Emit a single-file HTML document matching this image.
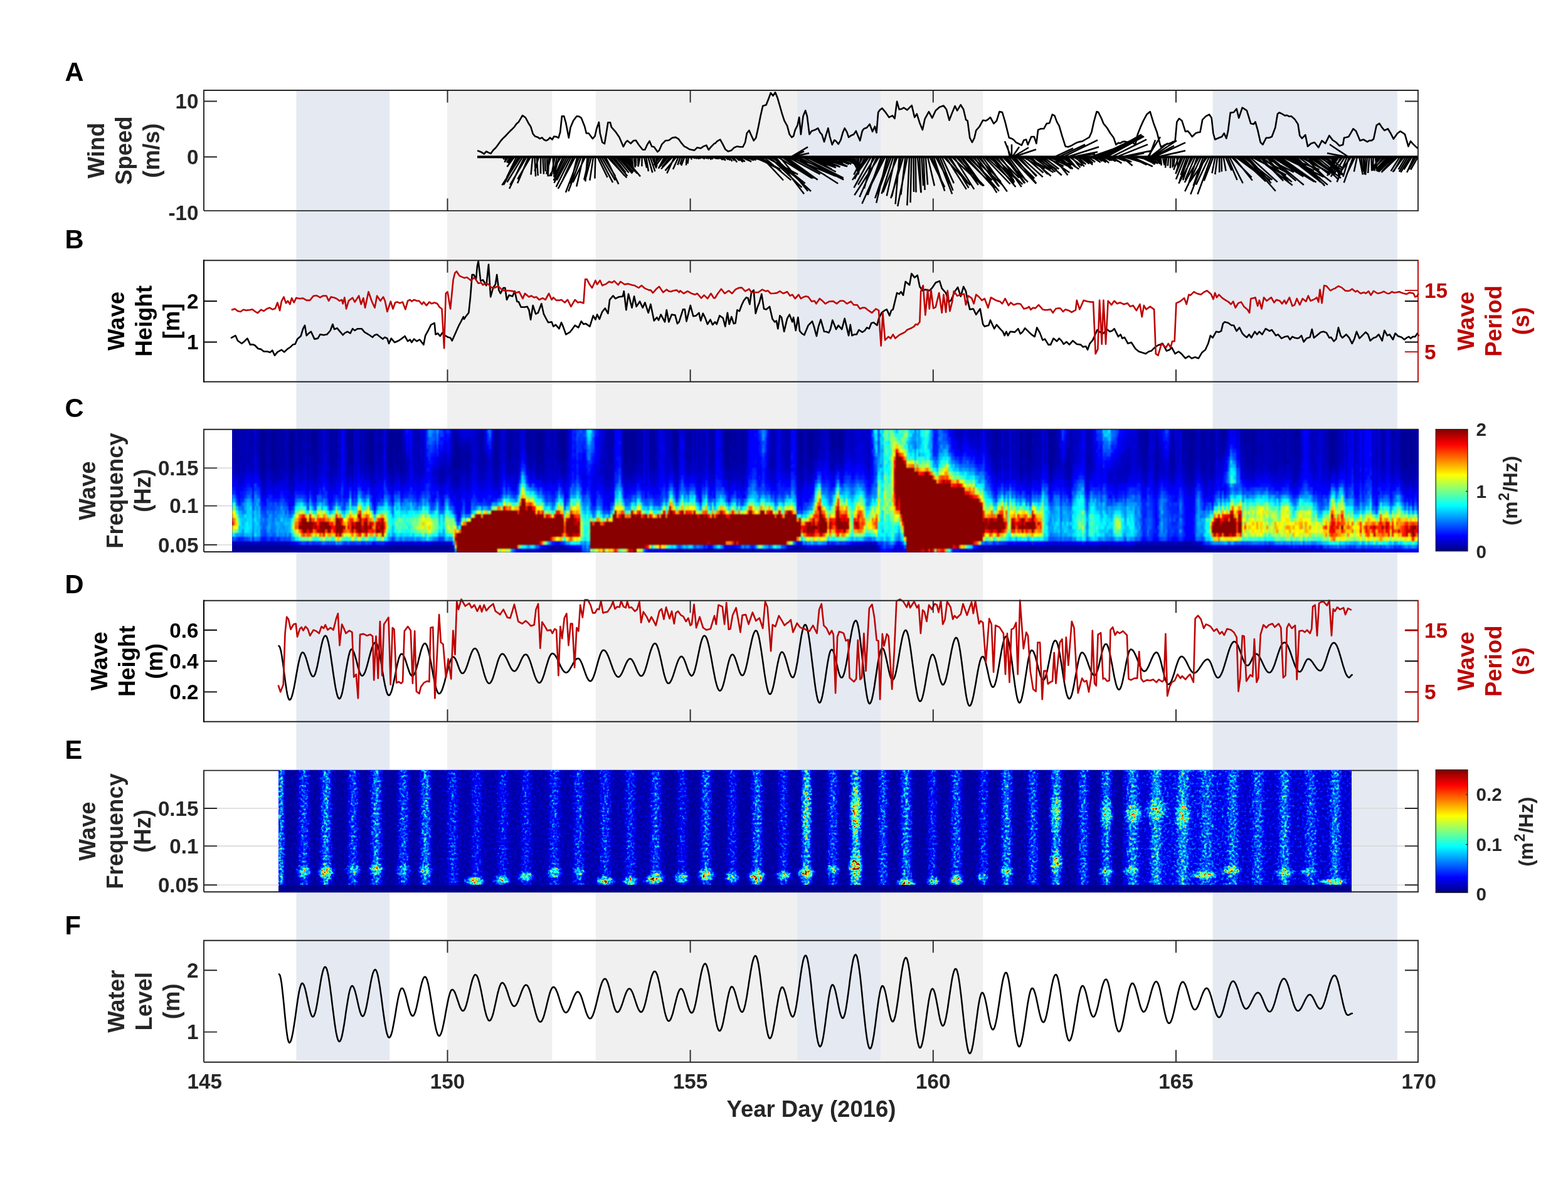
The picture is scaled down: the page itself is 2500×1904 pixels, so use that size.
<!DOCTYPE html><html><head><meta charset="utf-8"><title>Figure</title><style>
html,body{margin:0;padding:0;background:#fff}body{width:2500px;height:1904px;position:relative;overflow:hidden}
svg{position:absolute;left:0;top:0}
.hm{position:absolute;overflow:hidden;white-space:nowrap}.hm i{float:left;width:3px;height:100%;background:linear-gradient(var(--g))}.hm i:nth-child(22n+3),.hm i:nth-child(22n+7),.hm i:nth-child(22n+12),.hm i:nth-child(22n+16),.hm i:nth-child(22n+21){width:4px}
</style></head><body>
<svg width="2500" height="1904" viewBox="0 0 2500 1904">
<rect x="472.4" y="144" width="148.8" height="1546.8" fill="#e5e9f2"/>
<rect x="713.0" y="144" width="167.4" height="1546.8" fill="#f0f0f0"/>
<rect x="949.8" y="144" width="321.0" height="1546.8" fill="#f0f0f0"/>
<rect x="1270.8" y="144" width="133.2" height="1546.8" fill="#e5e9f2"/>
<rect x="1404.0" y="144" width="163.2" height="1546.8" fill="#f0f0f0"/>
<rect x="1933.5" y="144" width="294.3" height="1546.8" fill="#e5e9f2"/>
<g fill="none" stroke-width="1.9"><path d="M325.0 880.0V684.8H2260.9" stroke="#262626"/><path d="M325.0 880.0H2260.9" stroke="#262626"/><path d="M2260.9 683.8V881.0" stroke="#262626"/></g>
</svg>
<div class="hm" style="left:370px;top:685px;width:1892px;height:196px;background:#00009a"><div style="width:1900px;height:196px;filter:blur(.9px)"><i style="--g:#00a 0 12.2px,#00b 0 18.4px,#00a 0 24.5px,#00b 0 36.8px,#00a 0 42.9px,#00b 0 61.2px,#00c 0 73.5px,#00e 0 85.8px,#00f 0 91.9px,#02f 0 98px,#03f 0 104.1px,#08f 0 110.2px,#0af 0 116.4px,#1fe 0 122.5px,#5fa 0 128.6px,#ff0 0 134.8px,#fc0 0 140.9px,#f50 0 147px,#f10 0 153.1px,#fd0 0 159.2px,#bf4 0 165.4px,#1fe 0 171.5px,#05f 0 177.6px,#00b 0 183.8px,#009 0"></i><i style="--g:#00a 0 12.2px,#009 0 18.4px,#00a 0 55.1px,#00b 0 73.5px,#00d 0 79.6px,#00e 0 85.8px,#00f 0 91.9px,#01f 0 98px,#02f 0 104.1px,#06f 0 110.2px,#0af 0 116.4px,#3fc 0 122.5px,#7f8 0 128.6px,#ff0 0 140.9px,#f90 0 153.1px,#ff0 0 159.2px,#8f7 0 165.4px,#0cf 0 171.5px,#05f 0 177.6px,#00b 0 183.8px,#009 0"></i><i style="--g:#00a 0 55.1px,#00b 0 61.2px,#00a 0 67.4px,#00b 0 73.5px,#00c 0 79.6px,#00d 0 91.9px,#00e 0 98px,#00f 0 104.1px,#01f 0 110.2px,#03f 0 116.4px,#05f 0 122.5px,#0bf 0 128.6px,#0ff 0 134.8px,#8f7 0 140.9px,#cf3 0 147px,#fe0 0 153.1px,#ff0 0 159.2px,#6f9 0 165.4px,#09f 0 171.5px,#03f 0 177.6px,#00b 0 183.8px,#009 0"></i><i style="--g:#00a 0 73.5px,#00c 0 85.8px,#00d 0 91.9px,#00e 0 98px,#00f 0 116.4px,#01f 0 122.5px,#06f 0 128.6px,#0af 0 134.8px,#0cf 0 140.9px,#0ff 0 147px,#3fc 0 153.1px,#0cf 0 159.2px,#0df 0 165.4px,#0af 0 171.5px,#01f 0 177.6px,#00b 0 183.8px,#009 0"></i><i style="--g:#00a 0 6.1px,#00b 0 42.9px,#00a 0 49px,#00b 0 61.2px,#00c 0 85.8px,#00d 0 91.9px,#00e 0 98px,#01f 0 110.2px,#03f 0 116.4px,#04f 0 122.5px,#07f 0 128.6px,#0af 0 134.8px,#0bf 0 140.9px,#0cf 0 147px,#0df 0 159.2px,#0cf 0 165.4px,#08f 0 171.5px,#02f 0 177.6px,#00b 0 183.8px,#009 0"></i><i style="--g:#00a 0 49px,#00b 0 55.1px,#00a 0 61.2px,#00b 0 73.5px,#00c 0 85.8px,#00e 0 91.9px,#00f 0 98px,#01f 0 110.2px,#02f 0 116.4px,#07f 0 122.5px,#05f 0 128.6px,#07f 0 134.8px,#0af 0 140.9px,#0cf 0 147px,#0af 0 153.1px,#0cf 0 159.2px,#08f 0 171.5px,#02f 0 177.6px,#00b 0 183.8px,#009 0"></i><i style="--g:#00a 0 6.1px,#00b 0 67.4px,#00c 0 73.5px,#00d 0 79.6px,#00e 0 85.8px,#00f 0 91.9px,#01f 0 98px,#02f 0 104.1px,#03f 0 110.2px,#07f 0 116.4px,#09f 0 122.5px,#0af 0 128.6px,#08f 0 134.8px,#0ef 0 140.9px,#0bf 0 147px,#0df 0 159.2px,#0ef 0 165.4px,#0bf 0 171.5px,#04f 0 177.6px,#00b 0 183.8px,#009 0"></i><i style="--g:#00b 0 24.5px,#00c 0 30.6px,#00b 0 55.1px,#00c 0 67.4px,#00d 0 73.5px,#00e 0 79.6px,#00f 0 85.8px,#01f 0 91.9px,#02f 0 98px,#04f 0 104.1px,#06f 0 110.2px,#0af 0 116.4px,#0cf 0 128.6px,#0df 0 134.8px,#0cf 0 140.9px,#0df 0 147px,#0ff 0 159.2px,#0ef 0 165.4px,#0af 0 171.5px,#04f 0 177.6px,#00b 0 183.8px,#009 0"></i><i style="--g:#00a 0 55.1px,#00b 0 67.4px,#00d 0 73.5px,#00e 0 79.6px,#00f 0 85.8px,#01f 0 91.9px,#03f 0 98px,#04f 0 104.1px,#07f 0 110.2px,#0af 0 116.4px,#0bf 0 122.5px,#0cf 0 134.8px,#0df 0 147px,#0cf 0 153.1px,#0df 0 165.4px,#0bf 0 171.5px,#05f 0 177.6px,#00b 0 183.8px,#009 0"></i><i style="--g:#00a 0 6.1px,#00b 0 18.4px,#00a 0 30.6px,#00b 0 61.2px,#00c 0 67.4px,#00d 0 73.5px,#00e 0 85.8px,#00f 0 91.9px,#03f 0 98px,#05f 0 110.2px,#08f 0 116.4px,#0af 0 122.5px,#0ef 0 128.6px,#0cf 0 134.8px,#0df 0 147px,#0ef 0 159.2px,#0cf 0 165.4px,#0bf 0 171.5px,#08f 0 177.6px,#00c 0 183.8px,#009 0"></i><i style="--g:#00a 0 24.5px,#00b 0 30.6px,#00a 0 49px,#00b 0 67.4px,#00c 0 73.5px,#00d 0 85.8px,#00e 0 91.9px,#00f 0 110.2px,#02f 0 116.4px,#05f 0 122.5px,#04f 0 128.6px,#08f 0 134.8px,#07f 0 140.9px,#09f 0 147px,#08f 0 165.4px,#06f 0 171.5px,#02f 0 177.6px,#00b 0 183.8px,#009 0"></i><i style="--g:#00d 0 12.2px,#00c 0 36.8px,#00d 0 67.4px,#00e 0 73.5px,#00f 0 85.8px,#04f 0 91.9px,#03f 0 98px,#06f 0 104.1px,#08f 0 122.5px,#0af 0 128.6px,#0cf 0 140.9px,#0ef 0 147px,#0cf 0 165.4px,#0ef 0 171.5px,#07f 0 177.6px,#00d 0 183.8px,#009 0"></i><i style="--g:#00a 0 6.1px,#00b 0 12.2px,#00a 0 36.8px,#00b 0 61.2px,#00c 0 73.5px,#00e 0 79.6px,#00f 0 85.8px,#01f 0 91.9px,#03f 0 98px,#04f 0 104.1px,#06f 0 110.2px,#09f 0 116.4px,#0bf 0 122.5px,#08f 0 128.6px,#09f 0 134.8px,#0af 0 147px,#0df 0 153.1px,#0bf 0 159.2px,#0af 0 171.5px,#06f 0 177.6px,#00c 0 183.8px,#009 0"></i><i style="--g:#00a 0 42.9px,#00b 0 61.2px,#00c 0 73.5px,#00d 0 79.6px,#00f 0 91.9px,#02f 0 98px,#03f 0 104.1px,#05f 0 110.2px,#09f 0 116.4px,#06f 0 122.5px,#0bf 0 128.6px,#0cf 0 140.9px,#0bf 0 147px,#0af 0 153.1px,#0bf 0 159.2px,#0cf 0 165.4px,#0bf 0 171.5px,#06f 0 177.6px,#00b 0 183.8px,#009 0"></i><i style="--g:#009 0 67.4px,#00a 0 79.6px,#00b 0 85.8px,#00c 0 91.9px,#00e 0 104.1px,#00f 0 116.4px,#02f 0 122.5px,#03f 0 128.6px,#04f 0 134.8px,#07f 0 140.9px,#06f 0 153.1px,#08f 0 159.2px,#05f 0 171.5px,#01f 0 177.6px,#00b 0 183.8px,#009 0"></i><i style="--g:#009 0 67.4px,#00a 0 79.6px,#00b 0 91.9px,#00c 0 104.1px,#00d 0 110.2px,#00f 0 116.4px,#01f 0 122.5px,#02f 0 128.6px,#04f 0 134.8px,#05f 0 140.9px,#08f 0 147px,#06f 0 153.1px,#05f 0 165.4px,#04f 0 171.5px,#01f 0 177.6px,#00b 0 183.8px,#009 0"></i><i style="--g:#009 0 61.2px,#00a 0 79.6px,#00b 0 85.8px,#00c 0 98px,#00d 0 104.1px,#00e 0 110.2px,#00f 0 122.5px,#03f 0 134.8px,#04f 0 140.9px,#05f 0 153.1px,#06f 0 159.2px,#04f 0 165.4px,#03f 0 171.5px,#01f 0 177.6px,#00b 0 183.8px,#009 0"></i><i style="--g:#00a 0 18.4px,#00b 0 67.4px,#00c 0 79.6px,#00d 0 91.9px,#00e 0 98px,#00f 0 110.2px,#04f 0 128.6px,#08f 0 134.8px,#05f 0 140.9px,#08f 0 147px,#07f 0 153.1px,#09f 0 165.4px,#06f 0 171.5px,#03f 0 177.6px,#00b 0 183.8px,#009 0"></i><i style="--g:#00b 0 6.1px,#00a 0 42.9px,#00b 0 55.1px,#00a 0 61.2px,#00b 0 67.4px,#00c 0 79.6px,#00d 0 91.9px,#00e 0 98px,#00f 0 104.1px,#02f 0 116.4px,#04f 0 122.5px,#05f 0 128.6px,#06f 0 134.8px,#09f 0 147px,#0af 0 153.1px,#0bf 0 159.2px,#09f 0 165.4px,#07f 0 171.5px,#04f 0 177.6px,#00b 0 183.8px,#009 0"></i><i style="--g:#009 0 61.2px,#00a 0 73.5px,#00b 0 79.6px,#00c 0 85.8px,#00d 0 91.9px,#00e 0 98px,#00f 0 104.1px,#02f 0 116.4px,#05f 0 122.5px,#04f 0 128.6px,#07f 0 134.8px,#09f 0 140.9px,#08f 0 153.1px,#07f 0 159.2px,#06f 0 165.4px,#07f 0 171.5px,#01f 0 177.6px,#00b 0 183.8px,#009 0"></i><i style="--g:#009 0 67.4px,#00a 0 73.5px,#00b 0 85.8px,#00c 0 91.9px,#00d 0 104.1px,#00f 0 110.2px,#01f 0 116.4px,#03f 0 122.5px,#04f 0 128.6px,#05f 0 134.8px,#06f 0 147px,#07f 0 165.4px,#05f 0 171.5px,#02f 0 177.6px,#00b 0 183.8px,#009 0"></i><i style="--g:#009 0 61.2px,#00a 0 79.6px,#00b 0 85.8px,#00d 0 91.9px,#00e 0 98px,#00f 0 110.2px,#02f 0 116.4px,#06f 0 122.5px,#05f 0 128.6px,#08f 0 134.8px,#07f 0 140.9px,#0af 0 153.1px,#08f 0 165.4px,#06f 0 171.5px,#04f 0 177.6px,#00b 0 183.8px,#009 0"></i><i style="--g:#00a 0 67.4px,#00b 0 79.6px,#00c 0 85.8px,#00d 0 91.9px,#00e 0 98px,#00d 0 104.1px,#00f 0 110.2px,#01f 0 116.4px,#03f 0 122.5px,#06f 0 134.8px,#08f 0 147px,#0bf 0 153.1px,#0af 0 159.2px,#0bf 0 165.4px,#0af 0 171.5px,#02f 0 177.6px,#00b 0 183.8px,#009 0"></i><i style="--g:#009 0 6.1px,#00a 0 18.4px,#009 0 24.5px,#00a 0 30.6px,#009 0 42.9px,#00a 0 73.5px,#00b 0 79.6px,#00c 0 85.8px,#00d 0 91.9px,#00e 0 104.1px,#00f 0 110.2px,#02f 0 116.4px,#04f 0 122.5px,#05f 0 128.6px,#07f 0 134.8px,#09f 0 140.9px,#08f 0 147px,#0af 0 159.2px,#08f 0 165.4px,#07f 0 171.5px,#02f 0 177.6px,#00c 0 183.8px,#009 0"></i><i style="--g:#00a 0 12.2px,#009 0 18.4px,#00a 0 61.2px,#00b 0 79.6px,#00d 0 91.9px,#00f 0 98px,#01f 0 104.1px,#02f 0 110.2px,#04f 0 116.4px,#06f 0 122.5px,#09f 0 128.6px,#08f 0 134.8px,#0af 0 140.9px,#0df 0 147px,#09f 0 159.2px,#0af 0 165.4px,#08f 0 171.5px,#05f 0 177.6px,#00c 0 183.8px,#009 0"></i><i style="--g:#009 0 6.1px,#00a 0 18.4px,#009 0 24.5px,#00a 0 30.6px,#009 0 36.8px,#00a 0 42.9px,#009 0 49px,#00a 0 67.4px,#00b 0 79.6px,#00d 0 91.9px,#00e 0 98px,#00f 0 104.1px,#01f 0 110.2px,#04f 0 122.5px,#06f 0 128.6px,#0af 0 134.8px,#09f 0 147px,#0af 0 153.1px,#08f 0 159.2px,#09f 0 171.5px,#04f 0 177.6px,#00c 0 183.8px,#009 0"></i><i style="--g:#00b 0 73.5px,#00d 0 91.9px,#00e 0 98px,#00f 0 110.2px,#01f 0 116.4px,#04f 0 122.5px,#06f 0 128.6px,#04f 0 134.8px,#08f 0 140.9px,#0bf 0 147px,#0cf 0 153.1px,#0af 0 159.2px,#09f 0 165.4px,#06f 0 171.5px,#04f 0 177.6px,#00b 0 183.8px,#009 0"></i><i style="--g:#00b 0 24.5px,#00a 0 30.6px,#00b 0 36.8px,#00a 0 42.9px,#00b 0 67.4px,#00c 0 79.6px,#00d 0 91.9px,#00e 0 98px,#00f 0 110.2px,#01f 0 116.4px,#02f 0 122.5px,#05f 0 128.6px,#08f 0 134.8px,#09f 0 147px,#0bf 0 153.1px,#0af 0 171.5px,#05f 0 177.6px,#00c 0 183.8px,#009 0"></i><i style="--g:#009 0 61.2px,#00a 0 79.6px,#00b 0 91.9px,#00c 0 98px,#00d 0 110.2px,#00e 0 122.5px,#00f 0 128.6px,#03f 0 134.8px,#06f 0 140.9px,#0af 0 147px,#0bf 0 165.4px,#06f 0 171.5px,#04f 0 177.6px,#00d 0 183.8px,#009 0"></i><i style="--g:#009 0 67.4px,#00a 0 79.6px,#00b 0 91.9px,#00c 0 104.1px,#00e 0 116.4px,#00f 0 122.5px,#02f 0 128.6px,#05f 0 134.8px,#08f 0 140.9px,#0ff 0 147px,#4fb 0 153.1px,#6f9 0 159.2px,#2fd 0 165.4px,#0cf 0 171.5px,#09f 0 177.6px,#00d 0 183.8px,#009 0"></i><i style="--g:#009 0 67.4px,#00a 0 73.5px,#00b 0 91.9px,#00c 0 98px,#00d 0 104.1px,#00e 0 116.4px,#00f 0 122.5px,#04f 0 128.6px,#07f 0 134.8px,#0ff 0 140.9px,#7f8 0 147px,#af5 0 153.1px,#ff0 0 159.2px,#7f8 0 165.4px,#1fe 0 171.5px,#09f 0 177.6px,#00e 0 183.8px,#00a 0 189.9px,#009 0"></i><i style="--g:#00b 0 18.4px,#00a 0 24.5px,#00b 0 61.2px,#00c 0 73.5px,#00d 0 79.6px,#00e 0 91.9px,#00f 0 98px,#02f 0 104.1px,#03f 0 110.2px,#06f 0 116.4px,#09f 0 122.5px,#0ff 0 128.6px,#6f9 0 134.8px,#df2 0 140.9px,#fb0 0 147px,#f70 0 153.1px,#f40 0 159.2px,#fd0 0 165.4px,#af5 0 171.5px,#0ef 0 177.6px,#00f 0 183.8px,#00a 0 189.9px,#009 0"></i><i style="--g:#00a 0 55.1px,#00b 0 67.4px,#00c 0 79.6px,#00d 0 85.8px,#00e 0 91.9px,#00f 0 98px,#01f 0 104.1px,#04f 0 110.2px,#07f 0 116.4px,#0cf 0 122.5px,#0ff 0 128.6px,#6f9 0 134.8px,#ff0 0 140.9px,#fa0 0 147px,#f70 0 159.2px,#ff0 0 165.4px,#7f8 0 171.5px,#0ef 0 177.6px,#00f 0 183.8px,#00a 0 189.9px,#009 0"></i><i style="--g:#009 0 12.2px,#00a 0 18.4px,#009 0 24.5px,#00a 0 30.6px,#009 0 42.9px,#00a 0 55.1px,#00b 0 73.5px,#00c 0 85.8px,#00e 0 98px,#01f 0 104.1px,#03f 0 110.2px,#08f 0 116.4px,#0df 0 122.5px,#2fd 0 128.6px,#df2 0 134.8px,#f70 0 140.9px,#f30 0 147px,#d00 0 153.1px,#800 0 159.2px,#f70 0 165.4px,#df2 0 171.5px,#4fb 0 177.6px,#02f 0 183.8px,#00a 0 189.9px,#009 0"></i><i style="--g:#00a 0 61.2px,#00b 0 73.5px,#00c 0 79.6px,#00d 0 85.8px,#00e 0 91.9px,#00f 0 98px,#01f 0 104.1px,#04f 0 110.2px,#08f 0 116.4px,#0ff 0 122.5px,#4fb 0 128.6px,#cf3 0 134.8px,#f20 0 140.9px,#a00 0 147px,#800 0 159.2px,#f00 0 165.4px,#f60 0 171.5px,#6f9 0 177.6px,#04f 0 183.8px,#00a 0 189.9px,#009 0"></i><i style="--g:#00b 0 6.1px,#00a 0 18.4px,#00b 0 30.6px,#00a 0 42.9px,#00b 0 61.2px,#00c 0 79.6px,#00e 0 91.9px,#00f 0 98px,#01f 0 104.1px,#03f 0 110.2px,#05f 0 116.4px,#0af 0 122.5px,#3fc 0 128.6px,#cf3 0 134.8px,#f00 0 140.9px,#900 0 147px,#800 0 165.4px,#f30 0 171.5px,#7f8 0 177.6px,#04f 0 183.8px,#00b 0 189.9px,#009 0"></i><i style="--g:#00b 0 42.9px,#00c 0 49px,#00b 0 55.1px,#00c 0 67.4px,#00d 0 79.6px,#00e 0 91.9px,#00f 0 104.1px,#02f 0 110.2px,#04f 0 116.4px,#08f 0 122.5px,#0ff 0 128.6px,#3fc 0 134.8px,#f90 0 140.9px,#900 0 147px,#800 0 165.4px,#f80 0 171.5px,#7f8 0 177.6px,#03f 0 183.8px,#00a 0 189.9px,#009 0"></i><i style="--g:#009 0 24.5px,#00a 0 30.6px,#009 0 36.8px,#00a 0 73.5px,#00b 0 79.6px,#00c 0 98px,#00e 0 104.1px,#00f 0 116.4px,#04f 0 128.6px,#0ef 0 134.8px,#df2 0 140.9px,#fb0 0 147px,#800 0 159.2px,#f00 0 165.4px,#f40 0 171.5px,#6f9 0 177.6px,#02f 0 183.8px,#00a 0 189.9px,#009 0"></i><i style="--g:#00b 0 6.1px,#00a 0 24.5px,#00b 0 30.6px,#00a 0 42.9px,#00b 0 61.2px,#00c 0 79.6px,#00d 0 85.8px,#00f 0 98px,#02f 0 104.1px,#04f 0 110.2px,#09f 0 116.4px,#0bf 0 122.5px,#2fd 0 128.6px,#bf4 0 134.8px,#f10 0 140.9px,#800 0 165.4px,#f50 0 171.5px,#cf3 0 177.6px,#05f 0 183.8px,#00b 0 189.9px,#009 0"></i><i style="--g:#009 0 30.6px,#00a 0 36.8px,#009 0 42.9px,#00a 0 67.4px,#00b 0 79.6px,#00d 0 85.8px,#00c 0 91.9px,#00e 0 98px,#00f 0 104.1px,#01f 0 110.2px,#02f 0 116.4px,#06f 0 122.5px,#0cf 0 128.6px,#6f9 0 134.8px,#fe0 0 140.9px,#f40 0 147px,#800 0 159.2px,#c00 0 165.4px,#fb0 0 171.5px,#5fa 0 177.6px,#03f 0 183.8px,#00b 0 189.9px,#009 0"></i><i style="--g:#009 0 36.8px,#00a 0 73.5px,#00b 0 79.6px,#00c 0 85.8px,#00d 0 98px,#00e 0 104.1px,#00f 0 110.2px,#01f 0 116.4px,#03f 0 122.5px,#06f 0 128.6px,#0ef 0 134.8px,#cf3 0 140.9px,#f40 0 147px,#b00 0 153.1px,#d00 0 159.2px,#f80 0 165.4px,#ef1 0 171.5px,#2fd 0 177.6px,#02f 0 183.8px,#00a 0 189.9px,#009 0"></i><i style="--g:#009 0 55.1px,#00a 0 73.5px,#00b 0 85.8px,#00c 0 91.9px,#00d 0 104.1px,#00e 0 110.2px,#00f 0 116.4px,#03f 0 122.5px,#04f 0 128.6px,#0df 0 134.8px,#7f8 0 140.9px,#fd0 0 147px,#d00 0 153.1px,#800 0 159.2px,#f30 0 165.4px,#fa0 0 171.5px,#0ff 0 177.6px,#03f 0 183.8px,#00a 0 189.9px,#009 0"></i><i style="--g:#00a 0 55.1px,#00b 0 73.5px,#00c 0 79.6px,#00d 0 91.9px,#00f 0 104.1px,#05f 0 110.2px,#06f 0 116.4px,#09f 0 122.5px,#2fd 0 128.6px,#cf3 0 134.8px,#f90 0 140.9px,#f30 0 153.1px,#f00 0 159.2px,#b00 0 165.4px,#fe0 0 171.5px,#2fd 0 177.6px,#03f 0 183.8px,#00a 0 189.9px,#009 0"></i><i style="--g:#00b 0 61.2px,#00c 0 73.5px,#00e 0 79.6px,#00d 0 85.8px,#00f 0 91.9px,#01f 0 98px,#03f 0 104.1px,#06f 0 116.4px,#0df 0 122.5px,#5fa 0 128.6px,#df2 0 134.8px,#fd0 0 140.9px,#f10 0 147px,#a00 0 153.1px,#900 0 159.2px,#b00 0 165.4px,#f40 0 171.5px,#8f7 0 177.6px,#03f 0 183.8px,#00b 0 189.9px,#009 0"></i><i style="--g:#00b 0 18.4px,#00a 0 24.5px,#00b 0 55.1px,#00c 0 73.5px,#00d 0 79.6px,#00e 0 91.9px,#00f 0 104.1px,#03f 0 110.2px,#04f 0 116.4px,#09f 0 122.5px,#0bf 0 128.6px,#9f6 0 134.8px,#cf3 0 140.9px,#f20 0 147px,#800 0 159.2px,#900 0 165.4px,#fa0 0 171.5px,#7f8 0 177.6px,#06f 0 183.8px,#00c 0 189.9px,#009 0"></i><i style="--g:#00d 0 30.6px,#00c 0 36.8px,#00d 0 55.1px,#00e 0 73.5px,#00f 0 85.8px,#01f 0 91.9px,#04f 0 98px,#02f 0 104.1px,#03f 0 110.2px,#08f 0 116.4px,#0af 0 122.5px,#0ff 0 128.6px,#ff0 0 134.8px,#f70 0 140.9px,#f10 0 147px,#800 0 165.4px,#e00 0 171.5px,#ef1 0 177.6px,#07f 0 183.8px,#00c 0 189.9px,#009 0"></i><i style="--g:#00b 0 36.8px,#00c 0 73.5px,#00d 0 79.6px,#00e 0 85.8px,#00f 0 98px,#03f 0 110.2px,#06f 0 116.4px,#07f 0 122.5px,#0ff 0 128.6px,#5fa 0 134.8px,#fb0 0 140.9px,#f70 0 147px,#800 0 159.2px,#f40 0 165.4px,#fe0 0 171.5px,#4fb 0 177.6px,#05f 0 183.8px,#00b 0 189.9px,#009 0"></i><i style="--g:#00b 0 55.1px,#00c 0 79.6px,#00d 0 85.8px,#00e 0 91.9px,#00f 0 110.2px,#01f 0 116.4px,#03f 0 122.5px,#07f 0 128.6px,#0ff 0 134.8px,#7f8 0 140.9px,#f60 0 147px,#a00 0 153.1px,#800 0 165.4px,#f90 0 171.5px,#6f9 0 177.6px,#04f 0 183.8px,#00c 0 189.9px,#009 0"></i><i style="--g:#00a 0 61.2px,#00b 0 67.4px,#00a 0 73.5px,#00b 0 79.6px,#00c 0 91.9px,#00d 0 104.1px,#00f 0 122.5px,#02f 0 128.6px,#09f 0 134.8px,#6f9 0 140.9px,#fa0 0 147px,#f30 0 153.1px,#800 0 159.2px,#b00 0 165.4px,#f80 0 171.5px,#8f7 0 177.6px,#05f 0 183.8px,#00c 0 189.9px,#009 0"></i><i style="--g:#009 0 18.4px,#00a 0 24.5px,#009 0 55.1px,#00a 0 73.5px,#00b 0 85.8px,#00c 0 91.9px,#00d 0 98px,#00e 0 104.1px,#00f 0 116.4px,#03f 0 122.5px,#04f 0 128.6px,#0df 0 134.8px,#cf3 0 140.9px,#fe0 0 147px,#f00 0 159.2px,#f70 0 165.4px,#fc0 0 171.5px,#0ff 0 177.6px,#04f 0 183.8px,#00b 0 189.9px,#009 0"></i><i style="--g:#00a 0 61.2px,#00b 0 73.5px,#00c 0 85.8px,#00d 0 98px,#00f 0 104.1px,#01f 0 110.2px,#02f 0 116.4px,#04f 0 122.5px,#0af 0 128.6px,#2fd 0 134.8px,#9f6 0 140.9px,#fa0 0 147px,#f80 0 153.1px,#f00 0 165.4px,#fc0 0 171.5px,#4fb 0 177.6px,#04f 0 183.8px,#00b 0 189.9px,#009 0"></i><i style="--g:#009 0 42.9px,#00a 0 67.4px,#00b 0 73.5px,#00c 0 85.8px,#00e 0 98px,#00f 0 104.1px,#03f 0 110.2px,#06f 0 116.4px,#0bf 0 122.5px,#6f9 0 128.6px,#fd0 0 134.8px,#f10 0 140.9px,#800 0 165.4px,#b00 0 171.5px,#ef1 0 177.6px,#0af 0 183.8px,#00c 0 189.9px,#009 0"></i><i style="--g:#00c 0 6.1px,#00b 0 12.2px,#00c 0 24.5px,#00b 0 30.6px,#00c 0 36.8px,#00b 0 42.9px,#00c 0 55.1px,#00b 0 61.2px,#00d 0 67.4px,#00c 0 73.5px,#00d 0 79.6px,#00e 0 91.9px,#00f 0 104.1px,#01f 0 110.2px,#03f 0 116.4px,#06f 0 122.5px,#0cf 0 128.6px,#7f8 0 134.8px,#fc0 0 140.9px,#800 0 165.4px,#f40 0 171.5px,#fb0 0 177.6px,#07f 0 183.8px,#00d 0 189.9px,#009 0"></i><i style="--g:#00b 0 18.4px,#00c 0 24.5px,#00b 0 30.6px,#00c 0 36.8px,#00b 0 49px,#00c 0 67.4px,#00d 0 85.8px,#00e 0 91.9px,#00f 0 98px,#01f 0 110.2px,#02f 0 116.4px,#05f 0 122.5px,#0bf 0 128.6px,#5fa 0 134.8px,#f80 0 140.9px,#c00 0 147px,#800 0 171.5px,#cf3 0 177.6px,#09f 0 183.8px,#00c 0 189.9px,#009 0"></i><i style="--g:#00f 0 18.4px,#00e 0 24.5px,#00f 0 79.6px,#01f 0 85.8px,#02f 0 91.9px,#04f 0 104.1px,#03f 0 110.2px,#04f 0 116.4px,#07f 0 122.5px,#05f 0 128.6px,#0cf 0 134.8px,#6f9 0 140.9px,#f00 0 147px,#f20 0 153.1px,#800 0 165.4px,#f70 0 171.5px,#5fa 0 177.6px,#06f 0 183.8px,#00b 0 189.9px,#009 0"></i><i style="--g:#00d 0 49px,#00e 0 55.1px,#00d 0 61.2px,#00e 0 67.4px,#00d 0 73.5px,#00e 0 79.6px,#00f 0 110.2px,#02f 0 122.5px,#04f 0 128.6px,#0af 0 134.8px,#0ef 0 140.9px,#ff0 0 147px,#fa0 0 153.1px,#b00 0 159.2px,#f40 0 165.4px,#ef1 0 171.5px,#4fb 0 177.6px,#03f 0 183.8px,#00b 0 189.9px,#009 0"></i><i style="--g:#00b 0 12.2px,#00a 0 24.5px,#00b 0 49px,#00a 0 55.1px,#00b 0 73.5px,#00c 0 79.6px,#00d 0 85.8px,#00e 0 91.9px,#00f 0 104.1px,#01f 0 110.2px,#02f 0 116.4px,#07f 0 122.5px,#0af 0 128.6px,#1fe 0 134.8px,#af5 0 140.9px,#ff0 0 147px,#fc0 0 153.1px,#fb0 0 159.2px,#f70 0 165.4px,#bf4 0 171.5px,#1fe 0 177.6px,#03f 0 183.8px,#00b 0 189.9px,#009 0"></i><i style="--g:#009 0 55.1px,#00a 0 73.5px,#00b 0 85.8px,#00d 0 91.9px,#00e 0 98px,#00f 0 110.2px,#04f 0 116.4px,#07f 0 122.5px,#0bf 0 128.6px,#2fd 0 134.8px,#cf3 0 140.9px,#f80 0 147px,#f30 0 153.1px,#d00 0 159.2px,#f80 0 165.4px,#ff0 0 171.5px,#4fb 0 177.6px,#06f 0 183.8px,#00b 0 189.9px,#009 0"></i><i style="--g:#009 0 55.1px,#00a 0 67.4px,#00b 0 73.5px,#00d 0 79.6px,#00e 0 85.8px,#00f 0 91.9px,#02f 0 98px,#06f 0 104.1px,#09f 0 110.2px,#0ff 0 116.4px,#3fc 0 128.6px,#ff0 0 134.8px,#f90 0 140.9px,#f20 0 147px,#f30 0 153.1px,#f40 0 159.2px,#f30 0 165.4px,#fe0 0 171.5px,#3fc 0 177.6px,#03f 0 183.8px,#00a 0 189.9px,#009 0"></i><i style="--g:#009 0 55.1px,#00a 0 73.5px,#00b 0 79.6px,#00c 0 85.8px,#00d 0 91.9px,#00e 0 98px,#00f 0 110.2px,#02f 0 116.4px,#05f 0 122.5px,#0cf 0 128.6px,#7f8 0 134.8px,#fd0 0 140.9px,#f20 0 147px,#b00 0 153.1px,#800 0 159.2px,#b00 0 165.4px,#f70 0 171.5px,#df2 0 177.6px,#03f 0 183.8px,#00b 0 189.9px,#009 0"></i><i style="--g:#00c 0 36.8px,#00b 0 42.9px,#00d 0 49px,#00c 0 61.2px,#00d 0 73.5px,#00e 0 79.6px,#00f 0 98px,#02f 0 104.1px,#03f 0 110.2px,#05f 0 116.4px,#06f 0 122.5px,#0ef 0 128.6px,#2fd 0 134.8px,#df2 0 140.9px,#fd0 0 147px,#f00 0 153.1px,#c00 0 159.2px,#f50 0 165.4px,#ff0 0 171.5px,#7f8 0 177.6px,#03f 0 183.8px,#00a 0 189.9px,#009 0"></i><i style="--g:#00b 0 42.9px,#00c 0 49px,#00b 0 55.1px,#00c 0 73.5px,#00d 0 85.8px,#00e 0 91.9px,#00f 0 104.1px,#01f 0 110.2px,#03f 0 116.4px,#06f 0 122.5px,#0df 0 128.6px,#6f9 0 134.8px,#ff0 0 140.9px,#f90 0 147px,#800 0 159.2px,#c00 0 165.4px,#f80 0 171.5px,#3fc 0 177.6px,#04f 0 183.8px,#00a 0 189.9px,#009 0"></i><i style="--g:#00c 0 55.1px,#00d 0 67.4px,#00e 0 73.5px,#00f 0 85.8px,#01f 0 91.9px,#04f 0 98px,#07f 0 104.1px,#0bf 0 110.2px,#0df 0 116.4px,#6f9 0 122.5px,#ef1 0 128.6px,#f70 0 134.8px,#900 0 140.9px,#f40 0 147px,#800 0 165.4px,#f40 0 171.5px,#df2 0 177.6px,#04f 0 183.8px,#00b 0 189.9px,#009 0"></i><i style="--g:#00a 0 49px,#00b 0 67.4px,#00c 0 73.5px,#00d 0 79.6px,#00f 0 91.9px,#03f 0 98px,#07f 0 104.1px,#09f 0 110.2px,#1fe 0 116.4px,#7f8 0 122.5px,#fd0 0 128.6px,#f10 0 134.8px,#b00 0 140.9px,#800 0 165.4px,#f00 0 171.5px,#bf4 0 177.6px,#05f 0 183.8px,#00b 0 189.9px,#009 0"></i><i style="--g:#00b 0 24.5px,#00a 0 36.8px,#00b 0 61.2px,#00c 0 73.5px,#00e 0 85.8px,#00f 0 98px,#03f 0 104.1px,#04f 0 110.2px,#09f 0 116.4px,#0ff 0 122.5px,#3fc 0 128.6px,#9f6 0 134.8px,#fc0 0 140.9px,#f30 0 153.1px,#d00 0 159.2px,#a00 0 165.4px,#fe0 0 171.5px,#3fc 0 177.6px,#02f 0 183.8px,#00a 0 189.9px,#009 0"></i><i style="--g:#00a 0 61.2px,#00b 0 73.5px,#00c 0 79.6px,#00d 0 85.8px,#00e 0 91.9px,#00f 0 98px,#01f 0 104.1px,#03f 0 110.2px,#06f 0 116.4px,#0af 0 122.5px,#1fe 0 128.6px,#ef1 0 134.8px,#fa0 0 140.9px,#f00 0 147px,#800 0 159.2px,#b00 0 165.4px,#f70 0 171.5px,#4fb 0 177.6px,#03f 0 183.8px,#00b 0 189.9px,#009 0"></i><i style="--g:#00a 0 55.1px,#00b 0 67.4px,#00c 0 79.6px,#00e 0 85.8px,#00f 0 98px,#01f 0 104.1px,#06f 0 110.2px,#0af 0 116.4px,#0ff 0 122.5px,#5fa 0 128.6px,#fd0 0 134.8px,#f40 0 140.9px,#a00 0 147px,#800 0 165.4px,#f00 0 171.5px,#9f6 0 177.6px,#05f 0 183.8px,#00b 0 189.9px,#009 0"></i><i style="--g:#009 0 55.1px,#00a 0 67.4px,#00b 0 73.5px,#00c 0 79.6px,#00e 0 85.8px,#00f 0 91.9px,#02f 0 98px,#04f 0 104.1px,#08f 0 110.2px,#0ef 0 116.4px,#2fd 0 122.5px,#ef1 0 128.6px,#ff0 0 134.8px,#f70 0 140.9px,#f60 0 147px,#f40 0 153.1px,#c00 0 159.2px,#f10 0 165.4px,#cf3 0 171.5px,#4fb 0 177.6px,#03f 0 183.8px,#00a 0 189.9px,#009 0"></i><i style="--g:#009 0 55.1px,#00a 0 67.4px,#00b 0 79.6px,#00c 0 85.8px,#00d 0 91.9px,#00f 0 104.1px,#03f 0 116.4px,#08f 0 122.5px,#0af 0 128.6px,#bf4 0 134.8px,#ef1 0 140.9px,#f80 0 147px,#b00 0 153.1px,#800 0 159.2px,#f20 0 165.4px,#f90 0 171.5px,#1fe 0 177.6px,#04f 0 183.8px,#00a 0 189.9px,#009 0"></i><i style="--g:#009 0 61.2px,#00a 0 73.5px,#00b 0 85.8px,#00c 0 91.9px,#00d 0 104.1px,#00f 0 116.4px,#01f 0 122.5px,#04f 0 128.6px,#0df 0 134.8px,#8f7 0 140.9px,#fc0 0 147px,#f00 0 153.1px,#f60 0 159.2px,#f00 0 165.4px,#fa0 0 171.5px,#0ff 0 177.6px,#00f 0 183.8px,#00a 0 189.9px,#009 0"></i><i style="--g:#00a 0 6.1px,#00b 0 12.2px,#00a 0 30.6px,#00b 0 36.8px,#00a 0 67.4px,#00b 0 73.5px,#00c 0 79.6px,#00b 0 85.8px,#00d 0 98px,#00e 0 116.4px,#00f 0 128.6px,#02f 0 134.8px,#0bf 0 140.9px,#4fb 0 147px,#f90 0 159.2px,#f40 0 165.4px,#8f7 0 171.5px,#0cf 0 177.6px,#00f 0 183.8px,#00a 0 189.9px,#009 0"></i><i style="--g:#00b 0 12.2px,#00c 0 18.4px,#00b 0 42.9px,#00c 0 49px,#00b 0 55.1px,#00c 0 61.2px,#00d 0 85.8px,#00e 0 91.9px,#00f 0 110.2px,#01f 0 116.4px,#02f 0 122.5px,#06f 0 128.6px,#0cf 0 134.8px,#8f7 0 140.9px,#fa0 0 147px,#c00 0 153.1px,#800 0 165.4px,#f50 0 171.5px,#4fb 0 177.6px,#02f 0 183.8px,#00a 0 189.9px,#009 0"></i><i style="--g:#00a 0 49px,#00b 0 73.5px,#00c 0 79.6px,#00d 0 85.8px,#00e 0 91.9px,#00f 0 104.1px,#01f 0 116.4px,#06f 0 122.5px,#0cf 0 128.6px,#1fe 0 134.8px,#df2 0 140.9px,#f20 0 147px,#a00 0 153.1px,#e00 0 159.2px,#800 0 165.4px,#fd0 0 171.5px,#7f8 0 177.6px,#02f 0 183.8px,#00a 0 189.9px,#009 0"></i><i style="--g:#00a 0 6.1px,#00b 0 18.4px,#00a 0 30.6px,#00b 0 36.8px,#00a 0 42.9px,#00b 0 67.4px,#00c 0 79.6px,#00e 0 91.9px,#00f 0 98px,#01f 0 110.2px,#04f 0 116.4px,#05f 0 122.5px,#0df 0 128.6px,#2fd 0 134.8px,#fa0 0 140.9px,#f00 0 147px,#d00 0 153.1px,#800 0 159.2px,#d00 0 165.4px,#fa0 0 171.5px,#4fb 0 177.6px,#02f 0 183.8px,#00a 0 189.9px,#009 0"></i><i style="--g:#00a 0 6.1px,#00b 0 24.5px,#00a 0 30.6px,#00b 0 67.4px,#00c 0 73.5px,#00d 0 85.8px,#00f 0 110.2px,#03f 0 116.4px,#06f 0 122.5px,#0df 0 128.6px,#5fa 0 134.8px,#f90 0 140.9px,#900 0 147px,#800 0 171.5px,#df2 0 177.6px,#03f 0 183.8px,#00a 0 189.9px,#009 0"></i><i style="--g:#00e 0 36.8px,#00f 0 49px,#00d 0 55.1px,#00f 0 67.4px,#00e 0 73.5px,#00f 0 79.6px,#02f 0 85.8px,#03f 0 91.9px,#04f 0 98px,#03f 0 104.1px,#07f 0 110.2px,#09f 0 116.4px,#0cf 0 122.5px,#1fe 0 128.6px,#5fa 0 134.8px,#cf3 0 140.9px,#fb0 0 147px,#f30 0 153.1px,#f10 0 159.2px,#f60 0 165.4px,#ef1 0 171.5px,#0ff 0 177.6px,#01f 0 183.8px,#00a 0 189.9px,#009 0"></i><i style="--g:#00b 0 6.1px,#00a 0 12.2px,#00b 0 24.5px,#00a 0 42.9px,#00b 0 67.4px,#00c 0 73.5px,#00d 0 79.6px,#00e 0 85.8px,#00f 0 91.9px,#02f 0 98px,#04f 0 104.1px,#06f 0 110.2px,#09f 0 116.4px,#0ef 0 122.5px,#0ff 0 128.6px,#6f9 0 134.8px,#8f7 0 140.9px,#cf3 0 147px,#fc0 0 153.1px,#fd0 0 159.2px,#bf4 0 165.4px,#7f8 0 171.5px,#0ff 0 177.6px,#00f 0 183.8px,#00a 0 189.9px,#009 0"></i><i style="--g:#009 0 61.2px,#00a 0 73.5px,#00c 0 85.8px,#00e 0 98px,#01f 0 104.1px,#04f 0 110.2px,#05f 0 116.4px,#06f 0 122.5px,#0cf 0 128.6px,#0ff 0 134.8px,#1fe 0 140.9px,#2fd 0 147px,#3fc 0 153.1px,#5fa 0 159.2px,#1fe 0 165.4px,#0cf 0 171.5px,#08f 0 177.6px,#00d 0 183.8px,#009 0"></i><i style="--g:#009 0 61.2px,#00a 0 73.5px,#00b 0 85.8px,#00c 0 91.9px,#00e 0 98px,#00f 0 104.1px,#01f 0 110.2px,#02f 0 116.4px,#05f 0 122.5px,#09f 0 128.6px,#0bf 0 134.8px,#1fe 0 140.9px,#0ff 0 147px,#2fd 0 153.1px,#1fe 0 159.2px,#0ef 0 171.5px,#06f 0 177.6px,#00d 0 183.8px,#009 0"></i><i style="--g:#009 0 12.2px,#008 0 18.4px,#009 0 67.4px,#00a 0 79.6px,#00b 0 85.8px,#00c 0 98px,#00d 0 104.1px,#00f 0 116.4px,#01f 0 122.5px,#05f 0 134.8px,#09f 0 140.9px,#0ef 0 153.1px,#0bf 0 165.4px,#08f 0 171.5px,#03f 0 177.6px,#00c 0 183.8px,#00a 0 189.9px,#009 0"></i><i style="--g:#009 0 30.6px,#00a 0 36.8px,#009 0 42.9px,#00a 0 61.2px,#00b 0 73.5px,#00c 0 79.6px,#00d 0 85.8px,#00e 0 91.9px,#00f 0 98px,#02f 0 104.1px,#06f 0 116.4px,#0af 0 122.5px,#0ff 0 134.8px,#0ef 0 140.9px,#1fe 0 147px,#3fc 0 153.1px,#0ff 0 159.2px,#1fe 0 165.4px,#0af 0 171.5px,#06f 0 177.6px,#00d 0 183.8px,#009 0"></i><i style="--g:#009 0 55.1px,#00a 0 67.4px,#00b 0 73.5px,#00c 0 79.6px,#00d 0 85.8px,#00e 0 91.9px,#00f 0 98px,#02f 0 104.1px,#05f 0 110.2px,#07f 0 116.4px,#0bf 0 122.5px,#0af 0 128.6px,#1fe 0 140.9px,#3fc 0 147px,#7f8 0 153.1px,#5fa 0 159.2px,#1fe 0 165.4px,#0ef 0 171.5px,#0af 0 177.6px,#00d 0 183.8px,#009 0"></i><i style="--g:#009 0 36.8px,#00a 0 49px,#009 0 55.1px,#00a 0 67.4px,#00b 0 73.5px,#00c 0 79.6px,#00d 0 85.8px,#00f 0 98px,#04f 0 104.1px,#06f 0 110.2px,#09f 0 116.4px,#0df 0 122.5px,#0ef 0 128.6px,#1fe 0 134.8px,#2fd 0 140.9px,#9f6 0 147px,#3fc 0 153.1px,#5fa 0 165.4px,#0ef 0 171.5px,#08f 0 177.6px,#00d 0 183.8px,#009 0"></i><i style="--g:#009 0 67.4px,#00a 0 73.5px,#00b 0 85.8px,#00c 0 91.9px,#00e 0 98px,#00f 0 110.2px,#02f 0 116.4px,#04f 0 122.5px,#09f 0 128.6px,#0df 0 134.8px,#0ef 0 140.9px,#5fa 0 159.2px,#2fd 0 165.4px,#0cf 0 171.5px,#06f 0 177.6px,#00d 0 183.8px,#009 0"></i><i style="--g:#00b 0 30.6px,#00a 0 49px,#009 0 55.1px,#00a 0 73.5px,#00b 0 79.6px,#00c 0 91.9px,#00e 0 98px,#00f 0 104.1px,#01f 0 110.2px,#03f 0 116.4px,#08f 0 122.5px,#09f 0 128.6px,#0df 0 134.8px,#2fd 0 140.9px,#5fa 0 147px,#4fb 0 153.1px,#2fd 0 159.2px,#1fe 0 165.4px,#0df 0 171.5px,#0af 0 177.6px,#00d 0 183.8px,#009 0"></i><i style="--g:#00d 0 12.2px,#00c 0 18.4px,#00b 0 24.5px,#00a 0 30.6px,#00b 0 36.8px,#00a 0 73.5px,#00b 0 79.6px,#00c 0 85.8px,#00d 0 91.9px,#00f 0 98px,#01f 0 104.1px,#02f 0 110.2px,#07f 0 122.5px,#0bf 0 128.6px,#0df 0 134.8px,#2fd 0 140.9px,#1fe 0 147px,#4fb 0 153.1px,#5fa 0 159.2px,#1fe 0 165.4px,#0ef 0 171.5px,#08f 0 177.6px,#00c 0 183.8px,#009 0"></i><i style="--g:#01f 0 6.1px,#00f 0 24.5px,#00e 0 36.8px,#00d 0 42.9px,#00c 0 49px,#00b 0 67.4px,#00c 0 79.6px,#00d 0 85.8px,#00e 0 91.9px,#00f 0 98px,#01f 0 104.1px,#02f 0 110.2px,#07f 0 116.4px,#09f 0 128.6px,#0cf 0 134.8px,#0ff 0 140.9px,#5fa 0 147px,#1fe 0 153.1px,#5fa 0 159.2px,#0ff 0 165.4px,#0df 0 171.5px,#07f 0 177.6px,#00d 0 183.8px,#00a 0 189.9px,#009 0"></i><i style="--g:#00f 0 6.1px,#00e 0 24.5px,#00d 0 36.8px,#00c 0 49px,#00b 0 55.1px,#00c 0 73.5px,#00d 0 85.8px,#00e 0 91.9px,#00f 0 98px,#02f 0 104.1px,#04f 0 110.2px,#05f 0 116.4px,#09f 0 128.6px,#0ff 0 134.8px,#1fe 0 140.9px,#3fc 0 153.1px,#0ef 0 159.2px,#1fe 0 165.4px,#0df 0 171.5px,#08f 0 177.6px,#00d 0 183.8px,#009 0"></i><i style="--g:#00f 0 30.6px,#00e 0 36.8px,#00f 0 42.9px,#00e 0 61.2px,#00f 0 91.9px,#03f 0 98px,#02f 0 104.1px,#04f 0 110.2px,#07f 0 116.4px,#0cf 0 122.5px,#0df 0 128.6px,#0ef 0 134.8px,#0ff 0 140.9px,#6f9 0 147px,#3fc 0 159.2px,#4fb 0 165.4px,#1fe 0 171.5px,#08f 0 177.6px,#00d 0 183.8px,#009 0"></i><i style="--g:#00c 0 30.6px,#00b 0 42.9px,#00c 0 67.4px,#00d 0 85.8px,#00e 0 91.9px,#00f 0 98px,#01f 0 104.1px,#03f 0 110.2px,#04f 0 116.4px,#07f 0 122.5px,#0bf 0 128.6px,#0ff 0 134.8px,#2fd 0 140.9px,#4fb 0 147px,#9f6 0 153.1px,#4fb 0 165.4px,#0cf 0 171.5px,#07f 0 177.6px,#00d 0 183.8px,#009 0"></i><i style="--g:#00a 0 6.1px,#00b 0 12.2px,#00a 0 18.4px,#00b 0 67.4px,#00c 0 79.6px,#00e 0 85.8px,#00f 0 98px,#01f 0 104.1px,#02f 0 110.2px,#04f 0 116.4px,#08f 0 128.6px,#0ef 0 134.8px,#3fc 0 140.9px,#8f7 0 147px,#7f8 0 153.1px,#8f7 0 159.2px,#5fa 0 165.4px,#0ff 0 171.5px,#0af 0 177.6px,#00d 0 183.8px,#009 0"></i><i style="--g:#00b 0 49px,#00c 0 61.2px,#00b 0 67.4px,#00c 0 73.5px,#00d 0 91.9px,#00e 0 98px,#00f 0 110.2px,#01f 0 116.4px,#04f 0 122.5px,#07f 0 128.6px,#0df 0 134.8px,#3fc 0 140.9px,#4fb 0 147px,#7f8 0 153.1px,#bf4 0 159.2px,#7f8 0 165.4px,#2fd 0 171.5px,#07f 0 177.6px,#00d 0 183.8px,#009 0"></i><i style="--g:#00b 0 12.2px,#00a 0 18.4px,#00b 0 42.9px,#00a 0 55.1px,#00b 0 73.5px,#00c 0 85.8px,#00e 0 98px,#00f 0 104.1px,#01f 0 110.2px,#03f 0 116.4px,#06f 0 122.5px,#0bf 0 128.6px,#0ef 0 134.8px,#5fa 0 140.9px,#bf4 0 147px,#af5 0 153.1px,#cf3 0 159.2px,#7f8 0 165.4px,#0ff 0 171.5px,#08f 0 177.6px,#00d 0 183.8px,#009 0"></i><i style="--g:#00d 0 6.1px,#00c 0 55.1px,#00b 0 61.2px,#00c 0 79.6px,#00e 0 85.8px,#00f 0 98px,#01f 0 104.1px,#03f 0 110.2px,#05f 0 116.4px,#06f 0 122.5px,#09f 0 128.6px,#0ff 0 134.8px,#7f8 0 140.9px,#bf4 0 147px,#af5 0 153.1px,#cf3 0 159.2px,#9f6 0 165.4px,#1fe 0 171.5px,#09f 0 177.6px,#00d 0 183.8px,#009 0"></i><i style="--g:#00c 0 18.4px,#00b 0 24.5px,#00c 0 30.6px,#00b 0 73.5px,#00d 0 79.6px,#00e 0 91.9px,#00f 0 98px,#03f 0 104.1px,#05f 0 110.2px,#09f 0 116.4px,#0af 0 122.5px,#2fd 0 128.6px,#4fb 0 134.8px,#ef1 0 147px,#fc0 0 153.1px,#fe0 0 159.2px,#9f6 0 165.4px,#8f7 0 171.5px,#0bf 0 177.6px,#00d 0 183.8px,#00a 0 189.9px,#009 0"></i><i style="--g:#00f 0 24.5px,#00e 0 61.2px,#00d 0 67.4px,#00e 0 79.6px,#00f 0 85.8px,#01f 0 98px,#02f 0 104.1px,#03f 0 110.2px,#06f 0 116.4px,#07f 0 122.5px,#0df 0 128.6px,#3fc 0 140.9px,#cf3 0 147px,#bf4 0 153.1px,#8f7 0 159.2px,#af5 0 165.4px,#0ef 0 171.5px,#0af 0 177.6px,#00d 0 183.8px,#009 0"></i><i style="--g:#04f 0 12.2px,#03f 0 18.4px,#04f 0 24.5px,#03f 0 30.6px,#01f 0 36.8px,#02f 0 42.9px,#00f 0 61.2px,#01f 0 67.4px,#00f 0 85.8px,#03f 0 98px,#04f 0 104.1px,#05f 0 110.2px,#08f 0 116.4px,#0cf 0 122.5px,#0ff 0 128.6px,#4fb 0 134.8px,#af5 0 140.9px,#fe0 0 147px,#ff0 0 153.1px,#ef1 0 159.2px,#af5 0 165.4px,#5fa 0 171.5px,#0ff 0 177.6px,#00e 0 183.8px,#009 0"></i><i style="--g:#0af 0 6.1px,#09f 0 12.2px,#06f 0 24.5px,#03f 0 49px,#01f 0 55.1px,#00f 0 61.2px,#01f 0 67.4px,#00f 0 79.6px,#01f 0 85.8px,#02f 0 91.9px,#01f 0 98px,#03f 0 104.1px,#05f 0 110.2px,#03f 0 116.4px,#06f 0 122.5px,#0af 0 128.6px,#0cf 0 134.8px,#8f7 0 140.9px,#cf3 0 147px,#ff0 0 153.1px,#fc0 0 159.2px,#ef1 0 165.4px,#7f8 0 171.5px,#0bf 0 177.6px,#00e 0 183.8px,#009 0"></i><i style="--g:#09f 0 6.1px,#08f 0 12.2px,#06f 0 24.5px,#04f 0 36.8px,#01f 0 42.9px,#00f 0 49px,#01f 0 55.1px,#00f 0 61.2px,#00e 0 85.8px,#00f 0 110.2px,#02f 0 116.4px,#03f 0 122.5px,#04f 0 128.6px,#09f 0 134.8px,#0ff 0 140.9px,#af5 0 147px,#df2 0 153.1px,#cf3 0 159.2px,#bf4 0 165.4px,#3fc 0 171.5px,#0bf 0 177.6px,#00c 0 183.8px,#009 0"></i><i style="--g:#07f 0 6.1px,#05f 0 12.2px,#06f 0 18.4px,#04f 0 24.5px,#03f 0 30.6px,#02f 0 36.8px,#01f 0 42.9px,#00f 0 55.1px,#00e 0 61.2px,#00d 0 67.4px,#00c 0 73.5px,#00d 0 85.8px,#00e 0 91.9px,#00f 0 98px,#01f 0 104.1px,#00f 0 116.4px,#03f 0 122.5px,#05f 0 128.6px,#0bf 0 134.8px,#1fe 0 140.9px,#6f9 0 147px,#9f6 0 159.2px,#7f8 0 165.4px,#0ff 0 171.5px,#08f 0 177.6px,#00c 0 183.8px,#009 0"></i><i style="--g:#05f 0 6.1px,#04f 0 18.4px,#02f 0 24.5px,#01f 0 36.8px,#00e 0 49px,#00d 0 55.1px,#00c 0 61.2px,#00b 0 73.5px,#00c 0 85.8px,#00d 0 91.9px,#00e 0 98px,#00f 0 110.2px,#03f 0 116.4px,#05f 0 122.5px,#08f 0 128.6px,#1fe 0 134.8px,#3fc 0 140.9px,#6f9 0 147px,#5fa 0 153.1px,#7f8 0 159.2px,#5fa 0 165.4px,#2fd 0 171.5px,#07f 0 177.6px,#00c 0 183.8px,#009 0"></i><i style="--g:#0af 0 6.1px,#08f 0 12.2px,#07f 0 18.4px,#06f 0 24.5px,#04f 0 30.6px,#02f 0 42.9px,#00e 0 49px,#00d 0 61.2px,#00c 0 85.8px,#00e 0 91.9px,#00f 0 98px,#03f 0 110.2px,#06f 0 116.4px,#0bf 0 122.5px,#0df 0 128.6px,#1fe 0 140.9px,#7f8 0 147px,#8f7 0 153.1px,#6f9 0 159.2px,#3fc 0 165.4px,#0ff 0 171.5px,#07f 0 177.6px,#00c 0 183.8px,#009 0"></i><i style="--g:#04f 0 6.1px,#02f 0 18.4px,#01f 0 24.5px,#00f 0 30.6px,#00e 0 42.9px,#00d 0 49px,#00c 0 61.2px,#00b 0 85.8px,#00d 0 91.9px,#00e 0 104.1px,#01f 0 110.2px,#02f 0 116.4px,#03f 0 122.5px,#04f 0 128.6px,#07f 0 134.8px,#0bf 0 140.9px,#0cf 0 147px,#0df 0 153.1px,#0ff 0 159.2px,#0df 0 165.4px,#08f 0 171.5px,#03f 0 177.6px,#00b 0 183.8px,#009 0"></i><i style="--g:#04f 0 12.2px,#00f 0 18.4px,#02f 0 24.5px,#01f 0 30.6px,#00f 0 36.8px,#00d 0 49px,#00c 0 55.1px,#00b 0 61.2px,#00a 0 79.6px,#00b 0 91.9px,#00d 0 110.2px,#00f 0 116.4px,#01f 0 122.5px,#03f 0 128.6px,#06f 0 134.8px,#0ff 0 140.9px,#2fd 0 147px,#1fe 0 153.1px,#2fd 0 159.2px,#0ff 0 165.4px,#0bf 0 171.5px,#04f 0 177.6px,#00c 0 183.8px,#009 0"></i><i style="--g:#01f 0 6.1px,#02f 0 12.2px,#01f 0 18.4px,#00f 0 24.5px,#00d 0 30.6px,#00e 0 36.8px,#00c 0 42.9px,#00b 0 49px,#00c 0 55.1px,#00b 0 61.2px,#00a 0 73.5px,#00b 0 85.8px,#00c 0 91.9px,#00d 0 98px,#00e 0 104.1px,#01f 0 110.2px,#00f 0 116.4px,#01f 0 122.5px,#04f 0 128.6px,#07f 0 134.8px,#0af 0 140.9px,#0cf 0 147px,#0ef 0 153.1px,#0df 0 159.2px,#09f 0 171.5px,#04f 0 177.6px,#00b 0 183.8px,#009 0"></i><i style="--g:#01f 0 6.1px,#00f 0 18.4px,#00e 0 24.5px,#00d 0 36.8px,#00c 0 42.9px,#00b 0 79.6px,#00c 0 85.8px,#00e 0 91.9px,#00f 0 104.1px,#03f 0 110.2px,#07f 0 116.4px,#0af 0 122.5px,#0bf 0 128.6px,#0ff 0 134.8px,#5fa 0 140.9px,#7f8 0 147px,#8f7 0 153.1px,#4fb 0 165.4px,#0ef 0 171.5px,#0bf 0 177.6px,#00d 0 183.8px,#009 0"></i><i style="--g:#03f 0 6.1px,#01f 0 18.4px,#00f 0 36.8px,#00d 0 55.1px,#00c 0 67.4px,#00b 0 73.5px,#00d 0 85.8px,#00f 0 98px,#01f 0 104.1px,#04f 0 110.2px,#08f 0 116.4px,#0bf 0 122.5px,#0ff 0 128.6px,#2fd 0 134.8px,#6f9 0 140.9px,#af5 0 153.1px,#bf4 0 159.2px,#6f9 0 165.4px,#3fc 0 171.5px,#0bf 0 177.6px,#00d 0 183.8px,#009 0"></i><i style="--g:#02f 0 6.1px,#01f 0 12.2px,#00f 0 36.8px,#00d 0 49px,#00c 0 55.1px,#00b 0 73.5px,#00c 0 79.6px,#00d 0 85.8px,#00e 0 98px,#00f 0 110.2px,#04f 0 122.5px,#07f 0 128.6px,#0ff 0 134.8px,#2fd 0 140.9px,#8f7 0 153.1px,#df2 0 159.2px,#cf3 0 165.4px,#1fe 0 171.5px,#08f 0 177.6px,#00d 0 183.8px,#009 0"></i><i style="--g:#00d 0 6.1px,#00c 0 18.4px,#00b 0 49px,#00a 0 67.4px,#00b 0 91.9px,#00d 0 98px,#00e 0 104.1px,#00d 0 110.2px,#00f 0 116.4px,#02f 0 122.5px,#06f 0 128.6px,#0bf 0 134.8px,#1fe 0 140.9px,#7f8 0 153.1px,#8f7 0 159.2px,#af5 0 165.4px,#2fd 0 171.5px,#09f 0 177.6px,#00d 0 183.8px,#009 0"></i><i style="--g:#00a 0 42.9px,#009 0 67.4px,#00a 0 79.6px,#00b 0 91.9px,#00c 0 104.1px,#00e 0 110.2px,#00f 0 122.5px,#04f 0 134.8px,#0df 0 140.9px,#7f8 0 147px,#af5 0 153.1px,#cf3 0 159.2px,#fd0 0 165.4px,#ef1 0 171.5px,#7f8 0 177.6px,#0af 0 183.8px,#00e 0 189.9px,#00a 0"></i><i style="--g:#00a 0 6.1px,#009 0 61.2px,#00a 0 79.6px,#00b 0 91.9px,#00c 0 98px,#00d 0 104.1px,#00e 0 110.2px,#00f 0 128.6px,#02f 0 134.8px,#06f 0 140.9px,#09f 0 147px,#2fd 0 153.1px,#df2 0 159.2px,#f90 0 165.4px,#f20 0 171.5px,#b00 0 177.6px,#f60 0 183.8px,#df2 0 189.9px,#0af 0"></i><i style="--g:#00b 0 6.1px,#00a 0 24.5px,#009 0 61.2px,#00a 0 85.8px,#00b 0 91.9px,#00c 0 98px,#00d 0 122.5px,#00e 0 128.6px,#00d 0 134.8px,#00f 0 147px,#02f 0 153.1px,#0af 0 159.2px,#df2 0 165.4px,#800 0"></i><i style="--g:#00c 0 12.2px,#00b 0 24.5px,#00a 0 30.6px,#009 0 61.2px,#00a 0 73.5px,#00b 0 91.9px,#00d 0 104.1px,#00c 0 110.2px,#00d 0 116.4px,#00e 0 122.5px,#00f 0 140.9px,#02f 0 147px,#06f 0 153.1px,#0ff 0 159.2px,#f70 0 165.4px,#800 0"></i><i style="--g:#00d 0 12.2px,#00b 0 24.5px,#00a 0 42.9px,#009 0 49px,#00a 0 67.4px,#00b 0 73.5px,#00c 0 85.8px,#00d 0 98px,#00e 0 104.1px,#00f 0 110.2px,#01f 0 116.4px,#00f 0 122.5px,#01f 0 128.6px,#04f 0 134.8px,#08f 0 140.9px,#1fe 0 147px,#df2 0 153.1px,#800 0"></i><i style="--g:#00d 0 18.4px,#00b 0 24.5px,#00a 0 61.2px,#00b 0 73.5px,#00c 0 79.6px,#00d 0 91.9px,#00e 0 98px,#00f 0 110.2px,#02f 0 116.4px,#04f 0 122.5px,#06f 0 128.6px,#07f 0 134.8px,#0cf 0 140.9px,#bf4 0 147px,#f80 0 153.1px,#800 0"></i><i style="--g:#00d 0 12.2px,#00c 0 18.4px,#00b 0 24.5px,#00a 0 36.8px,#009 0 49px,#00a 0 55.1px,#009 0 61.2px,#00a 0 67.4px,#00b 0 79.6px,#00c 0 91.9px,#00d 0 98px,#00e 0 104.1px,#00f 0 110.2px,#00e 0 116.4px,#00f 0 128.6px,#01f 0 134.8px,#07f 0 140.9px,#0ff 0 147px,#f60 0 153.1px,#800 0"></i><i style="--g:#00d 0 12.2px,#00b 0 24.5px,#00a 0 42.9px,#009 0 49px,#00a 0 73.5px,#00b 0 85.8px,#00c 0 98px,#00d 0 110.2px,#00e 0 122.5px,#00f 0 128.6px,#01f 0 134.8px,#08f 0 140.9px,#ff0 0 147px,#800 0"></i><i style="--g:#00e 0 6.1px,#00d 0 12.2px,#00c 0 18.4px,#00b 0 30.6px,#00a 0 55.1px,#00b 0 61.2px,#00a 0 67.4px,#00b 0 79.6px,#00c 0 91.9px,#00d 0 98px,#00e 0 104.1px,#00f 0 110.2px,#00e 0 116.4px,#00f 0 128.6px,#02f 0 134.8px,#07f 0 140.9px,#af5 0 147px,#800 0"></i><i style="--g:#00c 0 6.1px,#00d 0 12.2px,#00c 0 24.5px,#00b 0 30.6px,#00c 0 36.8px,#00b 0 55.1px,#00c 0 67.4px,#00d 0 85.8px,#00e 0 91.9px,#00f 0 110.2px,#03f 0 116.4px,#05f 0 122.5px,#08f 0 128.6px,#0bf 0 134.8px,#cf3 0 140.9px,#800 0"></i><i style="--g:#00d 0 6.1px,#00c 0 55.1px,#00d 0 61.2px,#00e 0 79.6px,#00f 0 98px,#01f 0 104.1px,#03f 0 116.4px,#05f 0 122.5px,#06f 0 128.6px,#0ef 0 134.8px,#8f7 0 140.9px,#800 0"></i><i style="--g:#00c 0 12.2px,#00b 0 18.4px,#00c 0 73.5px,#00d 0 85.8px,#00e 0 91.9px,#00f 0 104.1px,#01f 0 110.2px,#03f 0 122.5px,#07f 0 128.6px,#2fd 0 134.8px,#d00 0 140.9px,#800 0"></i><i style="--g:#00b 0 61.2px,#00c 0 79.6px,#00d 0 91.9px,#00f 0 110.2px,#01f 0 116.4px,#04f 0 122.5px,#0bf 0 128.6px,#ff0 0 134.8px,#800 0"></i><i style="--g:#00a 0 67.4px,#00b 0 79.6px,#00c 0 91.9px,#00d 0 98px,#00e 0 104.1px,#00f 0 116.4px,#03f 0 122.5px,#0ef 0 128.6px,#fe0 0 134.8px,#800 0"></i><i style="--g:#00a 0 18.4px,#009 0 24.5px,#00a 0 36.8px,#009 0 42.9px,#00a 0 67.4px,#00b 0 79.6px,#00c 0 85.8px,#00d 0 98px,#00f 0 116.4px,#03f 0 122.5px,#06f 0 128.6px,#1fe 0 134.8px,#f90 0 140.9px,#800 0"></i><i style="--g:#00b 0 36.8px,#00a 0 55.1px,#00b 0 79.6px,#00c 0 85.8px,#00d 0 91.9px,#00e 0 98px,#00f 0 110.2px,#03f 0 116.4px,#04f 0 122.5px,#0bf 0 128.6px,#ef1 0 134.8px,#800 0"></i><i style="--g:#00f 0 6.1px,#00e 0 24.5px,#00d 0 30.6px,#00c 0 36.8px,#00b 0 42.9px,#00a 0 49px,#00b 0 67.4px,#00c 0 79.6px,#00d 0 91.9px,#00e 0 98px,#00f 0 110.2px,#01f 0 116.4px,#03f 0 122.5px,#0af 0 128.6px,#fc0 0 134.8px,#800 0"></i><i style="--g:#06f 0 6.1px,#03f 0 18.4px,#02f 0 24.5px,#00f 0 30.6px,#00e 0 36.8px,#00d 0 42.9px,#00c 0 49px,#00b 0 55.1px,#00c 0 73.5px,#00d 0 85.8px,#00e 0 91.9px,#00f 0 104.1px,#01f 0 116.4px,#02f 0 122.5px,#07f 0 128.6px,#4fb 0 134.8px,#900 0 140.9px,#800 0"></i><i style="--g:#07f 0 12.2px,#04f 0 18.4px,#02f 0 30.6px,#00f 0 36.8px,#00e 0 49px,#00c 0 61.2px,#00d 0 79.6px,#00e 0 91.9px,#00f 0 104.1px,#02f 0 110.2px,#01f 0 122.5px,#06f 0 128.6px,#bf4 0 134.8px,#800 0"></i><i style="--g:#01f 0 6.1px,#00f 0 18.4px,#00d 0 36.8px,#00b 0 61.2px,#00c 0 73.5px,#00d 0 79.6px,#00c 0 85.8px,#00d 0 91.9px,#00e 0 98px,#00f 0 116.4px,#08f 0 122.5px,#4fb 0 128.6px,#800 0"></i><i style="--g:#00b 0 18.4px,#00a 0 67.4px,#00b 0 79.6px,#00c 0 91.9px,#00d 0 98px,#00f 0 110.2px,#02f 0 116.4px,#0af 0 122.5px,#8f7 0 128.6px,#800 0"></i><i style="--g:#009 0 55.1px,#00a 0 79.6px,#00b 0 85.8px,#00c 0 91.9px,#00d 0 98px,#00e 0 104.1px,#00f 0 110.2px,#02f 0 116.4px,#08f 0 122.5px,#9f6 0 128.6px,#800 0"></i><i style="--g:#00a 0 67.4px,#00b 0 85.8px,#00c 0 91.9px,#00d 0 98px,#00e 0 104.1px,#00f 0 110.2px,#06f 0 116.4px,#0cf 0 122.5px,#f60 0 128.6px,#800 0 189.9px,#ff0 0"></i><i style="--g:#00b 0 36.8px,#00c 0 49px,#00b 0 61.2px,#00c 0 79.6px,#00d 0 91.9px,#00f 0 104.1px,#01f 0 110.2px,#06f 0 116.4px,#0ff 0 122.5px,#f90 0 128.6px,#800 0 189.9px,#6f9 0"></i><i style="--g:#00c 0 6.1px,#00d 0 12.2px,#00c 0 55.1px,#00e 0 61.2px,#00d 0 73.5px,#00e 0 85.8px,#00f 0 91.9px,#01f 0 104.1px,#05f 0 110.2px,#0af 0 116.4px,#0df 0 122.5px,#af5 0 128.6px,#800 0 189.9px,#fe0 0"></i><i style="--g:#00d 0 6.1px,#00c 0 12.2px,#00d 0 18.4px,#00c 0 36.8px,#00d 0 42.9px,#00c 0 49px,#00d 0 67.4px,#00f 0 79.6px,#01f 0 85.8px,#02f 0 91.9px,#05f 0 98px,#06f 0 104.1px,#0af 0 110.2px,#5fa 0 116.4px,#ff0 0 122.5px,#e00 0 128.6px,#800 0 189.9px,#fe0 0"></i><i style="--g:#00a 0 6.1px,#00b 0 12.2px,#00a 0 36.8px,#00b 0 42.9px,#00a 0 55.1px,#00b 0 73.5px,#00d 0 85.8px,#00f 0 98px,#02f 0 104.1px,#07f 0 110.2px,#0ff 0 116.4px,#5fa 0 122.5px,#f60 0 128.6px,#800 0 189.9px,#9f6 0"></i><i style="--g:#00a 0 12.2px,#00b 0 18.4px,#00a 0 49px,#00b 0 67.4px,#00c 0 73.5px,#00d 0 79.6px,#00f 0 85.8px,#01f 0 91.9px,#04f 0 98px,#05f 0 104.1px,#0bf 0 110.2px,#0ff 0 116.4px,#cf3 0 122.5px,#f90 0 128.6px,#800 0 189.9px,#df2 0"></i><i style="--g:#009 0 6.1px,#00a 0 12.2px,#009 0 49px,#00a 0 61.2px,#00b 0 67.4px,#00a 0 73.5px,#00c 0 79.6px,#00d 0 85.8px,#00e 0 91.9px,#01f 0 98px,#04f 0 104.1px,#07f 0 110.2px,#0cf 0 116.4px,#af5 0 122.5px,#f50 0 128.6px,#800 0 189.9px,#6f9 0"></i><i style="--g:#00a 0 42.9px,#00b 0 55.1px,#00a 0 61.2px,#00b 0 73.5px,#00d 0 85.8px,#00e 0 91.9px,#00f 0 98px,#02f 0 104.1px,#05f 0 110.2px,#0bf 0 116.4px,#3fc 0 122.5px,#ef1 0 128.6px,#800 0 189.9px,#07f 0"></i><i style="--g:#00a 0 12.2px,#00b 0 67.4px,#00c 0 85.8px,#00e 0 98px,#01f 0 104.1px,#03f 0 110.2px,#09f 0 116.4px,#1fe 0 122.5px,#fc0 0 128.6px,#800 0 189.9px,#04f 0"></i><i style="--g:#00b 0 6.1px,#00a 0 18.4px,#00b 0 24.5px,#00a 0 42.9px,#00b 0 73.5px,#00c 0 85.8px,#00d 0 91.9px,#00f 0 98px,#01f 0 104.1px,#05f 0 110.2px,#07f 0 116.4px,#5fa 0 122.5px,#fb0 0 128.6px,#800 0 189.9px,#00f 0"></i><i style="--g:#00a 0 49px,#00b 0 61.2px,#00c 0 73.5px,#00d 0 79.6px,#00f 0 85.8px,#02f 0 91.9px,#04f 0 104.1px,#0bf 0 110.2px,#0ff 0 116.4px,#7f8 0 122.5px,#fb0 0 128.6px,#f20 0 134.8px,#800 0 183.8px,#f90 0 189.9px,#00f 0"></i><i style="--g:#00c 0 49px,#00d 0 61.2px,#00f 0 67.4px,#01f 0 73.5px,#02f 0 79.6px,#05f 0 85.8px,#0bf 0 91.9px,#0df 0 98px,#1fe 0 104.1px,#8f7 0 110.2px,#fc0 0 116.4px,#f60 0 122.5px,#800 0 183.8px,#5fa 0 189.9px,#00d 0"></i><i style="--g:#00c 0 6.1px,#00d 0 30.6px,#00e 0 36.8px,#00f 0 49px,#01f 0 55.1px,#02f 0 61.2px,#04f 0 67.4px,#09f 0 73.5px,#0df 0 85.8px,#4fb 0 91.9px,#df2 0 98px,#ef1 0 104.1px,#fb0 0 110.2px,#800 0 183.8px,#2fd 0 189.9px,#00c 0"></i><i style="--g:#00c 0 30.6px,#00d 0 36.8px,#00e 0 49px,#00f 0 55.1px,#02f 0 61.2px,#03f 0 67.4px,#05f 0 73.5px,#08f 0 79.6px,#0cf 0 85.8px,#0ff 0 91.9px,#6f9 0 98px,#af5 0 104.1px,#fd0 0 110.2px,#c00 0 116.4px,#800 0 183.8px,#0ff 0 189.9px,#00c 0"></i><i style="--g:#00a 0 6.1px,#009 0 12.2px,#00a 0 36.8px,#00b 0 49px,#00c 0 55.1px,#00d 0 61.2px,#00e 0 67.4px,#00f 0 73.5px,#03f 0 85.8px,#09f 0 91.9px,#0bf 0 98px,#1fe 0 104.1px,#8f7 0 110.2px,#ff0 0 116.4px,#f70 0 122.5px,#f10 0 128.6px,#800 0 183.8px,#0df 0 189.9px,#00b 0"></i><i style="--g:#009 0 36.8px,#00a 0 55.1px,#00b 0 61.2px,#00c 0 67.4px,#00d 0 73.5px,#00f 0 79.6px,#01f 0 85.8px,#04f 0 91.9px,#0af 0 98px,#1fe 0 104.1px,#7f8 0 110.2px,#fc0 0 116.4px,#f40 0 122.5px,#800 0 183.8px,#09f 0 189.9px,#00b 0"></i><i style="--g:#009 0 6.1px,#00a 0 18.4px,#009 0 24.5px,#00a 0 30.6px,#009 0 36.8px,#00a 0 61.2px,#00b 0 67.4px,#00c 0 73.5px,#00d 0 79.6px,#00f 0 85.8px,#01f 0 91.9px,#08f 0 98px,#0df 0 104.1px,#4fb 0 110.2px,#cf3 0 116.4px,#f20 0 122.5px,#800 0 183.8px,#0df 0 189.9px,#00b 0"></i><i style="--g:#00a 0 49px,#00b 0 61.2px,#00c 0 67.4px,#00d 0 73.5px,#00e 0 79.6px,#00f 0 85.8px,#06f 0 91.9px,#07f 0 98px,#0ff 0 104.1px,#5fa 0 110.2px,#ff0 0 116.4px,#f90 0 122.5px,#f00 0 128.6px,#800 0 183.8px,#0ff 0 189.9px,#00b 0"></i><i style="--g:#00a 0 49px,#00b 0 67.4px,#00c 0 73.5px,#00e 0 79.6px,#00f 0 85.8px,#02f 0 91.9px,#05f 0 98px,#0bf 0 104.1px,#1fe 0 110.2px,#5fa 0 116.4px,#ff0 0 122.5px,#f10 0 128.6px,#c00 0 134.8px,#800 0 183.8px,#0bf 0 189.9px,#00b 0"></i><i style="--g:#009 0 49px,#00a 0 61.2px,#00b 0 73.5px,#00c 0 79.6px,#00e 0 85.8px,#00f 0 91.9px,#04f 0 98px,#08f 0 104.1px,#0df 0 110.2px,#1fe 0 116.4px,#6f9 0 122.5px,#fe0 0 128.6px,#fd0 0 134.8px,#b00 0 140.9px,#800 0 183.8px,#06f 0 189.9px,#00b 0"></i><i style="--g:#009 0 55.1px,#00a 0 73.5px,#00b 0 79.6px,#00d 0 85.8px,#00f 0 91.9px,#01f 0 98px,#04f 0 104.1px,#09f 0 110.2px,#0ff 0 116.4px,#5fa 0 122.5px,#ff0 0 128.6px,#d00 0 134.8px,#800 0 183.8px,#06f 0 189.9px,#00b 0"></i><i style="--g:#009 0 42.9px,#00a 0 49px,#009 0 55.1px,#00a 0 67.4px,#00b 0 73.5px,#00c 0 79.6px,#00f 0 91.9px,#04f 0 98px,#07f 0 104.1px,#09f 0 110.2px,#0ff 0 116.4px,#6f9 0 122.5px,#ff0 0 128.6px,#f70 0 134.8px,#800 0 177.6px,#f00 0 183.8px,#01f 0 189.9px,#00a 0"></i><i style="--g:#009 0 55.1px,#00a 0 73.5px,#00c 0 85.8px,#00e 0 91.9px,#01f 0 98px,#02f 0 104.1px,#07f 0 110.2px,#0af 0 116.4px,#5fa 0 122.5px,#af5 0 128.6px,#f10 0 134.8px,#800 0 177.6px,#fa0 0 183.8px,#00f 0 189.9px,#00a 0"></i><i style="--g:#00a 0 36.8px,#00b 0 42.9px,#00a 0 49px,#00b 0 55.1px,#00a 0 61.2px,#00b 0 73.5px,#00c 0 85.8px,#00e 0 91.9px,#00f 0 98px,#02f 0 104.1px,#04f 0 110.2px,#06f 0 116.4px,#0bf 0 122.5px,#0df 0 128.6px,#7f8 0 134.8px,#fa0 0 140.9px,#800 0 177.6px,#af5 0 183.8px,#00f 0 189.9px,#009 0"></i><i style="--g:#00a 0 6.1px,#00b 0 30.6px,#00a 0 36.8px,#00b 0 73.5px,#00c 0 79.6px,#00d 0 91.9px,#00f 0 98px,#01f 0 104.1px,#02f 0 110.2px,#03f 0 116.4px,#06f 0 122.5px,#0ef 0 128.6px,#bf4 0 134.8px,#d00 0 140.9px,#800 0 177.6px,#6f9 0 183.8px,#00d 0 189.9px,#009 0"></i><i style="--g:#00b 0 18.4px,#00c 0 24.5px,#00b 0 49px,#00c 0 55.1px,#00b 0 61.2px,#00c 0 79.6px,#00d 0 85.8px,#00f 0 98px,#02f 0 104.1px,#04f 0 110.2px,#05f 0 116.4px,#0af 0 122.5px,#1fe 0 128.6px,#7f8 0 134.8px,#f10 0 140.9px,#800 0 177.6px,#0af 0 183.8px,#00b 0 189.9px,#009 0"></i><i style="--g:#00b 0 61.2px,#00c 0 73.5px,#00d 0 79.6px,#00e 0 85.8px,#00f 0 98px,#01f 0 104.1px,#02f 0 110.2px,#04f 0 116.4px,#08f 0 122.5px,#0bf 0 128.6px,#6f9 0 134.8px,#f70 0 140.9px,#800 0 171.5px,#d00 0 177.6px,#05f 0 183.8px,#00a 0 189.9px,#009 0"></i><i style="--g:#00a 0 42.9px,#00b 0 49px,#00a 0 61.2px,#00b 0 79.6px,#00c 0 85.8px,#00d 0 91.9px,#00e 0 98px,#00f 0 104.1px,#02f 0 116.4px,#05f 0 122.5px,#07f 0 128.6px,#0ff 0 134.8px,#ff0 0 140.9px,#800 0 171.5px,#f60 0 177.6px,#01f 0 183.8px,#00a 0 189.9px,#009 0"></i><i style="--g:#00b 0 12.2px,#00c 0 18.4px,#00b 0 24.5px,#00c 0 36.8px,#00b 0 42.9px,#00c 0 67.4px,#00d 0 79.6px,#00c 0 85.8px,#00f 0 98px,#01f 0 110.2px,#04f 0 116.4px,#06f 0 122.5px,#0cf 0 128.6px,#6f9 0 134.8px,#f00 0 140.9px,#800 0 171.5px,#f90 0 177.6px,#01f 0 183.8px,#00a 0 189.9px,#009 0"></i><i style="--g:#00a 0 49px,#00b 0 73.5px,#00c 0 79.6px,#00e 0 91.9px,#00f 0 98px,#03f 0 104.1px,#05f 0 110.2px,#09f 0 116.4px,#0ff 0 122.5px,#5fa 0 128.6px,#f10 0 134.8px,#800 0 171.5px,#ff0 0 177.6px,#00e 0 183.8px,#00a 0 189.9px,#009 0"></i><i style="--g:#00a 0 6.1px,#009 0 12.2px,#00a 0 18.4px,#009 0 24.5px,#00a 0 55.1px,#00b 0 61.2px,#00c 0 73.5px,#00d 0 79.6px,#00f 0 85.8px,#02f 0 91.9px,#05f 0 98px,#09f 0 104.1px,#0df 0 110.2px,#0ff 0 116.4px,#cf3 0 122.5px,#fd0 0 128.6px,#f10 0 134.8px,#800 0 171.5px,#fd0 0 177.6px,#00f 0 183.8px,#00a 0 189.9px,#009 0"></i><i style="--g:#009 0 55.1px,#00a 0 67.4px,#00b 0 73.5px,#00c 0 79.6px,#00e 0 85.8px,#00f 0 91.9px,#03f 0 104.1px,#07f 0 110.2px,#0ff 0 116.4px,#1fe 0 122.5px,#bf4 0 128.6px,#fb0 0 134.8px,#800 0 171.5px,#fa0 0 177.6px,#02f 0 183.8px,#00a 0 189.9px,#009 0"></i><i style="--g:#009 0 55.1px,#00a 0 73.5px,#00c 0 79.6px,#00d 0 85.8px,#00e 0 91.9px,#00f 0 98px,#02f 0 104.1px,#07f 0 110.2px,#0bf 0 116.4px,#5fa 0 122.5px,#af5 0 128.6px,#fb0 0 134.8px,#f10 0 140.9px,#800 0 165.4px,#f40 0 171.5px,#9f6 0 177.6px,#03f 0 183.8px,#00a 0 189.9px,#009 0"></i><i style="--g:#009 0 49px,#00a 0 73.5px,#00b 0 79.6px,#00c 0 91.9px,#00d 0 98px,#00e 0 104.1px,#00f 0 116.4px,#01f 0 122.5px,#05f 0 128.6px,#0df 0 134.8px,#7f8 0 140.9px,#fc0 0 147px,#f70 0 153.1px,#f40 0 165.4px,#fa0 0 171.5px,#1fe 0 177.6px,#05f 0 183.8px,#00b 0 189.9px,#009 0"></i><i style="--g:#00a 0 49px,#00b 0 67.4px,#00c 0 79.6px,#00d 0 85.8px,#00e 0 91.9px,#00f 0 110.2px,#03f 0 116.4px,#06f 0 122.5px,#0df 0 128.6px,#9f6 0 134.8px,#fc0 0 140.9px,#c00 0 147px,#800 0 165.4px,#e00 0 171.5px,#fe0 0 177.6px,#0af 0 183.8px,#00d 0 189.9px,#009 0"></i><i style="--g:#00d 0 61.2px,#00c 0 67.4px,#00d 0 73.5px,#00f 0 79.6px,#00e 0 85.8px,#00f 0 91.9px,#01f 0 98px,#02f 0 104.1px,#03f 0 110.2px,#06f 0 116.4px,#0af 0 122.5px,#0df 0 128.6px,#9f6 0 134.8px,#fa0 0 140.9px,#800 0 171.5px,#f90 0 177.6px,#0af 0 183.8px,#00d 0 189.9px,#009 0"></i><i style="--g:#00e 0 12.2px,#00d 0 18.4px,#00e 0 24.5px,#00d 0 30.6px,#00e 0 61.2px,#00f 0 79.6px,#01f 0 85.8px,#02f 0 91.9px,#07f 0 98px,#08f 0 104.1px,#0bf 0 110.2px,#3fc 0 116.4px,#7f8 0 122.5px,#fb0 0 128.6px,#f20 0 134.8px,#800 0 171.5px,#f40 0 177.6px,#1fe 0 183.8px,#00e 0 189.9px,#009 0"></i><i style="--g:#02f 0 18.4px,#01f 0 24.5px,#02f 0 30.6px,#01f 0 36.8px,#02f 0 42.9px,#01f 0 49px,#00f 0 55.1px,#01f 0 61.2px,#00f 0 67.4px,#02f 0 85.8px,#06f 0 91.9px,#05f 0 98px,#06f 0 104.1px,#0af 0 110.2px,#3fc 0 122.5px,#ef1 0 128.6px,#f80 0 134.8px,#900 0 140.9px,#800 0 165.4px,#b00 0 171.5px,#fb0 0 177.6px,#0ff 0 183.8px,#00f 0 189.9px,#009 0"></i><i style="--g:#02f 0 6.1px,#01f 0 12.2px,#02f 0 18.4px,#01f 0 30.6px,#00f 0 36.8px,#01f 0 42.9px,#00f 0 79.6px,#02f 0 85.8px,#03f 0 91.9px,#05f 0 98px,#07f 0 104.1px,#0af 0 110.2px,#2fd 0 116.4px,#4fb 0 122.5px,#ef1 0 128.6px,#fb0 0 134.8px,#f20 0 140.9px,#a00 0 147px,#b00 0 153.1px,#800 0 165.4px,#c00 0 171.5px,#ff0 0 177.6px,#0ff 0 183.8px,#00f 0 189.9px,#00a 0"></i><i style="--g:#04f 0 6.1px,#05f 0 18.4px,#04f 0 24.5px,#03f 0 30.6px,#04f 0 36.8px,#03f 0 49px,#01f 0 55.1px,#03f 0 61.2px,#02f 0 73.5px,#04f 0 79.6px,#05f 0 85.8px,#07f 0 91.9px,#09f 0 98px,#0cf 0 104.1px,#1fe 0 110.2px,#3fc 0 116.4px,#df2 0 122.5px,#fd0 0 128.6px,#f80 0 134.8px,#f40 0 140.9px,#f00 0 147px,#b00 0 153.1px,#800 0 165.4px,#b00 0 171.5px,#fd0 0 177.6px,#0ef 0 183.8px,#00f 0 189.9px,#00a 0"></i><i style="--g:#04f 0 12.2px,#02f 0 24.5px,#03f 0 30.6px,#02f 0 36.8px,#00f 0 73.5px,#01f 0 79.6px,#02f 0 85.8px,#05f 0 91.9px,#07f 0 98px,#0af 0 104.1px,#0bf 0 110.2px,#5fa 0 116.4px,#9f6 0 122.5px,#fd0 0 128.6px,#fc0 0 134.8px,#f30 0 140.9px,#e00 0 147px,#800 0 153.1px,#b00 0 159.2px,#900 0 165.4px,#e00 0 171.5px,#ff0 0 177.6px,#0ff 0 183.8px,#00f 0 189.9px,#00a 0"></i><i style="--g:#06f 0 6.1px,#03f 0 12.2px,#04f 0 18.4px,#03f 0 24.5px,#02f 0 30.6px,#03f 0 36.8px,#01f 0 49px,#00f 0 79.6px,#01f 0 91.9px,#05f 0 98px,#03f 0 104.1px,#08f 0 110.2px,#0bf 0 116.4px,#0cf 0 122.5px,#1fe 0 128.6px,#5fa 0 134.8px,#6f9 0 140.9px,#8f7 0 147px,#cf3 0 153.1px,#bf4 0 159.2px,#cf3 0 165.4px,#af5 0 171.5px,#6f9 0 177.6px,#09f 0 183.8px,#01f 0 189.9px,#00c 0"></i><i style="--g:#03f 0 6.1px,#04f 0 12.2px,#03f 0 18.4px,#02f 0 24.5px,#01f 0 36.8px,#00f 0 42.9px,#00e 0 55.1px,#00f 0 61.2px,#00d 0 79.6px,#00e 0 85.8px,#00f 0 98px,#01f 0 104.1px,#03f 0 110.2px,#04f 0 116.4px,#08f 0 122.5px,#0af 0 128.6px,#0df 0 134.8px,#2fd 0 140.9px,#5fa 0 147px,#7f8 0 159.2px,#8f7 0 171.5px,#3fc 0 177.6px,#0af 0 183.8px,#07f 0 189.9px,#04f 0"></i><i style="--g:#04f 0 6.1px,#05f 0 12.2px,#03f 0 18.4px,#02f 0 24.5px,#03f 0 30.6px,#01f 0 36.8px,#00f 0 49px,#00e 0 55.1px,#00f 0 67.4px,#00e 0 73.5px,#00d 0 79.6px,#00e 0 85.8px,#00f 0 98px,#01f 0 104.1px,#04f 0 110.2px,#06f 0 116.4px,#07f 0 122.5px,#09f 0 128.6px,#0bf 0 134.8px,#0ef 0 140.9px,#1fe 0 147px,#3fc 0 153.1px,#0ff 0 165.4px,#1fe 0 171.5px,#0ef 0 177.6px,#08f 0 183.8px,#05f 0 189.9px,#04f 0"></i><i style="--g:#0ef 0 6.1px,#0cf 0 12.2px,#0af 0 18.4px,#09f 0 24.5px,#06f 0 30.6px,#05f 0 36.8px,#06f 0 42.9px,#05f 0 49px,#02f 0 61.2px,#01f 0 73.5px,#00f 0 91.9px,#02f 0 98px,#04f 0 104.1px,#07f 0 116.4px,#09f 0 122.5px,#0df 0 128.6px,#0ef 0 134.8px,#4fb 0 140.9px,#3fc 0 147px,#4fb 0 153.1px,#3fc 0 159.2px,#2fd 0 165.4px,#4fb 0 171.5px,#3fc 0 177.6px,#0cf 0 183.8px,#0af 0 189.9px,#07f 0"></i><i style="--g:#1fe 0 6.1px,#0ff 0 12.2px,#0ef 0 18.4px,#0cf 0 24.5px,#09f 0 30.6px,#07f 0 42.9px,#08f 0 49px,#04f 0 55.1px,#02f 0 61.2px,#03f 0 67.4px,#01f 0 73.5px,#00f 0 79.6px,#01f 0 98px,#03f 0 104.1px,#04f 0 110.2px,#08f 0 116.4px,#09f 0 122.5px,#0af 0 128.6px,#0df 0 140.9px,#2fd 0 147px,#3fc 0 159.2px,#8f7 0 165.4px,#3fc 0 177.6px,#0bf 0 183.8px,#06f 0 189.9px,#05f 0"></i><i style="--g:#0ef 0 6.1px,#0af 0 18.4px,#07f 0 24.5px,#06f 0 36.8px,#04f 0 42.9px,#03f 0 55.1px,#01f 0 61.2px,#00f 0 104.1px,#01f 0 116.4px,#04f 0 122.5px,#03f 0 128.6px,#09f 0 134.8px,#1fe 0 140.9px,#fc0 0 147px,#800 0 189.9px,#bf4 0"></i><i style="--g:#06f 0 6.1px,#07f 0 12.2px,#04f 0 18.4px,#05f 0 30.6px,#04f 0 36.8px,#02f 0 42.9px,#01f 0 55.1px,#00f 0 67.4px,#00e 0 79.6px,#00d 0 85.8px,#00e 0 98px,#00f 0 122.5px,#03f 0 128.6px,#05f 0 134.8px,#07f 0 140.9px,#3fc 0 147px,#f30 0 153.1px,#800 0 189.9px,#6f9 0"></i><i style="--g:#02f 0 6.1px,#01f 0 12.2px,#00f 0 49px,#00e 0 55.1px,#00c 0 61.2px,#00d 0 73.5px,#00c 0 79.6px,#00d 0 98px,#00e 0 104.1px,#00f 0 116.4px,#01f 0 122.5px,#03f 0 128.6px,#08f 0 134.8px,#0af 0 140.9px,#9f6 0 147px,#800 0 189.9px,#df2 0"></i><i style="--g:#01f 0 12.2px,#00f 0 49px,#00e 0 61.2px,#00d 0 73.5px,#00e 0 85.8px,#00f 0 98px,#02f 0 110.2px,#05f 0 116.4px,#06f 0 122.5px,#09f 0 128.6px,#0ff 0 134.8px,#8f7 0 140.9px,#f70 0 147px,#800 0 189.9px,#bf4 0"></i><i style="--g:#00e 0 6.1px,#00f 0 12.2px,#00e 0 30.6px,#00d 0 67.4px,#00c 0 73.5px,#00d 0 79.6px,#00e 0 85.8px,#00f 0 98px,#01f 0 104.1px,#04f 0 116.4px,#05f 0 122.5px,#09f 0 128.6px,#3fc 0 134.8px,#5fa 0 140.9px,#fa0 0 147px,#800 0 189.9px,#fa0 0"></i><i style="--g:#00d 0 24.5px,#00c 0 49px,#00b 0 55.1px,#00c 0 61.2px,#00b 0 67.4px,#00c 0 73.5px,#00d 0 91.9px,#00f 0 104.1px,#01f 0 110.2px,#03f 0 116.4px,#04f 0 122.5px,#06f 0 128.6px,#0af 0 134.8px,#0ff 0 140.9px,#af5 0 147px,#f60 0 153.1px,#800 0 189.9px,#fd0 0"></i><i style="--g:#00c 0 18.4px,#00b 0 30.6px,#00c 0 42.9px,#00b 0 55.1px,#00c 0 61.2px,#00b 0 73.5px,#00c 0 91.9px,#00e 0 110.2px,#00f 0 128.6px,#04f 0 134.8px,#08f 0 140.9px,#4fb 0 147px,#f20 0 153.1px,#800 0 189.9px,#f40 0"></i><i style="--g:#00b 0 79.6px,#00c 0 91.9px,#00d 0 104.1px,#00e 0 110.2px,#00f 0 122.5px,#02f 0 128.6px,#05f 0 134.8px,#0cf 0 140.9px,#cf3 0 147px,#800 0 189.9px,#9f6 0"></i><i style="--g:#00b 0 6.1px,#00a 0 18.4px,#00b 0 24.5px,#00a 0 30.6px,#00b 0 79.6px,#00c 0 91.9px,#00d 0 98px,#00e 0 104.1px,#00f 0 122.5px,#01f 0 128.6px,#05f 0 134.8px,#0ef 0 140.9px,#f30 0 147px,#800 0 189.9px,#ef1 0"></i><i style="--g:#00a 0 67.4px,#00b 0 91.9px,#00c 0 98px,#00d 0 116.4px,#00e 0 122.5px,#00f 0 128.6px,#03f 0 134.8px,#08f 0 140.9px,#cf3 0 147px,#800 0 189.9px,#fb0 0"></i><i style="--g:#00a 0 30.6px,#00b 0 36.8px,#00a 0 55.1px,#00b 0 79.6px,#00c 0 85.8px,#00d 0 91.9px,#00e 0 98px,#00f 0 116.4px,#03f 0 122.5px,#06f 0 128.6px,#0bf 0 134.8px,#8f7 0 140.9px,#fe0 0 147px,#800 0 189.9px,#fd0 0"></i><i style="--g:#00b 0 6.1px,#00a 0 24.5px,#00b 0 73.5px,#00c 0 79.6px,#00d 0 91.9px,#00e 0 98px,#00f 0 110.2px,#01f 0 116.4px,#05f 0 122.5px,#0cf 0 128.6px,#7f8 0 134.8px,#800 0 189.9px,#f80 0"></i><i style="--g:#00f 0 67.4px,#02f 0 85.8px,#03f 0 91.9px,#06f 0 98px,#0bf 0 110.2px,#1fe 0 116.4px,#7f8 0 122.5px,#ff0 0 128.6px,#800 0 189.9px,#f00 0"></i><i style="--g:#00f 0 42.9px,#01f 0 49px,#00f 0 61.2px,#01f 0 73.5px,#02f 0 85.8px,#07f 0 91.9px,#09f 0 104.1px,#0cf 0 110.2px,#0ef 0 116.4px,#5fa 0 122.5px,#df2 0 128.6px,#fc0 0 134.8px,#f80 0 140.9px,#800 0 189.9px,#f70 0"></i><i style="--g:#00f 0 18.4px,#01f 0 24.5px,#00f 0 42.9px,#01f 0 61.2px,#03f 0 73.5px,#05f 0 79.6px,#07f 0 85.8px,#08f 0 91.9px,#0af 0 98px,#0ff 0 104.1px,#1fe 0 110.2px,#6f9 0 116.4px,#af5 0 122.5px,#ff0 0 128.6px,#fa0 0 134.8px,#f00 0 140.9px,#900 0 147px,#800 0 189.9px,#4fb 0"></i><i style="--g:#00c 0 42.9px,#00d 0 55.1px,#00c 0 61.2px,#00d 0 67.4px,#00e 0 73.5px,#00f 0 85.8px,#02f 0 91.9px,#07f 0 104.1px,#0bf 0 110.2px,#0ef 0 116.4px,#5fa 0 122.5px,#df2 0 128.6px,#f30 0 134.8px,#800 0 189.9px,#9f6 0"></i><i style="--g:#009 0 49px,#00a 0 73.5px,#00b 0 79.6px,#00c 0 85.8px,#00e 0 91.9px,#00f 0 98px,#01f 0 110.2px,#07f 0 116.4px,#0cf 0 122.5px,#8f7 0 128.6px,#f50 0 134.8px,#800 0 189.9px,#9f6 0"></i><i style="--g:#009 0 55.1px,#00a 0 73.5px,#00b 0 79.6px,#00c 0 91.9px,#00e 0 104.1px,#00f 0 110.2px,#03f 0 116.4px,#04f 0 122.5px,#0af 0 128.6px,#3fc 0 134.8px,#f80 0 140.9px,#800 0 189.9px,#9f6 0"></i><i style="--g:#009 0 61.2px,#00a 0 73.5px,#00b 0 79.6px,#00c 0 98px,#00f 0 104.1px,#01f 0 110.2px,#05f 0 122.5px,#0af 0 128.6px,#3fc 0 134.8px,#f60 0 140.9px,#800 0 189.9px,#f70 0"></i><i style="--g:#009 0 42.9px,#00a 0 73.5px,#00b 0 79.6px,#00c 0 85.8px,#00d 0 91.9px,#00f 0 104.1px,#02f 0 110.2px,#03f 0 116.4px,#07f 0 122.5px,#0af 0 128.6px,#6f9 0 134.8px,#f70 0 140.9px,#800 0 189.9px,#b00 0"></i><i style="--g:#009 0 67.4px,#00a 0 73.5px,#00b 0 79.6px,#00c 0 91.9px,#00e 0 98px,#01f 0 104.1px,#03f 0 110.2px,#06f 0 116.4px,#0ef 0 122.5px,#6f9 0 128.6px,#a00 0 134.8px,#800 0 189.9px,#d00 0"></i><i style="--g:#009 0 55.1px,#00a 0 67.4px,#00b 0 73.5px,#00c 0 85.8px,#00e 0 91.9px,#00f 0 98px,#01f 0 104.1px,#06f 0 110.2px,#09f 0 116.4px,#0ef 0 122.5px,#4fb 0 128.6px,#f80 0 134.8px,#800 0"></i><i style="--g:#009 0 49px,#00a 0 67.4px,#00b 0 79.6px,#00c 0 85.8px,#00e 0 91.9px,#00f 0 98px,#01f 0 104.1px,#04f 0 110.2px,#05f 0 116.4px,#0af 0 122.5px,#2fd 0 128.6px,#ff0 0 134.8px,#b00 0 140.9px,#800 0"></i><i style="--g:#00a 0 55.1px,#00b 0 67.4px,#00c 0 73.5px,#00d 0 79.6px,#00e 0 85.8px,#01f 0 91.9px,#02f 0 98px,#05f 0 104.1px,#08f 0 110.2px,#0ff 0 116.4px,#5fa 0 122.5px,#ef1 0 128.6px,#f30 0 134.8px,#800 0 189.9px,#ef1 0"></i><i style="--g:#00a 0 55.1px,#00b 0 73.5px,#00d 0 79.6px,#00e 0 85.8px,#00f 0 91.9px,#01f 0 98px,#05f 0 104.1px,#08f 0 110.2px,#0cf 0 116.4px,#7f8 0 122.5px,#ff0 0 128.6px,#f00 0 134.8px,#800 0 189.9px,#af5 0"></i><i style="--g:#00a 0 55.1px,#00b 0 73.5px,#00c 0 79.6px,#00d 0 91.9px,#00f 0 98px,#01f 0 104.1px,#02f 0 110.2px,#05f 0 116.4px,#0cf 0 122.5px,#1fe 0 128.6px,#af5 0 134.8px,#f40 0 140.9px,#800 0 189.9px,#cf3 0"></i><i style="--g:#00d 0 6.1px,#00c 0 12.2px,#00d 0 18.4px,#00c 0 24.5px,#00d 0 42.9px,#00c 0 49px,#00d 0 67.4px,#00e 0 79.6px,#00f 0 85.8px,#00e 0 91.9px,#00f 0 98px,#02f 0 104.1px,#03f 0 110.2px,#05f 0 116.4px,#07f 0 122.5px,#0cf 0 128.6px,#9f6 0 134.8px,#e00 0 140.9px,#800 0 189.9px,#09f 0"></i><i style="--g:#00b 0 42.9px,#00c 0 49px,#00b 0 55.1px,#00c 0 61.2px,#00b 0 67.4px,#00c 0 85.8px,#00d 0 91.9px,#00e 0 98px,#00f 0 110.2px,#04f 0 116.4px,#05f 0 122.5px,#0df 0 128.6px,#3fc 0 134.8px,#800 0 183.8px,#d00 0 189.9px,#02f 0"></i><i style="--g:#00c 0 61.2px,#00d 0 73.5px,#00e 0 79.6px,#00f 0 85.8px,#00e 0 91.9px,#00f 0 98px,#02f 0 104.1px,#03f 0 110.2px,#05f 0 116.4px,#06f 0 122.5px,#09f 0 128.6px,#1fe 0 134.8px,#f90 0 140.9px,#800 0 183.8px,#f20 0 189.9px,#00f 0"></i><i style="--g:#009 0 36.8px,#00a 0 42.9px,#009 0 49px,#00a 0 67.4px,#00b 0 73.5px,#00c 0 85.8px,#00e 0 91.9px,#00f 0 104.1px,#02f 0 110.2px,#06f 0 116.4px,#09f 0 122.5px,#2fd 0 128.6px,#ff0 0 134.8px,#c00 0 140.9px,#800 0 183.8px,#fe0 0 189.9px,#00e 0"></i><i style="--g:#009 0 6.1px,#00a 0 18.4px,#009 0 24.5px,#00a 0 61.2px,#00b 0 73.5px,#00c 0 85.8px,#00d 0 91.9px,#00f 0 104.1px,#02f 0 110.2px,#06f 0 116.4px,#09f 0 122.5px,#0ff 0 128.6px,#df2 0 134.8px,#f40 0 140.9px,#800 0 183.8px,#0ef 0 189.9px,#00c 0"></i><i style="--g:#009 0 61.2px,#00a 0 73.5px,#00b 0 85.8px,#00c 0 91.9px,#00e 0 104.1px,#00f 0 110.2px,#03f 0 116.4px,#04f 0 122.5px,#09f 0 128.6px,#1fe 0 134.8px,#ff0 0 140.9px,#800 0 183.8px,#7f8 0 189.9px,#00c 0"></i><i style="--g:#00a 0 6.1px,#00b 0 12.2px,#00a 0 18.4px,#00b 0 24.5px,#00a 0 42.9px,#00b 0 49px,#00a 0 61.2px,#00b 0 67.4px,#00c 0 79.6px,#00d 0 85.8px,#00e 0 98px,#00f 0 104.1px,#01f 0 110.2px,#02f 0 116.4px,#04f 0 122.5px,#0bf 0 128.6px,#0ff 0 134.8px,#fa0 0 140.9px,#800 0 183.8px,#af5 0 189.9px,#00c 0"></i><i style="--g:#00c 0 73.5px,#00d 0 85.8px,#00e 0 98px,#00f 0 104.1px,#01f 0 110.2px,#02f 0 116.4px,#03f 0 122.5px,#0af 0 128.6px,#4fb 0 134.8px,#c00 0 140.9px,#800 0 183.8px,#ff0 0 189.9px,#00f 0"></i><i style="--g:#00e 0 6.1px,#00d 0 12.2px,#00e 0 18.4px,#00d 0 24.5px,#00e 0 30.6px,#00d 0 49px,#00e 0 61.2px,#00d 0 67.4px,#00e 0 79.6px,#00f 0 91.9px,#01f 0 98px,#00f 0 104.1px,#02f 0 110.2px,#03f 0 116.4px,#04f 0 122.5px,#08f 0 128.6px,#3fc 0 134.8px,#f90 0 140.9px,#800 0 183.8px,#f30 0 189.9px,#00f 0"></i><i style="--g:#00d 0 24.5px,#00e 0 36.8px,#00d 0 55.1px,#00e 0 67.4px,#00f 0 91.9px,#01f 0 98px,#03f 0 110.2px,#04f 0 116.4px,#08f 0 122.5px,#0ef 0 128.6px,#cf3 0 134.8px,#800 0 183.8px,#ff0 0 189.9px,#00e 0"></i><i style="--g:#00c 0 12.2px,#00d 0 49px,#00c 0 55.1px,#00d 0 67.4px,#00e 0 79.6px,#00f 0 85.8px,#01f 0 91.9px,#03f 0 98px,#04f 0 104.1px,#05f 0 110.2px,#09f 0 116.4px,#0ef 0 122.5px,#df2 0 128.6px,#e00 0 134.8px,#800 0 183.8px,#fd0 0 189.9px,#00f 0"></i><i style="--g:#00b 0 6.1px,#00c 0 12.2px,#00b 0 30.6px,#00c 0 36.8px,#00b 0 42.9px,#00c 0 49px,#00b 0 55.1px,#00c 0 73.5px,#00d 0 85.8px,#00e 0 91.9px,#00f 0 98px,#01f 0 104.1px,#02f 0 110.2px,#04f 0 116.4px,#08f 0 122.5px,#0ff 0 128.6px,#5fa 0 134.8px,#f70 0 140.9px,#800 0 183.8px,#8f7 0 189.9px,#00c 0"></i><i style="--g:#00b 0 18.4px,#00c 0 24.5px,#00b 0 30.6px,#00c 0 36.8px,#00b 0 42.9px,#00c 0 73.5px,#00d 0 79.6px,#00f 0 91.9px,#02f 0 98px,#05f 0 110.2px,#09f 0 116.4px,#1fe 0 122.5px,#6f9 0 128.6px,#f40 0 134.8px,#800 0 183.8px,#2fd 0 189.9px,#00b 0"></i><i style="--g:#00b 0 49px,#00c 0 67.4px,#00d 0 73.5px,#00f 0 79.6px,#01f 0 85.8px,#04f 0 91.9px,#06f 0 98px,#0cf 0 104.1px,#0ff 0 110.2px,#bf4 0 116.4px,#fa0 0 122.5px,#b00 0 128.6px,#800 0 183.8px,#0ff 0 189.9px,#00b 0"></i><i style="--g:#00a 0 36.8px,#00b 0 55.1px,#00c 0 61.2px,#00d 0 67.4px,#00e 0 73.5px,#00f 0 79.6px,#01f 0 85.8px,#04f 0 91.9px,#08f 0 98px,#0bf 0 104.1px,#2fd 0 110.2px,#8f7 0 116.4px,#fb0 0 128.6px,#800 0 183.8px,#0cf 0 189.9px,#00b 0"></i><i style="--g:#009 0 49px,#00a 0 67.4px,#00b 0 73.5px,#00c 0 79.6px,#00d 0 85.8px,#00e 0 91.9px,#02f 0 98px,#04f 0 104.1px,#07f 0 110.2px,#0cf 0 116.4px,#3fc 0 122.5px,#fe0 0 128.6px,#f00 0 134.8px,#800 0 183.8px,#0ff 0 189.9px,#00b 0"></i><i style="--g:#009 0 61.2px,#00a 0 73.5px,#00b 0 85.8px,#00c 0 91.9px,#00d 0 98px,#00f 0 110.2px,#02f 0 116.4px,#09f 0 122.5px,#2fd 0 128.6px,#fc0 0 134.8px,#800 0 183.8px,#0af 0 189.9px,#00a 0"></i><i style="--g:#00a 0 30.6px,#00b 0 49px,#00a 0 55.1px,#00b 0 73.5px,#00c 0 79.6px,#00d 0 85.8px,#00e 0 91.9px,#00f 0 98px,#01f 0 104.1px,#03f 0 110.2px,#06f 0 116.4px,#0bf 0 122.5px,#7f8 0 128.6px,#f80 0 134.8px,#800 0 183.8px,#05f 0 189.9px,#00a 0"></i><i style="--g:#00d 0 12.2px,#00e 0 30.6px,#00d 0 36.8px,#00e 0 67.4px,#00f 0 79.6px,#01f 0 85.8px,#02f 0 91.9px,#04f 0 98px,#07f 0 104.1px,#08f 0 110.2px,#0df 0 116.4px,#3fc 0 122.5px,#af5 0 128.6px,#f00 0 134.8px,#800 0 183.8px,#05f 0 189.9px,#00a 0"></i><i style="--g:#00c 0 6.1px,#00d 0 18.4px,#00f 0 24.5px,#00e 0 36.8px,#00d 0 42.9px,#00e 0 61.2px,#00f 0 73.5px,#02f 0 79.6px,#04f 0 85.8px,#06f 0 98px,#08f 0 104.1px,#0ff 0 110.2px,#5fa 0 116.4px,#af5 0 122.5px,#fb0 0 128.6px,#800 0 183.8px,#09f 0 189.9px,#00a 0"></i><i style="--g:#00c 0 49px,#00d 0 67.4px,#00e 0 73.5px,#00f 0 85.8px,#01f 0 91.9px,#05f 0 98px,#07f 0 104.1px,#06f 0 110.2px,#0bf 0 116.4px,#2fd 0 122.5px,#9f6 0 128.6px,#fb0 0 134.8px,#800 0 183.8px,#0df 0 189.9px,#00b 0"></i><i style="--g:#00a 0 49px,#00b 0 67.4px,#00d 0 79.6px,#00e 0 85.8px,#01f 0 91.9px,#02f 0 98px,#05f 0 104.1px,#0bf 0 110.2px,#0df 0 116.4px,#6f9 0 122.5px,#df2 0 128.6px,#f00 0 134.8px,#800 0 183.8px,#09f 0 189.9px,#00a 0"></i><i style="--g:#00a 0 30.6px,#00b 0 36.8px,#00a 0 55.1px,#00b 0 73.5px,#00d 0 79.6px,#00e 0 85.8px,#00f 0 91.9px,#02f 0 98px,#03f 0 104.1px,#07f 0 110.2px,#09f 0 116.4px,#3fc 0 122.5px,#fd0 0 128.6px,#f20 0 134.8px,#800 0 183.8px,#0cf 0 189.9px,#00a 0"></i><i style="--g:#009 0 30.6px,#00a 0 55.1px,#00b 0 67.4px,#00c 0 73.5px,#00e 0 79.6px,#00f 0 85.8px,#02f 0 91.9px,#04f 0 98px,#09f 0 104.1px,#0df 0 110.2px,#0ff 0 116.4px,#8f7 0 122.5px,#ff0 0 128.6px,#f20 0 134.8px,#800 0 183.8px,#0ef 0 189.9px,#00a 0"></i><i style="--g:#00b 0 6.1px,#00c 0 12.2px,#00b 0 24.5px,#00c 0 36.8px,#00b 0 49px,#00c 0 67.4px,#00d 0 73.5px,#00f 0 85.8px,#03f 0 91.9px,#05f 0 98px,#09f 0 104.1px,#0bf 0 110.2px,#0ff 0 116.4px,#4fb 0 122.5px,#ff0 0 128.6px,#f80 0 134.8px,#800 0 183.8px,#0bf 0 189.9px,#00a 0"></i><i style="--g:#00a 0 42.9px,#00b 0 61.2px,#00c 0 67.4px,#00d 0 79.6px,#00f 0 85.8px,#01f 0 91.9px,#05f 0 98px,#07f 0 104.1px,#0ff 0 110.2px,#2fd 0 116.4px,#6f9 0 122.5px,#ff0 0 128.6px,#a00 0 134.8px,#800 0 183.8px,#04f 0 189.9px,#00a 0"></i><i style="--g:#00b 0 12.2px,#00c 0 18.4px,#00b 0 24.5px,#00c 0 30.6px,#00b 0 36.8px,#00c 0 42.9px,#00b 0 49px,#00c 0 73.5px,#00e 0 85.8px,#00f 0 98px,#01f 0 104.1px,#04f 0 110.2px,#06f 0 116.4px,#0df 0 122.5px,#4fb 0 128.6px,#fe0 0 134.8px,#800 0 183.8px,#07f 0 189.9px,#00a 0"></i><i style="--g:#00a 0 42.9px,#00b 0 67.4px,#00c 0 85.8px,#00d 0 91.9px,#00f 0 104.1px,#01f 0 110.2px,#04f 0 116.4px,#0af 0 122.5px,#0ff 0 128.6px,#af5 0 134.8px,#f00 0 140.9px,#800 0 183.8px,#08f 0 189.9px,#00a 0"></i><i style="--g:#00b 0 67.4px,#00c 0 85.8px,#00e 0 91.9px,#00d 0 98px,#00f 0 116.4px,#04f 0 122.5px,#09f 0 128.6px,#8f7 0 134.8px,#800 0 183.8px,#06f 0 189.9px,#00a 0"></i><i style="--g:#00b 0 18.4px,#00a 0 24.5px,#00b 0 55.1px,#00c 0 73.5px,#00e 0 85.8px,#01f 0 91.9px,#03f 0 98px,#05f 0 104.1px,#09f 0 110.2px,#0af 0 116.4px,#0ff 0 122.5px,#8f7 0 128.6px,#f70 0 134.8px,#800 0 183.8px,#05f 0 189.9px,#00a 0"></i><i style="--g:#00b 0 12.2px,#00a 0 30.6px,#00b 0 36.8px,#00a 0 42.9px,#00b 0 61.2px,#00c 0 73.5px,#00d 0 79.6px,#00e 0 85.8px,#00f 0 91.9px,#02f 0 98px,#04f 0 104.1px,#08f 0 110.2px,#0df 0 116.4px,#0ff 0 122.5px,#9f6 0 128.6px,#f50 0 134.8px,#b00 0 140.9px,#800 0 183.8px,#01f 0 189.9px,#00a 0"></i><i style="--g:#00c 0 42.9px,#00d 0 61.2px,#00e 0 73.5px,#00f 0 79.6px,#02f 0 85.8px,#03f 0 91.9px,#06f 0 98px,#08f 0 104.1px,#0df 0 110.2px,#2fd 0 116.4px,#8f7 0 122.5px,#fb0 0 128.6px,#f40 0 134.8px,#800 0 183.8px,#04f 0 189.9px,#00a 0"></i><i style="--g:#00b 0 42.9px,#00c 0 49px,#00b 0 61.2px,#00c 0 67.4px,#00d 0 85.8px,#00f 0 91.9px,#01f 0 104.1px,#02f 0 110.2px,#05f 0 116.4px,#09f 0 122.5px,#0ff 0 128.6px,#8f7 0 134.8px,#f00 0 140.9px,#800 0 177.6px,#b00 0 183.8px,#00f 0 189.9px,#009 0"></i><i style="--g:#009 0 12.2px,#00a 0 36.8px,#009 0 42.9px,#00a 0 61.2px,#00b 0 73.5px,#00c 0 85.8px,#00d 0 91.9px,#00e 0 98px,#00f 0 104.1px,#01f 0 110.2px,#04f 0 116.4px,#08f 0 122.5px,#09f 0 128.6px,#4fb 0 134.8px,#fa0 0 140.9px,#800 0 183.8px,#00f 0 189.9px,#009 0"></i><i style="--g:#00a 0 18.4px,#009 0 24.5px,#00a 0 30.6px,#009 0 36.8px,#00a 0 61.2px,#00b 0 73.5px,#00c 0 79.6px,#00d 0 85.8px,#00e 0 91.9px,#00f 0 98px,#02f 0 110.2px,#07f 0 116.4px,#1fe 0 122.5px,#8f7 0 128.6px,#fa0 0 134.8px,#800 0 183.8px,#03f 0 189.9px,#00a 0"></i><i style="--g:#00a 0 6.1px,#00b 0 12.2px,#00a 0 18.4px,#00b 0 24.5px,#00a 0 30.6px,#00b 0 36.8px,#00a 0 49px,#00b 0 73.5px,#00c 0 79.6px,#00d 0 85.8px,#00e 0 91.9px,#00f 0 110.2px,#06f 0 116.4px,#05f 0 122.5px,#0bf 0 128.6px,#8f7 0 134.8px,#f60 0 140.9px,#800 0 183.8px,#08f 0 189.9px,#00a 0"></i><i style="--g:#00f 0 73.5px,#01f 0 79.6px,#02f 0 91.9px,#04f 0 98px,#06f 0 104.1px,#08f 0 110.2px,#09f 0 116.4px,#0ef 0 122.5px,#0ff 0 128.6px,#fa0 0 134.8px,#d00 0 140.9px,#800 0 183.8px,#0bf 0 189.9px,#00b 0"></i><i style="--g:#00e 0 18.4px,#00f 0 24.5px,#00e 0 30.6px,#00d 0 36.8px,#00e 0 49px,#00f 0 79.6px,#02f 0 91.9px,#03f 0 98px,#06f 0 104.1px,#08f 0 110.2px,#0cf 0 116.4px,#0ff 0 122.5px,#9f6 0 128.6px,#f60 0 134.8px,#800 0 183.8px,#0ff 0 189.9px,#00a 0"></i><i style="--g:#00d 0 18.4px,#00e 0 24.5px,#00d 0 36.8px,#00e 0 42.9px,#00d 0 61.2px,#00e 0 67.4px,#00f 0 79.6px,#01f 0 85.8px,#02f 0 91.9px,#03f 0 98px,#06f 0 104.1px,#0cf 0 110.2px,#0ff 0 116.4px,#6f9 0 122.5px,#fb0 0 128.6px,#a00 0 134.8px,#800 0 183.8px,#0af 0 189.9px,#00a 0"></i><i style="--g:#00b 0 36.8px,#00c 0 42.9px,#00b 0 49px,#00c 0 67.4px,#00d 0 79.6px,#00f 0 91.9px,#05f 0 98px,#06f 0 104.1px,#08f 0 110.2px,#0ef 0 116.4px,#2fd 0 122.5px,#fc0 0 128.6px,#f10 0 134.8px,#800 0 183.8px,#06f 0 189.9px,#00a 0"></i><i style="--g:#009 0 42.9px,#00a 0 61.2px,#00b 0 73.5px,#00c 0 79.6px,#00e 0 85.8px,#00f 0 91.9px,#01f 0 98px,#03f 0 104.1px,#09f 0 110.2px,#0af 0 116.4px,#2fd 0 122.5px,#cf3 0 128.6px,#f60 0 134.8px,#800 0 183.8px,#00f 0 189.9px,#00a 0"></i><i style="--g:#009 0 61.2px,#00a 0 67.4px,#00b 0 79.6px,#00d 0 91.9px,#00f 0 98px,#01f 0 104.1px,#03f 0 110.2px,#04f 0 116.4px,#0bf 0 122.5px,#5fa 0 128.6px,#ff0 0 134.8px,#f00 0 140.9px,#800 0 177.6px,#f70 0 183.8px,#00d 0 189.9px,#00a 0"></i><i style="--g:#009 0 61.2px,#00a 0 79.6px,#00b 0 85.8px,#00c 0 98px,#00e 0 104.1px,#00f 0 116.4px,#05f 0 122.5px,#0cf 0 128.6px,#6f9 0 134.8px,#f00 0 140.9px,#800 0 177.6px,#f80 0 183.8px,#00e 0 189.9px,#009 0"></i><i style="--g:#009 0 24.5px,#00a 0 67.4px,#00b 0 79.6px,#00c 0 85.8px,#00d 0 91.9px,#00f 0 104.1px,#02f 0 110.2px,#05f 0 116.4px,#0bf 0 122.5px,#4fb 0 128.6px,#f90 0 134.8px,#800 0 177.6px,#f70 0 183.8px,#00e 0 189.9px,#009 0"></i><i style="--g:#00a 0 6.1px,#009 0 12.2px,#00a 0 24.5px,#009 0 30.6px,#00a 0 42.9px,#009 0 49px,#00a 0 61.2px,#00b 0 79.6px,#00d 0 85.8px,#00e 0 91.9px,#00f 0 104.1px,#04f 0 110.2px,#09f 0 116.4px,#0ef 0 122.5px,#af5 0 128.6px,#f00 0 134.8px,#800 0 177.6px,#f20 0 183.8px,#00e 0 189.9px,#00a 0"></i><i style="--g:#009 0 30.6px,#00a 0 36.8px,#009 0 49px,#00a 0 67.4px,#00b 0 73.5px,#00c 0 85.8px,#00e 0 91.9px,#00f 0 98px,#03f 0 104.1px,#05f 0 110.2px,#09f 0 116.4px,#1fe 0 122.5px,#5fa 0 128.6px,#fb0 0 134.8px,#800 0 183.8px,#00f 0 189.9px,#009 0"></i><i style="--g:#00a 0 67.4px,#00b 0 79.6px,#00c 0 85.8px,#00d 0 98px,#00f 0 110.2px,#04f 0 122.5px,#0cf 0 128.6px,#6f9 0 134.8px,#800 0 177.6px,#f10 0 183.8px,#01f 0 189.9px,#009 0"></i><i style="--g:#00a 0 61.2px,#00b 0 79.6px,#00d 0 85.8px,#00e 0 98px,#01f 0 110.2px,#06f 0 116.4px,#0bf 0 122.5px,#6f9 0 128.6px,#f70 0 134.8px,#800 0 183.8px,#01f 0 189.9px,#009 0"></i><i style="--g:#00a 0 55.1px,#00b 0 73.5px,#00c 0 85.8px,#00d 0 98px,#00e 0 104.1px,#01f 0 110.2px,#03f 0 116.4px,#04f 0 122.5px,#0af 0 128.6px,#cf3 0 134.8px,#800 0 183.8px,#04f 0 189.9px,#00a 0"></i><i style="--g:#009 0 55.1px,#00a 0 73.5px,#00b 0 91.9px,#00d 0 98px,#00f 0 110.2px,#02f 0 116.4px,#04f 0 122.5px,#0ff 0 128.6px,#8f7 0 134.8px,#800 0 183.8px,#09f 0 189.9px,#00a 0"></i><i style="--g:#00a 0 55.1px,#00b 0 61.2px,#00a 0 67.4px,#00b 0 73.5px,#00c 0 85.8px,#00e 0 98px,#01f 0 104.1px,#00f 0 110.2px,#06f 0 116.4px,#0af 0 122.5px,#2fd 0 128.6px,#ff0 0 134.8px,#800 0 183.8px,#05f 0 189.9px,#00a 0"></i><i style="--g:#00b 0 36.8px,#00c 0 42.9px,#00b 0 49px,#00c 0 61.2px,#00d 0 73.5px,#00f 0 79.6px,#00d 0 85.8px,#00f 0 91.9px,#02f 0 98px,#03f 0 104.1px,#06f 0 110.2px,#0af 0 116.4px,#0ff 0 122.5px,#7f8 0 128.6px,#fa0 0 134.8px,#800 0 183.8px,#08f 0 189.9px,#00a 0"></i><i style="--g:#00f 0 6.1px,#00e 0 24.5px,#00f 0 42.9px,#00e 0 49px,#00f 0 73.5px,#01f 0 79.6px,#03f 0 91.9px,#07f 0 104.1px,#0af 0 110.2px,#1fe 0 116.4px,#8f7 0 122.5px,#f80 0 128.6px,#b00 0 134.8px,#800 0 183.8px,#06f 0 189.9px,#00a 0"></i><i style="--g:#00f 0 6.1px,#00e 0 12.2px,#00f 0 42.9px,#00e 0 49px,#00f 0 67.4px,#01f 0 79.6px,#03f 0 85.8px,#05f 0 91.9px,#06f 0 98px,#08f 0 104.1px,#0bf 0 110.2px,#1fe 0 116.4px,#9f6 0 122.5px,#f50 0 128.6px,#800 0 183.8px,#02f 0 189.9px,#00a 0"></i><i style="--g:#00e 0 12.2px,#00f 0 61.2px,#02f 0 73.5px,#03f 0 79.6px,#05f 0 85.8px,#07f 0 91.9px,#08f 0 98px,#0af 0 104.1px,#0cf 0 110.2px,#1fe 0 116.4px,#8f7 0 122.5px,#fe0 0 128.6px,#f70 0 134.8px,#800 0 183.8px,#02f 0 189.9px,#009 0"></i><i style="--g:#00f 0 6.1px,#01f 0 12.2px,#00f 0 49px,#01f 0 55.1px,#00f 0 61.2px,#02f 0 67.4px,#03f 0 73.5px,#02f 0 79.6px,#05f 0 85.8px,#06f 0 91.9px,#05f 0 98px,#0af 0 110.2px,#0df 0 116.4px,#1fe 0 122.5px,#8f7 0 128.6px,#ff0 0 134.8px,#800 0 183.8px,#06f 0 189.9px,#00a 0"></i><i style="--g:#00f 0 30.6px,#00e 0 36.8px,#00f 0 49px,#00e 0 73.5px,#00f 0 79.6px,#01f 0 85.8px,#02f 0 91.9px,#03f 0 98px,#06f 0 104.1px,#0bf 0 110.2px,#0af 0 116.4px,#2fd 0 122.5px,#9f6 0 128.6px,#ff0 0 134.8px,#800 0 183.8px,#0df 0 189.9px,#00a 0"></i><i style="--g:#03f 0 6.1px,#02f 0 18.4px,#00f 0 24.5px,#01f 0 36.8px,#00f 0 73.5px,#01f 0 79.6px,#00f 0 91.9px,#03f 0 98px,#04f 0 104.1px,#05f 0 110.2px,#08f 0 116.4px,#0df 0 122.5px,#7f8 0 128.6px,#fa0 0 134.8px,#800 0 183.8px,#9f6 0 189.9px,#00b 0"></i><i style="--g:#05f 0 6.1px,#04f 0 12.2px,#03f 0 24.5px,#02f 0 42.9px,#00f 0 49px,#01f 0 55.1px,#00f 0 79.6px,#01f 0 85.8px,#02f 0 91.9px,#04f 0 98px,#05f 0 104.1px,#09f 0 110.2px,#0ff 0 116.4px,#6f9 0 122.5px,#f80 0 128.6px,#800 0 183.8px,#9f6 0 189.9px,#00b 0"></i><i style="--g:#08f 0 6.1px,#09f 0 18.4px,#04f 0 24.5px,#06f 0 30.6px,#07f 0 36.8px,#04f 0 42.9px,#03f 0 49px,#02f 0 61.2px,#01f 0 67.4px,#02f 0 79.6px,#03f 0 85.8px,#05f 0 91.9px,#04f 0 98px,#07f 0 104.1px,#0bf 0 110.2px,#1fe 0 116.4px,#af5 0 122.5px,#fd0 0 128.6px,#800 0 183.8px,#0ef 0 189.9px,#00b 0"></i><i style="--g:#06f 0 12.2px,#04f 0 24.5px,#03f 0 36.8px,#01f 0 42.9px,#00f 0 49px,#01f 0 61.2px,#00f 0 85.8px,#01f 0 91.9px,#03f 0 104.1px,#08f 0 110.2px,#0cf 0 116.4px,#1fe 0 122.5px,#8f7 0 128.6px,#fd0 0 134.8px,#800 0 183.8px,#0af 0 189.9px,#00a 0"></i><i style="--g:#02f 0 6.1px,#01f 0 12.2px,#00f 0 30.6px,#00e 0 36.8px,#00d 0 42.9px,#00f 0 49px,#00d 0 67.4px,#00c 0 73.5px,#00e 0 79.6px,#00f 0 85.8px,#01f 0 98px,#05f 0 104.1px,#07f 0 110.2px,#0af 0 116.4px,#5fa 0 122.5px,#cf3 0 128.6px,#f10 0 134.8px,#800 0 183.8px,#0af 0 189.9px,#00a 0"></i><i style="--g:#00c 0 30.6px,#00b 0 36.8px,#00c 0 42.9px,#00b 0 61.2px,#00c 0 67.4px,#00d 0 79.6px,#00e 0 85.8px,#00f 0 91.9px,#02f 0 98px,#04f 0 104.1px,#0af 0 110.2px,#0cf 0 116.4px,#3fc 0 122.5px,#fa0 0 128.6px,#f00 0 134.8px,#800 0 183.8px,#05f 0 189.9px,#00a 0"></i><i style="--g:#00b 0 42.9px,#00a 0 61.2px,#00b 0 73.5px,#00c 0 79.6px,#00d 0 85.8px,#00e 0 91.9px,#00f 0 98px,#01f 0 104.1px,#04f 0 110.2px,#08f 0 116.4px,#0ff 0 122.5px,#bf4 0 128.6px,#a00 0 134.8px,#800 0 183.8px,#08f 0 189.9px,#00a 0"></i><i style="--g:#00a 0 61.2px,#00b 0 67.4px,#00c 0 79.6px,#00d 0 85.8px,#00e 0 91.9px,#00f 0 98px,#02f 0 104.1px,#05f 0 110.2px,#07f 0 116.4px,#0ef 0 122.5px,#4fb 0 128.6px,#ff0 0 134.8px,#800 0 183.8px,#0ff 0 189.9px,#00b 0"></i><i style="--g:#00b 0 61.2px,#00c 0 73.5px,#00d 0 91.9px,#00e 0 98px,#01f 0 110.2px,#02f 0 116.4px,#05f 0 122.5px,#0bf 0 128.6px,#6f9 0 134.8px,#f50 0 140.9px,#800 0 183.8px,#4fb 0 189.9px,#00b 0"></i><i style="--g:#00d 0 30.6px,#00e 0 42.9px,#00d 0 49px,#00e 0 67.4px,#00f 0 85.8px,#01f 0 104.1px,#04f 0 110.2px,#07f 0 116.4px,#09f 0 122.5px,#2fd 0 128.6px,#fd0 0 134.8px,#800 0 183.8px,#0df 0 189.9px,#00b 0"></i><i style="--g:#00e 0 6.1px,#00d 0 12.2px,#00e 0 18.4px,#00d 0 24.5px,#00e 0 30.6px,#00d 0 42.9px,#00e 0 49px,#00d 0 55.1px,#00e 0 61.2px,#00d 0 67.4px,#00f 0 79.6px,#01f 0 85.8px,#02f 0 98px,#03f 0 104.1px,#06f 0 110.2px,#09f 0 116.4px,#1fe 0 122.5px,#cf3 0 128.6px,#f00 0 134.8px,#800 0 183.8px,#0df 0 189.9px,#00b 0"></i><i style="--g:#00b 0 49px,#00c 0 67.4px,#00d 0 73.5px,#00e 0 85.8px,#00f 0 91.9px,#02f 0 104.1px,#03f 0 110.2px,#07f 0 116.4px,#0ef 0 122.5px,#6f9 0 128.6px,#7f8 0 134.8px,#e00 0 140.9px,#800 0 183.8px,#06f 0 189.9px,#00a 0"></i><i style="--g:#00b 0 12.2px,#00c 0 24.5px,#00b 0 36.8px,#00c 0 67.4px,#00e 0 85.8px,#01f 0 91.9px,#02f 0 104.1px,#04f 0 110.2px,#06f 0 116.4px,#0af 0 122.5px,#1fe 0 128.6px,#6f9 0 134.8px,#fb0 0 140.9px,#800 0 183.8px,#05f 0 189.9px,#00a 0"></i><i style="--g:#00b 0 12.2px,#00a 0 18.4px,#00b 0 30.6px,#00a 0 49px,#00b 0 67.4px,#00c 0 73.5px,#00d 0 79.6px,#00f 0 91.9px,#01f 0 98px,#04f 0 104.1px,#06f 0 110.2px,#0cf 0 116.4px,#4fb 0 122.5px,#ff0 0 128.6px,#f40 0 134.8px,#800 0 183.8px,#03f 0 189.9px,#00a 0"></i><i style="--g:#00a 0 12.2px,#00b 0 18.4px,#00a 0 24.5px,#00b 0 30.6px,#00a 0 36.8px,#00b 0 49px,#00a 0 55.1px,#00b 0 61.2px,#00c 0 67.4px,#00d 0 79.6px,#00f 0 91.9px,#02f 0 98px,#04f 0 104.1px,#0bf 0 110.2px,#0df 0 116.4px,#3fc 0 122.5px,#af5 0 128.6px,#c00 0 134.8px,#800 0 177.6px,#f80 0 183.8px,#00e 0 189.9px,#009 0"></i><i style="--g:#00a 0 6.1px,#00b 0 12.2px,#00a 0 18.4px,#00b 0 36.8px,#00a 0 42.9px,#00b 0 61.2px,#00c 0 73.5px,#00d 0 79.6px,#00e 0 85.8px,#00f 0 91.9px,#02f 0 104.1px,#06f 0 110.2px,#0ef 0 116.4px,#4fb 0 122.5px,#fe0 0 128.6px,#800 0 177.6px,#af5 0 183.8px,#00d 0 189.9px,#009 0"></i><i style="--g:#00f 0 36.8px,#01f 0 49px,#00f 0 55.1px,#01f 0 61.2px,#00f 0 67.4px,#02f 0 79.6px,#04f 0 85.8px,#05f 0 91.9px,#06f 0 98px,#0af 0 110.2px,#0ff 0 116.4px,#8f7 0 122.5px,#ff0 0 128.6px,#f00 0 134.8px,#800 0 177.6px,#df2 0 183.8px,#00c 0 189.9px,#009 0"></i><i style="--g:#00f 0 6.1px,#00e 0 12.2px,#00f 0 55.1px,#01f 0 61.2px,#00f 0 67.4px,#01f 0 73.5px,#02f 0 79.6px,#04f 0 91.9px,#06f 0 98px,#08f 0 104.1px,#0bf 0 116.4px,#1fe 0 122.5px,#9f6 0 128.6px,#fc0 0 134.8px,#800 0 177.6px,#09f 0 183.8px,#00b 0 189.9px,#009 0"></i><i style="--g:#00e 0 30.6px,#00f 0 36.8px,#00e 0 42.9px,#00f 0 73.5px,#01f 0 85.8px,#02f 0 91.9px,#03f 0 104.1px,#07f 0 110.2px,#0af 0 116.4px,#0df 0 122.5px,#5fa 0 128.6px,#fc0 0 134.8px,#800 0 177.6px,#04f 0 183.8px,#00a 0 189.9px,#009 0"></i><i style="--g:#00a 0 6.1px,#009 0 12.2px,#00a 0 67.4px,#00b 0 79.6px,#00c 0 91.9px,#00d 0 98px,#00e 0 110.2px,#00f 0 122.5px,#01f 0 128.6px,#04f 0 134.8px,#1fe 0 140.9px,#f80 0 147px,#800 0 171.5px,#f70 0 177.6px,#00f 0 183.8px,#00a 0 189.9px,#009 0"></i><i style="--g:#009 0 55.1px,#00a 0 73.5px,#00b 0 85.8px,#00c 0 98px,#00d 0 104.1px,#00e 0 110.2px,#00d 0 116.4px,#00f 0 122.5px,#02f 0 128.6px,#05f 0 134.8px,#3fc 0 140.9px,#900 0 147px,#800 0 171.5px,#cf3 0 177.6px,#00d 0 183.8px,#009 0"></i><i style="--g:#009 0 61.2px,#00a 0 79.6px,#00b 0 91.9px,#00d 0 98px,#00e 0 110.2px,#00f 0 116.4px,#00e 0 122.5px,#00f 0 128.6px,#03f 0 134.8px,#0bf 0 140.9px,#8f7 0 147px,#f90 0 153.1px,#f00 0 159.2px,#f40 0 165.4px,#9f6 0 171.5px,#0df 0 177.6px,#01f 0 183.8px,#00a 0 189.9px,#009 0"></i><i style="--g:#00a 0 55.1px,#00b 0 79.6px,#00c 0 85.8px,#00d 0 91.9px,#00e 0 98px,#00f 0 110.2px,#01f 0 116.4px,#02f 0 122.5px,#04f 0 128.6px,#09f 0 134.8px,#0ff 0 140.9px,#ef1 0 147px,#fb0 0 153.1px,#d00 0 159.2px,#a00 0 165.4px,#f90 0 171.5px,#5fa 0 177.6px,#09f 0 183.8px,#00c 0 189.9px,#009 0"></i><i style="--g:#00b 0 61.2px,#00c 0 73.5px,#00d 0 79.6px,#00e 0 85.8px,#00f 0 116.4px,#04f 0 122.5px,#03f 0 128.6px,#09f 0 134.8px,#0df 0 140.9px,#7f8 0 147px,#f10 0 153.1px,#d00 0 165.4px,#f50 0 171.5px,#6f9 0 177.6px,#05f 0 183.8px,#00c 0 189.9px,#009 0"></i><i style="--g:#009 0 36.8px,#00a 0 61.2px,#00b 0 73.5px,#00c 0 85.8px,#00d 0 91.9px,#00e 0 98px,#00f 0 116.4px,#03f 0 122.5px,#06f 0 128.6px,#0cf 0 134.8px,#4fb 0 140.9px,#fe0 0 147px,#a00 0 153.1px,#800 0 165.4px,#e00 0 171.5px,#ff0 0 177.6px,#09f 0 183.8px,#00e 0 189.9px,#009 0"></i><i style="--g:#009 0 49px,#00a 0 73.5px,#00b 0 79.6px,#00c 0 85.8px,#00d 0 91.9px,#00f 0 110.2px,#03f 0 116.4px,#05f 0 122.5px,#08f 0 128.6px,#2fd 0 134.8px,#af5 0 140.9px,#f70 0 147px,#800 0 165.4px,#e00 0 171.5px,#af5 0 177.6px,#08f 0 183.8px,#00d 0 189.9px,#00a 0"></i><i style="--g:#009 0 49px,#00a 0 67.4px,#00b 0 73.5px,#00c 0 85.8px,#00e 0 91.9px,#00f 0 104.1px,#02f 0 110.2px,#03f 0 116.4px,#07f 0 122.5px,#09f 0 128.6px,#1fe 0 134.8px,#ff0 0 140.9px,#f40 0 147px,#f00 0 153.1px,#800 0 165.4px,#b00 0 171.5px,#af5 0 177.6px,#0cf 0 183.8px,#00d 0 189.9px,#00a 0"></i><i style="--g:#009 0 12.2px,#00a 0 18.4px,#009 0 24.5px,#00a 0 49px,#00b 0 67.4px,#00c 0 73.5px,#00d 0 79.6px,#00e 0 85.8px,#00f 0 98px,#02f 0 104.1px,#05f 0 110.2px,#08f 0 116.4px,#0cf 0 122.5px,#5fa 0 128.6px,#cf3 0 134.8px,#f50 0 140.9px,#b00 0 147px,#800 0 165.4px,#e00 0 171.5px,#fc0 0 177.6px,#08f 0 183.8px,#00e 0 189.9px,#009 0"></i><i style="--g:#00a 0 49px,#00b 0 55.1px,#00c 0 61.2px,#00d 0 67.4px,#00f 0 79.6px,#03f 0 85.8px,#07f 0 91.9px,#0cf 0 98px,#0ff 0 104.1px,#5fa 0 110.2px,#4fb 0 116.4px,#ef1 0 122.5px,#fc0 0 128.6px,#f60 0 134.8px,#f10 0 140.9px,#f60 0 147px,#f30 0 153.1px,#800 0 159.2px,#f10 0 165.4px,#f40 0 171.5px,#ef1 0 177.6px,#07f 0 183.8px,#00c 0 189.9px,#009 0"></i><i style="--g:#00a 0 36.8px,#00b 0 49px,#00d 0 61.2px,#00e 0 67.4px,#02f 0 73.5px,#05f 0 79.6px,#08f 0 85.8px,#0ef 0 91.9px,#2fd 0 98px,#bf4 0 104.1px,#df2 0 110.2px,#fe0 0 116.4px,#f60 0 122.5px,#e00 0 128.6px,#f60 0 134.8px,#f30 0 147px,#b00 0 159.2px,#d00 0 165.4px,#f60 0 171.5px,#9f6 0 177.6px,#0af 0 183.8px,#00d 0 189.9px,#009 0"></i><i style="--g:#00b 0 6.1px,#00a 0 12.2px,#00b 0 42.9px,#00c 0 49px,#00d 0 61.2px,#00f 0 67.4px,#02f 0 73.5px,#05f 0 79.6px,#07f 0 85.8px,#0ef 0 91.9px,#7f8 0 98px,#af5 0 104.1px,#ef1 0 110.2px,#f50 0 122.5px,#800 0 165.4px,#d00 0 171.5px,#fd0 0 177.6px,#0bf 0 183.8px,#00e 0 189.9px,#009 0"></i><i style="--g:#00b 0 36.8px,#00c 0 42.9px,#00b 0 49px,#00d 0 67.4px,#00f 0 79.6px,#01f 0 85.8px,#03f 0 91.9px,#06f 0 98px,#08f 0 104.1px,#0df 0 110.2px,#0ff 0 116.4px,#9f6 0 122.5px,#f90 0 128.6px,#f30 0 134.8px,#900 0 140.9px,#800 0 165.4px,#c00 0 171.5px,#ff0 0 177.6px,#09f 0 183.8px,#00d 0 189.9px,#009 0"></i><i style="--g:#00b 0 12.2px,#00c 0 18.4px,#00b 0 24.5px,#00c 0 30.6px,#00b 0 36.8px,#00c 0 49px,#00d 0 61.2px,#00f 0 79.6px,#01f 0 85.8px,#03f 0 91.9px,#05f 0 98px,#07f 0 104.1px,#0cf 0 110.2px,#0ff 0 122.5px,#df2 0 128.6px,#f70 0 134.8px,#f10 0 140.9px,#800 0 165.4px,#f50 0 171.5px,#cf3 0 177.6px,#08f 0 183.8px,#00c 0 189.9px,#009 0"></i><i style="--g:#00c 0 18.4px,#00d 0 24.5px,#00c 0 30.6px,#00d 0 49px,#00e 0 55.1px,#00f 0 73.5px,#01f 0 79.6px,#02f 0 85.8px,#03f 0 91.9px,#06f 0 98px,#08f 0 104.1px,#09f 0 110.2px,#0df 0 116.4px,#0ff 0 122.5px,#4fb 0 128.6px,#df2 0 134.8px,#fd0 0 140.9px,#f30 0 147px,#800 0 159.2px,#a00 0 165.4px,#fd0 0 171.5px,#bf4 0 177.6px,#07f 0 183.8px,#00c 0 189.9px,#009 0"></i><i style="--g:#00b 0 18.4px,#00c 0 49px,#00d 0 61.2px,#00e 0 67.4px,#00f 0 79.6px,#02f 0 85.8px,#03f 0 91.9px,#04f 0 98px,#05f 0 104.1px,#07f 0 110.2px,#0af 0 116.4px,#0bf 0 122.5px,#0ff 0 128.6px,#7f8 0 134.8px,#5fa 0 140.9px,#fb0 0 147px,#f90 0 153.1px,#f70 0 159.2px,#ef1 0 165.4px,#af5 0 171.5px,#0df 0 177.6px,#00f 0 183.8px,#00a 0 189.9px,#009 0"></i><i style="--g:#00a 0 36.8px,#00b 0 61.2px,#00c 0 67.4px,#00d 0 73.5px,#00f 0 85.8px,#01f 0 91.9px,#02f 0 98px,#04f 0 104.1px,#05f 0 116.4px,#08f 0 122.5px,#0cf 0 128.6px,#7f8 0 134.8px,#fa0 0 140.9px,#f00 0 147px,#900 0 153.1px,#800 0 159.2px,#f10 0 165.4px,#f80 0 171.5px,#4fb 0 177.6px,#04f 0 183.8px,#00b 0 189.9px,#009 0"></i><i style="--g:#009 0 30.6px,#00a 0 49px,#00b 0 55.1px,#00a 0 61.2px,#00b 0 67.4px,#00d 0 79.6px,#00e 0 85.8px,#00f 0 91.9px,#01f 0 98px,#05f 0 104.1px,#07f 0 116.4px,#0af 0 122.5px,#5fa 0 128.6px,#8f7 0 134.8px,#ff0 0 140.9px,#f10 0 147px,#e00 0 153.1px,#f10 0 159.2px,#fb0 0 165.4px,#9f6 0 171.5px,#0ff 0 177.6px,#01f 0 183.8px,#00b 0 189.9px,#009 0"></i><i style="--g:#009 0 36.8px,#00a 0 55.1px,#00b 0 67.4px,#00c 0 73.5px,#00e 0 79.6px,#00f 0 91.9px,#04f 0 98px,#06f 0 104.1px,#0df 0 110.2px,#0ff 0 116.4px,#6f9 0 122.5px,#af5 0 128.6px,#bf4 0 134.8px,#fe0 0 140.9px,#f20 0 147px,#f10 0 153.1px,#f50 0 159.2px,#f90 0 165.4px,#bf4 0 171.5px,#0ff 0 177.6px,#02f 0 183.8px,#00a 0 189.9px,#009 0"></i><i style="--g:#00a 0 18.4px,#009 0 24.5px,#00a 0 30.6px,#00b 0 36.8px,#00a 0 42.9px,#00b 0 55.1px,#00c 0 61.2px,#00e 0 67.4px,#00f 0 73.5px,#02f 0 79.6px,#04f 0 85.8px,#07f 0 91.9px,#0df 0 98px,#2fd 0 104.1px,#9f6 0 110.2px,#bf4 0 116.4px,#fc0 0 122.5px,#f40 0 128.6px,#d00 0 134.8px,#c00 0 140.9px,#b00 0 147px,#800 0 153.1px,#d00 0 159.2px,#f00 0 165.4px,#f70 0 171.5px,#3fc 0 177.6px,#04f 0 183.8px,#00a 0 189.9px,#009 0"></i><i style="--g:#009 0 30.6px,#00a 0 42.9px,#00b 0 55.1px,#00d 0 61.2px,#00e 0 67.4px,#02f 0 73.5px,#03f 0 79.6px,#09f 0 85.8px,#0ef 0 91.9px,#3fc 0 98px,#bf4 0 104.1px,#fd0 0 110.2px,#f30 0 116.4px,#f10 0 122.5px,#b00 0 128.6px,#800 0 159.2px,#d00 0 165.4px,#f10 0 171.5px,#4fb 0 177.6px,#05f 0 183.8px,#00a 0 189.9px,#009 0"></i><i style="--g:#009 0 30.6px,#00a 0 55.1px,#00b 0 61.2px,#00d 0 73.5px,#00f 0 79.6px,#01f 0 85.8px,#03f 0 91.9px,#0af 0 98px,#09f 0 104.1px,#1fe 0 110.2px,#8f7 0 116.4px,#bf4 0 122.5px,#fb0 0 128.6px,#f50 0 134.8px,#f20 0 140.9px,#a00 0 147px,#800 0 159.2px,#f00 0 165.4px,#df2 0 171.5px,#5fa 0 177.6px,#03f 0 183.8px,#00a 0 189.9px,#009 0"></i><i style="--g:#009 0 36.8px,#00a 0 55.1px,#00b 0 61.2px,#00c 0 67.4px,#00d 0 73.5px,#00e 0 79.6px,#00f 0 85.8px,#03f 0 91.9px,#06f 0 98px,#09f 0 104.1px,#0ef 0 110.2px,#5fa 0 116.4px,#8f7 0 122.5px,#fb0 0 128.6px,#f90 0 134.8px,#f00 0 140.9px,#d00 0 147px,#800 0 159.2px,#f10 0 165.4px,#f70 0 171.5px,#6f9 0 177.6px,#03f 0 183.8px,#00a 0 189.9px,#009 0"></i><i style="--g:#00a 0 6.1px,#00b 0 18.4px,#00a 0 24.5px,#00b 0 36.8px,#00c 0 55.1px,#00d 0 61.2px,#00f 0 73.5px,#02f 0 79.6px,#03f 0 85.8px,#07f 0 91.9px,#08f 0 98px,#0bf 0 104.1px,#0cf 0 110.2px,#0df 0 116.4px,#7f8 0 122.5px,#ff0 0 128.6px,#f70 0 134.8px,#e00 0 140.9px,#a00 0 147px,#900 0 153.1px,#800 0 165.4px,#f80 0 171.5px,#6f9 0 177.6px,#04f 0 183.8px,#00b 0 189.9px,#009 0"></i><i style="--g:#00c 0 6.1px,#00b 0 12.2px,#00c 0 42.9px,#00d 0 49px,#00e 0 55.1px,#00f 0 67.4px,#02f 0 73.5px,#03f 0 79.6px,#04f 0 85.8px,#07f 0 91.9px,#0af 0 98px,#0cf 0 104.1px,#1fe 0 110.2px,#9f6 0 116.4px,#cf3 0 122.5px,#f80 0 128.6px,#f40 0 134.8px,#f00 0 147px,#800 0 153.1px,#900 0 159.2px,#f30 0 165.4px,#fe0 0 171.5px,#3fc 0 177.6px,#02f 0 183.8px,#00a 0 189.9px,#009 0"></i><i style="--g:#00c 0 36.8px,#00d 0 42.9px,#00c 0 49px,#00e 0 55.1px,#00f 0 73.5px,#03f 0 79.6px,#05f 0 85.8px,#06f 0 91.9px,#09f 0 98px,#0cf 0 104.1px,#0bf 0 110.2px,#0ff 0 116.4px,#2fd 0 122.5px,#8f7 0 128.6px,#df2 0 134.8px,#fc0 0 140.9px,#a00 0 147px,#c00 0 153.1px,#800 0 159.2px,#f80 0 165.4px,#cf3 0 171.5px,#0ef 0 177.6px,#02f 0 183.8px,#00a 0 189.9px,#009 0"></i><i style="--g:#00b 0 36.8px,#00c 0 42.9px,#00d 0 49px,#00e 0 61.2px,#00f 0 67.4px,#01f 0 73.5px,#03f 0 85.8px,#05f 0 91.9px,#07f 0 98px,#08f 0 104.1px,#0bf 0 110.2px,#0ef 0 116.4px,#0ff 0 122.5px,#6f9 0 128.6px,#8f7 0 134.8px,#af5 0 147px,#df2 0 159.2px,#cf3 0 165.4px,#6f9 0 171.5px,#0df 0 177.6px,#01f 0 183.8px,#00a 0 189.9px,#009 0"></i><i style="--g:#00b 0 30.6px,#00c 0 36.8px,#00b 0 42.9px,#00c 0 49px,#00d 0 55.1px,#00e 0 73.5px,#00f 0 79.6px,#02f 0 85.8px,#04f 0 91.9px,#06f 0 104.1px,#09f 0 110.2px,#0bf 0 116.4px,#0ef 0 122.5px,#0ff 0 128.6px,#6f9 0 134.8px,#1fe 0 140.9px,#4fb 0 147px,#5fa 0 153.1px,#7f8 0 159.2px,#2fd 0 165.4px,#1fe 0 171.5px,#0af 0 177.6px,#00f 0 183.8px,#00a 0 189.9px,#009 0"></i><i style="--g:#00c 0 42.9px,#00d 0 61.2px,#00f 0 73.5px,#01f 0 79.6px,#03f 0 85.8px,#05f 0 91.9px,#08f 0 104.1px,#0cf 0 110.2px,#0ff 0 116.4px,#3fc 0 122.5px,#4fb 0 128.6px,#df2 0 134.8px,#fd0 0 140.9px,#f00 0 147px,#c00 0 153.1px,#f10 0 159.2px,#fa0 0 165.4px,#8f7 0 171.5px,#0ef 0 177.6px,#00e 0 183.8px,#009 0"></i><i style="--g:#00c 0 30.6px,#00d 0 55.1px,#00e 0 61.2px,#00f 0 67.4px,#01f 0 73.5px,#03f 0 79.6px,#05f 0 85.8px,#07f 0 91.9px,#09f 0 98px,#0cf 0 104.1px,#0ff 0 116.4px,#9f6 0 122.5px,#ef1 0 128.6px,#fe0 0 134.8px,#fb0 0 140.9px,#f40 0 147px,#800 0 153.1px,#d00 0 159.2px,#fb0 0 165.4px,#8f7 0 171.5px,#0bf 0 177.6px,#00d 0 183.8px,#00a 0 189.9px,#009 0"></i><i style="--g:#00d 0 12.2px,#00c 0 24.5px,#00d 0 42.9px,#00c 0 49px,#00e 0 55.1px,#00f 0 67.4px,#01f 0 73.5px,#02f 0 79.6px,#05f 0 85.8px,#09f 0 91.9px,#0bf 0 98px,#0cf 0 104.1px,#0ff 0 110.2px,#4fb 0 116.4px,#cf3 0 122.5px,#fb0 0 128.6px,#f60 0 134.8px,#d00 0 140.9px,#f00 0 147px,#c00 0 153.1px,#a00 0 159.2px,#f70 0 165.4px,#af5 0 171.5px,#0cf 0 177.6px,#00e 0 183.8px,#009 0"></i><i style="--g:#00c 0 18.4px,#00d 0 55.1px,#00e 0 61.2px,#00f 0 73.5px,#01f 0 79.6px,#04f 0 85.8px,#06f 0 91.9px,#0bf 0 98px,#0ef 0 104.1px,#5fa 0 110.2px,#8f7 0 116.4px,#9f6 0 122.5px,#fe0 0 128.6px,#f30 0 134.8px,#f40 0 140.9px,#f80 0 147px,#f50 0 153.1px,#f40 0 159.2px,#f70 0 165.4px,#8f7 0 171.5px,#0df 0 177.6px,#00d 0 183.8px,#009 0"></i><i style="--g:#00c 0 18.4px,#00d 0 30.6px,#00c 0 36.8px,#00d 0 49px,#00e 0 61.2px,#00f 0 67.4px,#01f 0 73.5px,#02f 0 79.6px,#04f 0 85.8px,#07f 0 98px,#0df 0 104.1px,#1fe 0 110.2px,#6f9 0 116.4px,#8f7 0 122.5px,#ef1 0 128.6px,#fa0 0 134.8px,#f70 0 140.9px,#f40 0 147px,#f20 0 153.1px,#f50 0 159.2px,#fb0 0 165.4px,#9f6 0 171.5px,#0cf 0 177.6px,#00e 0 183.8px,#009 0"></i><i style="--g:#00c 0 6.1px,#00b 0 12.2px,#00c 0 55.1px,#00d 0 61.2px,#00e 0 73.5px,#01f 0 79.6px,#02f 0 85.8px,#04f 0 91.9px,#06f 0 98px,#09f 0 104.1px,#0bf 0 110.2px,#0ff 0 116.4px,#2fd 0 122.5px,#7f8 0 128.6px,#bf4 0 140.9px,#f80 0 147px,#f60 0 153.1px,#ef1 0 159.2px,#cf3 0 165.4px,#4fb 0 171.5px,#08f 0 177.6px,#00c 0 183.8px,#009 0"></i><i style="--g:#00c 0 6.1px,#00d 0 12.2px,#00c 0 36.8px,#00d 0 42.9px,#00c 0 61.2px,#00d 0 67.4px,#00e 0 73.5px,#00f 0 79.6px,#01f 0 91.9px,#03f 0 98px,#04f 0 104.1px,#06f 0 110.2px,#09f 0 116.4px,#08f 0 122.5px,#0cf 0 128.6px,#0ef 0 134.8px,#2fd 0 140.9px,#9f6 0 147px,#af5 0 153.1px,#8f7 0 159.2px,#4fb 0 165.4px,#0ef 0 171.5px,#07f 0 177.6px,#00c 0 183.8px,#00a 0 189.9px,#009 0"></i><i style="--g:#00c 0 18.4px,#00b 0 49px,#00c 0 55.1px,#00b 0 61.2px,#00c 0 73.5px,#00d 0 79.6px,#00f 0 91.9px,#01f 0 98px,#02f 0 104.1px,#05f 0 110.2px,#07f 0 122.5px,#0cf 0 128.6px,#0ff 0 134.8px,#5fa 0 140.9px,#8f7 0 147px,#fe0 0 159.2px,#6f9 0 165.4px,#0ef 0 171.5px,#06f 0 177.6px,#00c 0 183.8px,#009 0"></i><i style="--g:#00f 0 12.2px,#00e 0 30.6px,#00d 0 61.2px,#00e 0 73.5px,#00f 0 85.8px,#01f 0 91.9px,#02f 0 98px,#04f 0 104.1px,#07f 0 110.2px,#08f 0 116.4px,#0cf 0 122.5px,#2fd 0 128.6px,#9f6 0 134.8px,#af5 0 140.9px,#ef1 0 147px,#fe0 0 153.1px,#ff0 0 159.2px,#7f8 0 165.4px,#0ff 0 171.5px,#06f 0 177.6px,#00c 0 183.8px,#009 0"></i><i style="--g:#04f 0 6.1px,#06f 0 12.2px,#03f 0 18.4px,#02f 0 24.5px,#00f 0 30.6px,#03f 0 36.8px,#01f 0 42.9px,#00f 0 73.5px,#01f 0 85.8px,#04f 0 91.9px,#06f 0 98px,#07f 0 104.1px,#0af 0 110.2px,#0ff 0 122.5px,#bf4 0 128.6px,#ef1 0 134.8px,#9f6 0 140.9px,#f70 0 147px,#f90 0 153.1px,#fc0 0 159.2px,#9f6 0 165.4px,#3fc 0 171.5px,#09f 0 177.6px,#00d 0 183.8px,#009 0"></i><i style="--g:#0ff 0 6.1px,#0cf 0 12.2px,#0af 0 18.4px,#09f 0 30.6px,#05f 0 36.8px,#06f 0 42.9px,#03f 0 49px,#05f 0 55.1px,#03f 0 79.6px,#05f 0 85.8px,#06f 0 91.9px,#07f 0 104.1px,#08f 0 110.2px,#0bf 0 116.4px,#0ff 0 122.5px,#5fa 0 128.6px,#8f7 0 134.8px,#ff0 0 140.9px,#fb0 0 147px,#f50 0 153.1px,#f90 0 159.2px,#df2 0 165.4px,#2fd 0 171.5px,#07f 0 177.6px,#00d 0 183.8px,#009 0"></i><i style="--g:#1fe 0 6.1px,#0ef 0 12.2px,#1fe 0 18.4px,#0bf 0 24.5px,#0ef 0 36.8px,#0af 0 42.9px,#06f 0 55.1px,#05f 0 67.4px,#03f 0 73.5px,#06f 0 79.6px,#07f 0 85.8px,#04f 0 91.9px,#08f 0 104.1px,#0af 0 110.2px,#1fe 0 122.5px,#af5 0 128.6px,#cf3 0 134.8px,#f70 0 140.9px,#f20 0 147px,#f30 0 159.2px,#ff0 0 165.4px,#bf4 0 171.5px,#0df 0 177.6px,#00d 0 183.8px,#00a 0 189.9px,#009 0"></i><i style="--g:#06f 0 6.1px,#05f 0 12.2px,#06f 0 18.4px,#04f 0 24.5px,#05f 0 36.8px,#07f 0 42.9px,#08f 0 49px,#09f 0 55.1px,#0af 0 61.2px,#0bf 0 67.4px,#0ef 0 73.5px,#0ff 0 79.6px,#4fb 0 85.8px,#6f9 0 91.9px,#9f6 0 98px,#af5 0 104.1px,#8f7 0 110.2px,#fd0 0 116.4px,#df2 0 122.5px,#ef1 0 134.8px,#af5 0 140.9px,#cf3 0 147px,#3fc 0 153.1px,#2fd 0 159.2px,#1fe 0 165.4px,#0ef 0 171.5px,#0df 0 177.6px,#03f 0 183.8px,#00d 0 189.9px,#00a 0"></i><i style="--g:#1fe 0 6.1px,#0bf 0 12.2px,#0ef 0 18.4px,#0df 0 24.5px,#0cf 0 30.6px,#0bf 0 42.9px,#0cf 0 55.1px,#08f 0 61.2px,#0ef 0 67.4px,#0cf 0 73.5px,#0df 0 79.6px,#0ff 0 85.8px,#1fe 0 91.9px,#2fd 0 98px,#1fe 0 104.1px,#0ff 0 110.2px,#5fa 0 116.4px,#1fe 0 122.5px,#2fd 0 134.8px,#1fe 0 140.9px,#0ef 0 147px,#0ff 0 153.1px,#0ef 0 159.2px,#1fe 0 165.4px,#0ff 0 171.5px,#0bf 0 177.6px,#03f 0 183.8px,#01f 0 189.9px,#00f 0"></i><i style="--g:#0cf 0 6.1px,#0ff 0 12.2px,#0bf 0 18.4px,#0df 0 24.5px,#0bf 0 30.6px,#09f 0 36.8px,#0cf 0 42.9px,#0bf 0 49px,#0af 0 55.1px,#0bf 0 61.2px,#0cf 0 67.4px,#0af 0 73.5px,#0bf 0 79.6px,#0df 0 85.8px,#0ff 0 91.9px,#0df 0 98px,#0ff 0 104.1px,#1fe 0 116.4px,#3fc 0 122.5px,#7f8 0 128.6px,#0df 0 134.8px,#0ef 0 147px,#0ff 0 153.1px,#0ef 0 159.2px,#0bf 0 165.4px,#0ff 0 171.5px,#0bf 0 177.6px,#03f 0 189.9px,#00f 0"></i><i style="--g:#6f9 0 12.2px,#5fa 0 18.4px,#3fc 0 30.6px,#4fb 0 36.8px,#2fd 0 42.9px,#1fe 0 49px,#5fa 0 55.1px,#3fc 0 61.2px,#2fd 0 67.4px,#4fb 0 73.5px,#9f6 0 79.6px,#4fb 0 85.8px,#7f8 0 91.9px,#8f7 0 98px,#af5 0 104.1px,#fe0 0 110.2px,#9f6 0 116.4px,#8f7 0 122.5px,#af5 0 128.6px,#8f7 0 134.8px,#9f6 0 140.9px,#7f8 0 147px,#3fc 0 153.1px,#2fd 0 165.4px,#1fe 0 171.5px,#0ff 0 177.6px,#07f 0 183.8px,#05f 0 189.9px,#01f 0"></i><i style="--g:#7f8 0 6.1px,#6f9 0 18.4px,#1fe 0 24.5px,#3fc 0 30.6px,#4fb 0 42.9px,#1fe 0 49px,#2fd 0 55.1px,#0ef 0 61.2px,#0ff 0 67.4px,#2fd 0 73.5px,#4fb 0 79.6px,#5fa 0 85.8px,#4fb 0 91.9px,#6f9 0 98px,#9f6 0 104.1px,#7f8 0 116.4px,#cf3 0 122.5px,#5fa 0 128.6px,#9f6 0 134.8px,#2fd 0 140.9px,#4fb 0 147px,#2fd 0 153.1px,#3fc 0 159.2px,#1fe 0 165.4px,#0df 0 171.5px,#0af 0 177.6px,#04f 0 183.8px,#02f 0 189.9px,#00f 0"></i><i style="--g:#3fc 0 6.1px,#1fe 0 12.2px,#3fc 0 18.4px,#0ef 0 24.5px,#2fd 0 30.6px,#1fe 0 36.8px,#0ff 0 42.9px,#2fd 0 49px,#0df 0 55.1px,#0ff 0 67.4px,#0ef 0 73.5px,#1fe 0 79.6px,#0ff 0 85.8px,#6f9 0 91.9px,#4fb 0 98px,#5fa 0 110.2px,#8f7 0 116.4px,#4fb 0 122.5px,#8f7 0 128.6px,#5fa 0 134.8px,#3fc 0 140.9px,#0ff 0 153.1px,#1fe 0 159.2px,#0ef 0 165.4px,#0ff 0 171.5px,#0bf 0 177.6px,#06f 0 183.8px,#02f 0 189.9px,#00e 0"></i><i style="--g:#8f7 0 6.1px,#9f6 0 18.4px,#7f8 0 24.5px,#6f9 0 30.6px,#4fb 0 36.8px,#3fc 0 42.9px,#9f6 0 49px,#5fa 0 55.1px,#6f9 0 61.2px,#5fa 0 73.5px,#7f8 0 79.6px,#6f9 0 85.8px,#7f8 0 91.9px,#9f6 0 98px,#6f9 0 104.1px,#8f7 0 110.2px,#7f8 0 116.4px,#5fa 0 122.5px,#ef1 0 128.6px,#8f7 0 140.9px,#6f9 0 147px,#2fd 0 153.1px,#0ff 0 159.2px,#2fd 0 165.4px,#0ff 0 171.5px,#0ef 0 177.6px,#09f 0 183.8px,#03f 0 189.9px,#00e 0"></i><i style="--g:#5fa 0 6.1px,#9f6 0 12.2px,#8f7 0 18.4px,#9f6 0 24.5px,#cf3 0 30.6px,#bf4 0 36.8px,#df2 0 42.9px,#ff0 0 49px,#df2 0 55.1px,#cf3 0 61.2px,#ef1 0 67.4px,#ff0 0 79.6px,#ef1 0 91.9px,#bf4 0 98px,#ff0 0 104.1px,#fc0 0 110.2px,#fb0 0 116.4px,#ef1 0 122.5px,#df2 0 128.6px,#af5 0 134.8px,#7f8 0 147px,#5fa 0 159.2px,#1fe 0 165.4px,#7f8 0 171.5px,#2fd 0 177.6px,#09f 0 183.8px,#03f 0 189.9px,#00d 0"></i><i style="--g:#1fe 0 6.1px,#3fc 0 12.2px,#af5 0 18.4px,#cf3 0 30.6px,#fc0 0 36.8px,#fe0 0 42.9px,#f50 0 49px,#f00 0 55.1px,#f20 0 61.2px,#c00 0 67.4px,#a00 0 79.6px,#d00 0 85.8px,#b00 0 98px,#d00 0 104.1px,#f10 0 110.2px,#f40 0 116.4px,#f30 0 122.5px,#fc0 0 134.8px,#cf3 0 140.9px,#df2 0 147px,#5fa 0 153.1px,#0ff 0 159.2px,#3fc 0 165.4px,#0df 0 171.5px,#0cf 0 177.6px,#05f 0 183.8px,#00e 0 189.9px,#00a 0"></i><i style="--g:#0cf 0 6.1px,#1fe 0 12.2px,#5fa 0 18.4px,#af5 0 24.5px,#fc0 0 30.6px,#f00 0 36.8px,#800 0 122.5px,#b00 0 128.6px,#f90 0 134.8px,#ff0 0 140.9px,#cf3 0 147px,#4fb 0 153.1px,#0ff 0 165.4px,#0bf 0 171.5px,#08f 0 177.6px,#01f 0 183.8px,#00e 0 189.9px,#00d 0"></i><i style="--g:#3fc 0 6.1px,#2fd 0 12.2px,#1fe 0 18.4px,#6f9 0 24.5px,#cf3 0 30.6px,#fc0 0 36.8px,#f10 0 42.9px,#800 0 110.2px,#d00 0 116.4px,#f00 0 128.6px,#f80 0 134.8px,#cf3 0 140.9px,#7f8 0 147px,#2fd 0 153.1px,#0cf 0 159.2px,#0af 0 165.4px,#07f 0 171.5px,#06f 0 177.6px,#00f 0 183.8px,#00c 0 189.9px,#00d 0"></i><i style="--g:#5fa 0 6.1px,#1fe 0 12.2px,#4fb 0 18.4px,#3fc 0 24.5px,#9f6 0 30.6px,#ff0 0 36.8px,#f50 0 42.9px,#800 0 134.8px,#f30 0 140.9px,#f80 0 147px,#ff0 0 153.1px,#8f7 0 159.2px,#5fa 0 165.4px,#0df 0 171.5px,#0bf 0 177.6px,#02f 0 183.8px,#00e 0 189.9px,#00c 0"></i><i style="--g:#3fc 0 12.2px,#9f6 0 18.4px,#7f8 0 24.5px,#8f7 0 30.6px,#df2 0 36.8px,#f80 0 42.9px,#f00 0 49px,#800 0 140.9px,#900 0 147px,#f10 0 153.1px,#fb0 0 159.2px,#cf3 0 165.4px,#3fc 0 171.5px,#0ff 0 177.6px,#05f 0 183.8px,#00f 0 189.9px,#00d 0"></i><i style="--g:#6f9 0 6.1px,#af5 0 12.2px,#7f8 0 18.4px,#6f9 0 24.5px,#2fd 0 30.6px,#af5 0 36.8px,#ef1 0 42.9px,#f80 0 49px,#d00 0 55.1px,#800 0 165.4px,#900 0 171.5px,#fd0 0 177.6px,#0ff 0 183.8px,#05f 0 189.9px,#00f 0"></i><i style="--g:#7f8 0 6.1px,#8f7 0 12.2px,#2fd 0 18.4px,#0df 0 24.5px,#2fd 0 30.6px,#3fc 0 36.8px,#4fb 0 42.9px,#5fa 0 49px,#bf4 0 55.1px,#fb0 0 61.2px,#800 0"></i><i style="--g:#0ef 0 12.2px,#0df 0 18.4px,#0bf 0 24.5px,#0af 0 30.6px,#0cf 0 36.8px,#0ff 0 42.9px,#1fe 0 49px,#ff0 0 55.1px,#f80 0 61.2px,#800 0"></i><i style="--g:#0cf 0 6.1px,#0ff 0 12.2px,#0af 0 18.4px,#09f 0 24.5px,#0df 0 30.6px,#0bf 0 36.8px,#0df 0 42.9px,#4fb 0 49px,#cf3 0 55.1px,#f70 0 61.2px,#800 0"></i><i style="--g:#0df 0 6.1px,#09f 0 18.4px,#08f 0 24.5px,#09f 0 30.6px,#0df 0 36.8px,#0ff 0 42.9px,#1fe 0 49px,#ff0 0 55.1px,#f60 0 61.2px,#800 0"></i><i style="--g:#07f 0 6.1px,#08f 0 12.2px,#09f 0 18.4px,#07f 0 24.5px,#06f 0 30.6px,#09f 0 36.8px,#0af 0 42.9px,#0bf 0 49px,#1fe 0 55.1px,#7f8 0 61.2px,#f90 0 67.4px,#800 0"></i><i style="--g:#0df 0 6.1px,#0bf 0 12.2px,#0cf 0 18.4px,#0bf 0 24.5px,#0af 0 30.6px,#0ff 0 36.8px,#2fd 0 42.9px,#3fc 0 49px,#cf3 0 55.1px,#f90 0 61.2px,#f40 0 67.4px,#800 0"></i><i style="--g:#09f 0 24.5px,#0af 0 30.6px,#0cf 0 36.8px,#09f 0 42.9px,#0ff 0 49px,#4fb 0 55.1px,#7f8 0 61.2px,#f90 0 67.4px,#f20 0 73.5px,#800 0"></i><i style="--g:#0ff 0 12.2px,#0cf 0 18.4px,#0bf 0 24.5px,#0df 0 30.6px,#0ff 0 36.8px,#0df 0 42.9px,#2fd 0 55.1px,#9f6 0 61.2px,#fc0 0 67.4px,#f10 0 73.5px,#800 0 189.9px,#a00 0"></i><i style="--g:#1fe 0 6.1px,#2fd 0 12.2px,#0ef 0 18.4px,#0ff 0 24.5px,#0ef 0 36.8px,#0cf 0 42.9px,#3fc 0 49px,#8f7 0 55.1px,#af5 0 61.2px,#fd0 0 67.4px,#f00 0 73.5px,#800 0 189.9px,#c00 0"></i><i style="--g:#3fc 0 6.1px,#2fd 0 18.4px,#1fe 0 24.5px,#4fb 0 30.6px,#2fd 0 36.8px,#0ef 0 49px,#3fc 0 55.1px,#9f6 0 61.2px,#fa0 0 67.4px,#800 0"></i><i style="--g:#5fa 0 6.1px,#4fb 0 12.2px,#1fe 0 18.4px,#2fd 0 24.5px,#0ef 0 30.6px,#0ff 0 42.9px,#3fc 0 49px,#af5 0 55.1px,#cf3 0 61.2px,#f60 0 67.4px,#800 0"></i><i style="--g:#0ff 0 6.1px,#0df 0 18.4px,#0bf 0 24.5px,#0af 0 30.6px,#0ef 0 36.8px,#0ff 0 49px,#6f9 0 55.1px,#8f7 0 61.2px,#fc0 0 67.4px,#e00 0 73.5px,#800 0 189.9px,#f20 0"></i><i style="--g:#09f 0 12.2px,#08f 0 18.4px,#09f 0 24.5px,#0af 0 30.6px,#08f 0 36.8px,#0af 0 42.9px,#09f 0 49px,#0ff 0 55.1px,#2fd 0 61.2px,#7f8 0 67.4px,#f70 0 73.5px,#800 0"></i><i style="--g:#02f 0 6.1px,#03f 0 12.2px,#01f 0 18.4px,#02f 0 24.5px,#01f 0 36.8px,#02f 0 42.9px,#05f 0 49px,#09f 0 55.1px,#0af 0 61.2px,#1fe 0 67.4px,#9f6 0 73.5px,#f40 0 79.6px,#800 0 189.9px,#f10 0"></i><i style="--g:#02f 0 6.1px,#00f 0 12.2px,#01f 0 24.5px,#02f 0 42.9px,#05f 0 49px,#06f 0 55.1px,#0af 0 61.2px,#0ff 0 67.4px,#9f6 0 73.5px,#fd0 0 79.6px,#800 0 189.9px,#6f9 0"></i><i style="--g:#02f 0 18.4px,#03f 0 24.5px,#02f 0 36.8px,#03f 0 42.9px,#04f 0 49px,#08f 0 55.1px,#07f 0 61.2px,#0bf 0 67.4px,#0ff 0 73.5px,#af5 0 79.6px,#fa0 0 85.8px,#800 0 189.9px,#f20 0"></i><i style="--g:#07f 0 6.1px,#05f 0 12.2px,#08f 0 18.4px,#05f 0 30.6px,#07f 0 36.8px,#09f 0 42.9px,#0bf 0 55.1px,#0ff 0 61.2px,#5fa 0 67.4px,#af5 0 73.5px,#f80 0 79.6px,#f30 0 85.8px,#800 0 189.9px,#f50 0"></i><i style="--g:#06f 0 6.1px,#07f 0 18.4px,#06f 0 24.5px,#09f 0 30.6px,#07f 0 36.8px,#0bf 0 42.9px,#0cf 0 49px,#2fd 0 61.2px,#9f6 0 67.4px,#df2 0 73.5px,#f40 0 79.6px,#f00 0 85.8px,#800 0 189.9px,#f10 0"></i><i style="--g:#03f 0 6.1px,#05f 0 12.2px,#04f 0 18.4px,#06f 0 30.6px,#0af 0 42.9px,#0ff 0 49px,#1fe 0 55.1px,#6f9 0 61.2px,#df2 0 67.4px,#ff0 0 73.5px,#f40 0 79.6px,#800 0 189.9px,#f00 0"></i><i style="--g:#03f 0 6.1px,#05f 0 18.4px,#06f 0 24.5px,#07f 0 30.6px,#0bf 0 36.8px,#0df 0 49px,#2fd 0 55.1px,#7f8 0 61.2px,#fe0 0 67.4px,#f80 0 73.5px,#f60 0 79.6px,#e00 0 85.8px,#800 0 189.9px,#f90 0"></i><i style="--g:#02f 0 6.1px,#03f 0 18.4px,#05f 0 24.5px,#09f 0 30.6px,#0af 0 36.8px,#0bf 0 42.9px,#0ff 0 49px,#5fa 0 55.1px,#ef1 0 61.2px,#fc0 0 67.4px,#fa0 0 73.5px,#f30 0 79.6px,#c00 0 85.8px,#800 0 189.9px,#2fd 0"></i><i style="--g:#00f 0 12.2px,#02f 0 24.5px,#04f 0 30.6px,#03f 0 36.8px,#07f 0 42.9px,#0cf 0 55.1px,#2fd 0 67.4px,#af5 0 73.5px,#fc0 0 79.6px,#c00 0 85.8px,#800 0 189.9px,#4fb 0"></i><i style="--g:#00e 0 6.1px,#00d 0 12.2px,#00e 0 18.4px,#00f 0 30.6px,#01f 0 36.8px,#04f 0 42.9px,#05f 0 49px,#08f 0 55.1px,#0bf 0 61.2px,#0ff 0 67.4px,#7f8 0 73.5px,#af5 0 79.6px,#f90 0 85.8px,#f30 0 91.9px,#800 0 189.9px,#06f 0"></i><i style="--g:#00d 0 12.2px,#00e 0 18.4px,#00f 0 24.5px,#00e 0 30.6px,#01f 0 36.8px,#02f 0 42.9px,#05f 0 49px,#08f 0 55.1px,#0df 0 61.2px,#0cf 0 67.4px,#4fb 0 73.5px,#9f6 0 79.6px,#fb0 0 85.8px,#f00 0 91.9px,#800 0 183.8px,#f00 0 189.9px,#00f 0"></i><i style="--g:#00b 0 6.1px,#00c 0 12.2px,#00d 0 18.4px,#00c 0 24.5px,#00e 0 30.6px,#00f 0 42.9px,#02f 0 49px,#06f 0 55.1px,#08f 0 61.2px,#0bf 0 67.4px,#1fe 0 73.5px,#5fa 0 79.6px,#fc0 0 85.8px,#f10 0 91.9px,#800 0 183.8px,#c00 0 189.9px,#01f 0"></i><i style="--g:#00b 0 12.2px,#00c 0 18.4px,#00e 0 24.5px,#00d 0 30.6px,#00f 0 42.9px,#03f 0 49px,#05f 0 55.1px,#09f 0 61.2px,#0cf 0 67.4px,#4fb 0 73.5px,#8f7 0 79.6px,#f50 0 85.8px,#d00 0 91.9px,#800 0 189.9px,#01f 0"></i><i style="--g:#00b 0 24.5px,#00c 0 30.6px,#00d 0 36.8px,#00f 0 42.9px,#01f 0 49px,#02f 0 55.1px,#06f 0 61.2px,#08f 0 67.4px,#0ef 0 73.5px,#6f9 0 79.6px,#cf3 0 85.8px,#d00 0 91.9px,#800 0 183.8px,#f70 0 189.9px,#00e 0"></i><i style="--g:#00b 0 12.2px,#00c 0 24.5px,#00d 0 36.8px,#00f 0 42.9px,#01f 0 49px,#03f 0 55.1px,#06f 0 61.2px,#09f 0 67.4px,#0df 0 73.5px,#4fb 0 79.6px,#ff0 0 85.8px,#f20 0 91.9px,#800 0 183.8px,#fe0 0 189.9px,#00d 0"></i><i style="--g:#00c 0 12.2px,#00d 0 24.5px,#00f 0 36.8px,#01f 0 42.9px,#04f 0 49px,#05f 0 55.1px,#07f 0 61.2px,#0af 0 67.4px,#0df 0 73.5px,#3fc 0 79.6px,#cf3 0 85.8px,#fe0 0 91.9px,#900 0 98px,#800 0 183.8px,#fb0 0 189.9px,#00e 0"></i><i style="--g:#00d 0 12.2px,#00e 0 24.5px,#00f 0 36.8px,#02f 0 42.9px,#03f 0 49px,#04f 0 55.1px,#06f 0 61.2px,#09f 0 67.4px,#1fe 0 79.6px,#5fa 0 85.8px,#ff0 0 91.9px,#fa0 0 98px,#f10 0 104.1px,#800 0 183.8px,#af5 0 189.9px,#00d 0"></i><i style="--g:#00c 0 12.2px,#00d 0 24.5px,#00f 0 42.9px,#02f 0 49px,#06f 0 61.2px,#09f 0 67.4px,#0cf 0 73.5px,#0df 0 79.6px,#5fa 0 85.8px,#9f6 0 91.9px,#fb0 0 98px,#f00 0 104.1px,#800 0 183.8px,#2fd 0 189.9px,#00c 0"></i><i style="--g:#00b 0 18.4px,#00c 0 30.6px,#00f 0 42.9px,#02f 0 55.1px,#05f 0 61.2px,#07f 0 67.4px,#0af 0 73.5px,#0ef 0 79.6px,#5fa 0 85.8px,#fe0 0 91.9px,#f60 0 98px,#f30 0 104.1px,#b00 0 110.2px,#800 0 183.8px,#0ef 0 189.9px,#00b 0"></i><i style="--g:#00b 0 12.2px,#00c 0 30.6px,#00e 0 36.8px,#00f 0 49px,#03f 0 55.1px,#05f 0 61.2px,#08f 0 67.4px,#0bf 0 73.5px,#0ef 0 79.6px,#2fd 0 85.8px,#7f8 0 91.9px,#fe0 0 98px,#f70 0 104.1px,#c00 0 110.2px,#800 0 183.8px,#0cf 0 189.9px,#00b 0"></i><i style="--g:#00b 0 18.4px,#00d 0 30.6px,#00e 0 36.8px,#00f 0 42.9px,#02f 0 49px,#03f 0 55.1px,#05f 0 61.2px,#08f 0 67.4px,#0bf 0 73.5px,#1fe 0 79.6px,#8f7 0 85.8px,#ff0 0 91.9px,#f80 0 98px,#f70 0 104.1px,#f10 0 110.2px,#800 0 177.6px,#d00 0 183.8px,#02f 0 189.9px,#00a 0"></i><i style="--g:#00b 0 6.1px,#00c 0 30.6px,#00e 0 42.9px,#00f 0 55.1px,#02f 0 61.2px,#05f 0 67.4px,#06f 0 73.5px,#0bf 0 79.6px,#0ef 0 91.9px,#bf4 0 104.1px,#f20 0 110.2px,#900 0 116.4px,#800 0 177.6px,#f30 0 183.8px,#01f 0 189.9px,#00a 0"></i><i style="--g:#00a 0 12.2px,#00b 0 24.5px,#00c 0 36.8px,#00d 0 49px,#00f 0 55.1px,#01f 0 61.2px,#03f 0 67.4px,#05f 0 73.5px,#0af 0 85.8px,#0ff 0 91.9px,#6f9 0 98px,#ef1 0 104.1px,#f60 0 110.2px,#800 0 177.6px,#f80 0 183.8px,#00f 0 189.9px,#00a 0"></i><i style="--g:#00b 0 6.1px,#00c 0 30.6px,#00d 0 36.8px,#00e 0 49px,#00f 0 55.1px,#02f 0 67.4px,#07f 0 73.5px,#08f 0 85.8px,#0ff 0 91.9px,#2fd 0 98px,#6f9 0 104.1px,#cf3 0 110.2px,#f40 0 116.4px,#800 0 177.6px,#df2 0 183.8px,#00d 0 189.9px,#009 0"></i><i style="--g:#00c 0 6.1px,#00d 0 12.2px,#00c 0 18.4px,#00d 0 36.8px,#00f 0 42.9px,#00e 0 49px,#00f 0 55.1px,#02f 0 61.2px,#04f 0 67.4px,#07f 0 73.5px,#08f 0 79.6px,#0bf 0 85.8px,#0ef 0 91.9px,#4fb 0 98px,#bf4 0 104.1px,#ff0 0 116.4px,#c00 0 122.5px,#800 0 177.6px,#07f 0 183.8px,#00a 0 189.9px,#009 0"></i><i style="--g:#00f 0 6.1px,#00e 0 12.2px,#00f 0 36.8px,#01f 0 42.9px,#02f 0 49px,#03f 0 55.1px,#04f 0 67.4px,#06f 0 73.5px,#09f 0 79.6px,#0bf 0 85.8px,#0ef 0 91.9px,#0df 0 98px,#1fe 0 104.1px,#4fb 0 110.2px,#bf4 0 116.4px,#fe0 0 128.6px,#f30 0 134.8px,#f20 0 140.9px,#d00 0 147px,#800 0 165.4px,#f10 0 171.5px,#ff0 0 177.6px,#07f 0 183.8px,#00c 0 189.9px,#009 0"></i><i style="--g:#00b 0 6.1px,#00c 0 24.5px,#00d 0 36.8px,#00e 0 49px,#00f 0 67.4px,#03f 0 73.5px,#02f 0 79.6px,#06f 0 91.9px,#07f 0 98px,#0cf 0 104.1px,#0ef 0 110.2px,#1fe 0 116.4px,#5fa 0 122.5px,#8f7 0 128.6px,#cf3 0 134.8px,#fb0 0 140.9px,#800 0 153.1px,#a00 0 159.2px,#f10 0 165.4px,#ff0 0 171.5px,#5fa 0 177.6px,#04f 0 183.8px,#00c 0 189.9px,#009 0"></i><i style="--g:#00b 0 36.8px,#00c 0 42.9px,#00d 0 55.1px,#00e 0 61.2px,#00f 0 73.5px,#03f 0 79.6px,#02f 0 85.8px,#05f 0 91.9px,#07f 0 98px,#08f 0 104.1px,#0cf 0 110.2px,#0ff 0 116.4px,#2fd 0 122.5px,#6f9 0 128.6px,#fe0 0 134.8px,#f80 0 140.9px,#e00 0 147px,#b00 0 153.1px,#800 0 159.2px,#f00 0 165.4px,#ff0 0 171.5px,#6f9 0 177.6px,#06f 0 183.8px,#00b 0 189.9px,#009 0"></i><i style="--g:#00b 0 24.5px,#00c 0 30.6px,#00b 0 36.8px,#00c 0 49px,#00d 0 61.2px,#00e 0 67.4px,#00f 0 73.5px,#01f 0 79.6px,#02f 0 85.8px,#03f 0 91.9px,#05f 0 98px,#09f 0 104.1px,#0af 0 110.2px,#0ff 0 116.4px,#4fb 0 122.5px,#bf4 0 128.6px,#fd0 0 134.8px,#f70 0 140.9px,#a00 0 147px,#800 0 159.2px,#c00 0 165.4px,#f40 0 171.5px,#8f7 0 177.6px,#07f 0 183.8px,#00b 0 189.9px,#009 0"></i><i style="--g:#00a 0 42.9px,#00b 0 55.1px,#00c 0 67.4px,#00e 0 79.6px,#00f 0 85.8px,#01f 0 91.9px,#02f 0 98px,#04f 0 104.1px,#08f 0 110.2px,#0df 0 116.4px,#5fa 0 122.5px,#df2 0 128.6px,#f60 0 134.8px,#f50 0 140.9px,#800 0 159.2px,#900 0 165.4px,#f70 0 171.5px,#ef1 0 177.6px,#06f 0 183.8px,#00c 0 189.9px,#009 0"></i><i style="--g:#00a 0 49px,#00b 0 67.4px,#00c 0 73.5px,#00e 0 85.8px,#00f 0 98px,#02f 0 104.1px,#03f 0 110.2px,#07f 0 116.4px,#0af 0 122.5px,#1fe 0 128.6px,#6f9 0 134.8px,#f60 0 140.9px,#c00 0 147px,#800 0 159.2px,#f00 0 165.4px,#ff0 0 171.5px,#2fd 0 177.6px,#02f 0 183.8px,#00b 0 189.9px,#009 0"></i><i style="--g:#009 0 24.5px,#00a 0 30.6px,#009 0 36.8px,#00a 0 61.2px,#00b 0 73.5px,#00c 0 79.6px,#00d 0 85.8px,#00e 0 91.9px,#00f 0 104.1px,#02f 0 110.2px,#03f 0 116.4px,#0af 0 122.5px,#0df 0 128.6px,#af5 0 134.8px,#f90 0 140.9px,#c00 0 147px,#800 0 159.2px,#d00 0 165.4px,#f90 0 171.5px,#6f9 0 177.6px,#05f 0 183.8px,#00b 0 189.9px,#009 0"></i><i style="--g:#00a 0 36.8px,#00b 0 42.9px,#00a 0 49px,#00b 0 67.4px,#00c 0 73.5px,#00d 0 79.6px,#00e 0 85.8px,#00f 0 91.9px,#02f 0 98px,#04f 0 104.1px,#08f 0 110.2px,#0cf 0 116.4px,#5fa 0 122.5px,#ef1 0 128.6px,#fb0 0 134.8px,#800 0 159.2px,#900 0 165.4px,#f00 0 171.5px,#bf4 0 177.6px,#05f 0 183.8px,#00b 0 189.9px,#009 0"></i><i style="--g:#00a 0 42.9px,#00b 0 67.4px,#00d 0 73.5px,#00c 0 79.6px,#00d 0 85.8px,#00f 0 91.9px,#02f 0 98px,#05f 0 104.1px,#08f 0 110.2px,#0ef 0 116.4px,#6f9 0 122.5px,#bf4 0 128.6px,#f40 0 134.8px,#800 0 165.4px,#fa0 0 171.5px,#8f7 0 177.6px,#03f 0 183.8px,#00a 0 189.9px,#009 0"></i><i style="--g:#00b 0 6.1px,#00c 0 30.6px,#00b 0 36.8px,#00c 0 49px,#00d 0 55.1px,#00c 0 61.2px,#00d 0 67.4px,#00e 0 79.6px,#00f 0 85.8px,#03f 0 91.9px,#05f 0 98px,#08f 0 104.1px,#0ef 0 110.2px,#6f9 0 116.4px,#cf3 0 122.5px,#f90 0 128.6px,#f30 0 134.8px,#e00 0 140.9px,#900 0 147px,#800 0 159.2px,#d00 0 165.4px,#fb0 0 171.5px,#5fa 0 177.6px,#03f 0 183.8px,#00a 0 189.9px,#009 0"></i><i style="--g:#00a 0 61.2px,#00b 0 67.4px,#00c 0 79.6px,#00d 0 85.8px,#00e 0 91.9px,#01f 0 98px,#02f 0 104.1px,#05f 0 110.2px,#0af 0 116.4px,#0ff 0 122.5px,#8f7 0 128.6px,#ef1 0 134.8px,#df2 0 140.9px,#f60 0 147px,#b00 0 153.1px,#800 0 159.2px,#f30 0 165.4px,#df2 0 171.5px,#5fa 0 177.6px,#02f 0 183.8px,#00a 0 189.9px,#009 0"></i><i style="--g:#00b 0 49px,#00c 0 67.4px,#00d 0 79.6px,#00f 0 85.8px,#01f 0 91.9px,#03f 0 98px,#07f 0 104.1px,#0cf 0 110.2px,#1fe 0 116.4px,#9f6 0 122.5px,#ef1 0 128.6px,#f50 0 134.8px,#f70 0 147px,#f00 0 153.1px,#f30 0 159.2px,#f90 0 165.4px,#8f7 0 171.5px,#2fd 0 177.6px,#02f 0 183.8px,#00a 0 189.9px,#009 0"></i><i style="--g:#00a 0 36.8px,#00b 0 42.9px,#00a 0 49px,#00b 0 67.4px,#00c 0 79.6px,#00e 0 91.9px,#00f 0 98px,#06f 0 110.2px,#09f 0 116.4px,#0bf 0 122.5px,#2fd 0 128.6px,#5fa 0 134.8px,#3fc 0 140.9px,#4fb 0 147px,#7f8 0 153.1px,#cf3 0 159.2px,#8f7 0 165.4px,#2fd 0 171.5px,#0ef 0 177.6px,#00f 0 183.8px,#00a 0 189.9px,#009 0"></i><i style="--g:#00d 0 12.2px,#00e 0 18.4px,#00d 0 49px,#00e 0 55.1px,#00d 0 61.2px,#00e 0 67.4px,#00f 0 85.8px,#03f 0 91.9px,#07f 0 98px,#0af 0 104.1px,#0ef 0 110.2px,#4fb 0 116.4px,#af5 0 128.6px,#ff0 0 134.8px,#fd0 0 140.9px,#ef1 0 147px,#ff0 0 153.1px,#cf3 0 159.2px,#6f9 0 165.4px,#0ff 0 171.5px,#0bf 0 177.6px,#00f 0 183.8px,#00a 0 189.9px,#009 0"></i><i style="--g:#00b 0 12.2px,#00a 0 24.5px,#00b 0 67.4px,#00c 0 79.6px,#00f 0 91.9px,#02f 0 98px,#05f 0 104.1px,#06f 0 110.2px,#0df 0 116.4px,#3fc 0 122.5px,#7f8 0 128.6px,#ff0 0 134.8px,#fb0 0 140.9px,#c00 0 147px,#800 0 159.2px,#f20 0 165.4px,#ff0 0 171.5px,#0ef 0 177.6px,#00f 0 183.8px,#00a 0 189.9px,#009 0"></i><i style="--g:#00c 0 6.1px,#00b 0 12.2px,#00c 0 18.4px,#00b 0 24.5px,#00c 0 30.6px,#00b 0 36.8px,#00c 0 42.9px,#00b 0 55.1px,#00c 0 61.2px,#00d 0 79.6px,#00f 0 85.8px,#01f 0 91.9px,#02f 0 98px,#05f 0 104.1px,#09f 0 110.2px,#0ef 0 116.4px,#6f9 0 122.5px,#cf3 0 128.6px,#fc0 0 134.8px,#f70 0 140.9px,#e00 0 147px,#d00 0 153.1px,#900 0 159.2px,#f20 0 165.4px,#9f6 0 171.5px,#0ff 0 177.6px,#01f 0 183.8px,#00a 0 189.9px,#009 0"></i><i style="--g:#00a 0 42.9px,#00b 0 73.5px,#00c 0 79.6px,#00d 0 85.8px,#00e 0 91.9px,#00f 0 98px,#02f 0 104.1px,#03f 0 110.2px,#08f 0 116.4px,#0bf 0 122.5px,#3fc 0 128.6px,#8f7 0 134.8px,#ff0 0 140.9px,#f70 0 147px,#f00 0 153.1px,#f40 0 159.2px,#fa0 0 165.4px,#bf4 0 171.5px,#0af 0 177.6px,#00f 0 183.8px,#009 0"></i><i style="--g:#00b 0 67.4px,#00c 0 73.5px,#00d 0 85.8px,#00f 0 98px,#03f 0 104.1px,#06f 0 110.2px,#0af 0 116.4px,#0ff 0 122.5px,#3fc 0 128.6px,#df2 0 134.8px,#f10 0 140.9px,#f40 0 147px,#b00 0 159.2px,#f30 0 165.4px,#ff0 0 171.5px,#0ff 0 177.6px,#00f 0 183.8px,#00a 0 189.9px,#009 0"></i><i style="--g:#009 0 18.4px,#00a 0 24.5px,#009 0 36.8px,#00a 0 42.9px,#009 0 49px,#00a 0 73.5px,#00b 0 79.6px,#00c 0 85.8px,#00d 0 91.9px,#00f 0 104.1px,#04f 0 110.2px,#07f 0 116.4px,#0af 0 122.5px,#7f8 0 128.6px,#ff0 0 134.8px,#fa0 0 140.9px,#d00 0 147px,#c00 0 153.1px,#800 0 159.2px,#f60 0 165.4px,#df2 0 171.5px,#0ef 0 177.6px,#00f 0 183.8px,#00a 0 189.9px,#009 0"></i><i style="--g:#00a 0 49px,#00b 0 55.1px,#00a 0 67.4px,#00b 0 79.6px,#00d 0 85.8px,#00e 0 91.9px,#00f 0 98px,#04f 0 104.1px,#06f 0 110.2px,#0bf 0 116.4px,#0ff 0 122.5px,#6f9 0 128.6px,#fd0 0 134.8px,#f90 0 140.9px,#800 0 159.2px,#b00 0 165.4px,#fe0 0 171.5px,#2fd 0 177.6px,#00f 0 183.8px,#00a 0 189.9px,#009 0"></i><i style="--g:#00a 0 30.6px,#009 0 36.8px,#00a 0 61.2px,#00b 0 73.5px,#00c 0 79.6px,#00d 0 85.8px,#00e 0 91.9px,#00f 0 98px,#03f 0 104.1px,#04f 0 110.2px,#0bf 0 116.4px,#4fb 0 128.6px,#fc0 0 134.8px,#f50 0 140.9px,#c00 0 147px,#e00 0 153.1px,#900 0 159.2px,#f80 0 165.4px,#ff0 0 171.5px,#0ff 0 177.6px,#00f 0 183.8px,#00a 0 189.9px,#009 0"></i><i style="--g:#00a 0 6.1px,#009 0 12.2px,#00a 0 24.5px,#009 0 30.6px,#00a 0 67.4px,#00b 0 73.5px,#00c 0 85.8px,#00d 0 91.9px,#00e 0 98px,#00f 0 104.1px,#02f 0 110.2px,#04f 0 116.4px,#07f 0 122.5px,#0ff 0 128.6px,#ff0 0 134.8px,#f50 0 140.9px,#f60 0 147px,#800 0 153.1px,#900 0 159.2px,#f00 0 165.4px,#fc0 0 171.5px,#1fe 0 177.6px,#00f 0 183.8px,#009 0"></i><i style="--g:#009 0 49px,#00a 0 67.4px,#00b 0 79.6px,#00c 0 85.8px,#00d 0 91.9px,#00f 0 104.1px,#03f 0 110.2px,#05f 0 116.4px,#0cf 0 122.5px,#4fb 0 128.6px,#9f6 0 134.8px,#df2 0 140.9px,#f20 0 147px,#800 0 159.2px,#f40 0 165.4px,#7f8 0 171.5px,#0af 0 177.6px,#00f 0 183.8px,#00a 0 189.9px,#009 0"></i><i style="--g:#009 0 55.1px,#00a 0 73.5px,#00b 0 79.6px,#00c 0 91.9px,#00d 0 98px,#00e 0 104.1px,#01f 0 110.2px,#03f 0 116.4px,#04f 0 122.5px,#0bf 0 128.6px,#2fd 0 134.8px,#fb0 0 140.9px,#f00 0 147px,#800 0 159.2px,#f60 0 165.4px,#fc0 0 171.5px,#0ef 0 177.6px,#00f 0 183.8px,#009 0"></i><i style="--g:#00b 0 6.1px,#00a 0 12.2px,#00b 0 24.5px,#00a 0 30.6px,#00b 0 36.8px,#00a 0 49px,#00b 0 67.4px,#00c 0 73.5px,#00d 0 79.6px,#00e 0 85.8px,#00f 0 91.9px,#01f 0 98px,#04f 0 104.1px,#07f 0 110.2px,#0af 0 116.4px,#6f9 0 122.5px,#df2 0 128.6px,#f10 0 134.8px,#900 0 140.9px,#800 0 165.4px,#f90 0 171.5px,#5fa 0 177.6px,#02f 0 183.8px,#00a 0 189.9px,#009 0"></i><i style="--g:#00a 0 42.9px,#00b 0 49px,#00a 0 61.2px,#00b 0 73.5px,#00c 0 79.6px,#00d 0 85.8px,#00e 0 91.9px,#00f 0 98px,#01f 0 104.1px,#05f 0 110.2px,#08f 0 116.4px,#0ef 0 122.5px,#ff0 0 134.8px,#f00 0 140.9px,#f20 0 147px,#800 0 159.2px,#f50 0 165.4px,#ff0 0 171.5px,#0ff 0 177.6px,#00f 0 183.8px,#009 0"></i><i style="--g:#00b 0 6.1px,#00a 0 24.5px,#00b 0 30.6px,#00a 0 49px,#00b 0 67.4px,#00c 0 79.6px,#00e 0 85.8px,#00f 0 98px,#03f 0 104.1px,#06f 0 110.2px,#09f 0 116.4px,#0ff 0 122.5px,#6f9 0 128.6px,#bf4 0 134.8px,#fb0 0 140.9px,#f50 0 153.1px,#f20 0 159.2px,#fb0 0 165.4px,#ff0 0 171.5px,#0ff 0 177.6px,#00f 0 183.8px,#00a 0 189.9px,#009 0"></i><i style="--g:#00a 0 12.2px,#00b 0 18.4px,#00a 0 24.5px,#00b 0 61.2px,#00c 0 79.6px,#00d 0 85.8px,#00e 0 91.9px,#00f 0 98px,#01f 0 104.1px,#05f 0 110.2px,#07f 0 116.4px,#0cf 0 122.5px,#1fe 0 128.6px,#af5 0 134.8px,#fc0 0 140.9px,#f90 0 147px,#d00 0 153.1px,#f70 0 165.4px,#fe0 0 171.5px,#0ef 0 177.6px,#00f 0 183.8px,#00a 0 189.9px,#009 0"></i><i style="--g:#00a 0 6.1px,#00b 0 12.2px,#00a 0 18.4px,#00b 0 24.5px,#00a 0 42.9px,#00b 0 67.4px,#00c 0 73.5px,#00d 0 85.8px,#00f 0 98px,#02f 0 104.1px,#06f 0 110.2px,#0af 0 116.4px,#0ef 0 122.5px,#8f7 0 128.6px,#cf3 0 134.8px,#fc0 0 140.9px,#f90 0 147px,#f40 0 153.1px,#f20 0 159.2px,#f70 0 165.4px,#df2 0 171.5px,#1fe 0 177.6px,#00f 0 183.8px,#009 0"></i><i style="--g:#00d 0 18.4px,#00c 0 30.6px,#00d 0 42.9px,#00c 0 49px,#00d 0 55.1px,#00e 0 67.4px,#00f 0 79.6px,#02f 0 85.8px,#04f 0 91.9px,#08f 0 98px,#0cf 0 104.1px,#0ff 0 110.2px,#3fc 0 116.4px,#8f7 0 128.6px,#cf3 0 134.8px,#af5 0 140.9px,#8f7 0 147px,#bf4 0 153.1px,#cf3 0 159.2px,#8f7 0 165.4px,#9f6 0 171.5px,#1fe 0 177.6px,#00f 0 183.8px,#00a 0 189.9px,#009 0"></i><i style="--g:#00b 0 49px,#00c 0 61.2px,#00d 0 67.4px,#00e 0 73.5px,#00f 0 79.6px,#01f 0 85.8px,#03f 0 91.9px,#04f 0 98px,#08f 0 104.1px,#0af 0 110.2px,#0bf 0 116.4px,#0cf 0 122.5px,#0ff 0 128.6px,#1fe 0 134.8px,#2fd 0 147px,#4fb 0 153.1px,#0ff 0 159.2px,#2fd 0 165.4px,#0df 0 171.5px,#0bf 0 177.6px,#00f 0 183.8px,#00a 0 189.9px,#009 0"></i><i style="--g:#00b 0 6.1px,#00c 0 55.1px,#00d 0 67.4px,#00e 0 79.6px,#00f 0 85.8px,#03f 0 91.9px,#06f 0 98px,#05f 0 104.1px,#09f 0 110.2px,#0cf 0 122.5px,#0ff 0 128.6px,#0df 0 134.8px,#0ef 0 147px,#0df 0 153.1px,#2fd 0 159.2px,#0ff 0 171.5px,#0cf 0 177.6px,#00d 0 183.8px,#00a 0 189.9px,#009 0"></i><i style="--g:#009 0 12.2px,#00a 0 24.5px,#009 0 30.6px,#00a 0 36.8px,#009 0 42.9px,#00a 0 49px,#009 0 55.1px,#00a 0 73.5px,#00b 0 79.6px,#00c 0 85.8px,#00d 0 91.9px,#00e 0 98px,#00f 0 104.1px,#03f 0 116.4px,#06f 0 122.5px,#09f 0 128.6px,#0cf 0 134.8px,#0af 0 147px,#07f 0 153.1px,#09f 0 171.5px,#05f 0 177.6px,#00d 0 183.8px,#00a 0 189.9px,#009 0"></i><i style="--g:#009 0 67.4px,#00a 0 79.6px,#00b 0 85.8px,#00c 0 91.9px,#00d 0 98px,#00f 0 110.2px,#01f 0 116.4px,#04f 0 122.5px,#06f 0 128.6px,#08f 0 134.8px,#09f 0 140.9px,#07f 0 147px,#09f 0 153.1px,#0af 0 159.2px,#09f 0 165.4px,#06f 0 171.5px,#05f 0 177.6px,#00e 0 183.8px,#009 0"></i><i style="--g:#009 0 55.1px,#00a 0 67.4px,#00b 0 79.6px,#00c 0 85.8px,#00e 0 91.9px,#00f 0 98px,#01f 0 104.1px,#02f 0 110.2px,#04f 0 116.4px,#05f 0 122.5px,#07f 0 128.6px,#08f 0 134.8px,#0af 0 140.9px,#0cf 0 147px,#0bf 0 153.1px,#09f 0 165.4px,#08f 0 171.5px,#05f 0 177.6px,#00d 0 183.8px,#00a 0 189.9px,#009 0"></i><i style="--g:#009 0 12.2px,#00a 0 18.4px,#009 0 24.5px,#00a 0 30.6px,#009 0 42.9px,#00a 0 61.2px,#00b 0 73.5px,#00d 0 79.6px,#00e 0 85.8px,#00f 0 98px,#03f 0 104.1px,#07f 0 122.5px,#09f 0 147px,#0bf 0 153.1px,#0df 0 159.2px,#0cf 0 165.4px,#08f 0 171.5px,#05f 0 177.6px,#00d 0 183.8px,#00a 0 189.9px,#009 0"></i><i style="--g:#00a 0 6.1px,#00b 0 12.2px,#00a 0 55.1px,#00b 0 61.2px,#00c 0 73.5px,#00d 0 79.6px,#00e 0 85.8px,#00f 0 91.9px,#01f 0 98px,#02f 0 104.1px,#06f 0 110.2px,#08f 0 116.4px,#09f 0 122.5px,#0bf 0 128.6px,#0af 0 134.8px,#0bf 0 147px,#0ef 0 153.1px,#0cf 0 159.2px,#0bf 0 165.4px,#08f 0 171.5px,#06f 0 177.6px,#00d 0 183.8px,#00a 0 189.9px,#009 0"></i><i style="--g:#00b 0 61.2px,#00c 0 67.4px,#00d 0 79.6px,#00f 0 85.8px,#00e 0 91.9px,#01f 0 98px,#03f 0 104.1px,#07f 0 110.2px,#08f 0 122.5px,#0cf 0 140.9px,#0ef 0 147px,#0cf 0 153.1px,#0bf 0 159.2px,#0df 0 165.4px,#0bf 0 171.5px,#07f 0 177.6px,#00f 0 183.8px,#00a 0 189.9px,#009 0"></i><i style="--g:#00e 0 6.1px,#00d 0 12.2px,#00e 0 18.4px,#00d 0 30.6px,#00c 0 49px,#00b 0 67.4px,#00c 0 79.6px,#00e 0 91.9px,#00f 0 110.2px,#02f 0 116.4px,#03f 0 122.5px,#05f 0 134.8px,#06f 0 140.9px,#05f 0 147px,#07f 0 153.1px,#08f 0 165.4px,#07f 0 171.5px,#05f 0 177.6px,#00c 0 183.8px,#00a 0 189.9px,#009 0"></i><i style="--g:#04f 0 12.2px,#03f 0 18.4px,#00f 0 42.9px,#00e 0 55.1px,#00d 0 61.2px,#00c 0 67.4px,#00d 0 79.6px,#00f 0 91.9px,#01f 0 98px,#02f 0 104.1px,#04f 0 110.2px,#06f 0 116.4px,#07f 0 122.5px,#09f 0 128.6px,#0af 0 134.8px,#09f 0 140.9px,#0af 0 147px,#0ef 0 153.1px,#0cf 0 159.2px,#0af 0 165.4px,#0bf 0 171.5px,#08f 0 177.6px,#00d 0 183.8px,#00a 0 189.9px,#009 0"></i><i style="--g:#01f 0 6.1px,#00f 0 18.4px,#00e 0 24.5px,#00d 0 42.9px,#00c 0 49px,#00b 0 55.1px,#00a 0 61.2px,#00b 0 73.5px,#00c 0 79.6px,#00d 0 91.9px,#00f 0 98px,#01f 0 104.1px,#03f 0 110.2px,#04f 0 116.4px,#07f 0 122.5px,#09f 0 128.6px,#0bf 0 134.8px,#0af 0 153.1px,#0cf 0 159.2px,#0df 0 165.4px,#09f 0 171.5px,#06f 0 177.6px,#00e 0 183.8px,#009 0"></i><i style="--g:#00d 0 6.1px,#00c 0 12.2px,#00b 0 18.4px,#00c 0 24.5px,#00b 0 30.6px,#00a 0 67.4px,#00b 0 79.6px,#00c 0 85.8px,#00d 0 91.9px,#00f 0 104.1px,#03f 0 110.2px,#07f 0 116.4px,#05f 0 122.5px,#08f 0 128.6px,#09f 0 134.8px,#0af 0 140.9px,#0bf 0 147px,#0ef 0 153.1px,#0cf 0 165.4px,#0af 0 171.5px,#07f 0 177.6px,#00e 0 183.8px,#00a 0 189.9px,#009 0"></i><i style="--g:#00c 0 12.2px,#00b 0 30.6px,#00a 0 36.8px,#00b 0 42.9px,#00a 0 79.6px,#00c 0 91.9px,#00d 0 98px,#00e 0 104.1px,#00f 0 110.2px,#02f 0 116.4px,#05f 0 122.5px,#07f 0 128.6px,#08f 0 134.8px,#09f 0 147px,#0bf 0 153.1px,#09f 0 159.2px,#0af 0 165.4px,#0cf 0 171.5px,#06f 0 177.6px,#00d 0 183.8px,#00a 0 189.9px,#009 0"></i><i style="--g:#00a 0 73.5px,#00b 0 79.6px,#00c 0 91.9px,#00d 0 98px,#00e 0 104.1px,#00f 0 110.2px,#02f 0 116.4px,#03f 0 122.5px,#06f 0 128.6px,#09f 0 134.8px,#07f 0 147px,#0df 0 153.1px,#08f 0 159.2px,#0bf 0 165.4px,#0af 0 171.5px,#05f 0 177.6px,#00e 0 183.8px,#00a 0 189.9px,#009 0"></i><i style="--g:#00b 0 55.1px,#00c 0 67.4px,#00d 0 73.5px,#00e 0 79.6px,#00f 0 91.9px,#02f 0 98px,#06f 0 104.1px,#05f 0 110.2px,#08f 0 116.4px,#0af 0 122.5px,#0ef 0 128.6px,#0bf 0 134.8px,#0ff 0 140.9px,#0ef 0 147px,#0df 0 153.1px,#0ff 0 159.2px,#0bf 0 165.4px,#0df 0 171.5px,#09f 0 177.6px,#00e 0 183.8px,#00a 0 189.9px,#009 0"></i><i style="--g:#00b 0 6.1px,#00c 0 12.2px,#00b 0 24.5px,#00c 0 36.8px,#00b 0 42.9px,#00c 0 55.1px,#00d 0 61.2px,#00e 0 73.5px,#00f 0 79.6px,#01f 0 85.8px,#03f 0 98px,#05f 0 104.1px,#08f 0 110.2px,#0bf 0 116.4px,#0df 0 122.5px,#0ff 0 128.6px,#0ef 0 140.9px,#0ff 0 159.2px,#0df 0 165.4px,#0ef 0 171.5px,#08f 0 177.6px,#00e 0 183.8px,#009 0"></i><i style="--g:#00c 0 6.1px,#00b 0 36.8px,#00c 0 55.1px,#00e 0 67.4px,#00f 0 79.6px,#03f 0 85.8px,#04f 0 91.9px,#06f 0 98px,#09f 0 104.1px,#0df 0 110.2px,#0ff 0 116.4px,#0ef 0 122.5px,#0ff 0 134.8px,#2fd 0 140.9px,#4fb 0 147px,#2fd 0 153.1px,#1fe 0 159.2px,#3fc 0 165.4px,#0ff 0 171.5px,#0df 0 177.6px,#00e 0 183.8px,#00a 0 189.9px,#009 0"></i><i style="--g:#00c 0 24.5px,#00d 0 30.6px,#00c 0 36.8px,#00d 0 55.1px,#00e 0 61.2px,#00f 0 73.5px,#02f 0 79.6px,#04f 0 85.8px,#07f 0 98px,#0bf 0 110.2px,#0ff 0 116.4px,#2fd 0 122.5px,#1fe 0 128.6px,#2fd 0 134.8px,#4fb 0 140.9px,#5fa 0 147px,#8f7 0 153.1px,#9f6 0 159.2px,#0ff 0 165.4px,#4fb 0 171.5px,#0df 0 177.6px,#00f 0 183.8px,#00a 0 189.9px,#009 0"></i><i style="--g:#00c 0 18.4px,#00d 0 55.1px,#00e 0 61.2px,#00f 0 67.4px,#01f 0 73.5px,#03f 0 79.6px,#05f 0 85.8px,#07f 0 91.9px,#09f 0 98px,#0bf 0 104.1px,#0ff 0 110.2px,#2fd 0 116.4px,#0ff 0 128.6px,#3fc 0 147px,#6f9 0 159.2px,#2fd 0 165.4px,#0ff 0 171.5px,#0bf 0 177.6px,#00f 0 183.8px,#00a 0 189.9px,#009 0"></i><i style="--g:#00e 0 6.1px,#00f 0 12.2px,#00e 0 18.4px,#00f 0 30.6px,#00e 0 36.8px,#00d 0 42.9px,#00e 0 49px,#00f 0 73.5px,#02f 0 79.6px,#05f 0 85.8px,#07f 0 91.9px,#0bf 0 98px,#09f 0 104.1px,#0df 0 110.2px,#1fe 0 116.4px,#0ff 0 122.5px,#1fe 0 128.6px,#af5 0 134.8px,#3fc 0 140.9px,#7f8 0 147px,#6f9 0 153.1px,#bf4 0 159.2px,#7f8 0 165.4px,#4fb 0 171.5px,#0ff 0 177.6px,#01f 0 183.8px,#00a 0 189.9px,#009 0"></i><i style="--g:#00d 0 61.2px,#00e 0 79.6px,#00f 0 98px,#02f 0 104.1px,#04f 0 110.2px,#07f 0 116.4px,#08f 0 122.5px,#09f 0 128.6px,#0cf 0 134.8px,#0ff 0 147px,#2fd 0 153.1px,#0df 0 159.2px,#0ff 0 165.4px,#0df 0 177.6px,#00f 0 183.8px,#00a 0 189.9px,#009 0"></i><i style="--g:#00a 0 73.5px,#00b 0 85.8px,#00c 0 91.9px,#00d 0 98px,#00e 0 104.1px,#01f 0 110.2px,#02f 0 122.5px,#04f 0 128.6px,#06f 0 134.8px,#07f 0 140.9px,#0af 0 147px,#07f 0 159.2px,#08f 0 171.5px,#05f 0 177.6px,#00d 0 183.8px,#00a 0 189.9px,#009 0"></i><i style="--g:#00b 0 42.9px,#00a 0 55.1px,#00b 0 73.5px,#00c 0 79.6px,#00d 0 85.8px,#00e 0 91.9px,#00f 0 98px,#01f 0 104.1px,#03f 0 110.2px,#05f 0 116.4px,#0af 0 128.6px,#0cf 0 134.8px,#0ff 0 140.9px,#0ef 0 147px,#1fe 0 153.1px,#0ef 0 159.2px,#1fe 0 165.4px,#0ff 0 171.5px,#09f 0 177.6px,#00f 0 183.8px,#009 0"></i><i style="--g:#00b 0 36.8px,#00a 0 42.9px,#00b 0 67.4px,#00d 0 79.6px,#00f 0 85.8px,#01f 0 91.9px,#02f 0 98px,#07f 0 104.1px,#09f 0 110.2px,#0cf 0 122.5px,#0ff 0 134.8px,#6f9 0 140.9px,#4fb 0 147px,#5fa 0 153.1px,#4fb 0 171.5px,#0cf 0 177.6px,#00f 0 183.8px,#00a 0 189.9px,#009 0"></i><i style="--g:#00d 0 6.1px,#00e 0 12.2px,#00d 0 30.6px,#00c 0 36.8px,#00d 0 42.9px,#00c 0 55.1px,#00b 0 61.2px,#00c 0 67.4px,#00d 0 73.5px,#00e 0 85.8px,#00f 0 91.9px,#03f 0 98px,#04f 0 104.1px,#06f 0 110.2px,#08f 0 116.4px,#0df 0 122.5px,#0ff 0 134.8px,#3fc 0 147px,#4fb 0 153.1px,#2fd 0 159.2px,#4fb 0 165.4px,#2fd 0 171.5px,#0ef 0 177.6px,#00f 0 183.8px,#00a 0 189.9px,#009 0"></i><i style="--g:#00f 0 12.2px,#00e 0 18.4px,#00f 0 24.5px,#00d 0 67.4px,#00e 0 79.6px,#00f 0 91.9px,#02f 0 98px,#03f 0 104.1px,#06f 0 110.2px,#0cf 0 116.4px,#0bf 0 122.5px,#0cf 0 128.6px,#0df 0 134.8px,#0ff 0 140.9px,#1fe 0 147px,#0ff 0 153.1px,#1fe 0 159.2px,#0ff 0 165.4px,#0df 0 171.5px,#0cf 0 177.6px,#00f 0 183.8px,#00a 0 189.9px,#009 0"></i><i style="--g:#04f 0 6.1px,#02f 0 12.2px,#03f 0 18.4px,#00f 0 30.6px,#01f 0 36.8px,#00f 0 61.2px,#00e 0 67.4px,#00f 0 91.9px,#02f 0 98px,#03f 0 104.1px,#05f 0 110.2px,#06f 0 116.4px,#07f 0 122.5px,#09f 0 128.6px,#0df 0 134.8px,#0ff 0 140.9px,#1fe 0 153.1px,#5fa 0 159.2px,#3fc 0 165.4px,#0ff 0 171.5px,#0cf 0 177.6px,#00e 0 183.8px,#00a 0 189.9px,#009 0"></i><i style="--g:#04f 0 6.1px,#03f 0 18.4px,#02f 0 30.6px,#00f 0 36.8px,#01f 0 42.9px,#00f 0 61.2px,#00e 0 67.4px,#00f 0 85.8px,#01f 0 91.9px,#02f 0 98px,#05f 0 104.1px,#07f 0 110.2px,#09f 0 116.4px,#0bf 0 122.5px,#09f 0 128.6px,#0cf 0 134.8px,#0ff 0 147px,#1fe 0 153.1px,#0ef 0 159.2px,#0df 0 165.4px,#0ff 0 171.5px,#07f 0 177.6px,#00f 0 183.8px,#00a 0 189.9px,#009 0"></i><i style="--g:#04f 0 6.1px,#03f 0 18.4px,#01f 0 24.5px,#00f 0 55.1px,#00d 0 73.5px,#00e 0 85.8px,#00f 0 98px,#02f 0 104.1px,#04f 0 116.4px,#08f 0 122.5px,#09f 0 134.8px,#0af 0 140.9px,#0cf 0 147px,#0ef 0 153.1px,#0ff 0 159.2px,#0cf 0 165.4px,#0df 0 171.5px,#08f 0 177.6px,#00d 0 183.8px,#009 0"></i><i style="--g:#0df 0 6.1px,#0af 0 12.2px,#09f 0 18.4px,#05f 0 24.5px,#07f 0 30.6px,#05f 0 36.8px,#04f 0 42.9px,#02f 0 49px,#01f 0 55.1px,#02f 0 61.2px,#00f 0 85.8px,#02f 0 91.9px,#05f 0 98px,#04f 0 104.1px,#08f 0 116.4px,#0cf 0 122.5px,#0bf 0 128.6px,#0ff 0 134.8px,#0df 0 140.9px,#0ff 0 159.2px,#0cf 0 165.4px,#0ef 0 171.5px,#0af 0 177.6px,#00e 0 183.8px,#009 0"></i><i style="--g:#0af 0 6.1px,#0df 0 12.2px,#07f 0 24.5px,#05f 0 36.8px,#02f 0 49px,#00f 0 61.2px,#00e 0 67.4px,#00f 0 85.8px,#02f 0 91.9px,#03f 0 98px,#04f 0 104.1px,#07f 0 110.2px,#08f 0 116.4px,#09f 0 122.5px,#08f 0 128.6px,#0bf 0 134.8px,#0ff 0 140.9px,#0ef 0 147px,#0ff 0 153.1px,#0bf 0 159.2px,#0cf 0 165.4px,#0af 0 171.5px,#08f 0 177.6px,#00e 0 183.8px,#009 0"></i><i style="--g:#0cf 0 12.2px,#09f 0 18.4px,#06f 0 30.6px,#04f 0 42.9px,#01f 0 49px,#00f 0 55.1px,#00e 0 73.5px,#00d 0 85.8px,#00f 0 98px,#01f 0 104.1px,#03f 0 110.2px,#04f 0 122.5px,#08f 0 134.8px,#0cf 0 140.9px,#0df 0 147px,#0bf 0 153.1px,#0ef 0 159.2px,#0df 0 165.4px,#09f 0 171.5px,#07f 0 177.6px,#00d 0 183.8px,#009 0"></i><i style="--g:#0ef 0 6.1px,#0bf 0 12.2px,#0cf 0 18.4px,#09f 0 24.5px,#07f 0 30.6px,#05f 0 36.8px,#04f 0 42.9px,#01f 0 49px,#00f 0 61.2px,#00d 0 67.4px,#00c 0 85.8px,#00e 0 91.9px,#00f 0 98px,#01f 0 104.1px,#00f 0 110.2px,#04f 0 116.4px,#05f 0 122.5px,#0af 0 128.6px,#0bf 0 140.9px,#0df 0 147px,#0ef 0 159.2px,#0af 0 165.4px,#0bf 0 171.5px,#07f 0 177.6px,#00e 0 183.8px,#00a 0 189.9px,#009 0"></i><i style="--g:#05f 0 6.1px,#07f 0 12.2px,#06f 0 18.4px,#04f 0 24.5px,#01f 0 30.6px,#03f 0 36.8px,#00f 0 49px,#00e 0 55.1px,#00d 0 61.2px,#00c 0 85.8px,#00e 0 91.9px,#00f 0 98px,#01f 0 110.2px,#02f 0 116.4px,#04f 0 122.5px,#08f 0 128.6px,#09f 0 140.9px,#0bf 0 147px,#0ef 0 153.1px,#0cf 0 159.2px,#09f 0 171.5px,#05f 0 177.6px,#00d 0 183.8px,#009 0"></i><i style="--g:#07f 0 6.1px,#06f 0 12.2px,#05f 0 18.4px,#03f 0 24.5px,#02f 0 30.6px,#01f 0 36.8px,#00f 0 49px,#00d 0 67.4px,#00c 0 79.6px,#00d 0 91.9px,#00f 0 104.1px,#03f 0 110.2px,#06f 0 116.4px,#07f 0 122.5px,#09f 0 128.6px,#0bf 0 134.8px,#0ef 0 140.9px,#0ff 0 153.1px,#3fc 0 159.2px,#0ff 0 165.4px,#0df 0 171.5px,#07f 0 177.6px,#00d 0 183.8px,#009 0"></i><i style="--g:#05f 0 6.1px,#06f 0 12.2px,#04f 0 24.5px,#02f 0 30.6px,#00f 0 42.9px,#00e 0 49px,#00d 0 61.2px,#00c 0 73.5px,#00d 0 79.6px,#00c 0 91.9px,#00e 0 98px,#00f 0 110.2px,#03f 0 116.4px,#06f 0 122.5px,#0af 0 128.6px,#0ef 0 134.8px,#4fb 0 140.9px,#9f6 0 147px,#bf4 0 153.1px,#7f8 0 159.2px,#8f7 0 165.4px,#1fe 0 171.5px,#0af 0 177.6px,#00e 0 183.8px,#00a 0 189.9px,#009 0"></i><i style="--g:#05f 0 6.1px,#03f 0 12.2px,#01f 0 24.5px,#00f 0 36.8px,#00e 0 42.9px,#00d 0 55.1px,#00c 0 67.4px,#00b 0 79.6px,#00c 0 85.8px,#00d 0 98px,#00f 0 104.1px,#01f 0 110.2px,#02f 0 116.4px,#08f 0 122.5px,#0af 0 128.6px,#0ef 0 134.8px,#2fd 0 140.9px,#cf3 0 147px,#af5 0 159.2px,#5fa 0 165.4px,#3fc 0 171.5px,#0cf 0 177.6px,#00e 0 183.8px,#00a 0 189.9px,#009 0"></i><i style="--g:#01f 0 6.1px,#00f 0 30.6px,#00e 0 36.8px,#00d 0 49px,#00c 0 55.1px,#00b 0 73.5px,#00c 0 85.8px,#00e 0 91.9px,#00f 0 98px,#01f 0 104.1px,#02f 0 110.2px,#05f 0 116.4px,#09f 0 122.5px,#0bf 0 128.6px,#0ef 0 134.8px,#3fc 0 140.9px,#8f7 0 147px,#cf3 0 159.2px,#5fa 0 165.4px,#4fb 0 171.5px,#0af 0 177.6px,#00e 0 183.8px,#009 0"></i><i style="--g:#00f 0 18.4px,#00e 0 36.8px,#00c 0 67.4px,#00b 0 79.6px,#00c 0 85.8px,#00e 0 98px,#01f 0 104.1px,#02f 0 110.2px,#04f 0 116.4px,#08f 0 122.5px,#09f 0 128.6px,#0bf 0 134.8px,#0df 0 140.9px,#1fe 0 159.2px,#0ff 0 165.4px,#1fe 0 171.5px,#0af 0 177.6px,#00e 0 183.8px,#00a 0 189.9px,#009 0"></i><i style="--g:#00f 0 6.1px,#00e 0 12.2px,#00d 0 36.8px,#00b 0 73.5px,#00c 0 79.6px,#00d 0 85.8px,#00e 0 91.9px,#00f 0 98px,#02f 0 104.1px,#04f 0 110.2px,#07f 0 122.5px,#09f 0 134.8px,#0bf 0 140.9px,#0ff 0 147px,#0df 0 153.1px,#0ef 0 159.2px,#0cf 0 165.4px,#09f 0 171.5px,#07f 0 177.6px,#00e 0 183.8px,#00a 0 189.9px,#009 0"></i><i style="--g:#00e 0 12.2px,#00d 0 18.4px,#00e 0 24.5px,#00d 0 30.6px,#00c 0 55.1px,#00b 0 67.4px,#00c 0 73.5px,#00b 0 79.6px,#00c 0 85.8px,#00e 0 91.9px,#00f 0 104.1px,#01f 0 110.2px,#03f 0 116.4px,#05f 0 122.5px,#08f 0 147px,#0af 0 153.1px,#0cf 0 159.2px,#0bf 0 165.4px,#0af 0 171.5px,#04f 0 177.6px,#00d 0 183.8px,#00a 0 189.9px,#009 0"></i><i style="--g:#00e 0 6.1px,#00d 0 24.5px,#00c 0 30.6px,#00b 0 36.8px,#00c 0 42.9px,#00b 0 73.5px,#00c 0 79.6px,#00d 0 85.8px,#00f 0 91.9px,#01f 0 98px,#02f 0 104.1px,#04f 0 110.2px,#08f 0 116.4px,#09f 0 122.5px,#0cf 0 134.8px,#0df 0 140.9px,#2fd 0 147px,#0ff 0 153.1px,#0cf 0 165.4px,#0df 0 171.5px,#0bf 0 177.6px,#00f 0 183.8px,#00a 0 189.9px,#009 0"></i><i style="--g:#00d 0 6.1px,#00c 0 18.4px,#00d 0 24.5px,#00b 0 30.6px,#00c 0 36.8px,#00b 0 67.4px,#00c 0 73.5px,#00e 0 85.8px,#00f 0 91.9px,#03f 0 98px,#04f 0 104.1px,#05f 0 110.2px,#07f 0 116.4px,#09f 0 122.5px,#0af 0 128.6px,#0cf 0 134.8px,#0df 0 147px,#0ff 0 159.2px,#0df 0 171.5px,#09f 0 177.6px,#00e 0 183.8px,#00a 0 189.9px,#009 0"></i><i style="--g:#00d 0 18.4px,#00c 0 24.5px,#00d 0 30.6px,#00c 0 61.2px,#00d 0 79.6px,#00e 0 85.8px,#00f 0 91.9px,#03f 0 104.1px,#06f 0 110.2px,#07f 0 116.4px,#09f 0 128.6px,#0cf 0 134.8px,#0ff 0 147px,#0ef 0 153.1px,#1fe 0 159.2px,#0ff 0 165.4px,#0ef 0 171.5px,#08f 0 177.6px,#00f 0 183.8px,#00a 0 189.9px,#009 0"></i><i style="--g:#00d 0 12.2px,#00c 0 24.5px,#00d 0 30.6px,#00c 0 36.8px,#00d 0 42.9px,#00c 0 49px,#00d 0 73.5px,#00e 0 85.8px,#00f 0 91.9px,#03f 0 104.1px,#08f 0 110.2px,#06f 0 116.4px,#09f 0 122.5px,#0cf 0 140.9px,#0df 0 147px,#0ff 0 159.2px,#0df 0 171.5px,#09f 0 177.6px,#00e 0 183.8px,#00a 0 189.9px,#009 0"></i><i style="--g:#00c 0 6.1px,#00d 0 12.2px,#00c 0 24.5px,#00d 0 30.6px,#00c 0 67.4px,#00d 0 79.6px,#00e 0 85.8px,#00f 0 91.9px,#02f 0 104.1px,#04f 0 110.2px,#05f 0 116.4px,#09f 0 122.5px,#07f 0 128.6px,#06f 0 134.8px,#08f 0 140.9px,#09f 0 147px,#07f 0 153.1px,#09f 0 159.2px,#0cf 0 165.4px,#0af 0 171.5px,#05f 0 177.6px,#00c 0 183.8px,#009 0"></i><i style="--g:#00b 0 55.1px,#00c 0 67.4px,#00d 0 73.5px,#00e 0 79.6px,#00f 0 85.8px,#02f 0 98px,#04f 0 104.1px,#06f 0 122.5px,#09f 0 128.6px,#0af 0 134.8px,#08f 0 147px,#0af 0 153.1px,#08f 0 159.2px,#09f 0 165.4px,#07f 0 171.5px,#06f 0 177.6px,#00c 0 183.8px,#009 0"></i><i style="--g:#00a 0 18.4px,#00b 0 24.5px,#00a 0 30.6px,#00b 0 36.8px,#00a 0 42.9px,#00b 0 61.2px,#00d 0 73.5px,#00e 0 79.6px,#00f 0 85.8px,#01f 0 98px,#03f 0 104.1px,#06f 0 116.4px,#07f 0 128.6px,#08f 0 134.8px,#09f 0 140.9px,#06f 0 147px,#07f 0 153.1px,#0af 0 159.2px,#07f 0 171.5px,#05f 0 177.6px,#00b 0 183.8px,#009 0"></i><i style="--g:#00a 0 61.2px,#00b 0 79.6px,#00c 0 85.8px,#00e 0 98px,#00f 0 110.2px,#01f 0 116.4px,#03f 0 128.6px,#02f 0 134.8px,#04f 0 140.9px,#03f 0 147px,#05f 0 153.1px,#02f 0 159.2px,#04f 0 165.4px,#05f 0 171.5px,#01f 0 177.6px,#00b 0 183.8px,#009 0"></i><i style="--g:#00a 0 67.4px,#00b 0 73.5px,#00c 0 85.8px,#00e 0 98px,#00f 0 110.2px,#02f 0 116.4px,#01f 0 122.5px,#02f 0 134.8px,#01f 0 140.9px,#02f 0 147px,#01f 0 153.1px,#03f 0 159.2px,#02f 0 165.4px,#01f 0 171.5px,#00f 0 177.6px,#00b 0 183.8px,#009 0"></i><i style="--g:#009 0 42.9px,#00a 0 67.4px,#00b 0 85.8px,#00c 0 91.9px,#00e 0 98px,#00f 0 110.2px,#01f 0 116.4px,#03f 0 122.5px,#02f 0 140.9px,#04f 0 153.1px,#03f 0 171.5px,#01f 0 177.6px,#00b 0 183.8px,#009 0"></i><i style="--g:#00a 0 30.6px,#00b 0 42.9px,#00a 0 49px,#00b 0 67.4px,#00c 0 73.5px,#00d 0 85.8px,#00f 0 91.9px,#02f 0 104.1px,#05f 0 110.2px,#04f 0 116.4px,#06f 0 122.5px,#04f 0 128.6px,#05f 0 153.1px,#06f 0 159.2px,#07f 0 165.4px,#06f 0 171.5px,#03f 0 177.6px,#00b 0 183.8px,#009 0"></i><i style="--g:#00c 0 6.1px,#00d 0 12.2px,#00c 0 24.5px,#00d 0 30.6px,#00c 0 36.8px,#00d 0 42.9px,#00c 0 49px,#00d 0 67.4px,#00e 0 79.6px,#00f 0 91.9px,#01f 0 98px,#00f 0 104.1px,#02f 0 110.2px,#03f 0 128.6px,#04f 0 140.9px,#06f 0 147px,#05f 0 153.1px,#06f 0 159.2px,#03f 0 177.6px,#00b 0 183.8px,#009 0"></i><i style="--g:#00d 0 6.1px,#00c 0 18.4px,#00d 0 30.6px,#00c 0 67.4px,#00d 0 73.5px,#00e 0 85.8px,#00f 0 98px,#01f 0 104.1px,#02f 0 116.4px,#03f 0 128.6px,#04f 0 159.2px,#03f 0 171.5px,#02f 0 177.6px,#00b 0 183.8px,#009 0"></i><i style="--g:#00c 0 36.8px,#00b 0 49px,#00c 0 79.6px,#00d 0 91.9px,#00e 0 104.1px,#00f 0 110.2px,#01f 0 140.9px,#02f 0 165.4px,#01f 0 171.5px,#00f 0 177.6px,#00b 0 183.8px,#009 0"></i><i style="--g:#00a 0 79.6px,#00b 0 85.8px,#00c 0 91.9px,#00d 0 98px,#00e 0 110.2px,#00f 0 159.2px,#02f 0 165.4px,#00f 0 177.6px,#00b 0 183.8px,#009 0"></i><i style="--g:#00c 0 12.2px,#00b 0 30.6px,#00a 0 67.4px,#00b 0 79.6px,#00c 0 85.8px,#00e 0 98px,#00f 0 104.1px,#01f 0 110.2px,#02f 0 116.4px,#03f 0 122.5px,#02f 0 140.9px,#01f 0 153.1px,#04f 0 159.2px,#01f 0 165.4px,#03f 0 171.5px,#00f 0 177.6px,#00b 0 183.8px,#009 0"></i><i style="--g:#00e 0 6.1px,#00d 0 24.5px,#00c 0 42.9px,#00b 0 49px,#00c 0 73.5px,#00d 0 79.6px,#00f 0 91.9px,#01f 0 98px,#02f 0 104.1px,#03f 0 110.2px,#06f 0 122.5px,#08f 0 128.6px,#05f 0 134.8px,#07f 0 140.9px,#05f 0 147px,#07f 0 171.5px,#04f 0 177.6px,#00b 0 183.8px,#009 0"></i><i style="--g:#00e 0 12.2px,#00d 0 24.5px,#00c 0 36.8px,#00b 0 42.9px,#00c 0 49px,#00b 0 67.4px,#00c 0 73.5px,#00d 0 79.6px,#00f 0 85.8px,#02f 0 91.9px,#03f 0 98px,#05f 0 104.1px,#07f 0 110.2px,#08f 0 116.4px,#09f 0 128.6px,#0cf 0 134.8px,#07f 0 140.9px,#09f 0 147px,#0bf 0 153.1px,#0af 0 159.2px,#09f 0 165.4px,#07f 0 171.5px,#04f 0 177.6px,#00b 0 183.8px,#009 0"></i><i style="--g:#01f 0 18.4px,#00f 0 24.5px,#00e 0 30.6px,#00d 0 36.8px,#00e 0 42.9px,#00c 0 73.5px,#00d 0 79.6px,#00e 0 85.8px,#00f 0 91.9px,#01f 0 98px,#04f 0 110.2px,#07f 0 116.4px,#05f 0 128.6px,#06f 0 134.8px,#05f 0 140.9px,#06f 0 159.2px,#05f 0 165.4px,#07f 0 171.5px,#05f 0 177.6px,#00b 0 183.8px,#009 0"></i><i style="--g:#05f 0 6.1px,#03f 0 12.2px,#02f 0 18.4px,#00f 0 24.5px,#01f 0 30.6px,#00f 0 42.9px,#00e 0 49px,#00d 0 67.4px,#00c 0 73.5px,#00e 0 79.6px,#00f 0 91.9px,#01f 0 98px,#02f 0 104.1px,#04f 0 110.2px,#06f 0 116.4px,#04f 0 122.5px,#05f 0 140.9px,#07f 0 147px,#06f 0 159.2px,#08f 0 165.4px,#06f 0 171.5px,#04f 0 177.6px,#00b 0 183.8px,#009 0"></i><i style="--g:#03f 0 6.1px,#02f 0 12.2px,#01f 0 24.5px,#00f 0 36.8px,#00e 0 42.9px,#00d 0 55.1px,#00c 0 79.6px,#00d 0 85.8px,#00e 0 98px,#01f 0 104.1px,#02f 0 110.2px,#03f 0 116.4px,#02f 0 122.5px,#03f 0 128.6px,#04f 0 140.9px,#03f 0 147px,#04f 0 153.1px,#03f 0 165.4px,#02f 0 171.5px,#01f 0 177.6px,#00b 0 183.8px,#009 0"></i><i style="--g:#00d 0 6.1px,#00c 0 30.6px,#00b 0 36.8px,#00a 0 61.2px,#00b 0 73.5px,#00c 0 79.6px,#00d 0 85.8px,#00e 0 91.9px,#00f 0 104.1px,#02f 0 116.4px,#04f 0 122.5px,#02f 0 128.6px,#03f 0 134.8px,#04f 0 140.9px,#06f 0 147px,#04f 0 159.2px,#03f 0 171.5px,#02f 0 177.6px,#00b 0 183.8px,#009 0"></i><i style="--g:#00a 0 6.1px,#00b 0 12.2px,#00a 0 73.5px,#00b 0 79.6px,#00c 0 85.8px,#00e 0 98px,#00f 0 104.1px,#01f 0 116.4px,#02f 0 140.9px,#03f 0 147px,#02f 0 153.1px,#03f 0 159.2px,#04f 0 165.4px,#03f 0 171.5px,#00f 0 177.6px,#00b 0 183.8px,#009 0"></i><i style="--g:#00b 0 6.1px,#00c 0 12.2px,#00b 0 30.6px,#00a 0 67.4px,#00b 0 73.5px,#00c 0 85.8px,#00d 0 91.9px,#00f 0 104.1px,#01f 0 110.2px,#00f 0 116.4px,#03f 0 122.5px,#02f 0 134.8px,#04f 0 140.9px,#05f 0 147px,#02f 0 153.1px,#03f 0 165.4px,#01f 0 171.5px,#00f 0 177.6px,#00b 0 183.8px,#009 0"></i><i style="--g:#00d 0 18.4px,#00c 0 30.6px,#00d 0 42.9px,#00c 0 67.4px,#00d 0 79.6px,#00e 0 85.8px,#00f 0 116.4px,#03f 0 122.5px,#02f 0 134.8px,#03f 0 140.9px,#02f 0 153.1px,#03f 0 159.2px,#02f 0 171.5px,#00f 0 177.6px,#00b 0 183.8px,#009 0"></i><i style="--g:#00b 0 6.1px,#00c 0 12.2px,#00b 0 18.4px,#00c 0 24.5px,#00b 0 55.1px,#00c 0 73.5px,#00d 0 79.6px,#00f 0 85.8px,#00e 0 91.9px,#00f 0 104.1px,#01f 0 110.2px,#02f 0 122.5px,#01f 0 128.6px,#02f 0 134.8px,#03f 0 140.9px,#02f 0 147px,#04f 0 159.2px,#03f 0 171.5px,#01f 0 177.6px,#00b 0 183.8px,#009 0"></i><i style="--g:#00c 0 6.1px,#00d 0 18.4px,#00c 0 24.5px,#00d 0 30.6px,#00c 0 42.9px,#00d 0 67.4px,#00e 0 79.6px,#00f 0 91.9px,#02f 0 98px,#03f 0 110.2px,#05f 0 116.4px,#07f 0 128.6px,#06f 0 134.8px,#04f 0 140.9px,#08f 0 147px,#06f 0 153.1px,#05f 0 159.2px,#09f 0 165.4px,#05f 0 171.5px,#03f 0 177.6px,#00b 0 183.8px,#009 0"></i><i style="--g:#00a 0 55.1px,#00b 0 67.4px,#00c 0 79.6px,#00d 0 85.8px,#00e 0 91.9px,#00f 0 98px,#01f 0 104.1px,#02f 0 110.2px,#03f 0 116.4px,#04f 0 122.5px,#03f 0 128.6px,#04f 0 134.8px,#02f 0 140.9px,#04f 0 153.1px,#03f 0 159.2px,#04f 0 165.4px,#03f 0 171.5px,#02f 0 177.6px,#00b 0 183.8px,#009 0"></i><i style="--g:#00a 0 36.8px,#00b 0 49px,#00a 0 55.1px,#00b 0 73.5px,#00c 0 85.8px,#00d 0 91.9px,#00e 0 104.1px,#00f 0 122.5px,#01f 0 147px,#02f 0 153.1px,#00f 0 159.2px,#01f 0 165.4px,#02f 0 171.5px,#00f 0 177.6px,#00a 0 183.8px,#009 0"></i><i style="--g:#009 0 18.4px,#00a 0 30.6px,#009 0 36.8px,#00a 0 73.5px,#00b 0 85.8px,#00c 0 91.9px,#00d 0 98px,#00e 0 104.1px,#00f 0 171.5px,#00e 0 177.6px,#00a 0 183.8px,#009 0"></i><i style="--g:#00a 0 67.4px,#00b 0 85.8px,#00c 0 98px,#00d 0 104.1px,#00e 0 122.5px,#00f 0 128.6px,#00e 0 134.8px,#00f 0 140.9px,#00e 0 147px,#00f 0 177.6px,#00a 0 183.8px,#009 0"></i><i style="--g:#009 0 67.4px,#00a 0 79.6px,#00b 0 85.8px,#00c 0 104.1px,#00e 0 128.6px,#00f 0 171.5px,#00d 0 177.6px,#00a 0 183.8px,#009 0"></i><i style="--g:#009 0 49px,#00a 0 55.1px,#009 0 61.2px,#00a 0 85.8px,#00b 0 91.9px,#00c 0 98px,#00d 0 110.2px,#00f 0 122.5px,#00e 0 128.6px,#00f 0 171.5px,#00d 0 177.6px,#00a 0 183.8px,#009 0"></i><i style="--g:#00a 0 6.1px,#009 0 12.2px,#00a 0 67.4px,#00b 0 79.6px,#00c 0 91.9px,#00d 0 98px,#00f 0 122.5px,#01f 0 128.6px,#00f 0 134.8px,#01f 0 140.9px,#02f 0 147px,#01f 0 153.1px,#02f 0 165.4px,#01f 0 171.5px,#00f 0 177.6px,#00b 0 183.8px,#009 0"></i><i style="--g:#00b 0 6.1px,#00a 0 49px,#00b 0 61.2px,#00c 0 73.5px,#00d 0 79.6px,#00e 0 85.8px,#00f 0 91.9px,#02f 0 104.1px,#04f 0 110.2px,#06f 0 122.5px,#05f 0 128.6px,#06f 0 134.8px,#08f 0 140.9px,#07f 0 147px,#08f 0 153.1px,#07f 0 165.4px,#08f 0 171.5px,#06f 0 177.6px,#00c 0 183.8px,#009 0"></i><i style="--g:#00b 0 55.1px,#00c 0 67.4px,#00d 0 73.5px,#00e 0 79.6px,#00f 0 85.8px,#02f 0 98px,#06f 0 104.1px,#07f 0 110.2px,#09f 0 134.8px,#0af 0 147px,#0bf 0 153.1px,#0af 0 159.2px,#09f 0 171.5px,#06f 0 177.6px,#00c 0 183.8px,#009 0"></i><i style="--g:#00a 0 61.2px,#00b 0 73.5px,#00c 0 79.6px,#00d 0 85.8px,#00f 0 91.9px,#01f 0 98px,#03f 0 110.2px,#04f 0 116.4px,#05f 0 122.5px,#06f 0 128.6px,#08f 0 134.8px,#06f 0 140.9px,#09f 0 147px,#0af 0 153.1px,#09f 0 159.2px,#0af 0 165.4px,#07f 0 171.5px,#05f 0 177.6px,#00c 0 183.8px,#009 0"></i><i style="--g:#009 0 18.4px,#00a 0 24.5px,#009 0 30.6px,#00a 0 73.5px,#00c 0 85.8px,#00d 0 91.9px,#00e 0 98px,#00f 0 104.1px,#01f 0 110.2px,#02f 0 116.4px,#04f 0 122.5px,#03f 0 128.6px,#07f 0 140.9px,#0bf 0 147px,#09f 0 153.1px,#08f 0 159.2px,#09f 0 165.4px,#07f 0 171.5px,#04f 0 177.6px,#00f 0 183.8px,#00a 0 189.9px,#009 0"></i><i style="--g:#00a 0 67.4px,#00b 0 79.6px,#00c 0 98px,#00d 0 104.1px,#00e 0 110.2px,#00f 0 116.4px,#01f 0 128.6px,#06f 0 134.8px,#07f 0 140.9px,#0af 0 147px,#0bf 0 153.1px,#0cf 0 159.2px,#0af 0 165.4px,#0df 0 171.5px,#07f 0 177.6px,#02f 0 183.8px,#00b 0 189.9px,#009 0"></i><i style="--g:#00a 0 61.2px,#00b 0 85.8px,#00c 0 91.9px,#00d 0 104.1px,#00e 0 110.2px,#01f 0 116.4px,#02f 0 122.5px,#06f 0 128.6px,#09f 0 134.8px,#0af 0 140.9px,#5fa 0 147px,#1fe 0 153.1px,#2fd 0 159.2px,#0ff 0 171.5px,#0df 0 177.6px,#04f 0 183.8px,#00c 0 189.9px,#009 0"></i><i style="--g:#00b 0 6.1px,#00a 0 18.4px,#00b 0 30.6px,#00a 0 42.9px,#00b 0 73.5px,#00c 0 79.6px,#00d 0 91.9px,#00e 0 104.1px,#00f 0 116.4px,#04f 0 128.6px,#07f 0 134.8px,#0bf 0 140.9px,#4fb 0 147px,#0ff 0 159.2px,#4fb 0 165.4px,#0ef 0 171.5px,#0cf 0 177.6px,#03f 0 183.8px,#00b 0 189.9px,#009 0"></i><i style="--g:#00a 0 6.1px,#009 0 18.4px,#00a 0 24.5px,#009 0 36.8px,#00a 0 42.9px,#009 0 49px,#00a 0 73.5px,#00b 0 79.6px,#00c 0 91.9px,#00d 0 104.1px,#00f 0 116.4px,#05f 0 122.5px,#07f 0 128.6px,#0df 0 134.8px,#4fb 0 140.9px,#5fa 0 147px,#ff0 0 153.1px,#fb0 0 159.2px,#bf4 0 165.4px,#7f8 0 171.5px,#0ff 0 177.6px,#06f 0 183.8px,#00c 0 189.9px,#009 0"></i><i style="--g:#00a 0 73.5px,#00b 0 79.6px,#00c 0 85.8px,#00d 0 98px,#00e 0 110.2px,#00f 0 122.5px,#02f 0 128.6px,#0af 0 134.8px,#2fd 0 140.9px,#ff0 0 147px,#f00 0 153.1px,#900 0 159.2px,#800 0 165.4px,#f70 0 171.5px,#6f9 0 177.6px,#08f 0 183.8px,#00c 0 189.9px,#009 0"></i><i style="--g:#00a 0 55.1px,#00b 0 67.4px,#00c 0 79.6px,#00d 0 91.9px,#00f 0 104.1px,#02f 0 110.2px,#03f 0 116.4px,#08f 0 122.5px,#1fe 0 128.6px,#bf4 0 134.8px,#f70 0 140.9px,#f00 0 147px,#800 0 171.5px,#fc0 0 177.6px,#09f 0 183.8px,#00e 0 189.9px,#009 0"></i><i style="--g:#00c 0 49px,#00d 0 61.2px,#00e 0 67.4px,#00d 0 73.5px,#00e 0 79.6px,#00f 0 98px,#02f 0 104.1px,#05f 0 110.2px,#08f 0 122.5px,#0ff 0 128.6px,#9f6 0 134.8px,#fd0 0 140.9px,#900 0 147px,#800 0 165.4px,#f40 0 171.5px,#fd0 0 177.6px,#09f 0 183.8px,#00d 0 189.9px,#009 0"></i><i style="--g:#00a 0 30.6px,#00b 0 36.8px,#00a 0 42.9px,#00b 0 49px,#00c 0 73.5px,#00d 0 79.6px,#00f 0 91.9px,#01f 0 98px,#05f 0 104.1px,#06f 0 110.2px,#0bf 0 116.4px,#2fd 0 122.5px,#8f7 0 128.6px,#ff0 0 134.8px,#f00 0 140.9px,#800 0 165.4px,#e00 0 171.5px,#f70 0 177.6px,#08f 0 183.8px,#00d 0 189.9px,#009 0"></i><i style="--g:#00a 0 36.8px,#00b 0 49px,#00c 0 61.2px,#00d 0 73.5px,#00e 0 98px,#00f 0 104.1px,#01f 0 110.2px,#05f 0 116.4px,#08f 0 122.5px,#0ef 0 128.6px,#5fa 0 134.8px,#ff0 0 140.9px,#f00 0 147px,#c00 0 153.1px,#800 0 165.4px,#900 0 171.5px,#bf4 0 177.6px,#09f 0 183.8px,#00c 0 189.9px,#009 0"></i><i style="--g:#00a 0 6.1px,#009 0 18.4px,#00a 0 42.9px,#00b 0 49px,#00c 0 61.2px,#00d 0 73.5px,#00e 0 79.6px,#00f 0 85.8px,#01f 0 91.9px,#00f 0 98px,#05f 0 104.1px,#08f 0 110.2px,#0cf 0 116.4px,#2fd 0 122.5px,#cf3 0 128.6px,#fa0 0 134.8px,#f10 0 147px,#800 0 165.4px,#f70 0 171.5px,#ef1 0 177.6px,#09f 0 183.8px,#00c 0 189.9px,#009 0"></i><i style="--g:#009 0 6.1px,#00a 0 30.6px,#00b 0 36.8px,#00c 0 42.9px,#00d 0 49px,#00e 0 61.2px,#00f 0 67.4px,#01f 0 73.5px,#02f 0 85.8px,#00f 0 91.9px,#00e 0 98px,#00f 0 104.1px,#02f 0 110.2px,#07f 0 116.4px,#0cf 0 122.5px,#1fe 0 128.6px,#ff0 0 134.8px,#f00 0 140.9px,#a00 0 147px,#800 0 165.4px,#900 0 171.5px,#fe0 0 177.6px,#0bf 0 183.8px,#00d 0 189.9px,#009 0"></i><i style="--g:#00a 0 12.2px,#00b 0 18.4px,#00c 0 36.8px,#00e 0 42.9px,#00f 0 49px,#01f 0 55.1px,#00f 0 61.2px,#01f 0 67.4px,#04f 0 73.5px,#05f 0 79.6px,#06f 0 85.8px,#01f 0 98px,#02f 0 104.1px,#05f 0 110.2px,#0bf 0 116.4px,#0ff 0 122.5px,#bf4 0 128.6px,#fb0 0 134.8px,#d00 0 140.9px,#900 0 147px,#800 0 171.5px,#fd0 0 177.6px,#0af 0 183.8px,#00d 0 189.9px,#009 0"></i><i style="--g:#00c 0 6.1px,#00d 0 18.4px,#00e 0 30.6px,#00f 0 42.9px,#03f 0 49px,#04f 0 55.1px,#06f 0 61.2px,#07f 0 67.4px,#0af 0 73.5px,#09f 0 85.8px,#04f 0 91.9px,#02f 0 98px,#03f 0 104.1px,#06f 0 110.2px,#07f 0 116.4px,#0ef 0 122.5px,#0ff 0 128.6px,#cf3 0 134.8px,#f00 0 140.9px,#f50 0 147px,#800 0 165.4px,#b00 0 171.5px,#fe0 0 177.6px,#05f 0 183.8px,#00c 0 189.9px,#009 0"></i><i style="--g:#00f 0 24.5px,#02f 0 30.6px,#05f 0 36.8px,#07f 0 42.9px,#09f 0 49px,#0ef 0 55.1px,#0bf 0 61.2px,#0ff 0 67.4px,#0ef 0 73.5px,#3fc 0 85.8px,#0bf 0 91.9px,#06f 0 98px,#07f 0 104.1px,#0ef 0 110.2px,#3fc 0 116.4px,#9f6 0 122.5px,#fe0 0 128.6px,#c00 0 134.8px,#800 0 165.4px,#e00 0 171.5px,#fd0 0 177.6px,#09f 0 183.8px,#00c 0 189.9px,#009 0"></i><i style="--g:#00d 0 6.1px,#00e 0 18.4px,#00f 0 24.5px,#01f 0 30.6px,#02f 0 36.8px,#04f 0 42.9px,#06f 0 49px,#09f 0 55.1px,#0bf 0 61.2px,#0ef 0 67.4px,#0ff 0 73.5px,#1fe 0 79.6px,#5fa 0 85.8px,#09f 0 91.9px,#07f 0 98px,#0af 0 104.1px,#0ef 0 110.2px,#7f8 0 116.4px,#cf3 0 122.5px,#f50 0 128.6px,#c00 0 134.8px,#800 0 165.4px,#900 0 171.5px,#fe0 0 177.6px,#0bf 0 183.8px,#00d 0 189.9px,#009 0"></i><i style="--g:#00e 0 12.2px,#00f 0 30.6px,#02f 0 36.8px,#04f 0 49px,#07f 0 55.1px,#0af 0 61.2px,#0cf 0 67.4px,#0ef 0 73.5px,#0cf 0 79.6px,#0ff 0 85.8px,#05f 0 91.9px,#04f 0 98px,#07f 0 104.1px,#0bf 0 110.2px,#0ff 0 116.4px,#4fb 0 122.5px,#ef1 0 128.6px,#fe0 0 134.8px,#f80 0 140.9px,#a00 0 147px,#800 0 165.4px,#b00 0 171.5px,#ff0 0 177.6px,#06f 0 183.8px,#00c 0 189.9px,#009 0"></i><i style="--g:#00c 0 24.5px,#00d 0 30.6px,#00e 0 36.8px,#00f 0 49px,#01f 0 61.2px,#04f 0 73.5px,#05f 0 91.9px,#04f 0 98px,#06f 0 104.1px,#0ef 0 110.2px,#1fe 0 116.4px,#7f8 0 122.5px,#ef1 0 128.6px,#f80 0 134.8px,#fd0 0 140.9px,#f70 0 147px,#f20 0 153.1px,#f30 0 165.4px,#fa0 0 171.5px,#fe0 0 177.6px,#06f 0 183.8px,#00b 0 189.9px,#009 0"></i><i style="--g:#00d 0 18.4px,#00f 0 24.5px,#00e 0 30.6px,#00f 0 49px,#01f 0 55.1px,#02f 0 61.2px,#04f 0 67.4px,#05f 0 73.5px,#06f 0 79.6px,#07f 0 85.8px,#05f 0 91.9px,#06f 0 98px,#08f 0 104.1px,#0ff 0 116.4px,#bf4 0 122.5px,#f80 0 128.6px,#f00 0 134.8px,#800 0 140.9px,#a00 0 147px,#800 0 165.4px,#f80 0 171.5px,#bf4 0 177.6px,#07f 0 183.8px,#00c 0 189.9px,#009 0"></i><i style="--g:#00a 0 30.6px,#00b 0 42.9px,#00c 0 61.2px,#00d 0 67.4px,#00e 0 73.5px,#00f 0 79.6px,#02f 0 85.8px,#04f 0 91.9px,#06f 0 98px,#09f 0 104.1px,#0ff 0 110.2px,#8f7 0 116.4px,#fe0 0 122.5px,#fb0 0 128.6px,#e00 0 134.8px,#c00 0 147px,#800 0 165.4px,#f20 0 171.5px,#af5 0 177.6px,#06f 0 183.8px,#00c 0 189.9px,#009 0"></i><i style="--g:#00a 0 24.5px,#00b 0 30.6px,#00a 0 36.8px,#00b 0 49px,#00c 0 67.4px,#00d 0 79.6px,#00f 0 85.8px,#01f 0 91.9px,#03f 0 98px,#04f 0 104.1px,#08f 0 110.2px,#09f 0 116.4px,#1fe 0 122.5px,#4fb 0 128.6px,#7f8 0 134.8px,#8f7 0 140.9px,#ef1 0 147px,#9f6 0 153.1px,#fe0 0 159.2px,#cf3 0 165.4px,#8f7 0 171.5px,#3fc 0 177.6px,#05f 0 183.8px,#00c 0 189.9px,#00a 0"></i><i style="--g:#00a 0 6.1px,#009 0 30.6px,#00a 0 61.2px,#00b 0 67.4px,#00c 0 79.6px,#00f 0 91.9px,#04f 0 98px,#05f 0 104.1px,#0bf 0 110.2px,#0ff 0 116.4px,#7f8 0 122.5px,#af5 0 128.6px,#ff0 0 134.8px,#fe0 0 140.9px,#ef1 0 147px,#f90 0 153.1px,#f30 0 159.2px,#fc0 0 165.4px,#ff0 0 171.5px,#4fb 0 177.6px,#06f 0 183.8px,#00d 0 189.9px,#00a 0"></i><i style="--g:#00a 0 55.1px,#00b 0 67.4px,#00c 0 79.6px,#00e 0 85.8px,#00f 0 91.9px,#01f 0 98px,#05f 0 110.2px,#0cf 0 116.4px,#0ef 0 122.5px,#2fd 0 128.6px,#7f8 0 134.8px,#3fc 0 140.9px,#5fa 0 147px,#df2 0 153.1px,#ff0 0 159.2px,#9f6 0 165.4px,#af5 0 171.5px,#6f9 0 177.6px,#05f 0 183.8px,#00c 0 189.9px,#009 0"></i><i style="--g:#009 0 24.5px,#00a 0 67.4px,#00b 0 73.5px,#00c 0 79.6px,#00d 0 85.8px,#00f 0 91.9px,#01f 0 98px,#05f 0 104.1px,#08f 0 110.2px,#0df 0 116.4px,#2fd 0 122.5px,#6f9 0 128.6px,#ff0 0 134.8px,#7f8 0 140.9px,#cf3 0 147px,#df2 0 153.1px,#fb0 0 159.2px,#bf4 0 165.4px,#7f8 0 171.5px,#3fc 0 177.6px,#06f 0 183.8px,#00d 0 189.9px,#00a 0"></i><i style="--g:#00a 0 55.1px,#00b 0 67.4px,#00c 0 79.6px,#00e 0 85.8px,#00f 0 91.9px,#03f 0 98px,#05f 0 104.1px,#09f 0 110.2px,#0ef 0 116.4px,#4fb 0 122.5px,#bf4 0 128.6px,#6f9 0 134.8px,#af5 0 140.9px,#ff0 0 147px,#ef1 0 153.1px,#fd0 0 159.2px,#ef1 0 165.4px,#cf3 0 171.5px,#2fd 0 177.6px,#06f 0 183.8px,#00d 0 189.9px,#009 0"></i><i style="--g:#009 0 42.9px,#00a 0 49px,#009 0 55.1px,#00a 0 67.4px,#00b 0 73.5px,#00c 0 79.6px,#00d 0 85.8px,#00f 0 91.9px,#03f 0 98px,#04f 0 104.1px,#08f 0 110.2px,#0cf 0 116.4px,#2fd 0 122.5px,#7f8 0 128.6px,#ef1 0 134.8px,#9f6 0 140.9px,#ff0 0 147px,#fb0 0 153.1px,#ff0 0 159.2px,#fd0 0 165.4px,#df2 0 171.5px,#4fb 0 177.6px,#07f 0 183.8px,#00e 0 189.9px,#009 0"></i><i style="--g:#00a 0 42.9px,#00b 0 67.4px,#00c 0 73.5px,#00d 0 79.6px,#00e 0 85.8px,#00f 0 91.9px,#04f 0 98px,#06f 0 104.1px,#0af 0 110.2px,#0ef 0 116.4px,#1fe 0 122.5px,#9f6 0 128.6px,#7f8 0 134.8px,#6f9 0 140.9px,#9f6 0 147px,#ff0 0 165.4px,#9f6 0 171.5px,#3fc 0 177.6px,#07f 0 183.8px,#00d 0 189.9px,#009 0"></i><i style="--g:#00a 0 18.4px,#00b 0 24.5px,#00a 0 42.9px,#00b 0 61.2px,#00c 0 73.5px,#00e 0 79.6px,#00f 0 91.9px,#04f 0 98px,#07f 0 104.1px,#0cf 0 110.2px,#1fe 0 116.4px,#7f8 0 122.5px,#af5 0 128.6px,#ef1 0 134.8px,#df2 0 147px,#f90 0 159.2px,#fe0 0 165.4px,#ef1 0 171.5px,#3fc 0 177.6px,#07f 0 183.8px,#00e 0 189.9px,#009 0"></i><i style="--g:#00b 0 24.5px,#00a 0 30.6px,#00b 0 61.2px,#00c 0 73.5px,#00d 0 79.6px,#00f 0 91.9px,#04f 0 98px,#08f 0 104.1px,#0df 0 110.2px,#1fe 0 116.4px,#6f9 0 122.5px,#cf3 0 128.6px,#ff0 0 134.8px,#af5 0 140.9px,#cf3 0 147px,#ff0 0 153.1px,#df2 0 165.4px,#cf3 0 171.5px,#1fe 0 177.6px,#06f 0 183.8px,#00d 0 189.9px,#009 0"></i><i style="--g:#00a 0 6.1px,#00b 0 12.2px,#00a 0 49px,#00b 0 67.4px,#00c 0 73.5px,#00d 0 79.6px,#00f 0 85.8px,#01f 0 91.9px,#04f 0 98px,#05f 0 104.1px,#0bf 0 110.2px,#1fe 0 116.4px,#2fd 0 122.5px,#ff0 0 128.6px,#ef1 0 134.8px,#ff0 0 140.9px,#df2 0 147px,#fc0 0 159.2px,#fd0 0 165.4px,#ff0 0 171.5px,#3fc 0 177.6px,#06f 0 183.8px,#00e 0 189.9px,#00a 0"></i><i style="--g:#00a 0 6.1px,#00b 0 24.5px,#00a 0 30.6px,#00b 0 55.1px,#00c 0 67.4px,#00d 0 73.5px,#00e 0 85.8px,#01f 0 91.9px,#03f 0 98px,#06f 0 104.1px,#0ef 0 110.2px,#0ff 0 116.4px,#5fa 0 122.5px,#ef1 0 128.6px,#fd0 0 134.8px,#8f7 0 140.9px,#bf4 0 147px,#ef1 0 153.1px,#cf3 0 159.2px,#ff0 0 165.4px,#9f6 0 171.5px,#3fc 0 177.6px,#07f 0 183.8px,#00e 0 189.9px,#00a 0"></i><i style="--g:#00b 0 55.1px,#00c 0 67.4px,#00d 0 73.5px,#00e 0 79.6px,#00f 0 85.8px,#01f 0 91.9px,#03f 0 98px,#08f 0 104.1px,#0cf 0 110.2px,#0ef 0 116.4px,#7f8 0 122.5px,#6f9 0 128.6px,#cf3 0 134.8px,#8f7 0 140.9px,#7f8 0 147px,#af5 0 153.1px,#cf3 0 159.2px,#bf4 0 165.4px,#4fb 0 171.5px,#0ef 0 177.6px,#03f 0 183.8px,#00c 0 189.9px,#00a 0"></i><i style="--g:#00b 0 24.5px,#00a 0 30.6px,#00b 0 61.2px,#00c 0 73.5px,#00e 0 79.6px,#00f 0 85.8px,#01f 0 91.9px,#06f 0 98px,#09f 0 104.1px,#0df 0 110.2px,#1fe 0 116.4px,#9f6 0 122.5px,#df2 0 128.6px,#fd0 0 134.8px,#ff0 0 140.9px,#9f6 0 147px,#df2 0 153.1px,#f80 0 159.2px,#fe0 0 165.4px,#af5 0 171.5px,#2fd 0 177.6px,#07f 0 183.8px,#00d 0 189.9px,#009 0"></i><i style="--g:#00a 0 18.4px,#00b 0 67.4px,#00d 0 79.6px,#00e 0 85.8px,#01f 0 98px,#04f 0 104.1px,#08f 0 110.2px,#0cf 0 116.4px,#2fd 0 122.5px,#7f8 0 128.6px,#9f6 0 134.8px,#6f9 0 140.9px,#4fb 0 147px,#6f9 0 153.1px,#af5 0 159.2px,#9f6 0 165.4px,#3fc 0 171.5px,#1fe 0 177.6px,#04f 0 183.8px,#00c 0 189.9px,#009 0"></i><i style="--g:#00a 0 61.2px,#00b 0 73.5px,#00d 0 79.6px,#00e 0 85.8px,#00f 0 91.9px,#02f 0 98px,#04f 0 104.1px,#0af 0 110.2px,#0ef 0 116.4px,#2fd 0 122.5px,#5fa 0 128.6px,#9f6 0 134.8px,#cf3 0 140.9px,#8f7 0 147px,#bf4 0 153.1px,#ef1 0 159.2px,#ff0 0 165.4px,#9f6 0 171.5px,#0ff 0 177.6px,#04f 0 183.8px,#00e 0 189.9px,#00a 0"></i><i style="--g:#00a 0 6.1px,#00b 0 12.2px,#00a 0 30.6px,#00b 0 67.4px,#00c 0 73.5px,#00d 0 85.8px,#00f 0 91.9px,#02f 0 98px,#03f 0 104.1px,#0af 0 110.2px,#0cf 0 116.4px,#1fe 0 122.5px,#3fc 0 128.6px,#af5 0 134.8px,#df2 0 140.9px,#8f7 0 147px,#af5 0 159.2px,#8f7 0 165.4px,#9f6 0 171.5px,#1fe 0 177.6px,#05f 0 183.8px,#00e 0 189.9px,#00a 0"></i><i style="--g:#00a 0 67.4px,#00b 0 73.5px,#00c 0 79.6px,#00d 0 85.8px,#00e 0 91.9px,#00f 0 98px,#03f 0 104.1px,#07f 0 110.2px,#09f 0 116.4px,#0cf 0 122.5px,#5fa 0 128.6px,#af5 0 140.9px,#df2 0 147px,#fa0 0 159.2px,#fd0 0 165.4px,#bf4 0 171.5px,#6f9 0 177.6px,#08f 0 183.8px,#00f 0 189.9px,#00a 0"></i><i style="--g:#00a 0 61.2px,#00b 0 73.5px,#00d 0 85.8px,#00f 0 98px,#05f 0 104.1px,#06f 0 110.2px,#0ff 0 116.4px,#1fe 0 122.5px,#6f9 0 134.8px,#9f6 0 147px,#ff0 0 153.1px,#fc0 0 159.2px,#f80 0 165.4px,#9f6 0 171.5px,#6f9 0 177.6px,#09f 0 183.8px,#00f 0 189.9px,#009 0"></i><i style="--g:#00b 0 6.1px,#00a 0 12.2px,#00b 0 24.5px,#00a 0 30.6px,#00b 0 61.2px,#00c 0 79.6px,#00d 0 85.8px,#00e 0 91.9px,#00f 0 98px,#02f 0 104.1px,#05f 0 110.2px,#08f 0 116.4px,#0cf 0 122.5px,#0ef 0 128.6px,#3fc 0 134.8px,#4fb 0 140.9px,#6f9 0 147px,#fe0 0 153.1px,#ef1 0 159.2px,#cf3 0 165.4px,#8f7 0 171.5px,#6f9 0 177.6px,#08f 0 183.8px,#00e 0 189.9px,#00a 0"></i><i style="--g:#00a 0 18.4px,#009 0 24.5px,#00a 0 61.2px,#00b 0 73.5px,#00c 0 79.6px,#00d 0 85.8px,#00e 0 91.9px,#01f 0 98px,#03f 0 104.1px,#09f 0 110.2px,#0df 0 116.4px,#3fc 0 122.5px,#df2 0 134.8px,#fe0 0 140.9px,#ff0 0 159.2px,#ef1 0 165.4px,#ff0 0 171.5px,#3fc 0 177.6px,#0af 0 183.8px,#00f 0 189.9px,#00a 0"></i><i style="--g:#00a 0 6.1px,#00b 0 12.2px,#00a 0 24.5px,#00b 0 30.6px,#00a 0 49px,#00b 0 61.2px,#00c 0 73.5px,#00d 0 79.6px,#00e 0 85.8px,#00f 0 91.9px,#03f 0 98px,#04f 0 104.1px,#0af 0 110.2px,#1fe 0 116.4px,#3fc 0 122.5px,#af5 0 128.6px,#cf3 0 134.8px,#ef1 0 140.9px,#ff0 0 147px,#cf3 0 159.2px,#bf4 0 165.4px,#8f7 0 171.5px,#5fa 0 177.6px,#07f 0 183.8px,#00d 0 189.9px,#00a 0"></i><i style="--g:#009 0 55.1px,#00a 0 67.4px,#00b 0 73.5px,#00d 0 79.6px,#00e 0 85.8px,#00f 0 91.9px,#02f 0 98px,#04f 0 104.1px,#0bf 0 110.2px,#0ff 0 116.4px,#6f9 0 122.5px,#df2 0 128.6px,#ff0 0 134.8px,#cf3 0 140.9px,#fe0 0 147px,#cf3 0 153.1px,#fb0 0 159.2px,#fd0 0 165.4px,#cf3 0 171.5px,#6f9 0 177.6px,#08f 0 183.8px,#00e 0 189.9px,#00a 0"></i><i style="--g:#00b 0 49px,#00a 0 55.1px,#00c 0 67.4px,#00d 0 79.6px,#00f 0 85.8px,#01f 0 91.9px,#03f 0 98px,#05f 0 104.1px,#09f 0 110.2px,#1fe 0 116.4px,#5fa 0 122.5px,#ff0 0 128.6px,#af5 0 134.8px,#ff0 0 140.9px,#fd0 0 147px,#fe0 0 153.1px,#f80 0 159.2px,#ff0 0 165.4px,#fd0 0 171.5px,#9f6 0 177.6px,#09f 0 183.8px,#00f 0 189.9px,#00a 0"></i><i style="--g:#00a 0 42.9px,#00b 0 49px,#00a 0 55.1px,#00b 0 67.4px,#00c 0 79.6px,#00d 0 85.8px,#00e 0 91.9px,#00f 0 98px,#02f 0 104.1px,#06f 0 110.2px,#0af 0 116.4px,#0ff 0 122.5px,#4fb 0 128.6px,#bf4 0 134.8px,#8f7 0 140.9px,#cf3 0 147px,#ff0 0 153.1px,#fa0 0 159.2px,#f90 0 165.4px,#bf4 0 171.5px,#8f7 0 177.6px,#0af 0 183.8px,#01f 0 189.9px,#00a 0"></i><i style="--g:#00a 0 42.9px,#00b 0 67.4px,#00c 0 79.6px,#00d 0 91.9px,#00f 0 98px,#01f 0 104.1px,#04f 0 110.2px,#06f 0 116.4px,#0bf 0 122.5px,#3fc 0 128.6px,#4fb 0 147px,#ef1 0 153.1px,#fe0 0 159.2px,#df2 0 165.4px,#8f7 0 171.5px,#2fd 0 177.6px,#06f 0 183.8px,#00f 0 189.9px,#00a 0"></i><i style="--g:#00a 0 61.2px,#00b 0 67.4px,#00a 0 73.5px,#00b 0 85.8px,#00c 0 91.9px,#00e 0 98px,#00f 0 104.1px,#01f 0 110.2px,#05f 0 116.4px,#07f 0 122.5px,#0df 0 134.8px,#0ff 0 140.9px,#af5 0 147px,#ef1 0 153.1px,#f90 0 159.2px,#fe0 0 165.4px,#fa0 0 171.5px,#8f7 0 177.6px,#0af 0 183.8px,#02f 0 189.9px,#00a 0"></i><i style="--g:#009 0 18.4px,#00a 0 24.5px,#009 0 36.8px,#00a 0 73.5px,#00b 0 85.8px,#00d 0 98px,#00f 0 104.1px,#02f 0 110.2px,#05f 0 116.4px,#06f 0 122.5px,#0af 0 128.6px,#3fc 0 134.8px,#4fb 0 140.9px,#8f7 0 147px,#fc0 0 153.1px,#ef1 0 159.2px,#fe0 0 165.4px,#ff0 0 171.5px,#6f9 0 177.6px,#08f 0 183.8px,#01f 0 189.9px,#00a 0"></i><i style="--g:#009 0 12.2px,#00a 0 67.4px,#00b 0 79.6px,#00c 0 85.8px,#00d 0 91.9px,#00f 0 104.1px,#03f 0 110.2px,#08f 0 116.4px,#0bf 0 122.5px,#0ff 0 128.6px,#8f7 0 134.8px,#af5 0 140.9px,#cf3 0 147px,#fd0 0 153.1px,#ff0 0 171.5px,#4fb 0 177.6px,#09f 0 183.8px,#01f 0 189.9px,#00b 0"></i><i style="--g:#00a 0 55.1px,#00b 0 67.4px,#00c 0 73.5px,#00d 0 79.6px,#00e 0 85.8px,#00f 0 91.9px,#01f 0 98px,#03f 0 104.1px,#09f 0 110.2px,#0ff 0 116.4px,#5fa 0 122.5px,#4fb 0 128.6px,#ef1 0 140.9px,#fd0 0 147px,#fa0 0 159.2px,#fe0 0 165.4px,#af5 0 171.5px,#9f6 0 177.6px,#09f 0 183.8px,#00f 0 189.9px,#00a 0"></i><i style="--g:#00c 0 24.5px,#00b 0 49px,#00c 0 55.1px,#00d 0 61.2px,#00c 0 67.4px,#00d 0 73.5px,#00e 0 85.8px,#00f 0 91.9px,#02f 0 98px,#05f 0 104.1px,#08f 0 110.2px,#0ff 0 116.4px,#1fe 0 122.5px,#7f8 0 128.6px,#bf4 0 134.8px,#fe0 0 140.9px,#fd0 0 147px,#f90 0 153.1px,#f80 0 159.2px,#ff0 0 165.4px,#fe0 0 171.5px,#cf3 0 177.6px,#0cf 0 183.8px,#01f 0 189.9px,#00a 0"></i><i style="--g:#00e 0 6.1px,#00f 0 12.2px,#00e 0 42.9px,#00d 0 49px,#00e 0 55.1px,#00f 0 61.2px,#00e 0 67.4px,#00f 0 79.6px,#01f 0 85.8px,#03f 0 91.9px,#04f 0 98px,#05f 0 104.1px,#09f 0 110.2px,#0df 0 116.4px,#1fe 0 122.5px,#4fb 0 128.6px,#bf4 0 134.8px,#9f6 0 140.9px,#ff0 0 147px,#ef1 0 153.1px,#bf4 0 159.2px,#df2 0 165.4px,#9f6 0 171.5px,#0ff 0 177.6px,#06f 0 183.8px,#00e 0 189.9px,#00a 0"></i><i style="--g:#00f 0 36.8px,#00e 0 42.9px,#00f 0 79.6px,#02f 0 85.8px,#04f 0 91.9px,#05f 0 98px,#08f 0 104.1px,#09f 0 110.2px,#0cf 0 116.4px,#3fc 0 128.6px,#cf3 0 140.9px,#ef1 0 147px,#f90 0 153.1px,#fa0 0 165.4px,#fe0 0 171.5px,#8f7 0 177.6px,#0af 0 183.8px,#01f 0 189.9px,#00a 0"></i><i style="--g:#00e 0 6.1px,#00d 0 12.2px,#00c 0 18.4px,#00d 0 36.8px,#00e 0 42.9px,#00d 0 49px,#00e 0 67.4px,#00f 0 85.8px,#02f 0 91.9px,#03f 0 98px,#07f 0 104.1px,#09f 0 110.2px,#0df 0 116.4px,#2fd 0 122.5px,#6f9 0 128.6px,#df2 0 134.8px,#bf4 0 140.9px,#ff0 0 153.1px,#ef1 0 159.2px,#fc0 0 165.4px,#cf3 0 171.5px,#3fc 0 177.6px,#09f 0 183.8px,#00f 0 189.9px,#00b 0"></i><i style="--g:#00c 0 6.1px,#00d 0 12.2px,#00c 0 55.1px,#00d 0 61.2px,#00c 0 67.4px,#00e 0 79.6px,#00f 0 91.9px,#02f 0 98px,#04f 0 104.1px,#0bf 0 110.2px,#0cf 0 116.4px,#0ff 0 122.5px,#7f8 0 128.6px,#ff0 0 134.8px,#cf3 0 140.9px,#ff0 0 153.1px,#f80 0 159.2px,#fe0 0 165.4px,#fc0 0 171.5px,#6f9 0 177.6px,#0af 0 183.8px,#01f 0 189.9px,#00b 0"></i><i style="--g:#00b 0 18.4px,#00c 0 24.5px,#00b 0 55.1px,#00c 0 61.2px,#00d 0 73.5px,#00e 0 85.8px,#00f 0 91.9px,#03f 0 98px,#04f 0 104.1px,#08f 0 110.2px,#09f 0 116.4px,#1fe 0 122.5px,#4fb 0 128.6px,#7f8 0 140.9px,#6f9 0 147px,#cf3 0 159.2px,#df2 0 165.4px,#8f7 0 171.5px,#5fa 0 177.6px,#07f 0 183.8px,#00f 0 189.9px,#00a 0"></i><i style="--g:#00b 0 18.4px,#00a 0 24.5px,#00b 0 67.4px,#00c 0 79.6px,#00e 0 91.9px,#00f 0 104.1px,#04f 0 110.2px,#05f 0 116.4px,#0af 0 122.5px,#0df 0 128.6px,#2fd 0 134.8px,#3fc 0 140.9px,#7f8 0 147px,#af5 0 153.1px,#ef1 0 165.4px,#8f7 0 171.5px,#3fc 0 177.6px,#07f 0 183.8px,#00f 0 189.9px,#00b 0"></i><i style="--g:#00b 0 6.1px,#00c 0 24.5px,#00b 0 30.6px,#00c 0 42.9px,#00d 0 49px,#00c 0 67.4px,#00d 0 79.6px,#00e 0 85.8px,#00f 0 98px,#02f 0 104.1px,#04f 0 110.2px,#07f 0 116.4px,#0bf 0 122.5px,#0cf 0 128.6px,#2fd 0 134.8px,#9f6 0 140.9px,#af5 0 147px,#ff0 0 165.4px,#bf4 0 171.5px,#4fb 0 177.6px,#08f 0 183.8px,#01f 0 189.9px,#00b 0"></i><i style="--g:#00b 0 12.2px,#00c 0 18.4px,#00b 0 24.5px,#00c 0 30.6px,#00b 0 42.9px,#00c 0 67.4px,#00d 0 79.6px,#00e 0 85.8px,#00f 0 91.9px,#00e 0 98px,#00f 0 104.1px,#02f 0 110.2px,#03f 0 116.4px,#05f 0 122.5px,#08f 0 128.6px,#0bf 0 134.8px,#0cf 0 140.9px,#4fb 0 147px,#fe0 0 153.1px,#bf4 0 159.2px,#cf3 0 165.4px,#7f8 0 171.5px,#4fb 0 177.6px,#0af 0 183.8px,#02f 0 189.9px,#00b 0"></i><i style="--g:#00d 0 42.9px,#00e 0 49px,#00d 0 55.1px,#00e 0 85.8px,#00f 0 98px,#01f 0 104.1px,#02f 0 110.2px,#03f 0 116.4px,#05f 0 128.6px,#09f 0 134.8px,#0cf 0 140.9px,#0ff 0 147px,#bf4 0 153.1px,#cf3 0 159.2px,#df2 0 165.4px,#bf4 0 171.5px,#2fd 0 177.6px,#09f 0 183.8px,#00f 0 189.9px,#00b 0"></i><i style="--g:#00c 0 49px,#00d 0 55.1px,#00c 0 61.2px,#00d 0 85.8px,#00e 0 91.9px,#00f 0 104.1px,#01f 0 110.2px,#02f 0 116.4px,#03f 0 122.5px,#05f 0 128.6px,#0af 0 134.8px,#0df 0 140.9px,#4fb 0 147px,#6f9 0 153.1px,#ef1 0 159.2px,#ff0 0 165.4px,#7f8 0 171.5px,#4fb 0 177.6px,#0bf 0 183.8px,#00f 0 189.9px,#00b 0"></i><i style="--g:#00b 0 67.4px,#00c 0 73.5px,#00d 0 85.8px,#00e 0 91.9px,#00f 0 104.1px,#03f 0 110.2px,#05f 0 122.5px,#07f 0 128.6px,#1fe 0 134.8px,#6f9 0 140.9px,#cf3 0 147px,#ff0 0 153.1px,#f50 0 159.2px,#fc0 0 165.4px,#fd0 0 171.5px,#9f6 0 177.6px,#0cf 0 183.8px,#04f 0 189.9px,#00b 0"></i><i style="--g:#00b 0 49px,#00c 0 73.5px,#00d 0 79.6px,#00e 0 91.9px,#00f 0 104.1px,#02f 0 110.2px,#07f 0 122.5px,#0bf 0 128.6px,#2fd 0 134.8px,#7f8 0 140.9px,#fd0 0 147px,#f90 0 153.1px,#f00 0 159.2px,#fb0 0 165.4px,#f70 0 171.5px,#8f7 0 177.6px,#0cf 0 183.8px,#05f 0 189.9px,#00c 0"></i><i style="--g:#00b 0 6.1px,#00a 0 30.6px,#00b 0 36.8px,#00a 0 49px,#00b 0 67.4px,#00c 0 73.5px,#00b 0 79.6px,#00d 0 85.8px,#00e 0 98px,#00f 0 104.1px,#02f 0 116.4px,#05f 0 122.5px,#08f 0 128.6px,#0ef 0 134.8px,#7f8 0 147px,#ff0 0 159.2px,#fe0 0 165.4px,#bf4 0 171.5px,#6f9 0 177.6px,#0df 0 183.8px,#02f 0 189.9px,#00c 0"></i><i style="--g:#009 0 61.2px,#00a 0 67.4px,#00b 0 79.6px,#00d 0 91.9px,#00f 0 98px,#03f 0 104.1px,#07f 0 110.2px,#0cf 0 116.4px,#0ef 0 122.5px,#3fc 0 128.6px,#cf3 0 134.8px,#ff0 0 140.9px,#fc0 0 147px,#f70 0 153.1px,#f20 0 159.2px,#f00 0 165.4px,#f60 0 171.5px,#df2 0 177.6px,#0ff 0 183.8px,#05f 0 189.9px,#00c 0"></i><i style="--g:#009 0 55.1px,#00a 0 61.2px,#00b 0 67.4px,#00c 0 73.5px,#00e 0 79.6px,#00f 0 85.8px,#03f 0 91.9px,#08f 0 98px,#0bf 0 104.1px,#1fe 0 110.2px,#bf4 0 116.4px,#af5 0 122.5px,#fc0 0 128.6px,#f50 0 134.8px,#a00 0 140.9px,#f10 0 147px,#d00 0 153.1px,#c00 0 159.2px,#f00 0 165.4px,#f20 0 171.5px,#f90 0 177.6px,#2fd 0 183.8px,#05f 0 189.9px,#00d 0"></i><i style="--g:#009 0 55.1px,#00a 0 61.2px,#00b 0 67.4px,#00c 0 73.5px,#00e 0 79.6px,#00f 0 85.8px,#02f 0 91.9px,#06f 0 98px,#0cf 0 104.1px,#0ff 0 110.2px,#5fa 0 116.4px,#cf3 0 122.5px,#fe0 0 128.6px,#fd0 0 134.8px,#fa0 0 140.9px,#f30 0 147px,#d00 0 153.1px,#f20 0 159.2px,#d00 0 165.4px,#f60 0 171.5px,#f50 0 177.6px,#1fe 0 183.8px,#06f 0 189.9px,#00d 0"></i><i style="--g:#00a 0 12.2px,#009 0 18.4px,#00a 0 61.2px,#00b 0 73.5px,#00c 0 79.6px,#00d 0 85.8px,#00f 0 91.9px,#02f 0 98px,#05f 0 104.1px,#06f 0 110.2px,#0bf 0 116.4px,#0ff 0 122.5px,#7f8 0 128.6px,#df2 0 134.8px,#8f7 0 140.9px,#fb0 0 147px,#f80 0 153.1px,#f20 0 159.2px,#f80 0 165.4px,#f40 0 171.5px,#cf3 0 177.6px,#0ff 0 183.8px,#05f 0 189.9px,#00c 0"></i><i style="--g:#00a 0 55.1px,#00b 0 67.4px,#00c 0 73.5px,#00d 0 79.6px,#00f 0 85.8px,#01f 0 91.9px,#03f 0 98px,#07f 0 104.1px,#0bf 0 110.2px,#0ff 0 116.4px,#9f6 0 122.5px,#af5 0 128.6px,#bf4 0 134.8px,#f70 0 140.9px,#f40 0 147px,#f00 0 153.1px,#e00 0 159.2px,#f80 0 171.5px,#ff0 0 177.6px,#4fb 0 183.8px,#08f 0 189.9px,#00d 0"></i><i style="--g:#00a 0 6.1px,#00b 0 49px,#00c 0 61.2px,#00d 0 67.4px,#00e 0 73.5px,#00f 0 79.6px,#01f 0 85.8px,#04f 0 91.9px,#0bf 0 98px,#0df 0 110.2px,#2fd 0 116.4px,#9f6 0 122.5px,#af5 0 128.6px,#cf3 0 134.8px,#fb0 0 140.9px,#fc0 0 147px,#f40 0 153.1px,#fa0 0 159.2px,#fb0 0 165.4px,#f90 0 171.5px,#cf3 0 177.6px,#0cf 0 183.8px,#04f 0 189.9px,#00c 0"></i><i style="--g:#00b 0 55.1px,#00c 0 61.2px,#00d 0 67.4px,#00f 0 79.6px,#02f 0 85.8px,#05f 0 91.9px,#0af 0 98px,#0cf 0 104.1px,#5fa 0 110.2px,#af5 0 116.4px,#bf4 0 122.5px,#ef1 0 128.6px,#f60 0 134.8px,#f00 0 140.9px,#f30 0 147px,#f40 0 153.1px,#800 0 159.2px,#f10 0 165.4px,#fb0 0 171.5px,#fe0 0 177.6px,#0ef 0 183.8px,#05f 0 189.9px,#00c 0"></i><i style="--g:#00d 0 24.5px,#00c 0 30.6px,#00d 0 36.8px,#00c 0 42.9px,#00e 0 49px,#00d 0 61.2px,#00e 0 73.5px,#00f 0 79.6px,#01f 0 85.8px,#02f 0 91.9px,#03f 0 98px,#06f 0 104.1px,#09f 0 110.2px,#0bf 0 116.4px,#4fb 0 122.5px,#9f6 0 128.6px,#af5 0 134.8px,#bf4 0 140.9px,#f90 0 147px,#f50 0 153.1px,#fc0 0 159.2px,#f60 0 165.4px,#fc0 0 171.5px,#ef1 0 177.6px,#0df 0 183.8px,#06f 0 189.9px,#00d 0"></i><i style="--g:#00b 0 49px,#00c 0 73.5px,#00d 0 79.6px,#00e 0 91.9px,#01f 0 110.2px,#07f 0 116.4px,#09f 0 122.5px,#0ff 0 128.6px,#1fe 0 134.8px,#6f9 0 140.9px,#8f7 0 147px,#fd0 0 153.1px,#f90 0 159.2px,#fc0 0 165.4px,#af5 0 171.5px,#cf3 0 177.6px,#0bf 0 183.8px,#03f 0 189.9px,#00c 0"></i><i style="--g:#00d 0 18.4px,#00e 0 24.5px,#00d 0 55.1px,#00e 0 67.4px,#00f 0 85.8px,#01f 0 91.9px,#02f 0 98px,#03f 0 104.1px,#04f 0 110.2px,#09f 0 116.4px,#0af 0 122.5px,#0ff 0 128.6px,#7f8 0 134.8px,#bf4 0 140.9px,#fc0 0 147px,#f80 0 153.1px,#f40 0 159.2px,#fc0 0 165.4px,#f70 0 171.5px,#bf4 0 177.6px,#0df 0 183.8px,#04f 0 189.9px,#00d 0"></i><i style="--g:#00d 0 30.6px,#00e 0 73.5px,#00f 0 85.8px,#01f 0 91.9px,#04f 0 104.1px,#06f 0 110.2px,#0af 0 116.4px,#0bf 0 122.5px,#0ff 0 128.6px,#3fc 0 134.8px,#6f9 0 140.9px,#cf3 0 147px,#df2 0 153.1px,#f80 0 159.2px,#fc0 0 165.4px,#ef1 0 171.5px,#af5 0 177.6px,#0bf 0 183.8px,#02f 0 189.9px,#00c 0"></i><i style="--g:#00f 0 24.5px,#00e 0 36.8px,#00f 0 61.2px,#01f 0 73.5px,#02f 0 85.8px,#04f 0 98px,#07f 0 104.1px,#06f 0 110.2px,#0af 0 116.4px,#0bf 0 122.5px,#0ff 0 128.6px,#5fa 0 134.8px,#8f7 0 140.9px,#ff0 0 147px,#f50 0 153.1px,#fd0 0 159.2px,#f60 0 165.4px,#df2 0 171.5px,#9f6 0 177.6px,#0bf 0 183.8px,#04f 0 189.9px,#00c 0"></i><i style="--g:#00b 0 61.2px,#00c 0 67.4px,#00b 0 73.5px,#00c 0 79.6px,#00d 0 85.8px,#00f 0 104.1px,#02f 0 110.2px,#04f 0 116.4px,#05f 0 122.5px,#07f 0 128.6px,#0af 0 134.8px,#0ff 0 140.9px,#4fb 0 147px,#af5 0 153.1px,#ff0 0 159.2px,#af5 0 165.4px,#bf4 0 171.5px,#6f9 0 177.6px,#0af 0 183.8px,#02f 0 189.9px,#00c 0"></i><i style="--g:#00c 0 55.1px,#00e 0 61.2px,#00d 0 73.5px,#00e 0 85.8px,#00f 0 110.2px,#02f 0 116.4px,#03f 0 122.5px,#08f 0 128.6px,#0af 0 134.8px,#0ff 0 140.9px,#7f8 0 147px,#ef1 0 153.1px,#fe0 0 159.2px,#fd0 0 165.4px,#cf3 0 171.5px,#9f6 0 177.6px,#0af 0 183.8px,#05f 0 189.9px,#00d 0"></i><i style="--g:#00c 0 6.1px,#00d 0 12.2px,#00c 0 24.5px,#00d 0 30.6px,#00c 0 36.8px,#00d 0 49px,#00c 0 55.1px,#00d 0 79.6px,#00e 0 85.8px,#00f 0 104.1px,#01f 0 110.2px,#02f 0 116.4px,#03f 0 122.5px,#06f 0 128.6px,#0bf 0 134.8px,#0ff 0 140.9px,#bf4 0 147px,#fb0 0 153.1px,#ff0 0 159.2px,#fe0 0 165.4px,#ff0 0 171.5px,#af5 0 177.6px,#0cf 0 183.8px,#06f 0 189.9px,#00d 0"></i><i style="--g:#00f 0 61.2px,#01f 0 67.4px,#00f 0 79.6px,#01f 0 85.8px,#02f 0 91.9px,#03f 0 98px,#04f 0 104.1px,#06f 0 116.4px,#0af 0 122.5px,#0cf 0 128.6px,#1fe 0 134.8px,#df2 0 140.9px,#ff0 0 147px,#f20 0 153.1px,#f30 0 159.2px,#e00 0 165.4px,#f90 0 171.5px,#ff0 0 177.6px,#1fe 0 183.8px,#05f 0 189.9px,#00d 0"></i><i style="--g:#00c 0 30.6px,#00d 0 36.8px,#00c 0 67.4px,#00d 0 79.6px,#00e 0 85.8px,#00f 0 98px,#01f 0 110.2px,#03f 0 116.4px,#06f 0 122.5px,#08f 0 128.6px,#0bf 0 134.8px,#3fc 0 140.9px,#6f9 0 147px,#cf3 0 153.1px,#fd0 0 159.2px,#ff0 0 165.4px,#af5 0 171.5px,#9f6 0 177.6px,#0af 0 183.8px,#03f 0 189.9px,#00b 0"></i><i style="--g:#00e 0 18.4px,#00f 0 24.5px,#00e 0 30.6px,#00f 0 36.8px,#00e 0 61.2px,#00f 0 85.8px,#01f 0 91.9px,#02f 0 98px,#03f 0 110.2px,#04f 0 116.4px,#06f 0 122.5px,#08f 0 128.6px,#0df 0 134.8px,#4fb 0 140.9px,#af5 0 147px,#fe0 0 153.1px,#f50 0 159.2px,#f90 0 165.4px,#fe0 0 171.5px,#af5 0 177.6px,#0cf 0 183.8px,#04f 0 189.9px,#00c 0"></i><i style="--g:#00f 0 61.2px,#01f 0 67.4px,#00f 0 79.6px,#02f 0 85.8px,#03f 0 91.9px,#02f 0 104.1px,#05f 0 110.2px,#06f 0 116.4px,#08f 0 122.5px,#0ef 0 128.6px,#4fb 0 134.8px,#cf3 0 140.9px,#ff0 0 147px,#f60 0 153.1px,#d00 0 159.2px,#e00 0 165.4px,#f50 0 171.5px,#ff0 0 177.6px,#3fc 0 183.8px,#06f 0 189.9px,#00e 0"></i><i style="--g:#00f 0 73.5px,#02f 0 85.8px,#03f 0 98px,#06f 0 104.1px,#05f 0 110.2px,#08f 0 116.4px,#09f 0 122.5px,#0cf 0 128.6px,#4fb 0 134.8px,#bf4 0 140.9px,#fa0 0 147px,#f90 0 153.1px,#f60 0 159.2px,#f40 0 165.4px,#f30 0 171.5px,#fd0 0 177.6px,#0cf 0 183.8px,#04f 0 189.9px,#00d 0"></i><i style="--g:#00f 0 36.8px,#01f 0 42.9px,#00f 0 61.2px,#01f 0 67.4px,#02f 0 73.5px,#00f 0 79.6px,#03f 0 91.9px,#05f 0 104.1px,#09f 0 110.2px,#0cf 0 116.4px,#0ff 0 122.5px,#2fd 0 128.6px,#7f8 0 134.8px,#ef1 0 140.9px,#fe0 0 147px,#fa0 0 153.1px,#e00 0 159.2px,#f90 0 165.4px,#fe0 0 171.5px,#ef1 0 177.6px,#0ef 0 183.8px,#04f 0 189.9px,#00d 0"></i><i style="--g:#00b 0 49px,#00c 0 73.5px,#00d 0 85.8px,#00e 0 91.9px,#00f 0 110.2px,#02f 0 116.4px,#03f 0 122.5px,#05f 0 128.6px,#0bf 0 134.8px,#8f7 0 140.9px,#ef1 0 147px,#f50 0 153.1px,#f00 0 159.2px,#f10 0 165.4px,#fb0 0 171.5px,#bf4 0 177.6px,#0ef 0 183.8px,#04f 0 189.9px,#00d 0"></i><i style="--g:#00d 0 42.9px,#00c 0 55.1px,#00d 0 67.4px,#00e 0 85.8px,#00f 0 104.1px,#01f 0 110.2px,#02f 0 122.5px,#06f 0 128.6px,#0af 0 134.8px,#6f9 0 140.9px,#fe0 0 147px,#f50 0 153.1px,#900 0 159.2px,#e00 0 165.4px,#a00 0 171.5px,#fe0 0 177.6px,#6f9 0 183.8px,#05f 0 189.9px,#00e 0"></i><i style="--g:#00b 0 30.6px,#00a 0 36.8px,#00b 0 61.2px,#00c 0 85.8px,#00d 0 91.9px,#00e 0 104.1px,#00f 0 122.5px,#03f 0 128.6px,#05f 0 134.8px,#0ef 0 140.9px,#8f7 0 147px,#fb0 0 153.1px,#f20 0 159.2px,#fb0 0 165.4px,#f90 0 171.5px,#bf4 0 177.6px,#0df 0 183.8px,#05f 0 189.9px,#00d 0"></i><i style="--g:#00e 0 6.1px,#00d 0 49px,#00e 0 55.1px,#00d 0 61.2px,#00e 0 73.5px,#00f 0 91.9px,#02f 0 98px,#00f 0 104.1px,#03f 0 110.2px,#04f 0 116.4px,#06f 0 122.5px,#0af 0 128.6px,#2fd 0 134.8px,#7f8 0 140.9px,#cf3 0 147px,#f40 0 153.1px,#f20 0 159.2px,#f10 0 165.4px,#f70 0 171.5px,#fd0 0 177.6px,#2fd 0 183.8px,#06f 0 189.9px,#00d 0"></i><i style="--g:#00a 0 6.1px,#00b 0 61.2px,#00c 0 73.5px,#00d 0 79.6px,#00e 0 85.8px,#00f 0 91.9px,#01f 0 98px,#03f 0 104.1px,#04f 0 110.2px,#08f 0 116.4px,#0ff 0 122.5px,#4fb 0 128.6px,#af5 0 134.8px,#f60 0 140.9px,#f20 0 147px,#e00 0 153.1px,#f20 0 159.2px,#f30 0 165.4px,#f80 0 177.6px,#4fb 0 183.8px,#03f 0 189.9px,#00e 0"></i><i style="--g:#00a 0 18.4px,#00b 0 24.5px,#00a 0 55.1px,#00b 0 67.4px,#00c 0 79.6px,#00d 0 85.8px,#00f 0 98px,#01f 0 104.1px,#03f 0 110.2px,#06f 0 116.4px,#0af 0 122.5px,#0ef 0 128.6px,#4fb 0 134.8px,#cf3 0 140.9px,#fe0 0 147px,#f40 0 153.1px,#900 0 159.2px,#f00 0 165.4px,#f40 0 171.5px,#fc0 0 177.6px,#0ff 0 183.8px,#06f 0 189.9px,#00e 0"></i><i style="--g:#00a 0 42.9px,#00b 0 67.4px,#00c 0 79.6px,#00d 0 85.8px,#00f 0 98px,#02f 0 104.1px,#05f 0 110.2px,#08f 0 116.4px,#0bf 0 122.5px,#3fc 0 128.6px,#6f9 0 134.8px,#df2 0 140.9px,#fa0 0 147px,#f70 0 153.1px,#f30 0 159.2px,#f70 0 171.5px,#bf4 0 177.6px,#0ff 0 183.8px,#04f 0 189.9px,#00e 0"></i><i style="--g:#00c 0 6.1px,#00d 0 12.2px,#00c 0 24.5px,#00d 0 36.8px,#00c 0 49px,#00d 0 73.5px,#00f 0 91.9px,#01f 0 98px,#02f 0 104.1px,#06f 0 110.2px,#07f 0 116.4px,#0bf 0 122.5px,#1fe 0 128.6px,#bf4 0 134.8px,#ef1 0 140.9px,#f70 0 147px,#c00 0 153.1px,#a00 0 159.2px,#e00 0 165.4px,#f90 0 171.5px,#fe0 0 177.6px,#2fd 0 183.8px,#07f 0 189.9px,#00d 0"></i><i style="--g:#00d 0 18.4px,#00c 0 24.5px,#00d 0 67.4px,#00e 0 73.5px,#00f 0 85.8px,#01f 0 98px,#02f 0 104.1px,#04f 0 110.2px,#07f 0 116.4px,#09f 0 122.5px,#0ff 0 128.6px,#3fc 0 134.8px,#af5 0 140.9px,#fd0 0 147px,#f00 0 159.2px,#f10 0 165.4px,#f00 0 171.5px,#cf3 0 177.6px,#0df 0 183.8px,#07f 0 189.9px,#00d 0"></i><i style="--g:#00b 0 61.2px,#00c 0 79.6px,#00d 0 85.8px,#00e 0 91.9px,#00f 0 110.2px,#01f 0 116.4px,#04f 0 122.5px,#07f 0 128.6px,#0af 0 134.8px,#3fc 0 140.9px,#6f9 0 147px,#fe0 0 153.1px,#f70 0 159.2px,#fe0 0 165.4px,#cf3 0 171.5px,#8f7 0 177.6px,#0bf 0 183.8px,#04f 0 189.9px,#00d 0"></i><i style="--g:#009 0 12.2px,#00a 0 30.6px,#009 0 36.8px,#00a 0 67.4px,#00b 0 73.5px,#00c 0 79.6px,#00d 0 85.8px,#00e 0 91.9px,#00f 0 98px,#02f 0 110.2px,#04f 0 116.4px,#05f 0 122.5px,#0df 0 128.6px,#7f8 0 134.8px,#cf3 0 140.9px,#f80 0 147px,#f10 0 153.1px,#d00 0 159.2px,#c00 0 165.4px,#f00 0 171.5px,#ef1 0 177.6px,#0ff 0 183.8px,#06f 0 189.9px,#00e 0"></i><i style="--g:#00b 0 6.1px,#00a 0 12.2px,#00b 0 36.8px,#00a 0 42.9px,#00b 0 55.1px,#00c 0 73.5px,#00d 0 85.8px,#00f 0 98px,#03f 0 104.1px,#05f 0 110.2px,#07f 0 116.4px,#0af 0 122.5px,#1fe 0 128.6px,#3fc 0 134.8px,#8f7 0 140.9px,#ff0 0 153.1px,#fc0 0 159.2px,#f40 0 165.4px,#ff0 0 171.5px,#bf4 0 177.6px,#0af 0 183.8px,#02f 0 189.9px,#00c 0"></i><i style="--g:#00b 0 61.2px,#00c 0 73.5px,#00e 0 85.8px,#00f 0 91.9px,#03f 0 98px,#04f 0 104.1px,#0af 0 110.2px,#09f 0 116.4px,#1fe 0 122.5px,#3fc 0 128.6px,#6f9 0 134.8px,#fe0 0 140.9px,#fb0 0 147px,#f50 0 153.1px,#f90 0 159.2px,#f50 0 165.4px,#fd0 0 171.5px,#cf3 0 177.6px,#0bf 0 183.8px,#04f 0 189.9px,#00c 0"></i><i style="--g:#00b 0 61.2px,#00c 0 73.5px,#00d 0 79.6px,#00f 0 85.8px,#01f 0 91.9px,#03f 0 98px,#05f 0 104.1px,#0af 0 110.2px,#0bf 0 116.4px,#0ff 0 122.5px,#8f7 0 128.6px,#cf3 0 134.8px,#df2 0 140.9px,#f70 0 147px,#fa0 0 153.1px,#f90 0 159.2px,#c00 0 165.4px,#f90 0 171.5px,#df2 0 177.6px,#0ff 0 183.8px,#03f 0 189.9px,#00d 0"></i><i style="--g:#009 0 49px,#00a 0 67.4px,#00b 0 79.6px,#00d 0 91.9px,#00f 0 98px,#02f 0 104.1px,#06f 0 116.4px,#0bf 0 122.5px,#1fe 0 128.6px,#9f6 0 134.8px,#8f7 0 140.9px,#fb0 0 147px,#f80 0 153.1px,#f50 0 165.4px,#fc0 0 171.5px,#bf4 0 177.6px,#0cf 0 183.8px,#03f 0 189.9px,#00d 0"></i><i style="--g:#009 0 61.2px,#00a 0 73.5px,#00b 0 79.6px,#00c 0 91.9px,#00e 0 98px,#00f 0 104.1px,#02f 0 110.2px,#03f 0 116.4px,#07f 0 122.5px,#0bf 0 128.6px,#2fd 0 134.8px,#9f6 0 140.9px,#fd0 0 147px,#f80 0 153.1px,#f30 0 159.2px,#f20 0 165.4px,#f10 0 171.5px,#df2 0 177.6px,#0ff 0 183.8px,#06f 0 189.9px,#00e 0"></i><i style="--g:#009 0 61.2px,#00a 0 85.8px,#00c 0 91.9px,#00d 0 104.1px,#00e 0 110.2px,#00f 0 116.4px,#02f 0 122.5px,#05f 0 128.6px,#0df 0 134.8px,#9f6 0 140.9px,#fc0 0 147px,#f30 0 153.1px,#f00 0 165.4px,#f10 0 171.5px,#fd0 0 177.6px,#4fb 0 183.8px,#08f 0 189.9px,#00e 0"></i><i style="--g:#009 0 61.2px,#00a 0 73.5px,#00b 0 85.8px,#00c 0 98px,#00e 0 104.1px,#00f 0 110.2px,#02f 0 116.4px,#08f 0 122.5px,#0bf 0 128.6px,#4fb 0 134.8px,#bf4 0 140.9px,#fb0 0 147px,#f10 0 153.1px,#c00 0 159.2px,#a00 0 171.5px,#fe0 0 177.6px,#2fd 0 183.8px,#09f 0 189.9px,#00f 0"></i><i style="--g:#009 0 61.2px,#00a 0 79.6px,#00b 0 85.8px,#00c 0 91.9px,#00d 0 98px,#00e 0 110.2px,#00f 0 116.4px,#01f 0 122.5px,#05f 0 128.6px,#09f 0 134.8px,#1fe 0 140.9px,#cf3 0 147px,#f70 0 153.1px,#f30 0 159.2px,#d00 0 165.4px,#fd0 0 171.5px,#ff0 0 177.6px,#0ff 0 183.8px,#05f 0 189.9px,#00e 0"></i><i style="--g:#009 0 55.1px,#00a 0 79.6px,#00b 0 85.8px,#00c 0 91.9px,#00e 0 98px,#00f 0 110.2px,#02f 0 116.4px,#04f 0 122.5px,#0cf 0 128.6px,#1fe 0 134.8px,#9f6 0 140.9px,#fb0 0 147px,#f40 0 153.1px,#b00 0 165.4px,#f40 0 171.5px,#fd0 0 177.6px,#0ff 0 183.8px,#08f 0 189.9px,#00e 0"></i><i style="--g:#009 0 6.1px,#00a 0 12.2px,#009 0 55.1px,#00a 0 73.5px,#00b 0 91.9px,#00d 0 104.1px,#00e 0 110.2px,#00f 0 122.5px,#03f 0 128.6px,#09f 0 134.8px,#5fa 0 140.9px,#ff0 0 147px,#f20 0 153.1px,#800 0 171.5px,#f20 0 177.6px,#6f9 0 183.8px,#09f 0 189.9px,#00f 0"></i><i style="--g:#009 0 18.4px,#00a 0 24.5px,#009 0 30.6px,#00a 0 36.8px,#009 0 42.9px,#00a 0 49px,#009 0 55.1px,#00a 0 73.5px,#00b 0 79.6px,#00d 0 85.8px,#00c 0 91.9px,#00e 0 98px,#00f 0 104.1px,#01f 0 110.2px,#03f 0 116.4px,#06f 0 122.5px,#0af 0 128.6px,#1fe 0 134.8px,#bf4 0 140.9px,#fd0 0 147px,#f40 0 153.1px,#800 0 159.2px,#f00 0 171.5px,#fe0 0 177.6px,#0ff 0 183.8px,#08f 0 189.9px,#00e 0"></i><i style="--g:#009 0 6.1px,#00a 0 12.2px,#009 0 24.5px,#00a 0 36.8px,#009 0 49px,#00a 0 73.5px,#00b 0 79.6px,#00c 0 91.9px,#00d 0 98px,#00e 0 110.2px,#00f 0 116.4px,#02f 0 122.5px,#04f 0 128.6px,#0af 0 134.8px,#4fb 0 140.9px,#df2 0 147px,#f50 0 153.1px,#f10 0 159.2px,#d00 0 165.4px,#f80 0 171.5px,#ff0 0 177.6px,#0df 0 183.8px,#05f 0 189.9px,#00e 0"></i></div></div>
<svg width="2500" height="1904" viewBox="0 0 2500 1904" font-family="'Liberation Sans',Arial,Helvetica,sans-serif" font-weight="bold" font-size="33.2" fill="none" stroke-width="1.9">
<path d="M325.0 1422.2V1228.6H2260.9" stroke="#262626"/><path d="M325.0 1422.2H2260.9" stroke="#262626"/><path d="M2260.9 1227.6V1423.2" stroke="#262626"/><defs><linearGradient id="sg"><stop offset="0" stop-color="#fff" stop-opacity="0"/><stop offset=".18" stop-color="#fff" stop-opacity=".1"/><stop offset=".32" stop-color="#fff" stop-opacity=".6"/><stop offset=".45" stop-color="#fff"/><stop offset=".55" stop-color="#fff"/><stop offset=".68" stop-color="#fff" stop-opacity=".6"/><stop offset=".82" stop-color="#fff" stop-opacity=".1"/><stop offset="1" stop-color="#fff" stop-opacity="0"/></linearGradient><radialGradient id="bg"><stop offset="0" stop-color="#fff"/><stop offset=".35" stop-color="#fff" stop-opacity=".75"/><stop offset=".7" stop-color="#fff" stop-opacity=".25"/><stop offset="1" stop-color="#fff" stop-opacity="0"/></radialGradient><filter id="fe" filterUnits="userSpaceOnUse" x="444.7" y="1228.0" width="1710.3" height="195.0" color-interpolation-filters="sRGB"><feTurbulence type="fractalNoise" baseFrequency="0.25" numOctaves="2" seed="5" result="t"/><feColorMatrix in="t" type="matrix" values="1 0 0 0 0 1 0 0 0 0 1 0 0 0 0 0 0 0 0 1" result="a"/><feComponentTransfer in="a" result="n"><feFuncR type="table" tableValues=".1 .105 .118 .15 .188 .238 .305 .425 .6 .75 .875"/><feFuncG type="table" tableValues=".1 .105 .118 .15 .188 .238 .305 .425 .6 .75 .875"/><feFuncB type="table" tableValues=".1 .105 .118 .15 .188 .238 .305 .425 .6 .75 .875"/></feComponentTransfer><feComposite in="SourceGraphic" in2="n" operator="arithmetic" k1="4" k2="0" k3="0" k4="0" result="m"/><feComponentTransfer in="m"><feFuncR type="table" tableValues="0 0 0 0 .5 1 1 1 .5"/><feFuncG type="table" tableValues="0 0 .5 1 1 1 .5 0 0"/><feFuncB type="table" tableValues=".5 1 1 1 .5 0 0 0 0"/></feComponentTransfer></filter></defs><g filter="url(#fe)" stroke="none"><rect x="442.7" y="1226.0" width="1714.3" height="199.0" fill="rgb(9,9,9)"/><rect x="1790" y="1226" width="370" height="200" fill="#fff" opacity="0.050"/><rect x="1840" y="1226" width="120" height="200" fill="#fff" opacity="0.040"/><rect x="700" y="1226" width="360" height="200" fill="#fff" opacity="0.015"/><rect x="437.5" y="1226" width="21.0" height="199" fill="url(#sg)" opacity="0.24"/><rect x="468.1" y="1226" width="33.0" height="199" fill="url(#sg)" opacity="0.16"/><rect x="503.3" y="1226" width="33.0" height="199" fill="url(#sg)" opacity="0.23"/><rect x="546.8" y="1226" width="33.0" height="199" fill="url(#sg)" opacity="0.16"/><rect x="583.4" y="1226" width="33.0" height="199" fill="url(#sg)" opacity="0.22"/><rect x="626.9" y="1226" width="33.0" height="199" fill="url(#sg)" opacity="0.17"/><rect x="662.1" y="1226" width="33.0" height="199" fill="url(#sg)" opacity="0.22"/><rect x="705.5" y="1226" width="33.0" height="199" fill="url(#sg)" opacity="0.12"/><rect x="743.5" y="1226" width="33.0" height="199" fill="url(#sg)" opacity="0.10"/><rect x="785.5" y="1226" width="33.0" height="199" fill="url(#sg)" opacity="0.10"/><rect x="822.5" y="1226" width="33.0" height="199" fill="url(#sg)" opacity="0.10"/><rect x="867.5" y="1226" width="33.0" height="199" fill="url(#sg)" opacity="0.13"/><rect x="906.5" y="1226" width="33.0" height="199" fill="url(#sg)" opacity="0.13"/><rect x="948.5" y="1226" width="33.0" height="199" fill="url(#sg)" opacity="0.13"/><rect x="988.5" y="1226" width="33.0" height="199" fill="url(#sg)" opacity="0.12"/><rect x="1029.1" y="1226" width="33.0" height="199" fill="url(#sg)" opacity="0.15"/><rect x="1071.3" y="1226" width="33.0" height="199" fill="url(#sg)" opacity="0.10"/><rect x="1109.2" y="1226" width="33.0" height="199" fill="url(#sg)" opacity="0.18"/><rect x="1151.4" y="1226" width="33.0" height="199" fill="url(#sg)" opacity="0.11"/><rect x="1190.7" y="1226" width="33.0" height="199" fill="url(#sg)" opacity="0.20"/><rect x="1232.9" y="1226" width="33.0" height="199" fill="url(#sg)" opacity="0.12"/><rect x="1270.9" y="1226" width="30.0" height="199" fill="url(#sg)" opacity="0.27"/><rect x="1311.5" y="1226" width="33.0" height="199" fill="url(#sg)" opacity="0.16"/><rect x="1348.1" y="1226" width="33.0" height="199" fill="url(#sg)" opacity="0.30"/><rect x="1393.0" y="1226" width="30.0" height="199" fill="url(#sg)" opacity="0.17"/><rect x="1428.2" y="1226" width="33.0" height="199" fill="url(#sg)" opacity="0.22"/><rect x="1471.9" y="1226" width="30.0" height="199" fill="url(#sg)" opacity="0.12"/><rect x="1508.3" y="1226" width="33.0" height="199" fill="url(#sg)" opacity="0.18"/><rect x="1553.4" y="1226" width="30.0" height="199" fill="url(#sg)" opacity="0.13"/><rect x="1588.5" y="1226" width="33.0" height="199" fill="url(#sg)" opacity="0.22"/><rect x="1630.5" y="1226" width="33.0" height="199" fill="url(#sg)" opacity="0.17"/><rect x="1667.5" y="1226" width="33.0" height="199" fill="url(#sg)" opacity="0.25"/><rect x="1711.0" y="1226" width="33.0" height="199" fill="url(#sg)" opacity="0.18"/><rect x="1747.5" y="1226" width="33.0" height="199" fill="url(#sg)" opacity="0.22"/><rect x="1788.0" y="1226" width="36.0" height="199" fill="url(#sg)" opacity="0.20"/><rect x="1824.7" y="1226" width="36.0" height="199" fill="url(#sg)" opacity="0.21"/><rect x="1868.0" y="1226" width="36.0" height="199" fill="url(#sg)" opacity="0.20"/><rect x="1904.5" y="1226" width="39.0" height="199" fill="url(#sg)" opacity="0.13"/><rect x="1949.5" y="1226" width="33.0" height="199" fill="url(#sg)" opacity="0.18"/><rect x="1987.7" y="1226" width="36.0" height="199" fill="url(#sg)" opacity="0.15"/><rect x="2031.4" y="1226" width="33.0" height="199" fill="url(#sg)" opacity="0.20"/><rect x="2072.0" y="1226" width="36.0" height="199" fill="url(#sg)" opacity="0.13"/><rect x="2112.5" y="1226" width="33.0" height="199" fill="url(#sg)" opacity="0.18"/><ellipse cx="484.6" cy="1390" rx="16" ry="12" fill="url(#bg)" opacity="0.31"/><ellipse cx="519.8" cy="1391" rx="16" ry="13" fill="url(#bg)" opacity="0.58"/><ellipse cx="563.3" cy="1388" rx="16" ry="12" fill="url(#bg)" opacity="0.24"/><ellipse cx="599.9" cy="1386" rx="16" ry="12" fill="url(#bg)" opacity="0.37"/><ellipse cx="643.0" cy="1388" rx="16" ry="12" fill="url(#bg)" opacity="0.20"/><ellipse cx="678.0" cy="1388" rx="16" ry="12" fill="url(#bg)" opacity="0.24"/><ellipse cx="757.0" cy="1405" rx="19" ry="10" fill="url(#bg)" opacity="0.61"/><ellipse cx="800.0" cy="1403" rx="17" ry="10" fill="url(#bg)" opacity="0.41"/><ellipse cx="838.0" cy="1398" rx="17" ry="10" fill="url(#bg)" opacity="0.41"/><ellipse cx="884.0" cy="1391" rx="16" ry="12" fill="url(#bg)" opacity="0.34"/><ellipse cx="923.0" cy="1390" rx="14" ry="12" fill="url(#bg)" opacity="0.20"/><ellipse cx="965.0" cy="1405" rx="19" ry="10" fill="url(#bg)" opacity="0.48"/><ellipse cx="1005.0" cy="1405" rx="16" ry="10" fill="url(#bg)" opacity="0.41"/><ellipse cx="1038.0" cy="1403" rx="14" ry="10" fill="url(#bg)" opacity="0.41"/><ellipse cx="1047.0" cy="1400" rx="16" ry="12" fill="url(#bg)" opacity="0.48"/><ellipse cx="1087.0" cy="1400" rx="16" ry="12" fill="url(#bg)" opacity="0.37"/><ellipse cx="1126.0" cy="1395" rx="17" ry="12" fill="url(#bg)" opacity="0.54"/><ellipse cx="1167.0" cy="1398" rx="14" ry="12" fill="url(#bg)" opacity="0.34"/><ellipse cx="1206.0" cy="1398" rx="17" ry="13" fill="url(#bg)" opacity="0.61"/><ellipse cx="1250.0" cy="1396" rx="16" ry="10" fill="url(#bg)" opacity="0.41"/><ellipse cx="1285.0" cy="1392" rx="17" ry="12" fill="url(#bg)" opacity="0.58"/><ellipse cx="1328.0" cy="1387" rx="14" ry="10" fill="url(#bg)" opacity="0.31"/><ellipse cx="1364.0" cy="1380" rx="14" ry="17" fill="url(#bg)" opacity="0.54"/><ellipse cx="1445.0" cy="1408" rx="19" ry="9" fill="url(#bg)" opacity="0.61"/><ellipse cx="1488.0" cy="1405" rx="14" ry="9" fill="url(#bg)" opacity="0.41"/><ellipse cx="1525.0" cy="1403" rx="14" ry="12" fill="url(#bg)" opacity="0.54"/><ellipse cx="1566.0" cy="1398" rx="12" ry="9" fill="url(#bg)" opacity="0.27"/><ellipse cx="1605.0" cy="1390" rx="14" ry="10" fill="url(#bg)" opacity="0.41"/><ellipse cx="1684.0" cy="1375" rx="13" ry="20" fill="url(#bg)" opacity="0.41"/><ellipse cx="1764.0" cy="1390" rx="17" ry="9" fill="url(#bg)" opacity="0.34"/><ellipse cx="1803.0" cy="1388" rx="17" ry="9" fill="url(#bg)" opacity="0.31"/><ellipse cx="1920.0" cy="1395" rx="26" ry="9" fill="url(#bg)" opacity="0.54"/><ellipse cx="1963.0" cy="1388" rx="20" ry="9" fill="url(#bg)" opacity="0.51"/><ellipse cx="2048.0" cy="1392" rx="20" ry="10" fill="url(#bg)" opacity="0.37"/><ellipse cx="2085.0" cy="1390" rx="17" ry="9" fill="url(#bg)" opacity="0.24"/><ellipse cx="2125.0" cy="1406" rx="29" ry="7" fill="url(#bg)" opacity="0.54"/><ellipse cx="1684.0" cy="1295" rx="13" ry="38" fill="url(#bg)" opacity="0.31"/><ellipse cx="1764.0" cy="1298" rx="14" ry="29" fill="url(#bg)" opacity="0.31"/><ellipse cx="1808.0" cy="1298" rx="19" ry="20" fill="url(#bg)" opacity="0.37"/><ellipse cx="1844.0" cy="1292" rx="22" ry="22" fill="url(#bg)" opacity="0.34"/><ellipse cx="1886.0" cy="1300" rx="16" ry="26" fill="url(#bg)" opacity="0.37"/><ellipse cx="1286.0" cy="1290" rx="10" ry="72" fill="url(#bg)" opacity="0.24"/><ellipse cx="1364.6" cy="1295" rx="13" ry="51" fill="url(#bg)" opacity="0.41"/><ellipse cx="1364.6" cy="1385" rx="13" ry="36" fill="url(#bg)" opacity="0.27"/><rect x="442.7" y="1411" width="1714.3" height="14" fill="#040404"/></g><path d="M346 746.4H370M346 806.6H370M346 868.8H370M346 1289.0H445M2155 1289.0H2240M346 1349.1H445M2155 1349.1H2240M346 1411.2H445M2155 1411.2H2240" stroke="#d9d9d9" stroke-width="1.6"/><defs><linearGradient id="jet" x1="0" y1="1" x2="0" y2="0"><stop offset="0" stop-color="#000083"/><stop offset=".125" stop-color="#0000ff"/><stop offset=".375" stop-color="#00ffff"/><stop offset=".625" stop-color="#ffff00"/><stop offset=".875" stop-color="#ff0000"/><stop offset="1" stop-color="#800000"/></linearGradient></defs><rect x="2289.2" y="684.6" width="50.8" height="194.2" fill="url(#jet)" stroke="#262626" stroke-width="1.3"/><text x="2353.5" y="695.4" font-size="29.6" fill="#262626" stroke="none">2</text><text x="2353.5" y="793.9" font-size="29.6" fill="#262626" stroke="none">1</text><path d="M2337 783.5h3" stroke="#262626" stroke-width="1.3"/><text x="2353.5" y="890.4" font-size="29.6" fill="#262626" stroke="none">0</text><text transform="translate(2418.6 782.5) rotate(-90)" text-anchor="middle" font-size="31.5" fill="#262626" stroke="none">(m<tspan dy="-13" dx="1" font-size="23">2</tspan><tspan dy="13" dx="1">/Hz)</tspan></text><rect x="2289.2" y="1227.6" width="50.8" height="195.8" fill="url(#jet)" stroke="#262626" stroke-width="1.3"/><text x="2353.5" y="1277.4" font-size="29.6" fill="#262626" stroke="none">0.2</text><path d="M2337 1267.0h3" stroke="#262626" stroke-width="1.3"/><text x="2353.5" y="1357.0" font-size="29.6" fill="#262626" stroke="none">0.1</text><path d="M2337 1346.6h3" stroke="#262626" stroke-width="1.3"/><text x="2353.5" y="1435.9" font-size="29.6" fill="#262626" stroke="none">0</text><text transform="translate(2443.9 1326.3) rotate(-90)" text-anchor="middle" font-size="31.5" fill="#262626" stroke="none">(m<tspan dy="-13" dx="1" font-size="23">2</tspan><tspan dy="13" dx="1">/Hz)</tspan></text><g stroke="#000" stroke-linejoin="round" stroke-linecap="round" stroke-width="2.6"><path d="M778.2 250.3l0.7 0.8M781.4 250.3l0.7 0.9M784.6 250.3l1.1 1.1M787.8 250.3l1.2 1.3M791.1 250.3l1.2 1.1M794.3 250.3l1.3 1.3M797.5 250.3l1.6 1.7M800.8 250.3l1.4 2.0M804.0 250.3l-0.9 4.3M807.2 250.3l-1.8 6.0M810.5 250.3l-6.3 8.4M813.7 250.3l-5.8 8.9M816.9 250.3l-7.1 9.9M820.1 250.3l-11.7 15.6M823.4 250.3l-15.6 32.9M826.6 250.3l-23.7 44.7M829.8 250.3l-29.5 45.1M833.1 250.3l-24.7 40.4M836.3 250.3l-24.2 50.6M839.5 250.3l-26.3 44.5M842.8 250.3l-17.7 42.0M846.0 250.3l-20.7 35.3M849.2 250.3l-2.7 28.3M852.4 250.3l1.7 31.1M855.7 250.3l2.0 29.7M858.9 250.3l-6.4 22.8M862.1 250.3l-0.1 26.6M865.4 250.3l1.6 27.3M868.6 250.3l1.2 22.9M871.8 250.3l1.5 28.3M875.1 250.3l-1.5 31.1M878.3 250.3l-7.2 27.2M881.5 250.3l1.6 27.7M884.7 250.3l-5.8 30.6M888.0 250.3l-5.4 27.5M891.2 250.3l-8.2 31.3M894.4 250.3l-18.6 30.7M897.7 250.3l-14.3 32.8M900.9 250.3l-18.3 37.5M904.1 250.3l-20.7 41.4M907.4 250.3l-19.7 37.2M910.6 250.3l-23.9 47.8M913.8 250.3l-17.7 39.2M917.0 250.3l-27.2 50.7M920.3 250.3l-10.4 42.8M923.5 250.3l-21.6 56.6M926.7 250.3l-20.4 54.8M930.0 250.3l-10.8 47.2M933.2 250.3l-19.7 40.4M936.4 250.3l-3.0 39.1M939.7 250.3l-8.5 36.5M942.9 250.3l-10.2 38.0M946.1 250.3l-5.8 37.5M949.3 250.3l-0.9 34.3M952.6 250.3l15.9 32.6M955.8 250.3l21.3 40.9M959.0 250.3l21.8 37.3M962.3 250.3l18.7 30.3M965.5 250.3l20.8 43.3M968.7 250.3l30.6 33.2M972.0 250.3l23.2 29.4M975.2 250.3l25.1 30.4M978.4 250.3l19.3 25.0M981.6 250.3l21.0 25.2M984.9 250.3l23.2 26.3M988.1 250.3l21.6 24.3M991.3 250.3l21.5 23.3M994.6 250.3l26.4 31.1M997.8 250.3l17.7 26.2M1001.0 250.3l10.6 21.2M1004.3 250.3l4.8 19.5M1007.5 250.3l2.4 22.1M1010.7 250.3l2.0 16.7M1013.9 250.3l-0.1 14.1M1017.2 250.3l0.3 15.5M1020.4 250.3l-2.7 14.2M1023.6 250.3l-0.2 15.0M1026.9 250.3l4.3 17.3M1030.1 250.3l3.8 22.9M1033.3 250.3l7.0 25.1M1036.6 250.3l7.8 23.1M1039.8 250.3l6.7 18.1M1043.0 250.3l1.9 14.8M1046.2 250.3l1.0 15.5M1049.5 250.3l-4.1 10.6M1052.7 250.3l-10.2 12.7M1055.9 250.3l-11.1 14.8M1059.2 250.3l-9.3 18.4M1062.4 250.3l-11.0 16.1M1065.6 250.3l-13.3 15.2M1068.9 250.3l-13.1 15.7M1072.1 250.3l-18.1 19.2M1075.3 250.3l-12.0 26.3M1078.5 250.3l-17.9 21.8M1081.8 250.3l-8.8 19.8M1085.0 250.3l-4.6 12.7M1088.2 250.3l-3.8 11.8M1091.5 250.3l-5.3 13.8M1094.7 250.3l-0.7 13.3M1097.9 250.3l-1.5 10.7M1101.2 250.3l1.7 4.3M1104.4 250.3l3.6 2.4M1107.6 250.3l3.4 2.9M1110.8 250.3l3.4 3.3M1114.1 250.3l2.8 3.1M1117.3 250.3l4.0 2.1M1120.5 250.3l3.0 3.6M1123.8 250.3l3.5 2.7M1127.0 250.3l3.0 3.3M1130.2 250.3l3.8 4.5M1133.5 250.3l3.3 3.5M1136.7 250.3l5.4 2.5M1139.9 250.3l4.5 3.2M1143.1 250.3l3.9 3.3M1146.4 250.3l5.9 4.8M1149.6 250.3l6.2 5.0M1152.8 250.3l4.1 5.7M1156.1 250.3l5.2 4.4M1159.3 250.3l4.8 5.4M1162.5 250.3l4.9 7.0M1165.8 250.3l5.2 6.0M1169.0 250.3l6.1 8.4M1172.2 250.3l7.1 5.9M1175.4 250.3l9.3 8.2M1178.7 250.3l9.1 7.4M1181.9 250.3l12.3 5.8M1185.1 250.3l12.9 7.6M1188.4 250.3l13.5 5.4M1191.6 250.3l13.9 4.9M1194.8 250.3l19.5 5.1M1198.1 250.3l26.0 8.2M1201.3 250.3l27.9 12.0M1204.5 250.3l31.9 16.6M1207.7 250.3l36.2 19.5M1211.0 250.3l34.7 22.4M1214.2 250.3l34.8 37.2M1217.4 250.3l43.9 37.1M1220.7 250.3l51.5 27.8M1223.9 250.3l53.2 38.0M1227.1 250.3l51.3 48.5M1230.4 250.3l53.3 42.3M1233.6 250.3l59.4 54.7M1236.8 250.3l45.2 59.0M1240.0 250.3l53.6 33.4M1243.3 250.3l44.8 54.4M1246.5 250.3l49.1 34.2M1249.7 250.3l48.8 33.9M1253.0 250.3l50.7 36.5M1256.2 250.3l51.4 27.6M1259.4 250.3l72.9 30.6M1262.7 250.3l53.2 29.2M1265.9 250.3l56.5 21.9M1269.1 250.3l67.1 42.5M1272.3 250.3l72.9 36.4M1275.6 250.3l66.9 10.7M1278.8 250.3l66.0 33.6M1282.0 250.3l51.0 17.0M1285.3 250.3l47.5 23.7M1288.5 250.3l43.5 14.7M1291.7 250.3l34.7 19.8M1295.0 250.3l44.6 16.0M1298.2 250.3l39.4 14.7M1301.4 250.3l42.8 13.2M1304.6 250.3l45.9 15.1M1307.9 250.3l40.8 14.9M1311.1 250.3l33.3 9.7M1314.3 250.3l29.3 9.4M1317.6 250.3l30.3 6.8M1320.8 250.3l30.4 15.0M1324.0 250.3l30.3 6.3M1327.3 250.3l26.2 11.7M1330.5 250.3l33.1 8.4M1333.7 250.3l23.6 11.6M1336.9 250.3l27.1 10.6M1340.2 250.3l21.9 10.8M1343.4 250.3l27.6 10.8M1346.6 250.3l17.9 11.3M1349.9 250.3l21.3 15.9M1353.1 250.3l16.3 15.0M1356.3 250.3l12.1 22.3M1359.6 250.3l7.2 18.9M1362.8 250.3l4.2 20.1M1366.0 250.3l2.4 20.5M1369.2 250.3l-1.9 23.8M1372.5 250.3l-3.9 28.0M1375.7 250.3l-14.3 28.3M1378.9 250.3l-16.2 35.3M1382.2 250.3l-18.0 31.8M1385.4 250.3l-26.4 36.6M1388.6 250.3l-27.1 49.0M1391.9 250.3l-14.0 50.0M1395.1 250.3l-27.0 44.4M1398.3 250.3l-27.9 64.0M1401.5 250.3l-39.2 60.9M1404.8 250.3l-21.4 60.7M1408.0 250.3l-33.6 74.5M1411.2 250.3l-30.2 60.3M1414.5 250.3l-17.3 73.3M1417.7 250.3l-22.5 65.9M1420.9 250.3l-21.9 58.8M1424.2 250.3l-18.6 58.7M1427.4 250.3l-13.6 62.2M1430.6 250.3l-22.7 56.6M1433.8 250.3l-6.2 75.2M1437.1 250.3l-15.2 63.1M1440.3 250.3l-20.0 65.9M1443.5 250.3l-7.1 60.3M1446.8 250.3l-15.6 78.7M1450.0 250.3l-3.7 77.3M1453.2 250.3l-1.7 72.8M1456.5 250.3l0.5 55.8M1459.7 250.3l0.8 56.4M1462.9 250.3l5.5 57.1M1466.1 250.3l2.5 56.9M1469.4 250.3l2.7 45.8M1472.6 250.3l2.0 52.7M1475.8 250.3l3.3 44.4M1479.1 250.3l10.8 46.1M1482.3 250.3l24.0 48.3M1485.5 250.3l20.1 51.8M1488.8 250.3l17.4 54.3M1492.0 250.3l23.6 44.1M1495.2 250.3l22.9 59.1M1498.4 250.3l21.0 53.4M1501.7 250.3l19.2 41.9M1504.9 250.3l39.4 42.9M1508.1 250.3l32.7 51.5M1511.4 250.3l35.3 45.2M1514.6 250.3l29.8 49.3M1517.8 250.3l47.3 44.6M1521.1 250.3l32.1 51.5M1524.3 250.3l44.7 46.0M1527.5 250.3l32.3 44.6M1530.7 250.3l36.6 46.2M1534.0 250.3l31.3 44.1M1537.2 250.3l47.8 47.0M1540.4 250.3l45.6 50.4M1543.7 250.3l38.0 37.1M1546.9 250.3l45.9 54.5M1550.1 250.3l47.5 44.1M1553.4 250.3l35.9 57.0M1556.6 250.3l35.0 45.9M1559.8 250.3l36.0 39.5M1563.0 250.3l30.2 47.3M1566.3 250.3l39.5 55.2M1569.5 250.3l41.1 43.2M1572.7 250.3l44.3 41.8M1576.0 250.3l49.4 39.0M1579.2 250.3l40.2 47.8M1582.4 250.3l35.2 39.9M1585.7 250.3l44.6 43.7M1588.9 250.3l27.5 37.5M1592.1 250.3l32.6 33.4M1595.3 250.3l33.4 47.8M1598.6 250.3l40.4 40.0M1601.8 250.3l31.3 41.4M1605.0 250.3l29.4 41.9M1608.3 250.3l26.8 36.7M1611.5 250.3l40.6 42.6M1614.7 250.3l34.6 34.2M1618.0 250.3l34.2 42.0M1621.2 250.3l31.9 30.0M1624.4 250.3l28.2 31.1M1627.6 250.3l35.1 32.0M1630.9 250.3l34.4 19.4M1634.1 250.3l29.4 25.2M1637.3 250.3l42.3 24.7M1640.6 250.3l35.1 30.4M1643.8 250.3l26.6 27.7M1647.0 250.3l27.9 20.5M1650.3 250.3l28.2 18.6M1653.5 250.3l29.1 23.8M1656.7 250.3l28.3 20.1M1659.9 250.3l32.9 29.2M1663.2 250.3l25.1 19.3M1666.4 250.3l29.4 14.8M1669.6 250.3l35.5 24.9M1672.9 250.3l30.8 15.0M1676.1 250.3l32.4 12.9M1679.3 250.3l23.2 29.1M1682.6 250.3l27.9 19.1M1685.8 250.3l21.9 18.8M1689.0 250.3l20.7 18.0M1692.2 250.3l28.1 19.4M1695.5 250.3l19.3 15.1M1698.7 250.3l15.2 15.5M1701.9 250.3l14.0 16.7M1705.2 250.3l19.9 14.1M1708.4 250.3l14.0 16.9M1711.6 250.3l17.4 10.7M1714.9 250.3l13.9 15.2M1718.1 250.3l13.3 11.8M1721.3 250.3l15.5 11.0M1724.5 250.3l11.8 7.9M1727.8 250.3l14.3 12.6M1731.0 250.3l11.5 9.9M1734.2 250.3l12.0 8.1M1737.5 250.3l13.1 4.5M1740.7 250.3l13.3 8.1M1743.9 250.3l10.6 8.8M1747.2 250.3l10.2 6.8M1750.4 250.3l12.9 8.6M1753.6 250.3l11.1 6.8M1756.8 250.3l11.4 9.6M1760.1 250.3l10.6 5.9M1763.3 250.3l10.2 5.7M1766.5 250.3l12.4 7.1M1769.8 250.3l13.3 7.2M1773.0 250.3l15.4 10.1M1776.2 250.3l17.7 6.3M1779.5 250.3l18.9 7.0M1782.7 250.3l18.9 8.8M1785.9 250.3l18.3 7.8M1789.1 250.3l16.5 14.0M1792.4 250.3l25.1 7.4M1795.6 250.3l23.7 6.1M1798.8 250.3l24.3 9.4M1802.1 250.3l26.2 12.5M1805.3 250.3l32.5 15.2M1808.5 250.3l26.2 3.5M1811.8 250.3l26.9 6.2M1815.0 250.3l29.2 2.9M1818.2 250.3l23.9 11.2M1821.4 250.3l23.1 9.5M1824.7 250.3l16.1 11.6M1827.9 250.3l11.9 4.4M1831.1 250.3l7.1 7.1M1834.4 250.3l7.4 10.0M1837.6 250.3l8.3 10.9M1840.8 250.3l8.1 10.5M1844.1 250.3l5.2 11.2M1847.3 250.3l4.6 13.6M1850.5 250.3l1.3 12.3M1853.7 250.3l2.9 13.1M1857.0 250.3l1.1 13.2M1860.2 250.3l-2.2 17.3M1863.4 250.3l-1.6 14.4M1866.7 250.3l-0.9 17.8M1869.9 250.3l-0.4 17.0M1873.1 250.3l-2.0 14.8M1876.4 250.3l1.7 17.8M1879.6 250.3l-8.4 20.6M1882.8 250.3l-8.3 27.1M1886.0 250.3l-10.3 24.2M1889.3 250.3l-14.3 35.7M1892.5 250.3l-10.0 28.9M1895.7 250.3l-14.9 37.8M1899.0 250.3l-13.0 37.1M1902.2 250.3l-23.0 42.3M1905.4 250.3l-15.7 36.5M1908.7 250.3l-14.4 45.0M1911.9 250.3l-23.2 40.7M1915.1 250.3l-25.9 54.9M1918.3 250.3l-15.8 46.3M1921.6 250.3l-23.3 59.6M1924.8 250.3l-28.3 40.4M1928.0 250.3l-21.0 44.3M1931.3 250.3l-21.8 59.5M1934.5 250.3l-14.8 38.1M1937.7 250.3l-5.3 26.0M1941.0 250.3l-3.7 27.9M1944.2 250.3l0.0 24.8M1947.4 250.3l0.5 23.5M1950.6 250.3l4.0 22.4M1953.9 250.3l9.8 21.7M1957.1 250.3l15.4 36.8M1960.3 250.3l21.4 41.9M1963.6 250.3l32.0 32.6M1966.8 250.3l30.0 37.5M1970.0 250.3l40.0 29.4M1973.3 250.3l51.8 37.2M1976.5 250.3l41.6 39.0M1979.7 250.3l39.0 37.1M1982.9 250.3l45.5 36.4M1986.2 250.3l47.6 54.4M1989.4 250.3l37.2 41.8M1992.6 250.3l44.2 40.1M1995.9 250.3l54.8 28.8M1999.1 250.3l45.6 28.0M2002.3 250.3l58.4 45.1M2005.6 250.3l50.1 27.2M2008.8 250.3l37.3 38.0M2012.0 250.3l47.7 39.8M2015.2 250.3l47.7 24.3M2018.5 250.3l36.0 39.5M2021.7 250.3l44.5 38.1M2024.9 250.3l53.9 44.7M2028.2 250.3l50.0 31.4M2031.4 250.3l63.8 39.5M2034.6 250.3l58.9 36.7M2037.9 250.3l49.5 34.2M2041.1 250.3l57.4 40.4M2044.3 250.3l66.0 31.7M2047.5 250.3l47.5 21.9M2050.8 250.3l52.7 20.2M2054.0 250.3l57.1 43.9M2057.2 250.3l47.9 34.1M2060.5 250.3l45.2 40.3M2063.7 250.3l53.1 44.6M2066.9 250.3l45.4 46.0M2070.2 250.3l52.3 39.8M2073.4 250.3l47.1 25.8M2076.6 250.3l45.0 26.2M2079.8 250.3l32.7 32.3M2083.1 250.3l37.2 28.5M2086.3 250.3l36.0 23.7M2089.5 250.3l34.5 22.5M2092.8 250.3l45.1 33.6M2096.0 250.3l38.4 36.2M2099.2 250.3l29.5 23.9M2102.5 250.3l31.6 18.8M2105.7 250.3l30.9 26.3M2108.9 250.3l29.7 20.0M2112.1 250.3l28.3 28.8M2115.4 250.3l26.9 29.0M2118.6 250.3l22.5 18.2M2121.8 250.3l13.1 28.0M2125.1 250.3l-4.7 25.0M2128.3 250.3l-12.0 30.1M2131.5 250.3l-14.2 25.7M2134.8 250.3l-17.3 25.3M2138.0 250.3l-16.0 31.6M2141.2 250.3l-24.5 29.0M2144.4 250.3l-18.9 29.9M2147.7 250.3l-16.1 40.0M2150.9 250.3l-9.5 31.6M2154.1 250.3l-21.8 31.0M2157.4 250.3l-14.7 41.0M2160.6 250.3l-13.1 26.9M2163.8 250.3l-5.0 23.5M2167.1 250.3l5.7 28.3M2170.3 250.3l2.7 23.4M2173.5 250.3l2.1 27.9M2176.7 250.3l-0.7 27.2M2180.0 250.3l-3.0 28.5M2183.2 250.3l-2.1 25.7M2186.4 250.3l0.8 22.2M2189.7 250.3l-0.9 22.0M2192.9 250.3l2.6 22.4M2196.1 250.3l-4.6 22.1M2199.4 250.3l-10.3 20.3M2202.6 250.3l-16.2 19.0M2205.8 250.3l-16.3 21.1M2209.0 250.3l-21.4 20.5M2212.3 250.3l-17.0 18.3M2215.5 250.3l-21.2 22.4M2218.7 250.3l-22.7 23.2M2222.0 250.3l-23.9 23.9M2225.2 250.3l-21.5 22.5M2228.4 250.3l-25.9 24.5M2231.7 250.3l-14.1 22.6M2234.9 250.3l-12.6 22.7M2238.1 250.3l-17.5 24.0M2241.3 250.3l-11.6 19.8M2244.6 250.3l-13.8 23.6M2247.8 250.3l-14.4 24.5M2251.0 250.3l-12.6 20.1M2254.3 250.3l-11.1 24.8M2257.5 250.3l-11.4 20.1M2260.7 250.3l-11.5 20.4M1261.0 250.3l27.0 -16.0M1262.0 250.3l28.0 -6.0M1262.0 250.3l20.0 -9.0M1612.0 250.3l-10.0 -25.0M1613.0 250.3l0.0 -20.0M1614.0 250.3l11.0 -16.0M1615.0 250.3l25.0 -15.0M1616.0 250.3l36.0 -12.0M1610.0 250.3l-4.0 -18.0M1681.0 250.3l30.0 -14.0M1688.0 250.3l42.0 -20.0M1695.0 250.3l55.0 -27.0M1702.0 250.3l50.0 -16.0M1710.0 250.3l40.0 -8.0M1716.0 250.3l30.0 -5.0M1739.0 250.3l40.0 -14.0M1748.0 250.3l55.0 -26.0M1757.0 250.3l63.0 -36.0M1764.0 250.3l60.0 -33.0M1772.0 250.3l56.0 -28.0M1780.0 250.3l50.0 -20.0M1788.0 250.3l48.0 -10.0M1794.0 250.3l30.0 -6.0M1752.0 250.3l58.0 -30.0M1760.0 250.3l62.0 -34.0M1830.0 250.3l20.0 -32.0M1832.0 250.3l10.0 -27.0M1836.0 250.3l40.0 -26.0M1840.0 250.3l50.0 -23.0M1845.0 250.3l45.0 -10.0M1834.0 250.3l28.0 -22.0M1838.0 250.3l34.0 -18.0M2150.0 250.3l-30.0 -20.0M2148.0 250.3l-32.0 -6.0" stroke-linecap="butt" stroke-width="2.5"/><path d="M761 250.3H2260.9" stroke-width="4" stroke-linecap="butt"/><path d="M762.1 240.6l5.1 1.8l4.5 3.1l3.7-4l3.6 1.9l3.6 1.4l3.9-5.6l3.8-3.5l3.9-5.1l3.8-5.4l3.7-4.3l3.6-3.4l3.6-3.9l3.6-3.8l3.7-3.5l3.6-3.6l3.6-5.3l3.6-3l6-10.3l4.9 3.4l4.5 8.7l3.7 5.5l3.6 11.7l3.6 4.2l4.6 1.3l2.7 2.3l3.6-1.8l2.7 3.1l3.7 1.8l3.6-1.8l2.7-3.1l3.6 3.1l2.7-4.9l3.7 0.4l3.6 1.8l2.7-9.1l2.7-25.4l3.3 0l3.1 10.9l4.5 23.6l2.7-16.3l4.6-10.9l5.4-7.3l3.6 0.4l3.7 2.4l5.4 13.6l2.7 10.8l3.6 0l2.8 3.7l3.6 5l3.6-4.1l2.7-11.8l3.7-10.4l1.8 17.6l3.6 14.5l3.6 2.2l2.8-16.7l2.7-17.2l3.6 0l1.8 7.3l6.4 7.2l6.3 9.1l6.4 15l3.6-6.9l2.7-2.7l5.4 4.5l4.6-4.5l3.6-0.5l4.5 6.9l6.4 8.1l3.6 0l3.6-8.1l3.7-5.8l3.6 8.5l3.6 0.9l5.5 7.8l2.7-2.4l4.5-9.9l5.4-5.5l5.5-0.5l5.4-4l5.5-0.9l4.5 2.7l4.5 6.3l4.6 5.5l3.6 1.8l4.5 2.7l3.6 0.9l4.6 0.9l4.5-4.5l5.5 1.3l4.5-3.1l4.5-1.8l3.6 7.2l3.7-4.5l5.4-5.5l1.1 0l3.6-3.6l4.6-2.7l3.6 6.3l4.5 9.1l4.6 3.6l5.4-1.8l4.5-4.5l4.6-1.8l4.5 0.9l4.5 0l3.7-7.3l2.7-14.5l3.6-4.5l3.6 8.2l3.7 8.1l3.6-4.5l3.6-16.3l3.6-18.2l3.7-16.3l5.4-1.8l3.6-9.1l3.6-9.9l3.7 4.5l3.6-5.4l3.6 9l3.7 12.7l3.6 12.7l3.6 10.9l4.5 8.1l3.7 13.6l3.6 4.6l2.7-1.8l2.7-10l3.7-7.3l2.7-12.7l2.7 27.2l3.6-29l3.7-9l2.7 9l3.6 29l3.6-5.4l5.5-1.8l4.5-2.7l3.6 7.2l2.7 2.7l3.7 11.8l2.7-9.9l3.6-11.8l2.7 13.6l3.7 12.7l3.6-7.3l2.7 1.8l3.6 4.6l3.7-6.4l3.6-12.7l2.7-6.3l3.6 6.3l2.8 8.2l3.6-2.7l4.5-1.9l3.6-5.4l3.7 9.1l2.7 6.3l3.6-15.4l2.7-3.6l4.6-1.8l4.5-5.5l4.5 11.8l3.7-8.1l2.7 9.9l2.7-32.6l2.7-3.6l3.6-2.8l4.6 5.5l6.3 9l5.5-2.7l3.6 4.6l3.6-27.2l3.6 12.7l3.7-0.7l3.6-2.1l5.4 3.7l3.7-3.8l3.6-3.5l4.5 19l3.6-5.4l4.6 14.5l4.5 10.9l3.6-17.2l6.4-11.8l5.4 10l5.5-11.8l6.3-5.5l6.4-2.2l4.5 5.9l4.5 17.2l4.6-11.8l4.5-10.9l3.6 7.3l5.5-9.1l4.5 7.3l3.8 16.3l2.7 1.8l3.6 27.2l3.7 7.2l3.6-7.2l2.7-11.8l5.5-6.3l5.4-10l4.5 0.9l3.7-2.2l3.6-3.3l5.4 10l4.6-4.5l4.5-14.5l4.5 0.9l4.6 15.4l6.3 25.4l3.6 0.9l3.7 2.2l3.6 4.1l4.5 2.2l4.5 2.4l3.7-8.2l3.6-0.9l2.7 8.2l5.5-12.7l4.5 0l3.6 10.8l2.7-21.7l4.6-1.8l4.5 0l4.5-8.2l4.6-0.9l4.5-13.6l3.6 1.8l3.7 10l3.6 6.3l4.5 15.5l5.5 17.2l4.5 0.9l4.5-1.8l4.6-2.7l4.5-2.4l4.5-1.3l4.6-0.9l4.5-2.7l6.3-3.6l3.7-8.2l3.6-16.3l4.5-16.3l2.7 0.9l4.6 9.1l3.6 9l5.4 6.4l5.5 9l5.4 7.3l3.6 10.9l3.7-2.8l3.3 0.4l3.3-2.2l3.3-0.5l3.4 0.6l3.3 0.4l3.3-1.4l3.6 2.5l3.7 3l3.6-16.4l4.5-11.4l4.6-10.3l5.4-10l5.4-4.5l5.5 18.1l5.4 14.5l4.6 18.1l1.8 5.5l3.2-1.5l3.2-2l3.3-1l3.2-0.8l3.3-1.2l3.2-1.8l3.2-0.8l2.8-30.8l3.6-5.4l4.5 3.6l5.5 17.2l3.6-0.9l3.6 4l3.6 5.1l5.5-5.5l3.6-1.4l3.6-0.4l3.7-19.9l5.4-5.5l5.4-2.7l3.7 5.5l2.7 24.4l2.8 10l6.3-2.7l4.6-1.8l3.6-5.5l3.6 8.2l2.7-11.8l3.7-29l5.4-0.9l4.5-5.5l3.6 14.6l5.5-16.4l3.6 2.2l3.6 2.4l6.4 20.8l4.5 0.9l2.7-3.6l3.7 12.7l4.5 19.9l3.6 3.7l5.5-10.9l4.5 0l4.5-1.8l5.5-14.5l3.6-21.8l2.7-2.2l4.6 2.1l4.5 2.8l3.3-0.6l3.3 1.9l3.4-0.4l5.4 4.6l5.4 8.1l2.8 18.2l3.6 4.5l5.4-5.5l3.7 18.2l5.4-4.6l5.4-1.8l6.4 8.2l5.4-10.9l5.5 4.5l6.3-12.6l5.4 7.2l5.5 3.6l5.4 5.5l5.5-1.8l1.8-10.9l3.6-0.8l3.6-1l3.7-6.1l3.6-6.6l4.5 3.6l6.4 15.4l5.4-1.8l6.3 3.6l3.4-2.1l3.3 0.1l3.3-2.5l4.6-21.8l4.5-3l4.1 6.3l4 4.9l5.5-2.7l4.5 7.4l4.5 8.9l6.4-9.1l4.5-3.1l3.7 2.2l3.6 2.7l5.4 19.1l3.6-8.2l3.7 4.1l3.6 3.6l3.6 3.2"/><path d="M369 538.7l6.4-3.6l3.6 8.2l6.3 4.5l4.6-3.6l4.5-4.6l4.5 10l3.7-0.3l3.6 1.2l5.4 5.5l4.6 0.9l4.5 3.6l5.4 0l4.6 1.4l3.6-3.2l3.6 8.1l4.5-5.4l6.4-3.6l4.5 3.6l4.6-4.5l5.4-3.7l3.6-3.6l3.7-0.9l3.6-8.1l5.4-4.6l3.6-11.8l2.8-5.4l2.7 16.3l3.6-3.6l3.6-2.7l5.5 11.8l5.4-1l3.6-6.3l5.5 0.9l5.4-0.9l5.5-6.3l3.6-10l2.7 8.1l4.5-1.8l4.6 5.5l4.5 5.4l3.6-3.6l3.7-1.8l4.5 2.7l3.6-7.3l3.6 2.8l4.6-2.8l6.3 0l4.6 5.5l6.3 3.6l6.4 4.5l3.6-3.6l3.6-0.9l4.5 3.6l4.6 3.7l3.6-2.8l3.6 1.8l2.7 8.2l3.7-8.2l5.4 6.4l6.4-2.7l5.4-3.7l4.5-3.6l4.6 8.2l3.6-2.7l2.7 4.5l3.6-5.4l4.6 3.6l4.5-2.7l6.3 8.1l2.8-14.5l4.5-8.1l4.5-9.1l5.5-2.7l1.8 18.1l3.6-1.8l3.6 4.5l3.7-5.4l4.5 4.5l4.5 2.7l3.7 0.9l2.7 4.6l4.5-10l6.4-14.5l3.6-6.7l3.6-6.9l1.1 3.6l3.6-5.4l3.7-4.6l2.7-25.3l2.7-35.4l2.7 0l3.6 7.3l1.9-20.9l1.8-8.2l3.6 31.8l3.6-1.8l5.5 9l3.6-33.5l3.2 51.7l4-14.5l3.7-5.5l2.3-15.4l3.1 24.5l2.7 5.4l4.6-9l2.7 0l2.7 19l3.6-7.3l5.5 1.9l3.6-8.2l3.6 16.3l2.7 0.9l3.7 8.2l5.4 0l4.5-0.9l2.8 5.4l2.7 15.4l3.6-22.6l4.5 13.6l3.7-1.9l5.4-14.5l3.6 16.4l3.7 7.1l3.6 6.5l5.4-0.9l2.7 7.2l3.7-2.7l5.4 6.3l3.6-9.9l2.8 6.3l4.5 12.7l6.3-3.6l4.1-5.1l4.1-5.8l5.4 3.6l4.6-10l3.6 4.6l3.6-0.9l6.4 4.5l5.4-17.2l3.6 6.3l2.7-8.1l3.7 7.2l4.5-11.8l4.5-5.4l4.6 8.2l2.7-21.8l5.4-6.3l3.7 4.5l5.4-2.7l6.3-0.9l1.9-8.2l3.6 29.9l3.6-25.4l5.5 21.8l3.6-18.1l3.6 16.3l5.4-8.2l4.6 10l3.6-8.2l5.4 16.3l3.7-13.6l5.4 26.3l4.5-5.4l2.8 4.5l3.6-9l6.3 11.8l2.8-19.1l3.6 19.1l4.5-11.8l5.5 0.9l3.6 13.6l2.7-2.7l6.3-20l2.8 0l2.7 19l6.3-25.3l4.6 17.2l4.5-0.9l4.5-4.6l2.8 12.7l3.6-11.7l3.6 7.3l3.6 9.9l4.6-7.3l3.6 8.2l3.8-4.5l2.7 3.6l4.6-13.6l5.4 3.6l3.6 13.6l3.6-21.8l2.8 18.2l3.6-11.8l3.6 10.9l2.7-0.9l2.8-20.9l3.6 1.8l3.6-9.9l3.6-7.4l3.7-4.4l2.7 0.9l2.7 9.9l2.7-19l3.7-3.6l3 37.2l3.3-10.9l2.7-6.4l3.6-13.6l3.7 23.6l3.6 0.9l5.4-4.5l4.6 19.9l3.6 4.6l2.7-1.9l2.4 12.7l3.1-20.8l2.7 2.7l4.1 22.7l4.9-20.9l3.7-6.3l4.5 11.8l1.8-7.3l3.6 20.9l3.7-20.9l2.7 21.8l3.6 4.1l3.6 2.2l6.4-15.4l6.3-6.4l2.8 8.2l4.1 15.4l3.1-15.4l3.6-10.9l5.5 19.1l3.6 0.2l3.6 1.6l2.7-5.5l3.3-14.5l5.8 14.5l3.6-6.3l5.5 6.3l4.5-17.2l6.4 27.2l2.7-17.2l2.7 17.2l3.6-1.7l3.6-0.1l3.7-7.3l5.4 3.7l3.6-2.2l3.7-5.1l3.6 1.8l3.6-9l3.6-0.9l5.5 4.5l2.7-10.9l4.5-9.1l4.6-3.6l3.6-1.8l4.5 10l2.8-8.2l2.7-1.8l6.3-26.3l3.6 1.8l2.8-3.6l3.6 5.4l3.6-21.7l6.4 5.4l3.2-18.1l4.9 6.3l4.6-3.6l3.6 18.1l4.5 6.4l4.5-1.8l6.4 1.8l4.5-4.5l5.5-8.2l6.3-2.7l3.6 11.8l6.4 7.2l4.5 14.5l3.6-2.7l6.4-14.5l4.5-6.3l4.6 14.5l4.5-15.5l3.8 7.3l2.7 14.5l3.6 14.5l5.5-0.9l4.5 9.1l6.4-9.1l4.5 24.5l2.7 3.6l6.4-1.8l2.7-8.2l6.3 13.6l3.7-6.3l5.4 6.3l4.5 4.6l2.8 6.3l2.7-6.3l2.7 6.3l3.6-6.3l3.6 0.3l3.7 0.6l5.4-5.5l3.6 8.2l3.7-3.5l3.6-5.6l3.6 3.6l3.6 3.7l4.1 3.6l4.1 2.7l3.6-14.5l4.6 8.2l4.5 11.8l3.6-1.8l5.5 9l3.6 0l4.5-10l5.5 4.6l3.6-4.6l3.6 3.5l3.6 5.6l4.6-3.6l4.5 4.5l5.4-6.3l6.4 5.4l6.3 0.9l3.7 3.6l4.5-0.9l2.7 5.5l3.6-10l4.6-5.4l3.6-7.8l3.6-8.6l4.6 3.7l5.4 1.8l5.4-6.4l4.6 3.7l3.6-1.2l3.6-3.4l6.4 12.7l3.6-3.6l2.7 6.3l3.6-1.8l5.5 10l5.4-1.8l6.4 10l5.4 4.5l5.5 1.8l5.4 1.8l5.4-3.6l3.7-0.9l5.4-5.4l5.4-3.7l3.7-1.3l3.6-1.4l6.3 11.8l4.6-1.8l3.6-3.6l5.4 9.9l5.5-3.6l4.5 3.6l6.4 7.3l5.4-3.6l4.6 3.6l5.4-1.8l5.5 1.8l5.4-9.1l5.5-4.5l4.5-10l3.6-12.7l3.6 3.6l5.5-9.9l4.5 0.9l3.6-1.8l2.8-11.8l2.7-2.7l5.4 1.4l5.5 4l3.6 0l4.5 9.1l4.6-5.5l4.5 9.1l3.6 3.9l3.6 2.4l3.7-4.5l3.6 5.1l5.4-9.6l3.7 4.5l3.6-4.5l4.5 4.5l5.5-9.1l6.3 3.7l3.6-1.9l6.4 9.1l3.6-1.8l5.4 6.3l5.5-2.7l4.5-0.9l3.6 5.5l3.7-4.6l4.1 1.9l4 0.8l2.8-0.9l3.6-3.6l3.6 10l4.5-5.5l5.5-1.8l3.2-12.7l3.1 13.6l4.6-3.6l6.3-5.4l4.5-0.9l4.6 1.8l4.5 8.1l2.7-0.9l4.6 6.4l3.6-3.6l3.6-18.2l3.6 12.7l2.8 3.6l6.3-5.4l4.5 5.4l4.6 9.1l3.6-7.2l3.6-11.8l4.6 10.8l4.5-4.5l5.4-5.4l3.7 3.6l3.6 10l5.4-4.6l3.6-0.9l4.6-4.5l5.4 10l3.6-16.3l4.6 8.1l3.6-1.8l5.4 8.2l3.7-10l4.5 4.5l5.4 1.8l4.6 3.7l3.6-2.8l3.6-1.8l2.7 2.7l3.7-2.7l3.6 0l3.6-5.4l1.8 3.6"/><path d="M444.5 1030l1.2 1l1.2 3.2l1.3 5.2l1.2 6.8l1.2 8.1l1.3 9.2l1.2 9.5l1.2 9.6l1.3 9.1l1.2 8.2l1.2 6.8l1.2 5.1l1.3 3.2l1.2 1.1l1.2-0.6l1.3-2l1.2-3.1l1.2-4.2l1.2-5.2l1.3-5.9l1.2-6.5l1.2-6.9l1.2-7l1.3-6.9l1.2-6.5l1.2-5.9l1.3-5.2l1.2-4.2l1.2-3.1l1.2-2l1.3-0.6l1.2 0.6l1.3 1.6l1.3 2.7l1.3 3.4l1.3 4.2l1.3 4.5l1.2 4.6l1.3 4.6l1.3 4.1l1.3 3.5l1.3 2.6l1.3 1.7l1.2 0.5l1.3-0.6l1.2-1.9l1.2-3l1.2-4l1.3-5l1.2-5.6l1.2-6.1l1.2-6.4l1.3-6.4l1.2-6.1l1.2-5.6l1.2-5l1.2-4l1.3-3.1l1.2-1.8l1.2-0.6l1.3 0.7l1.2 2.3l1.2 3.7l1.3 5l1.2 6.2l1.3 7.2l1.2 8l1.2 8.4l1.3 8.8l1.2 8.7l1.3 8.5l1.2 7.9l1.2 7.2l1.3 6.2l1.2 5l1.2 3.8l1.3 2.2l1.2 0.8l1.2-0.8l1.2-2.2l1.3-3.7l1.2-4.9l1.2-5.9l1.2-6.9l1.2-7.4l1.2-7.7l1.2-7.6l1.3-7.4l1.2-6.9l1.2-5.9l1.2-4.9l1.2-3.7l1.2-2.2l1.2-0.8l1.2 0.5l1.2 1.6l1.2 2.5l1.2 3.4l1.2 4l1.3 4.4l1.2 4.7l1.2 4.7l1.2 4.5l1.2 4l1.2 3.3l1.2 2.6l1.2 1.5l1.2 0.6l1.2-0.5l1.3-1.3l1.2-2.2l1.3-3l1.2-3.6l1.3-4.2l1.2-4.5l1.3-4.9l1.2-4.9l1.3-4.8l1.2-4.5l1.3-4.2l1.2-3.6l1.3-3l1.2-2.2l1.3-1.3l1.2-0.5l1.3 0.7l1.2 2.2l1.3 3.4l1.2 4.7l1.3 5.8l1.3 6.6l1.2 7.3l1.3 7.6l1.2 7.8l1.3 7.6l1.2 7.3l1.3 6.6l1.3 5.7l1.2 4.7l1.3 3.5l1.2 2.1l1.3 0.7l1.3-0.6l1.2-1.9l1.3-3l1.3-4.1l1.2-5.1l1.3-5.7l1.3-6.2l1.3-6.4l1.2-6.5l1.3-6.2l1.3-5.7l1.2-5l1.3-4.2l1.3-3l1.2-1.9l1.3-0.6l1.2 0.4l1.3 1.3l1.2 2.1l1.2 2.8l1.3 3.4l1.2 3.7l1.2 3.9l1.3 4l1.2 3.7l1.2 3.4l1.2 2.8l1.3 2.1l1.2 1.3l1.2 0.4l1.3-0.5l1.2-1.5l1.3-2.4l1.2-3.2l1.3-3.9l1.2-4.5l1.3-4.9l1.2-5.1l1.3-5.1l1.2-4.9l1.2-4.5l1.3-3.9l1.2-3.2l1.3-2.4l1.2-1.5l1.3-0.5l1.2 0.6l1.3 1.8l1.3 2.9l1.2 4.1l1.3 4.9l1.2 5.7l1.3 6.3l1.3 6.8l1.2 7l1.3 6.9l1.2 6.8l1.3 6.3l1.2 5.7l1.3 4.9l1.3 4.1l1.2 2.9l1.3 1.8l1.2 0.6l1.3-0.4l1.3-1.3l1.2-2.2l1.3-2.9l1.2-3.6l1.3-4.2l1.3-4.6l1.2-5l1.3-5.1l1.2-5l1.3-5l1.3-4.6l1.2-4.2l1.3-3.6l1.2-2.9l1.3-2.2l1.3-1.3l1.2-0.4l1.2 0.4l1.2 1.3l1.2 2.1l1.2 2.7l1.3 3.2l1.2 3.4l1.2 3.4l1.2 3.2l1.2 2.7l1.2 2.1l1.2 1.3l1.2 0.4l1.3-0.3l1.2-1.2l1.3-1.8l1.2-2.5l1.2-3l1.3-3.5l1.2-3.7l1.3-3.9l1.2-3.9l1.3-3.7l1.2-3.5l1.3-3l1.2-2.5l1.3-1.8l1.2-1.2l1.3-0.3l1.2 0.4l1.3 1.2l1.2 2.1l1.3 2.8l1.3 3.4l1.2 4l1.3 4.4l1.2 4.7l1.3 4.9l1.3 4.8l1.2 4.7l1.3 4.4l1.2 4l1.3 3.5l1.2 2.8l1.3 2l1.3 1.3l1.2 0.4l1.3-0.4l1.2-1.2l1.2-1.9l1.2-2.6l1.3-3.3l1.2-3.7l1.2-4l1.2-4.3l1.3-4.3l1.2-4.3l1.2-4.1l1.2-3.7l1.3-3.2l1.2-2.6l1.2-1.9l1.3-1.2l1.2-0.4l1.2 0.2l1.2 0.8l1.2 1.3l1.2 1.7l1.2 2.1l1.2 2.4l1.2 2.6l1.2 2.6l1.2 2.7l1.2 2.6l1.2 2.4l1.2 2.1l1.2 1.7l1.2 1.3l1.2 0.8l1.2 0.2l1.2-0.3l1.2-0.8l1.2-1.4l1.2-1.9l1.2-2.2l1.3-2.6l1.2-2.7l1.2-2.8l1.2-2.7l1.2-2.6l1.2-2.2l1.2-1.9l1.2-1.4l1.2-0.8l1.2-0.3l1.2 0.3l1.3 1l1.2 1.7l1.2 2.3l1.2 2.8l1.2 3.2l1.2 3.6l1.2 3.8l1.2 3.9l1.2 4l1.2 3.8l1.2 3.6l1.2 3.2l1.3 2.8l1.2 2.3l1.2 1.6l1.2 1.1l1.2 0.3l1.2-0.4l1.2-1.2l1.3-1.9l1.2-2.6l1.2-3.2l1.3-3.7l1.2-4l1.2-4.2l1.2-4.3l1.3-4.3l1.2-4l1.2-3.7l1.2-3.2l1.3-2.6l1.2-1.9l1.2-1.2l1.2-0.4l1.3 0.2l1.2 0.7l1.2 1.2l1.2 1.5l1.2 1.9l1.2 2.1l1.2 2.4l1.2 2.6l1.2 2.6l1.2 2.7l1.2 2.6l1.2 2.4l1.3 2.1l1.2 1.9l1.2 1.5l1.2 1.2l1.2 0.6l1.2 0.3l1.3-0.3l1.2-0.7l1.3-1.2l1.3-1.6l1.2-1.9l1.3-2.2l1.3-2.3l1.3-2.3l1.2-2.4l1.3-2.1l1.3-1.9l1.2-1.6l1.3-1.2l1.3-0.7l1.2-0.3l1.3 0.4l1.2 1l1.2 1.7l1.2 2.2l1.3 2.8l1.2 3.1l1.2 3.4l1.2 3.5l1.3 3.6l1.2 3.4l1.2 3.1l1.2 2.8l1.3 2.2l1.2 1.7l1.2 1l1.2 0.4l1.3-0.4l1.2-1.3l1.3-2l1.2-2.8l1.3-3.4l1.2-3.8l1.3-4.3l1.2-4.5l1.3-4.6l1.2-4.4l1.3-4.3l1.2-3.9l1.2-3.4l1.3-2.7l1.2-2.1l1.3-1.2l1.2-0.4l1.3 0.3l1.2 0.8l1.3 1.5l1.2 1.9l1.2 2.4l1.3 2.8l1.2 3.1l1.3 3.3l1.2 3.5l1.2 3.5l1.3 3.5l1.2 3.4l1.3 3.1l1.2 2.8l1.2 2.4l1.3 1.9l1.2 1.4l1.3 0.9l1.2 0.3l1.3-0.3l1.2-1l1.2-1.5l1.3-2l1.2-2.5l1.3-2.8l1.2-2.9l1.3-3.1l1.2-2.9l1.3-2.8l1.2-2.4l1.3-2.1l1.2-1.5l1.2-0.9l1.3-0.3l1.3 0.3l1.3 1l1.2 1.7l1.3 2.1l1.3 2.7l1.3 2.9l1.3 3l1.2 3.1l1.3 2.9l1.3 2.6l1.3 2.2l1.3 1.7l1.3 1l1.2 0.3l1.2-0.4l1.3-1.1l1.2-2l1.2-2.6l1.2-3.2l1.2-3.7l1.2-4.1l1.2-4.4l1.2-4.5l1.2-4.5l1.2-4.4l1.2-4.1l1.3-3.7l1.2-3.2l1.2-2.6l1.2-2l1.2-1.1l1.2-0.4l1.3 0.5l1.2 1.6l1.3 2.7l1.2 3.5l1.3 4.4l1.2 5l1.3 5.5l1.3 5.7l1.2 5.9l1.3 5.8l1.2 5.5l1.3 5l1.3 4.4l1.2 3.5l1.3 2.7l1.2 1.6l1.3 0.5l1.2-0.4l1.2-1l1.3-1.8l1.2-2.4l1.2-2.9l1.3-3.4l1.2-3.7l1.2-3.9l1.2-4l1.3-3.9l1.2-3.7l1.2-3.3l1.2-3l1.3-2.3l1.2-1.8l1.2-1.1l1.2-0.4l1.3 0.5l1.3 1.3l1.2 2.1l1.3 2.8l1.2 3.3l1.3 3.6l1.2 3.7l1.3 3.6l1.2 3.3l1.3 2.8l1.3 2.1l1.2 1.3l1.3 0.5l1.2-0.7l1.3-1.8l1.3-2.9l1.2-4l1.3-4.9l1.3-5.5l1.2-6l1.3-6.2l1.3-6.3l1.3-6l1.2-5.5l1.3-4.9l1.3-4l1.2-2.9l1.3-1.8l1.3-0.6l1.2 0.5l1.2 1.6l1.3 2.6l1.2 3.6l1.2 4.5l1.3 5.3l1.2 5.9l1.2 6.3l1.3 6.7l1.2 6.9l1.2 6.9l1.3 6.7l1.2 6.4l1.2 5.9l1.3 5.2l1.2 4.5l1.2 3.6l1.3 2.6l1.2 1.7l1.2 0.5l1.3-0.6l1.2-1.6l1.3-2.7l1.2-3.6l1.3-4.4l1.2-5l1.3-5.5l1.2-5.6l1.3-5.7l1.2-5.4l1.2-5l1.3-4.4l1.2-3.6l1.3-2.7l1.2-1.7l1.3-0.5l1.2 0.5l1.2 1.4l1.2 2.3l1.2 3l1.2 3.6l1.3 3.9l1.2 4.1l1.2 3.9l1.2 3.6l1.2 3l1.2 2.3l1.2 1.4l1.3 0.5l1.2-0.5l1.2-1.6l1.2-2.7l1.2-3.6l1.2-4.4l1.2-5.1l1.2-5.6l1.2-6.1l1.2-6.2l1.2-6.2l1.3-6l1.2-5.7l1.2-5.1l1.2-4.4l1.2-3.6l1.2-2.6l1.2-1.7l1.2-0.5l1.3 0.8l1.2 2.3l1.2 3.7l1.3 5.1l1.2 6.2l1.2 7.3l1.3 8l1.2 8.5l1.3 8.9l1.2 8.8l1.2 8.5l1.3 8l1.2 7.3l1.3 6.3l1.2 5l1.2 3.8l1.3 2.3l1.2 0.7l1.3-0.7l1.3-2.2l1.2-3.5l1.3-4.7l1.3-5.7l1.2-6.5l1.3-6.9l1.3-7l1.2-6.9l1.3-6.5l1.3-5.7l1.2-4.7l1.3-3.5l1.3-2.2l1.3-0.7l1.2 0.5l1.2 1.5l1.3 2.4l1.2 3.3l1.3 3.8l1.2 4.3l1.3 4.6l1.2 4.5l1.2 4.3l1.3 3.9l1.2 3.2l1.3 2.5l1.2 1.5l1.3 0.5l1.2-0.8l1.2-2.4l1.3-3.9l1.2-5.3l1.2-6.4l1.3-7.2l1.2-8l1.2-8.2l1.3-8.2l1.2-7.9l1.2-7.3l1.3-6.4l1.2-5.2l1.3-3.9l1.2-2.4l1.2-0.8l1.2 0.8l1.2 2.5l1.2 4.2l1.2 5.6l1.2 7l1.2 8.1l1.2 9l1.2 9.8l1.2 10.1l1.3 10.3l1.2 10.1l1.2 9.8l1.2 9l1.2 8.1l1.2 7l1.2 5.6l1.2 4.2l1.2 2.5l1.2 0.8l1.2-0.8l1.2-2.4l1.2-3.9l1.2-5.3l1.2-6.4l1.2-7.4l1.3-7.9l1.2-8.3l1.2-8.3l1.2-7.9l1.2-7.4l1.2-6.4l1.2-5.3l1.2-3.9l1.3-2.4l1.2-0.8l1.2 0.6l1.2 1.9l1.2 3.1l1.2 4.1l1.2 4.8l1.3 5.2l1.2 5.5l1.2 5.2l1.2 4.8l1.2 4.1l1.2 3.1l1.2 1.9l1.2 0.6l1.3-0.7l1.3-2l1.2-3.4l1.3-4.5l1.2-5.7l1.3-6.5l1.3-7.2l1.2-7.6l1.3-8l1.2-7.9l1.3-7.7l1.3-7.2l1.2-6.5l1.3-5.6l1.2-4.6l1.3-3.3l1.3-2.1l1.2-0.7l1.2 1l1.3 3l1.2 4.9l1.2 6.6l1.2 8.2l1.2 9.5l1.2 10.4l1.3 11.2l1.2 11.5l1.2 11.5l1.2 11.2l1.2 10.4l1.3 9.5l1.2 8.2l1.2 6.6l1.2 4.9l1.2 3l1.3 1l1.2-0.9l1.3-2.5l1.3-4.1l1.2-5.5l1.3-6.7l1.3-7.6l1.2-8.3l1.3-8.7l1.3-8.6l1.2-8.3l1.3-7.6l1.3-6.7l1.3-5.5l1.2-4.1l1.3-2.6l1.3-0.8l1.2 0.7l1.3 2.2l1.2 3.5l1.3 4.6l1.2 5.4l1.3 5.9l1.3 6.1l1.2 6l1.3 5.4l1.2 4.6l1.3 3.5l1.2 2.1l1.3 0.8l1.2-0.7l1.2-2l1.3-3.3l1.2-4.4l1.2-5.4l1.2-6.2l1.3-6.9l1.2-7.2l1.2-7.3l1.2-7.2l1.3-6.8l1.2-6.3l1.2-5.4l1.3-4.4l1.2-3.3l1.2-2l1.2-0.7l1.2 0.8l1.3 2.3l1.2 3.8l1.2 5.1l1.2 6.4l1.2 7.4l1.2 8.2l1.2 8.9l1.2 9.2l1.3 9.4l1.2 9.2l1.2 8.9l1.2 8.2l1.2 7.4l1.2 6.4l1.2 5.1l1.2 3.8l1.3 2.3l1.2 0.8l1.2-0.8l1.3-2.1l1.2-3.5l1.2-4.6l1.3-5.7l1.2-6.5l1.3-7l1.2-7.3l1.3-7.3l1.2-7l1.3-6.5l1.2-5.7l1.3-4.6l1.2-3.5l1.3-2.1l1.2-0.7l1.3 0.7l1.2 2l1.3 3.4l1.3 4.3l1.3 5.2l1.2 5.7l1.3 5.8l1.3 5.7l1.2 5.1l1.3 4.4l1.3 3.3l1.2 2.1l1.3 0.7l1.3-0.7l1.2-1.9l1.3-3.1l1.2-4.1l1.2-5.2l1.3-5.9l1.2-6.4l1.3-6.9l1.2-6.9l1.3-6.8l1.2-6.5l1.3-5.9l1.2-5.1l1.3-4.2l1.2-3.1l1.3-1.9l1.2-0.7l1.3 1l1.2 2.7l1.3 4.5l1.2 6.1l1.3 7.4l1.2 8.5l1.3 9.4l1.2 9.9l1.3 10l1.2 9.9l1.3 9.4l1.2 8.6l1.2 7.4l1.3 6l1.2 4.5l1.3 2.8l1.2 0.9l1.3-0.7l1.2-2l1.2-3.2l1.2-4.4l1.3-5.4l1.2-6.2l1.2-6.7l1.3-7.2l1.2-7.3l1.2-7.1l1.2-6.8l1.3-6.2l1.2-5.4l1.2-4.4l1.2-3.2l1.3-2l1.2-0.7l1.3 0.7l1.2 2.1l1.3 3.4l1.3 4.4l1.2 5.2l1.3 5.8l1.3 5.9l1.2 5.7l1.3 5.2l1.3 4.4l1.3 3.4l1.2 2.1l1.3 0.7l1.2-0.7l1.3-2.1l1.2-3.3l1.3-4.5l1.2-5.5l1.3-6.4l1.2-7l1.3-7.4l1.2-7.5l1.3-7.3l1.2-7l1.3-6.4l1.2-5.5l1.3-4.6l1.2-3.3l1.3-2.1l1.2-0.6l1.2 0.9l1.3 2.6l1.2 4.4l1.3 5.9l1.2 7.2l1.2 8.4l1.3 9.1l1.2 9.6l1.2 9.8l1.3 9.6l1.2 9.1l1.3 8.4l1.2 7.2l1.2 5.9l1.3 4.3l1.2 2.7l1.2 0.9l1.3-0.8l1.2-2.4l1.2-3.8l1.2-5.2l1.3-6.4l1.2-7.2l1.2-7.9l1.2-8.2l1.3-8.1l1.2-7.9l1.2-7.2l1.2-6.4l1.3-5.2l1.2-3.9l1.2-2.3l1.2-0.8l1.3 0.5l1.2 1.5l1.2 2.5l1.3 3.3l1.2 4l1.2 4.6l1.3 4.8l1.2 5l1.2 4.9l1.3 4.5l1.2 4l1.2 3.3l1.3 2.5l1.2 1.5l1.2 0.6l1.3-0.7l1.3-2.1l1.2-3.3l1.3-4.4l1.3-5.3l1.2-6l1.3-6.5l1.3-6.6l1.2-6.4l1.3-6.1l1.3-5.3l1.2-4.4l1.3-3.3l1.3-2l1.3-0.7l1.2 0.7l1.2 2.1l1.3 3.4l1.2 4.6l1.3 5.8l1.2 6.6l1.2 7.4l1.3 7.8l1.2 8.1l1.2 8.1l1.3 7.8l1.2 7.3l1.3 6.7l1.2 5.7l1.2 4.7l1.3 3.4l1.2 2.1l1.3 0.7l1.2-0.7l1.3-2.1l1.3-3.4l1.2-4.6l1.3-5.6l1.3-6.4l1.2-6.9l1.3-7.2l1.3-7.2l1.3-6.9l1.2-6.4l1.3-5.6l1.3-4.6l1.2-3.4l1.3-2.1l1.3-0.7l1.2 0.3l1.3 1.1l1.2 1.7l1.3 2.2l1.2 2.8l1.2 3.2l1.3 3.4l1.2 3.6l1.3 3.6l1.2 3.4l1.3 3.2l1.2 2.7l1.3 2.3l1.2 1.7l1.3 1.1l1.2 0.3l1.2-0.5l1.2-1.7l1.2-2.6l1.2-3.5l1.3-4.2l1.2-4.8l1.2-5.2l1.2-5.2l1.2-5.2l1.2-4.8l1.2-4.2l1.2-3.5l1.2-2.6l1.2-1.7l1.2-0.5l1.3 0.6l1.2 1.8l1.2 3l1.3 4.1l1.2 5l1.2 5.7l1.2 6.3l1.3 6.6l1.2 6.7l1.2 6.6l1.2 6.3l1.3 5.7l1.2 5l1.2 4l1.2 3l1.3 1.9l1.2 0.6l1.3-0.7l1.2-2.1l1.3-3.4l1.3-4.5l1.2-5.4l1.3-6.2l1.3-6.5l1.3-6.8l1.2-6.6l1.3-6.1l1.3-5.4l1.2-4.5l1.3-3.4l1.3-2.1l1.2-0.7l1.3 0.3l1.3 0.9l1.2 1.4l1.3 2l1.2 2.4l1.3 2.7l1.2 3l1.3 3.2l1.3 3.2l1.2 3.2l1.3 3l1.2 2.8l1.3 2.3l1.3 2l1.2 1.4l1.3 0.9l1.2 0.3l1.2-0.3l1.3-0.8l1.2-1.4l1.2-1.9l1.2-2.3l1.2-2.6l1.2-2.8l1.2-2.9l1.2-3l1.3-2.8l1.2-2.6l1.2-2.3l1.2-1.9l1.2-1.3l1.2-0.9l1.2-0.3l1.3 0.6l1.3 1.6l1.2 2.7l1.3 3.5l1.3 4.3l1.3 4.9l1.2 5.2l1.3 5.3l1.3 5.3l1.2 4.8l1.3 4.3l1.3 3.6l1.2 2.7l1.3 1.6l1.3 0.6l1.2-0.4l1.2-1.1l1.3-1.9l1.2-2.4l1.2-3.1l1.2-3.5l1.3-3.8l1.2-4l1.2-4.1l1.2-4l1.3-3.9l1.2-3.4l1.2-3.1l1.2-2.4l1.3-1.9l1.2-1.1l1.2-0.4l1.3 0.3l1.2 0.7l1.3 1.2l1.2 1.7l1.3 2l1.2 2.2l1.3 2.5l1.2 2.6l1.2 2.5l1.3 2.5l1.2 2.3l1.3 2l1.2 1.6l1.3 1.2l1.2 0.8l1.3 0.2l1.2-0.1l1.2-0.5l1.2-0.8l1.2-1.1l1.2-1.4l1.2-1.5l1.2-1.7l1.2-1.9l1.3-1.9l1.2-1.8l1.2-1.9l1.2-1.7l1.2-1.5l1.2-1.4l1.2-1.1l1.2-0.8l1.2-0.5l1.2-0.1l1.3 0.4l1.2 1.2l1.3 2.1l1.3 2.6l1.2 3.1l1.3 3.5l1.2 3.5l1.3 3.5l1.2 3.1l1.3 2.6l1.2 2.1l1.3 1.2l1.2 0.4l1.3-0.3l1.3-0.9l1.2-1.6l1.3-2.2l1.2-2.7l1.3-3.1l1.2-3.6l1.3-3.9l1.2-4.1l1.3-4.2l1.2-4.3l1.3-4.3l1.2-4.1l1.3-3.9l1.2-3.6l1.3-3.1l1.2-2.7l1.3-2.2l1.2-1.5l1.3-1l1.2-0.3l1.3 0.3l1.2 1l1.2 1.5l1.2 2.2l1.3 2.6l1.2 3l1.2 3.3l1.3 3.4l1.2 3.6l1.2 3.4l1.2 3.3l1.3 3l1.2 2.6l1.2 2.2l1.2 1.5l1.3 1l1.2 0.3l1.2-0.3l1.3-1.1l1.2-1.8l1.2-2.2l1.3-2.6l1.2-2.6l1.2-2.6l1.3-2.2l1.2-1.8l1.3-1.1l1.2-0.3l1.2 0.2l1.3 0.8l1.2 1.2l1.3 1.7l1.2 2l1.3 2.4l1.2 2.5l1.3 2.7l1.2 2.8l1.3 2.7l1.2 2.6l1.3 2.3l1.2 2.1l1.3 1.6l1.2 1.3l1.3 0.7l1.2 0.3l1.3-0.3l1.3-1l1.2-1.6l1.3-2.2l1.2-2.7l1.3-3.1l1.3-3.5l1.2-3.7l1.3-4l1.2-3.9l1.3-3.9l1.3-3.8l1.2-3.5l1.3-3.1l1.2-2.7l1.3-2.2l1.3-1.6l1.2-0.9l1.3-0.4l1.2 0.3l1.2 0.9l1.3 1.4l1.2 1.9l1.2 2.4l1.2 2.8l1.2 3.1l1.3 3.4l1.2 3.6l1.2 3.6l1.2 3.7l1.3 3.5l1.2 3.4l1.2 3.2l1.2 2.8l1.3 2.3l1.2 2l1.2 1.4l1.2 0.8l1.3 0.3l1.2-0.4l1.2-1.2l1.3-1.9l1.2-2.5l1.2-2.8l1.3-2.9l1.2-2.8l1.2-2.4l1.3-2l1.2-1.2l1.3-0.4l1.2 0.2l1.3 0.6l1.3 1l1.2 1.3l1.3 1.6l1.3 1.8l1.2 1.9l1.3 1.9l1.3 1.9l1.2 1.8l1.3 1.6l1.3 1.3l1.3 1l1.2 0.6l1.3 0.2l1.2-0.3l1.2-1l1.2-1.7l1.2-2.2l1.2-2.8l1.2-3.2l1.3-3.5l1.2-3.7l1.2-3.9l1.2-3.9l1.2-3.7l1.2-3.6l1.2-3.1l1.2-2.8l1.2-2.2l1.2-1.7l1.2-1l1.3-0.3l1.2 0.3l1.2 1l1.2 1.7l1.3 2.3l1.2 2.8l1.2 3.3l1.2 3.7l1.2 4.1l1.3 4.2l1.2 4.3l1.2 4.4l1.2 4.2l1.3 4l1.2 3.7l1.2 3.4l1.2 2.8l1.3 2.3l1.2 1.6l1.2 1l1.2 0.4l1.5-1.1l1.6-2.1l1.5-1"/><path d="M445 1553.5l1.3 1.6l1.2 4.6l1.3 7.5l1.2 9.9l1.3 11.7l1.3 12.8l1.2 13.1l1.3 12.8l1.2 11.7l1.3 9.9l1.2 7.5l1.3 4.6l1.2 1.6l1.3-0.8l1.2-2.4l1.2-3.9l1.2-5.3l1.2-6.4l1.2-7.5l1.3-8.2l1.2-8.6l1.2-8.7l1.2-8.6l1.2-8.2l1.2-7.4l1.2-6.5l1.3-5.3l1.2-3.9l1.2-2.4l1.2-0.8l1.2 0.7l1.2 1.9l1.2 3.2l1.2 4.3l1.2 5.1l1.2 5.6l1.2 6l1.2 5.9l1.3 5.7l1.2 5.1l1.2 4.2l1.2 3.2l1.2 2l1.2 0.7l1.2-0.8l1.2-2.3l1.2-3.6l1.3-5l1.2-6l1.2-6.9l1.2-7.5l1.3-7.8l1.2-7.7l1.2-7.5l1.2-6.9l1.3-6l1.2-5l1.2-3.7l1.2-2.3l1.3-0.7l1.2 0.9l1.3 2.7l1.2 4.4l1.3 5.9l1.2 7.4l1.3 8.5l1.2 9.4l1.3 10l1.2 10.3l1.3 10.4l1.3 10l1.2 9.4l1.3 8.5l1.2 7.4l1.3 5.9l1.2 4.4l1.3 2.7l1.2 0.9l1.3-0.8l1.3-2.6l1.3-4.1l1.2-5.5l1.3-6.8l1.3-7.6l1.3-8.4l1.2-8.7l1.3-8.6l1.3-8.4l1.3-7.7l1.2-6.7l1.3-5.5l1.3-4.1l1.3-2.6l1.2-0.8l1.2 0.6l1.2 1.8l1.2 2.9l1.3 3.8l1.2 4.7l1.2 5.1l1.2 5.4l1.2 5.4l1.2 5.2l1.2 4.6l1.2 3.8l1.2 2.9l1.2 1.8l1.2 0.7l1.2-0.8l1.3-2.1l1.2-3.4l1.3-4.7l1.2-5.6l1.2-6.4l1.3-7l1.2-7.3l1.3-7.3l1.2-7l1.2-6.4l1.3-5.7l1.2-4.6l1.3-3.4l1.2-2.2l1.3-0.7l1.2 0.9l1.2 2.4l1.3 4l1.2 5.4l1.2 6.7l1.3 7.8l1.2 8.5l1.3 9.2l1.2 9.4l1.2 9.4l1.3 9.2l1.2 8.5l1.3 7.8l1.2 6.7l1.2 5.4l1.3 4l1.2 2.4l1.3 0.9l1.2-0.8l1.3-2.2l1.3-3.7l1.3-4.9l1.2-6l1.3-6.8l1.3-7.4l1.3-7.7l1.2-7.7l1.3-7.4l1.3-6.8l1.3-6l1.2-4.9l1.3-3.6l1.3-2.3l1.3-0.7l1.2 0.5l1.2 1.7l1.2 2.6l1.2 3.5l1.3 4.2l1.2 4.7l1.2 4.9l1.2 5l1.3 4.7l1.2 4.2l1.2 3.5l1.2 2.6l1.3 1.7l1.2 0.5l1.2-0.6l1.2-1.8l1.3-2.9l1.2-3.8l1.2-4.8l1.2-5.4l1.3-5.9l1.2-6.1l1.2-6.1l1.2-5.8l1.3-5.4l1.2-4.8l1.2-3.9l1.2-2.9l1.2-1.7l1.3-0.6l1.2 0.7l1.3 2.1l1.2 3.5l1.3 4.7l1.2 5.8l1.3 6.8l1.2 7.4l1.3 8l1.3 8.1l1.2 8.2l1.3 8l1.2 7.4l1.3 6.8l1.2 5.8l1.3 4.7l1.2 3.5l1.3 2.1l1.2 0.7l1.3-0.6l1.2-1.9l1.2-3l1.3-4.1l1.2-5.1l1.2-5.8l1.3-6.3l1.2-6.7l1.2-6.9l1.3-6.7l1.2-6.3l1.2-5.8l1.3-5.1l1.2-4.1l1.2-3l1.3-1.9l1.2-0.6l1.2 0.4l1.2 1.2l1.3 2.1l1.2 2.7l1.2 3.2l1.2 3.6l1.3 3.8l1.2 3.7l1.2 3.6l1.2 3.3l1.3 2.6l1.2 2.1l1.2 1.2l1.2 0.5l1.3-0.6l1.2-1.6l1.2-2.7l1.3-3.6l1.2-4.4l1.3-4.9l1.2-5.5l1.3-5.6l1.2-5.6l1.2-5.4l1.3-5l1.2-4.4l1.3-3.5l1.2-2.7l1.2-1.7l1.3-0.5l1.2 0.6l1.3 1.6l1.2 2.7l1.2 3.7l1.3 4.5l1.2 5.3l1.3 5.8l1.2 6.1l1.2 6.4l1.3 6.4l1.2 6.2l1.2 5.8l1.3 5.2l1.2 4.5l1.3 3.7l1.2 2.7l1.2 1.7l1.3 0.5l1.3-0.6l1.2-1.7l1.3-2.8l1.3-3.8l1.3-4.5l1.2-5.3l1.3-5.7l1.3-5.9l1.3-5.9l1.2-5.7l1.3-5.2l1.3-4.6l1.3-3.8l1.2-2.8l1.3-1.7l1.3-0.6l1.2 0.4l1.3 1.2l1.3 2l1.3 2.6l1.2 3.2l1.3 3.5l1.3 3.9l1.2 3.9l1.3 3.8l1.3 3.6l1.2 3.2l1.3 2.6l1.3 2l1.2 1.2l1.3 0.4l1.3-0.4l1.3-1.1l1.2-1.7l1.3-2.4l1.3-2.9l1.2-3.2l1.3-3.5l1.3-3.6l1.2-3.4l1.3-3.3l1.3-2.9l1.2-2.3l1.3-1.8l1.3-1.1l1.3-0.4l1.2 0.5l1.3 1.3l1.2 2.2l1.3 2.9l1.2 3.7l1.3 4.2l1.2 4.6l1.3 5l1.2 5.1l1.3 5.1l1.3 5l1.2 4.7l1.3 4.2l1.2 3.6l1.3 3l1.2 2.2l1.3 1.3l1.2 0.4l1.3-0.4l1.2-1.4l1.2-2.3l1.3-3.1l1.2-3.8l1.2-4.4l1.3-4.8l1.2-5.1l1.2-5.1l1.3-5.1l1.2-4.8l1.2-4.3l1.2-3.8l1.3-3.1l1.2-2.3l1.2-1.4l1.3-0.5l1.2 0.4l1.3 1.1l1.2 1.9l1.2 2.6l1.3 3l1.2 3.6l1.3 3.8l1.2 4l1.2 4l1.3 3.8l1.2 3.5l1.3 3.1l1.2 2.5l1.2 1.9l1.3 1.2l1.2 0.4l1.3-0.4l1.3-1.1l1.2-1.7l1.3-2.3l1.3-2.8l1.2-3.2l1.3-3.4l1.3-3.5l1.3-3.3l1.2-3.2l1.3-2.8l1.3-2.3l1.2-1.8l1.3-1l1.3-0.4l1.2 0.4l1.2 1.2l1.2 2l1.3 2.6l1.2 3.3l1.2 3.7l1.2 4l1.3 4.1l1.2 4.2l1.2 4l1.2 3.7l1.3 3.2l1.2 2.7l1.2 2l1.2 1.2l1.3 0.4l1.2-0.4l1.2-1.3l1.3-2.1l1.2-2.9l1.3-3.5l1.2-4.2l1.3-4.6l1.2-4.9l1.3-5.2l1.2-5.2l1.3-5.2l1.2-4.9l1.2-4.6l1.3-4.2l1.2-3.5l1.3-2.9l1.2-2.1l1.3-1.2l1.2-0.5l1.3 0.5l1.2 1.5l1.2 2.5l1.3 3.3l1.2 4.1l1.3 4.6l1.2 5l1.2 5.2l1.3 5.2l1.2 5l1.3 4.6l1.2 4l1.2 3.3l1.3 2.5l1.2 1.5l1.3 0.5l1.2-0.4l1.3-1.2l1.3-2l1.2-2.6l1.3-3.2l1.3-3.5l1.3-3.9l1.2-3.9l1.3-3.8l1.3-3.6l1.2-3.2l1.3-2.6l1.3-2l1.2-1.2l1.3-0.4l1.3 0.4l1.2 1.2l1.3 2l1.2 2.6l1.3 3.1l1.2 3.6l1.3 3.8l1.2 3.9l1.3 3.8l1.2 3.5l1.3 3.2l1.2 2.6l1.3 1.9l1.2 1.3l1.3 0.4l1.2-0.5l1.2-1.5l1.2-2.4l1.2-3.2l1.2-4.1l1.2-4.6l1.2-5.1l1.2-5.5l1.3-5.6l1.2-5.7l1.2-5.5l1.2-5.1l1.2-4.6l1.2-4l1.2-3.3l1.2-2.4l1.2-1.5l1.2-0.4l1.3 0.6l1.2 1.7l1.3 3l1.2 3.9l1.2 4.9l1.3 5.7l1.2 6.3l1.2 6.7l1.3 6.9l1.2 6.9l1.3 6.6l1.2 6.3l1.2 5.7l1.3 4.9l1.2 4l1.3 2.9l1.2 1.8l1.2 0.6l1.3-0.5l1.2-1.5l1.2-2.4l1.2-3.2l1.3-3.9l1.2-4.5l1.2-4.8l1.2-5.1l1.3-5l1.2-4.9l1.2-4.4l1.2-3.9l1.2-3.2l1.3-2.4l1.2-1.5l1.2-0.5l1.2 0.5l1.3 1.4l1.2 2.3l1.2 3.1l1.2 3.6l1.3 4.1l1.2 4.3l1.2 4.3l1.2 4.1l1.3 3.6l1.2 3.1l1.2 2.3l1.2 1.4l1.3 0.5l1.2-0.7l1.3-1.9l1.2-3.3l1.2-4.3l1.3-5.4l1.2-6.2l1.3-6.7l1.2-7.2l1.3-7.2l1.2-7.1l1.3-6.8l1.2-6.2l1.3-5.3l1.2-4.4l1.3-3.2l1.2-2l1.3-0.7l1.2 0.7l1.2 2.2l1.2 3.6l1.2 4.8l1.3 6l1.2 7.1l1.2 7.8l1.2 8.3l1.2 8.8l1.2 8.9l1.3 8.7l1.2 8.4l1.2 7.8l1.2 7l1.2 6l1.2 4.9l1.3 3.5l1.2 2.2l1.2 0.7l1.2-0.6l1.2-2l1.3-3.3l1.2-4.4l1.2-5.4l1.2-6.1l1.3-6.6l1.2-6.9l1.2-6.9l1.2-6.6l1.3-6.2l1.2-5.3l1.2-4.4l1.2-3.3l1.2-2l1.3-0.7l1.2 0.6l1.3 1.8l1.2 2.7l1.3 3.7l1.2 4.3l1.3 4.8l1.3 4.8l1.2 4.8l1.3 4.3l1.2 3.7l1.3 2.7l1.2 1.8l1.3 0.6l1.2-0.8l1.3-2.3l1.2-3.7l1.3-5l1.2-6.1l1.3-7l1.2-7.7l1.3-8.2l1.2-8.3l1.3-8.1l1.2-7.7l1.3-7.1l1.2-6.1l1.3-5l1.2-3.7l1.3-2.2l1.2-0.8l1.2 0.9l1.2 2.7l1.3 4.4l1.2 5.9l1.2 7.4l1.2 8.6l1.2 9.6l1.2 10.3l1.3 10.7l1.2 10.9l1.2 10.8l1.2 10.3l1.2 9.5l1.2 8.6l1.3 7.4l1.2 6l1.2 4.3l1.2 2.7l1.2 0.9l1.2-0.8l1.3-2.3l1.2-3.8l1.2-5.1l1.2-6.2l1.3-7.1l1.2-7.6l1.2-8l1.2-8l1.3-7.7l1.2-7.1l1.2-6.2l1.2-5.1l1.3-3.7l1.2-2.4l1.2-0.8l1.2 0.6l1.2 1.8l1.2 2.8l1.2 3.8l1.2 4.4l1.2 5l1.2 5.3l1.2 5.3l1.2 5l1.3 4.5l1.2 3.7l1.2 2.8l1.2 1.8l1.2 0.6l1.2-1l1.3-2.8l1.3-4.5l1.3-6.1l1.2-7.4l1.3-8.4l1.3-9.2l1.3-9.6l1.2-9.5l1.3-9.2l1.3-8.5l1.3-7.4l1.2-6.1l1.3-4.5l1.3-2.8l1.3-0.9l1.2 1l1.2 2.9l1.2 4.8l1.2 6.6l1.3 8.1l1.2 9.5l1.2 10.6l1.2 11.4l1.2 11.8l1.2 12l1.3 11.9l1.2 11.3l1.2 10.6l1.2 9.5l1.2 8.1l1.2 6.6l1.3 4.8l1.2 3l1.2 1l1.2-1l1.3-2.8l1.2-4.5l1.3-6.2l1.2-7.5l1.2-8.5l1.3-9.3l1.2-9.6l1.3-9.6l1.2-9.3l1.2-8.5l1.3-7.5l1.2-6.1l1.3-4.6l1.2-2.8l1.2-1l1.3 0.8l1.3 2.3l1.2 3.6l1.3 4.9l1.2 5.6l1.3 6.3l1.2 6.4l1.3 6.2l1.2 5.7l1.3 4.8l1.3 3.7l1.2 2.3l1.3 0.7l1.2-0.9l1.3-2.9l1.3-4.7l1.3-6.3l1.2-7.7l1.3-8.8l1.3-9.5l1.3-9.9l1.2-9.9l1.3-9.5l1.3-8.8l1.3-7.6l1.2-6.4l1.3-4.6l1.3-2.9l1.3-1l1.2 1l1.2 3.1l1.2 4.9l1.2 6.8l1.2 8.4l1.3 9.8l1.2 10.9l1.2 11.7l1.2 12.3l1.2 12.4l1.2 12.2l1.3 11.7l1.2 10.9l1.2 9.8l1.2 8.4l1.2 6.8l1.2 5l1.3 3l1.2 1l1.2-0.9l1.3-2.9l1.2-4.6l1.2-6.3l1.3-7.6l1.2-8.6l1.3-9.5l1.2-9.7l1.2-9.8l1.3-9.5l1.2-8.6l1.3-7.6l1.2-6.3l1.3-4.6l1.2-2.9l1.2-0.9l1.3 0.8l1.2 2.4l1.3 4l1.3 5.1l1.2 6.1l1.3 6.7l1.2 6.9l1.3 6.7l1.2 6.1l1.3 5.1l1.2 3.9l1.3 2.5l1.3 0.8l1.2-0.9l1.2-2.6l1.3-4.1l1.2-5.7l1.2-7l1.2-8l1.3-8.8l1.2-9.2l1.2-9.4l1.3-9.3l1.2-8.7l1.2-8l1.3-7l1.2-5.7l1.2-4.2l1.3-2.5l1.2-0.9l1.3 1.1l1.2 3.2l1.3 5.3l1.2 7.2l1.3 8.9l1.2 10.3l1.3 11.3l1.2 12.1l1.3 12.5l1.2 12.5l1.3 12.1l1.2 11.4l1.3 10.3l1.3 8.8l1.2 7.2l1.3 5.3l1.2 3.3l1.3 1.1l1.2-0.9l1.3-2.7l1.2-4.4l1.2-5.8l1.3-7.2l1.2-8.2l1.3-8.8l1.2-9.2l1.2-9.2l1.3-8.9l1.2-8.1l1.3-7.2l1.2-5.9l1.2-4.3l1.3-2.7l1.2-0.9l1.3 0.9l1.3 2.5l1.3 4.1l1.2 5.3l1.3 6.3l1.3 7l1.3 7.1l1.2 7l1.3 6.3l1.3 5.3l1.3 4.1l1.2 2.5l1.3 0.9l1.3-0.9l1.3-2.6l1.2-4.2l1.3-5.7l1.3-6.9l1.3-7.8l1.2-8.6l1.3-8.9l1.3-8.9l1.3-8.5l1.2-7.9l1.3-6.9l1.3-5.6l1.3-4.3l1.2-2.6l1.3-0.8l1.3 1l1.2 3l1.3 5l1.2 6.8l1.3 8.3l1.2 9.7l1.3 10.6l1.3 11.4l1.2 11.8l1.3 11.7l1.2 11.4l1.3 10.7l1.2 9.6l1.3 8.3l1.2 6.8l1.3 5l1.2 3l1.3 1.1l1.2-1l1.3-2.7l1.2-4.5l1.3-6.1l1.2-7.3l1.2-8.4l1.3-9.1l1.2-9.5l1.3-9.5l1.2-9.1l1.2-8.4l1.3-7.3l1.2-6.1l1.3-4.5l1.2-2.7l1.2-0.9l1.3 0.7l1.2 2.2l1.2 3.5l1.2 4.7l1.2 5.6l1.2 6.2l1.2 6.6l1.2 6.5l1.2 6.3l1.2 5.6l1.2 4.6l1.2 3.5l1.2 2.2l1.2 0.8l1.2-0.8l1.3-2.3l1.2-3.8l1.2-5l1.3-6.2l1.2-7.2l1.2-7.8l1.3-8.3l1.2-8.4l1.2-8.3l1.3-7.8l1.2-7.1l1.2-6.3l1.3-5l1.2-3.8l1.2-2.3l1.3-0.7l1.2 1l1.2 3l1.2 4.8l1.3 6.6l1.2 8.1l1.2 9.2l1.3 10.2l1.2 10.8l1.2 10.9l1.3 10.7l1.2 10.2l1.2 9.3l1.3 8l1.2 6.6l1.2 4.9l1.3 3l1.2 1l1.2-0.8l1.3-2.4l1.2-3.8l1.2-5.2l1.3-6.4l1.2-7.3l1.2-8l1.3-8.5l1.2-8.6l1.2-8.4l1.2-8.1l1.3-7.3l1.2-6.3l1.2-5.2l1.3-3.9l1.2-2.3l1.2-0.8l1.3 0.7l1.3 2l1.2 3.2l1.3 4.3l1.3 5.2l1.2 5.7l1.3 6.1l1.2 6l1.3 5.8l1.3 5.1l1.2 4.3l1.3 3.3l1.3 2l1.2 0.7l1.3-0.8l1.2-2.1l1.2-3.5l1.3-4.8l1.2-5.7l1.3-6.6l1.2-7.2l1.2-7.4l1.3-7.4l1.2-7.2l1.3-6.6l1.2-5.7l1.2-4.8l1.3-3.5l1.2-2.1l1.3-0.8l1.2 0.9l1.3 2.7l1.3 4.3l1.2 5.9l1.3 7.2l1.3 8.3l1.2 9l1.3 9.6l1.2 9.8l1.3 9.5l1.3 9.1l1.2 8.3l1.3 7.2l1.3 5.8l1.2 4.4l1.3 2.7l1.3 0.9l1.2-0.8l1.3-2.2l1.2-3.6l1.3-4.9l1.2-5.9l1.2-6.9l1.3-7.6l1.2-7.9l1.3-8.1l1.2-7.9l1.3-7.6l1.2-6.8l1.3-6l1.2-4.9l1.3-3.6l1.2-2.2l1.3-0.7l1.2 0.6l1.2 1.8l1.2 3l1.3 3.9l1.2 4.7l1.2 5.2l1.2 5.5l1.3 5.5l1.2 5.3l1.2 4.7l1.2 3.9l1.3 2.9l1.2 1.9l1.2 0.6l1.3-0.6l1.2-1.7l1.3-2.8l1.2-3.7l1.3-4.5l1.3-5.2l1.2-5.6l1.3-5.8l1.2-5.9l1.3-5.6l1.2-5.2l1.3-4.5l1.3-3.7l1.2-2.8l1.3-1.7l1.2-0.6l1.3 0.7l1.2 2.2l1.2 3.4l1.2 4.6l1.2 5.7l1.2 6.6l1.2 7.2l1.3 7.5l1.2 7.7l1.2 7.6l1.2 7.2l1.2 6.5l1.2 5.7l1.3 4.7l1.2 3.4l1.2 2.1l1.2 0.7l1.3-0.6l1.2-2l1.3-3.1l1.3-4.3l1.2-5.3l1.3-6.1l1.3-6.6l1.2-7l1.3-7.1l1.2-7.1l1.3-6.6l1.3-6.1l1.2-5.2l1.3-4.3l1.3-3.2l1.2-2l1.3-0.6l1.3 0.6l1.3 1.7l1.2 2.7l1.3 3.6l1.3 4.3l1.3 4.9l1.3 5l1.3 5.1l1.2 4.9l1.3 4.3l1.3 3.6l1.3 2.7l1.3 1.7l1.2 0.6l1.3-0.5l1.3-1.4l1.2-2.2l1.3-3l1.2-3.7l1.3-4.2l1.3-4.5l1.2-4.7l1.3-4.7l1.2-4.6l1.3-4.2l1.2-3.6l1.3-3l1.3-2.3l1.2-1.4l1.3-0.4l1.2 0.6l1.3 1.9l1.3 3.1l1.3 4.1l1.2 5.1l1.3 5.7l1.3 6.3l1.3 6.5l1.2 6.5l1.3 6.2l1.3 5.8l1.3 5.1l1.2 4.1l1.3 3.1l1.3 1.9l1.3 0.6l1.2-0.5l1.2-1.5l1.2-2.4l1.2-3.3l1.2-4.1l1.2-4.7l1.2-5.2l1.2-5.6l1.3-5.7l1.2-5.8l1.2-5.5l1.2-5.3l1.2-4.7l1.2-4.1l1.2-3.3l1.2-2.4l1.2-1.5l1.2-0.5l1.2 0.4l1.2 1.3l1.3 2.1l1.2 2.7l1.2 3.4l1.2 3.8l1.2 4.2l1.2 4.3l1.2 4.3l1.2 4.2l1.2 3.8l1.2 3.4l1.2 2.7l1.2 2.1l1.2 1.2l1.2 0.4l1.3-0.3l1.2-1.1l1.3-1.8l1.2-2.4l1.3-2.9l1.2-3.3l1.3-3.5l1.2-3.6l1.3-3.5l1.3-3.3l1.2-2.9l1.3-2.3l1.2-1.8l1.3-1.1l1.2-0.4l1.2 0.4l1.3 1.3l1.2 2.2l1.3 2.9l1.2 3.5l1.3 4l1.2 4.4l1.2 4.5l1.3 4.6l1.2 4.3l1.3 4.1l1.2 3.5l1.2 2.9l1.3 2.1l1.2 1.3l1.3 0.5l1.2-0.4l1.2-1.3l1.3-2.2l1.2-2.9l1.3-3.5l1.2-4.1l1.2-4.6l1.3-4.8l1.2-5l1.3-5l1.2-4.9l1.2-4.6l1.3-4.1l1.2-3.5l1.2-2.9l1.3-2.1l1.2-1.3l1.3-0.5l1.2 0.4l1.2 1.1l1.2 1.8l1.2 2.5l1.2 3l1.3 3.4l1.2 3.8l1.2 4l1.2 4.1l1.2 4l1.2 3.8l1.3 3.4l1.2 3l1.2 2.5l1.2 1.8l1.2 1.1l1.2 0.4l1.3-0.3l1.3-0.8l1.2-1.4l1.3-1.8l1.3-2.2l1.3-2.4l1.2-2.7l1.3-2.7l1.3-2.6l1.2-2.5l1.3-2.2l1.3-1.8l1.2-1.3l1.3-0.9l1.3-0.2l1.2 0.3l1.3 1l1.2 1.6l1.3 2.1l1.2 2.6l1.3 2.9l1.2 3.1l1.3 3.2l1.2 3.1l1.3 2.9l1.2 2.6l1.3 2.1l1.2 1.6l1.3 1l1.2 0.3l1.3-0.4l1.3-1.2l1.2-1.9l1.3-2.7l1.2-3.2l1.3-3.8l1.2-4.1l1.3-4.5l1.2-4.6l1.3-4.6l1.2-4.4l1.3-4.2l1.2-3.7l1.3-3.3l1.3-2.6l1.2-2l1.3-1.2l1.2-0.4l1.3 0.4l1.2 1.2l1.2 1.9l1.3 2.6l1.2 3.1l1.3 3.7l1.2 4.1l1.2 4.3l1.3 4.5l1.2 4.4l1.2 4.3l1.3 4.1l1.2 3.7l1.3 3.1l1.2 2.6l1.2 1.9l1.3 1.2l1.2 0.4l1.3-0.3l1.3-0.9l1.2-1.3l1.3-1.8l1.3-2.2l1.2-2.5l1.3-2.6l1.3-2.7l1.2-2.7l1.3-2.4l1.3-2.2l1.3-1.8l1.2-1.4l1.3-0.8l1.3-0.3l1.2 0.3l1.3 1l1.3 1.6l1.3 2l1.2 2.4l1.3 2.6l1.3 2.8l1.3 2.6l1.2 2.4l1.3 2.1l1.3 1.5l1.3 1l1.3 0.3l1.2-0.4l1.2-1.1l1.2-1.7l1.2-2.4l1.2-3l1.2-3.5l1.2-3.9l1.2-4.1l1.2-4.4l1.2-4.4l1.2-4.3l1.2-4.2l1.2-3.8l1.2-3.5l1.2-3l1.2-2.4l1.2-1.8l1.2-1.1l1.2-0.3l1.2 0.5l1.3 1.6l1.2 2.6l1.3 3.6l1.2 4.3l1.3 4.9l1.2 5.5l1.3 5.7l1.2 5.9l1.3 5.7l1.2 5.5l1.3 5l1.2 4.3l1.3 3.5l1.2 2.6l1.3 1.6l1.2 0.6l1.4-0.3l1.3-0.7l1.4-0.8l1.4-0.7l1.3-0.3"/></g><g stroke="#be0000" stroke-linejoin="round" stroke-width="2.6"><path d="M369 494.3l5.5-1.8l4.5 3.6l4.5 0.9l4.6-3.2l4.5 1.1l5.4-0.6l4.6-0.9l4.5 3.6l3.6 2.2l5.5-5.4l4.5 2.3l4.5-3.6l4.6-1.8l4.5 2.7l4.5-1.4l3.6-9.5l3.7 12.7l2.7-14.5l3.6-7.2l3.6 9.9l2.8-3.6l3.6 5.4l2.7-9.9l3.6 7.2l3.7-7.6l5.4 1.3l5.4-0.6l5.5 3.3l5.4 0l5.5-6.9l5.4-0.7l5.4 3.1l4.6-2.7l5.4 0l3.6 8.1l3.7-6.3l4.5 0.9l4.5 1.8l4.6 3.6l3.6-1.8l1.8 6.3l2.7-9.9l2.7 18.1l3.7-12.7l6.3-4.9l3.6 6.7l6.4-9.9l3.6 13.5l3.6-9.9l2.8 15.4l5.4-25.4l5.4 15.4l4.6 10l3.6-19l5.4 8.1l4.6-6.3l2.7 6.3l3.6 17.2l5.5-16.3l3.6 11.8l3.6-10l3.6-0.9l3.7 1.8l4.5-1.8l4.5 11.8l3.7-13.6l3.6-1.8l2.7 2.7l3.6-2.7l4.6 1.8l3.6 0l4.5 5.4l2.7-3.6l4.6 5.5l4.5-5.5l3.6 2.7l4.6-1.8l4.5 1.8l3.6 5.5l3.7 2.7l3.6 62.6l2.7-87.1l2.7-2.7l4.6 27.2l4.5-46.2l2.7-10.9l2.7-2.7l4.6 7.2l6.3 2.7l1.1 0.6l4.5-0.9l6.4 4.9l5.4-4.6l6.4 9.1l4.5-0.9l2.7 3.6l4.6-2.7l4.5 1.8l3.6 4.6l5.5 0.9l6.3-2.8l6.3 6.4l4.6 0.9l6.3 0l6.4 0.9l4.5 2.7l5.4-1.8l5.5 10.9l3.6-8.2l6.4 5.5l3.6-1.8l4.5 2.7l3.6-0.9l4.6 4.5l5.4-2.7l4.5 2.7l5.5-10l4.5 10l2.7-3.6l4.6 4.5l4.5 0l3.6-0.9l5.5 4.5l4.5-4.5l5.4 10.9l6.4-10.9l4.5 4.5l3.7-0.9l5.4 1.8l2.7-38l2.7 0l4.1 7.9l4.1 5.7l5.4-11.8l2.7 6.3l4.6-6.3l3.6 8.1l6.4-2.7l4.5-3.6l4.5 1.8l3.6-2.7l6.4 6.3l3.6-5.4l6.4 4.5l5.4-0.9l6.4 1.8l4.5 0.9l6.3 3.7l4.6-3.7l5.4 4.6l6.4 2.7l2.7 0l3.6 4.5l5.4-6.3l4.6-3.7l6.3 9.1l5.5-4.5l3.6 2.7l3.6 0.6l3.6-1.5l5.5-0.9l3.6 3.6l1.8-2.7l5.5 4.5l6.3-3.6l6.3 3.6l5.5 1.8l3.6-1.8l6.4 7.3l4.5-4.6l5.4 5.5l5.5-8.2l4.5 7.3l2 0l4.5-7.3l5.5-7.2l5.4 7.2l6.4-4.5l5.4 4.5l5.4-6.3l5.5-2.7l4.5-0.4l5.5 5.8l6.3-3.6l3.6 5.4l5.5 0l5.4 0l6.3-4.5l5.5 2.7l3.6-0.9l4.5 4.5l5.5-0.3l4.5-0.6l4.6-2.7l5.4 3.6l6.3-2.7l4.6 6.4l3.6-1.9l4.5 6.4l5.5-6.4l3.6 6.4l4.5-2.7l3.7-1.1l3.6 1.1l5.4 7.2l4.6-0.9l2.7 4.5l5.4-8.1l4.6 3.6l4.5 4.5l6.3-3.6l6.4-0.3l5.4 3.9l5.5-4.5l5.4 0l5.4 4.5l6.4-3.6l4.5 5.5l5.5 0l4.5 6.3l4.1-1.9l4 0.1l5.5 4.5l5.4 3.6l6.4-6.3l4.5 2.7l1.8 30.8l1.8 25.4l2.8-52.6l3.6 43.6l5.4-5.5l3.6 2.7l3.7-6.3l3.6 6.3l6.3-5.4l5.5-2.7l3.6-1.9l3.6-3.6l6.4-2.7l4.5-2.7l2.7-3.6l2.8 0.9l3.6-4.5l1.8-49l3.6-9.1l3.6 47.2l3.7-40.8l2.7 30.8l2.7-29.9l3.6 29l3.7-1.8l5.4-22.7l4.5 31.7l2.8-29l3.6 28.1l2.7-34.4l3.6 32.6l3.7-14.5l2.7-17.2l5.4 7.3l5.5-1.9l5.4-0.9l2.9 17.3l3.6-14.5l5.5 3.6l3.6 9l3.6-14.5l4.6 3.7l4.5 5.4l4.5-2.7l5.5 14.5l4.5-16.3l6.3 3.6l4.1 1.9l4.1 0.8l3.6 3.6l4.6-8.1l5.4 10.9l3.6-4.6l4.6 3.7l6.3-2.2l4.5 0.7l5.5 7.8l6.3-1.8l1.8-1.8l2.8 4.9l3.6-3.1l3.6 0.9l5.4-5.4l6.4 7.2l3.6 0.9l3.6 0l5.5-0.9l3.6 5.4l4.5-6.3l3.7-0.9l3.6 0l4.5 5.4l3.7-3.6l5.4 1.8l4.5 2.7l6.4-3.6l1.8-15.4l4.5 14.5l6.4-14.5l6.3 1.8l4.5 0.7l4.6 0.2l3.6 82.5l3.6-7.2l2.8-78l3.6 69.8l2.7-69.8l3.6 69.8l3.7-68.9l5.4 6.4l4.5-6.4l4.6 4.5l4.5-1.8l6.3 2.7l5.5-1.8l4.5 5.5l4.5-1.8l5.5 8.1l5.4-10l3.3 20l3.1-18.1l3.6 6.3l6.3-4.5l6.4 4.5l2.7 70.7l3.6 2.7l5.5-19l3.6 3.4l3.6 3l3.7-6.4l3.6 6.4l2.7-10l3.6 0l2.7-60.8l3.7-1.6l3.6-2l5.4-4.5l3.7 9.9l3.6-15.4l2.7 0.9l1.9-1.8l3.6-3.6l4.6 2.7l6.3 1.8l4.5-3.6l5.5-2.7l6.3 5.4l3.7 8.2l2.7-10l2.7 7.3l3.6-4.6l5.5 5.5l5.4 3.6l4.1 2.4l4.1 3.9l3.6-4.5l3.6 10l4.5-7.3l4.6-1.8l4.5 7.3l5.4 4.5l3.3 5.4l2.2-22.6l4.5-0.9l2.7-0.9l3.7 13.6l2.7-9.1l3.6 13.6l3.6-18.1l4.6 5.4l3.6-2.9l3.6-2.5l4.6 8.1l3.6-4.5l5.4 1.8l3.7 4.5l3.6-5.4l2.7 5.4l5.4-9.9l4.6 13.6l3.6-1.8l3.6-10l4.6 10l4.5-10l5.4 4.5l3.7-9l3.6 8.1l6.3-2.7l3.7-2.7l2.7 7.2l2.3-19.9l3.1 21.7l3.6-28.1l3.7 0.9l6.3 7.3l3.6-2.1l3.7-1.5l5.4-3.7l5.4 2.4l5.5 4.9l3.6 0.5l3.6-0.5l3.7-2.7l5.4 4.5l2.7-1.8l5.5 4.5l5.4-1.8l2.7 1.8l4.6-3.6l3.6 6.3l4.5-6.7l6.4 4l4.5-0.9l5.4-2.3l5.5 3.2l3.6-0.1l3.6-2.6l3.7 1.5l3.6-0.6l4.5-0.9l3.6 1.5l3.7 1.2l4.5 0.9l4.5-2.3l6.4 1.1l2.7 5.8l2.7-0.9l2.7-4.6"/><path d="M443.6 1092.5l3.6 10.9l4.5-11.8l2.8-81.6l2.7-26.3l2.7 3.7l3.6 16.3l4.6-8.2l3.6-0.9l2.3 20.9l4-12.7l2.7-2.7l2.8 5.4l3.6-6.4l3.6 3.7l3.6 10.9l5.5-9.1l4.5 1.8l4.5 3.6l3.7-10.9l3.6 2.8l2.7-5.5l3.6 8.2l4.6-3.6l4.5 3.6l4.5-18.1l2.8-8.2l2.7 50.8l3.6-33.6l2.7 5.5l3.7 9l5.4-4.5l4.5 2.7l2.8 71.6l3.6-4.5l3.1 38.1l3.2-101.6l5.5-0.9l5.4 2.8l5.4-1.9l3.7 2.8l2.1 69.8l3.3-69.8l3.3 67l3.1-90.6l3.2 86.1l3.1-81.6l3.6-5.4l3.7-5.5l3.2 107l3.1-90.6l2.7 2.7l3.6 85.2l3.7-1.8l3.6 2.7l2.7-2.7l2.7-80.7l5.5-7.3l4.5 6.4l3.1 84.3l3.3-83.4l2.7 96.1l4.5 3.6l2.7-10.9l4.6-6.3l5.4-2.7l3.3 0.9l2.1-86.1l3.7-0.9l3.2 113.3l4-79.8l2.7-53.5l2.8 44.4l3.6 2.7l4.5 53.5l3.7-29.9l4.5 31.8l3.2-77.1l3.1 38.1l2.8-84.3l2.7 12.6l4.5-16.3l6.3 10.9l6.4-4.5l3.6 7.2l4.6-4.5l4.5 10l4.5-9.1l2.7 10l3.7-10.9l3.6 9.1l5.4-6.4l5.5-4.5l3.6 11.8l3.6 2.3l3.7 3.1l5.4-8.2l6.3 12.7l4.6 0.9l3.6-11.7l2.9-10l6.3 27.2l6.4 3.6l5.4-4.5l4.1 3.4l4.1 4.7l5.4-1.8l2.8-24.5l3.6-9l3.2 70.7l3.1-41.7l4.6 7.2l3.6 6.4l5.4-0.9l2.7 5.4l3.7-7.2l2.7 1.8l3.3 72.5l3-78l2.8 19.1l3.6-32.7l3.6-7.2l3.1 50.8l3.3-34.5l2.7 0l3.6 69.8l3.3-63.4l3 5.4l2.8-41.7l3.6 19.9l3.6-28.1l4.6 0l4.5 8.2l3.6 12.7l3.6 0l3.7-6.4l2.7 0.9l3.1-13.6l3.2 19.1l3.7-1.1l3.6-0.7l5.4-8.2l3.3-8.1l3.1 11.7l3.6-3.6l3.6 0.9l2.7-10l3.7 9.1l3.6 1.8l2.4-9.9l3 9.9l3.7-0.9l5.4 6.4l3.6-2.8l3.7-12.6l2.7 33.5l3.6-17.2l5.4 8.1l3.7 8.2l3.6-8.2l3.6 6.3l3.6 7.3l5.5-22.6l3.6-3.7l3.6 16.4l3.7-19.1l5.4 18.2l3.6-11.8l3.7 19.9l2.7-17.2l3.6-2.7l4.5 6.3l3.7 1.8l4.5 8.2l3.6-5.5l3.3 11.8l2.2-1.8l3.6-31.7l3.6 37.2l5.5-17.3l5.4 17.3l5.4 3.6l6.4-1.8l6.3-20.9l2.7 13.6l3.7-30.8l6.3 2.7l3.3 28.1l3.1-34.4l3.6 42.6l2.7-0.9l3.6-21.8l5.5-11.8l3.4 18.8l3.5 20.2l3.1-27.2l5.4-0.9l4.5 15.4l6.4-19l5.4 13.6l5.5-4.6l5.4 16.4l3.8-42.6l3.6 9l5.5 69.8l2.7-41.7l4.5 2.7l5.5-17.2l4.5 7.3l4.5 8.1l3.3-3.1l3.4-2.2l3.3-3.7l3.6 19.9l6.4-14.5l4.5 6.4l3.6 1.8l3.7 0.9l4 2.2l4.1 1.4l5.5-9.1l6.3 12.7l3.6-38.1l3.7-9l3.6 34.4l4.5 4.6l4.5 9.9l3.7-6.3l2.7 6.3l3.3 93.4l3-89.7l2.8-8.2l3.6 0.9l3.6 1.8l3.6 11.8l3.7-1.8l2.1 60.7l3.5 3.3l3.4 3.1l3.7-4.5l2.7-61.7l3.6 62.6l2.7-2.8l3.3-70.7l3.1 59.9l5.4-99.8l4.5-6.3l3.7 20.8l3.6 36.3l2.7 0.9l2.7 93.4l3.7-104.3l2.7 19.1l4.5-19.1l2.7 3.7l5.5 84.3l3.6-59.9l3.6-80.7l5.5-2.7l5.4 3.7l5.4 9l2.8-9l2.7 9.9l6.3-9.9l4.6 9.9l2.7-4.5l3.1 45.3l3.2-37.1l2.8 2.7l3.6 15.4l3.6-26.3l4.5 7.2l4.6-9l3.6 1.8l2.7 11.8l3.6-18.2l3.1 37.2l3.3-7.2l3.6-29l5.5 9l3.6 19.1l2.7-5.5l3.6 3.6l6.4-6.3l3.6-16.3l6.3 18.1l3.7-10.8l3.6-10l2.7 18.1l3.3-20l5.8 36.3l2.7-4.5l3.6 2.7l4.6 63.5l5.4-69.8l3.6 9l3.3 76.2l3.1-74.4l6.3 2.8l6.4 9.9l3.1 65.3l2.9-65.3l3.6 78l3.1-84.3l3.6-1.8l3.8-9.1l2.7 82.5l3.6-117.9l5.5 77.1l4.5-26.3l2.7 5.5l3.7 56.2l4.5 29l4.5 3.6l2.8-78l3.6 0l3.6 90.7l2.7-45.3l3.7 0l2.7 20.8l3.6-2.8l3.6-1.7l2.7-45.4l2.8 49l2.7-29l3.6-36.3l3.6-5.4l3.7 65.3l2.7-68l3.6 44.4l5.4-69.8l3.7 10l3.6 67l2.7 37.2l6.4-23.6l3.6 5.5l3.6-1.8l3.6 18.1l3.7-22.7l2.1-75.2l3.3 84.3l2.7 3.6l2.8-81.6l4.5-2.7l3.6 73.5l2.7-1l3.7 4.6l3.6-0.9l1.8-80.7l3.6-4.5l3.7 12.6l3.6-5.4l3.6 2.7l5.4-3.6l6.4 6.3l2.7 69.9l3.6 1.8l5.5-2.8l4.5 0l3.1-42.6l3.3 43.6l3.6 4.5l5.4-2.7l5.5 0.9l4.5-1.8l5.4 4.5l3.7-4.5l5.4 3.6l2.7-2.7l2.7-73.5l2.8 98.9l3.6-14.6l3.6-7.2l4.5-2.7l4.6-10l4.5 6.3l2.7-3.6l5.5 5.5l3.6-4.8l3.6-3.4l5.5 12.7l2.7-101.5l4.5-4.9l4.6 5.8l4.5 14.5l3.6-6.4l3.6 1.4l3.7 2.2l5.4 7.3l4.5-3.6l4.6 8.1l3.6-3.6l3.6 5.4l4.6-9.9l6.3 1.8l4.5 3.6l4.6 8.2l2.7 86.1l2.7-19.9l3.6-68.9l2.8 0.9l3.6 71.6l6.3-10l3.7 2.7l2.7-59.8l3.6 68.9l2.7-6.4l3.6-69.8l4.6-15.4l4.5 4.6l4.4-4.6l5.4-1.8l3.7 5.5l6.3-5.5l3.6 6.4l3.7 79.7l3.6-3.6l2.3-76.1l3.1-6.4l4.6 7.3l5.4-4.6l2.7 86.2l3.7-77.1l5.4-0.9l3.6 2.7l3.6-3.6l4.6 5.4l2.7-7.2l1.8-35.4l3.6-2.7l3.3 49l3.1-51.7l6.3-3.7l6.4 7.3l3.6-8.2l3.6 56.3l2.7-42.7l2.8 3.7l3.6-6.4l4.5 3.6l5.5-2.7l3 10.9l4.2-10l5.5 2.8"/></g>
<g><path d="M325.0 336.1V144.0H2260.9" stroke="#262626"/><path d="M325.0 336.1H2260.9" stroke="#262626"/><path d="M2260.9 143.0V337.1" stroke="#262626"/><path d="M713.5 144.0v19.5M713.5 336.1v-19.5M1100.6 144.0v19.5M1100.6 336.1v-19.5M1487.8 144.0v19.5M1487.8 336.1v-19.5M1875.0 144.0v19.5M1875.0 336.1v-19.5" stroke="#262626"/><path d="M325.0 608.7V415.3H2260.9" stroke="#262626"/><path d="M325.0 608.7H2260.9" stroke="#262626"/><path d="M2260.9 414.3V609.7" stroke="#be0000"/><path d="M325.0 414.3V609.7" stroke="#000"/><path d="M713.5 415.3v19.5M713.5 608.7v-19.5M1100.6 415.3v19.5M1100.6 608.7v-19.5M1487.8 415.3v19.5M1487.8 608.7v-19.5M1875.0 415.3v19.5M1875.0 608.7v-19.5" stroke="#262626"/><path d="M325.0 1150.8V957.8H2260.9" stroke="#262626"/><path d="M325.0 1150.8H2260.9" stroke="#262626"/><path d="M2260.9 956.8V1151.8" stroke="#be0000"/><path d="M325.0 956.8V1151.8" stroke="#000"/><path d="M713.5 957.8v19.5M713.5 1150.8v-19.5M1100.6 957.8v19.5M1100.6 1150.8v-19.5M1487.8 957.8v19.5M1487.8 1150.8v-19.5M1875.0 957.8v19.5M1875.0 1150.8v-19.5" stroke="#262626"/><path d="M325.0 1693.8V1499.8H2260.9" stroke="#262626"/><path d="M325.0 1693.8H2260.9" stroke="#262626"/><path d="M2260.9 1498.8V1694.8" stroke="#262626"/><path d="M713.5 1499.8v19.5M713.5 1693.8v-19.5M1100.6 1499.8v19.5M1100.6 1693.8v-19.5M1487.8 1499.8v19.5M1487.8 1693.8v-19.5M1875.0 1499.8v19.5M1875.0 1693.8v-19.5" stroke="#262626"/></g>
<g stroke="none"><path d="M325.0 161.5h21M2260.9 161.5h-21M325.0 250.3h21" stroke="#262626"/><text x="316.5" y="173.2" text-anchor="end" fill="#262626">10</text><text x="316.5" y="262.0" text-anchor="end" fill="#262626">0</text><text x="316.5" y="351.1" text-anchor="end" fill="#262626">-10</text><text transform="translate(165.5 240.1) rotate(-90)" text-anchor="middle" font-size="36.5" fill="#262626">Wind</text><text transform="translate(209.5 240.1) rotate(-90)" text-anchor="middle" font-size="36.5" fill="#262626">Speed</text><text transform="translate(253.5 240.1) rotate(-90)" text-anchor="middle" font-size="36.5" fill="#262626">(m/s)</text><text x="103.5" y="129.0" font-size="41.6" fill="#000">A</text><path d="M325.0 480.3h21M2260.9 480.3h-21M325.0 545.5h21M2260.9 545.5h-21" stroke="#000"/><text x="316.5" y="492.0" text-anchor="end" fill="#000">2</text><text x="316.5" y="557.2" text-anchor="end" fill="#000">1</text><text x="2271" y="474.8" fill="#be0000">15</text><text x="2271" y="572.8" fill="#be0000">5</text><path d="M2260.9 463.1h-21M2260.9 561.1h-21" stroke="#be0000"/><text transform="translate(2349.5 512.0) rotate(-90)" text-anchor="middle" font-size="36.5" fill="#be0000">Wave</text><text transform="translate(2393.5 512.0) rotate(-90)" text-anchor="middle" font-size="36.5" fill="#be0000">Period</text><text transform="translate(2437.5 512.0) rotate(-90)" text-anchor="middle" font-size="36.5" fill="#be0000">(s)</text><text transform="translate(198 512.0) rotate(-90)" text-anchor="middle" font-size="36.5" fill="#000">Wave</text><text transform="translate(242 512.0) rotate(-90)" text-anchor="middle" font-size="36.5" fill="#000">Height</text><text transform="translate(286 512.0) rotate(-90)" text-anchor="middle" font-size="36.5" fill="#000">[m]</text><text x="103.5" y="395.8" font-size="41.6" fill="#000">B</text><path d="M325.0 746.4h21M325.0 806.6h21M325.0 868.8h21" stroke="#262626"/><text x="316.5" y="758.1" text-anchor="end" fill="#262626">0.15</text><text x="316.5" y="818.3" text-anchor="end" fill="#262626">0.1</text><text x="316.5" y="880.5" text-anchor="end" fill="#262626">0.05</text><text transform="translate(152 782.4) rotate(-90)" text-anchor="middle" font-size="36.5" fill="#262626">Wave</text><text transform="translate(196 782.4) rotate(-90)" text-anchor="middle" font-size="36.5" fill="#262626">Frequency</text><text transform="translate(240 782.4) rotate(-90)" text-anchor="middle" font-size="36.5" fill="#262626">(Hz)</text><text x="103.5" y="664.5" font-size="41.6" fill="#000">C</text><path d="M325.0 1004.8h21M2260.9 1004.8h-21M325.0 1054.3h21M2260.9 1054.3h-21M325.0 1103.4h21M2260.9 1103.4h-21" stroke="#000"/><text x="316.5" y="1016.5" text-anchor="end" fill="#000">0.6</text><text x="316.5" y="1066.0" text-anchor="end" fill="#000">0.4</text><text x="316.5" y="1115.1" text-anchor="end" fill="#000">0.2</text><text x="2271" y="1017.2" fill="#be0000">15</text><text x="2271" y="1115.2" fill="#be0000">5</text><path d="M2260.9 1005.5h-21M2260.9 1103.5h-21" stroke="#be0000"/><text transform="translate(2349.5 1054.3) rotate(-90)" text-anchor="middle" font-size="36.5" fill="#be0000">Wave</text><text transform="translate(2393.5 1054.3) rotate(-90)" text-anchor="middle" font-size="36.5" fill="#be0000">Period</text><text transform="translate(2437.5 1054.3) rotate(-90)" text-anchor="middle" font-size="36.5" fill="#be0000">(s)</text><text transform="translate(171 1054.3) rotate(-90)" text-anchor="middle" font-size="36.5" fill="#000">Wave</text><text transform="translate(215 1054.3) rotate(-90)" text-anchor="middle" font-size="36.5" fill="#000">Height</text><text transform="translate(259 1054.3) rotate(-90)" text-anchor="middle" font-size="36.5" fill="#000">(m)</text><text x="103.5" y="946.2" font-size="41.6" fill="#000">D</text><path d="M325.0 1289.0h21M2260.9 1289.0h-21M325.0 1349.1h21M2260.9 1349.1h-21M325.0 1411.2h21M2260.9 1411.2h-21" stroke="#262626"/><text x="316.5" y="1300.7" text-anchor="end" fill="#262626">0.15</text><text x="316.5" y="1360.8" text-anchor="end" fill="#262626">0.1</text><text x="316.5" y="1422.9" text-anchor="end" fill="#262626">0.05</text><text transform="translate(152 1325.4) rotate(-90)" text-anchor="middle" font-size="36.5" fill="#262626">Wave</text><text transform="translate(196 1325.4) rotate(-90)" text-anchor="middle" font-size="36.5" fill="#262626">Frequency</text><text transform="translate(240 1325.4) rotate(-90)" text-anchor="middle" font-size="36.5" fill="#262626">(Hz)</text><text x="103.5" y="1210.3" font-size="41.6" fill="#000">E</text><path d="M325.0 1547.3h21M2260.9 1547.3h-21M325.0 1645.6h21M2260.9 1645.6h-21" stroke="#262626"/><text x="316.5" y="1559.0" text-anchor="end" fill="#262626">2</text><text x="316.5" y="1657.3" text-anchor="end" fill="#262626">1</text><text transform="translate(198 1596.8) rotate(-90)" text-anchor="middle" font-size="36.5" fill="#262626">Water</text><text transform="translate(242 1596.8) rotate(-90)" text-anchor="middle" font-size="36.5" fill="#262626">Level</text><text transform="translate(286 1596.8) rotate(-90)" text-anchor="middle" font-size="36.5" fill="#262626">(m)</text><text x="103.5" y="1489.9" font-size="41.6" fill="#000">F</text><text x="326.3" y="1735.7" text-anchor="middle" fill="#262626">145</text><text x="713.5" y="1735.7" text-anchor="middle" fill="#262626">150</text><text x="1100.6" y="1735.7" text-anchor="middle" fill="#262626">155</text><text x="1487.8" y="1735.7" text-anchor="middle" fill="#262626">160</text><text x="1875.0" y="1735.7" text-anchor="middle" fill="#262626">165</text><text x="2262.2" y="1735.7" text-anchor="middle" fill="#262626">170</text><text x="1293.5" y="1781" text-anchor="middle" font-size="36.5" fill="#262626">Year Day (2016)</text></g>
</svg></body></html>
